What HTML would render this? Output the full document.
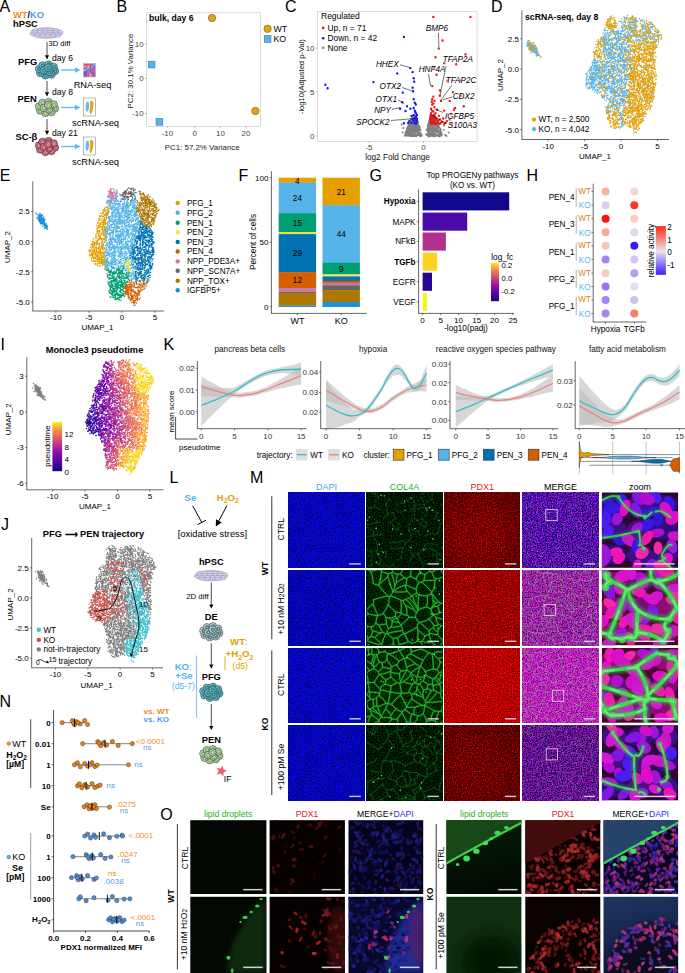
<!DOCTYPE html>
<html><head><meta charset="utf-8"><title>Figure</title>
<style>html,body{margin:0;padding:0;background:#fff}svg{display:block}text{font-family:"Liberation Sans", sans-serif}</style>
</head><body>
<svg width="685" height="973" viewBox="0 0 685 973" font-family='"Liberation Sans", sans-serif'>
<rect width="685" height="973" fill="#fff"/>
<defs>
<linearGradient id="plasmaV" x1="0" y1="0" x2="0" y2="1"><stop offset="0%" stop-color="#f0f921"/><stop offset="10%" stop-color="#fcb131"/><stop offset="20%" stop-color="#f2844b"/><stop offset="30%" stop-color="#e16462"/><stop offset="40%" stop-color="#cc4778"/><stop offset="50%" stop-color="#b12a90"/><stop offset="60%" stop-color="#9411a0"/><stop offset="70%" stop-color="#7805a6"/><stop offset="80%" stop-color="#5801a3"/><stop offset="90%" stop-color="#340497"/><stop offset="100%" stop-color="#0d0887"/></linearGradient>
<linearGradient id="rwb" x1="0" y1="0" x2="0" y2="1"><stop offset="0" stop-color="#ff2a14"/><stop offset="0.52" stop-color="#e8e4e8"/><stop offset="1" stop-color="#3c1cff"/></linearGradient>
<filter id="fd0" x="0" y="0" width="1" height="1" color-interpolation-filters="sRGB"><feTurbulence type="fractalNoise" baseFrequency="0.8" numOctaves="3" seed="3"/><feColorMatrix values="0 0 0 0 0.02  0 0 0 0 0.02  1.7 0 0 0 -0.13  0 0 0 0 1"/></filter><filter id="fd1" x="0" y="0" width="1" height="1" color-interpolation-filters="sRGB"><feTurbulence type="fractalNoise" baseFrequency="0.8" numOctaves="3" seed="4"/><feColorMatrix values="0 0 0 0 0.02  0 0 0 0 0.02  1.7 0 0 0 -0.15  0 0 0 0 1"/></filter><filter id="fd2" x="0" y="0" width="1" height="1" color-interpolation-filters="sRGB"><feTurbulence type="fractalNoise" baseFrequency="0.8" numOctaves="3" seed="5"/><feColorMatrix values="0 0 0 0 0.02  0 0 0 0 0.02  1.7 0 0 0 -0.12  0 0 0 0 1"/></filter><filter id="fd3" x="0" y="0" width="1" height="1" color-interpolation-filters="sRGB"><feTurbulence type="fractalNoise" baseFrequency="0.8" numOctaves="3" seed="6"/><feColorMatrix values="0 0 0 0 0.02  0 0 0 0 0.02  1.7 0 0 0 -0.14  0 0 0 0 1"/></filter><filter id="fp0" x="0" y="0" width="1" height="1" color-interpolation-filters="sRGB"><feTurbulence type="fractalNoise" baseFrequency="0.8" numOctaves="3" seed="13"/><feColorMatrix values="0 1.3 0 0 -0.16  0 0 0 0 0  0 0 0 0 0  0 0 0 0 1"/></filter><filter id="fp1" x="0" y="0" width="1" height="1" color-interpolation-filters="sRGB"><feTurbulence type="fractalNoise" baseFrequency="0.8" numOctaves="3" seed="14"/><feColorMatrix values="0 1.3 0 0 -0.04  0 0 0 0 0  0 0 0 0 0  0 0 0 0 1"/></filter><filter id="fp2" x="0" y="0" width="1" height="1" color-interpolation-filters="sRGB"><feTurbulence type="fractalNoise" baseFrequency="0.8" numOctaves="3" seed="15"/><feColorMatrix values="0 1.3 0 0 0.07  0 0 0 0 0  0 0 0 0 0  0 0 0 0 1"/></filter><filter id="fp3" x="0" y="0" width="1" height="1" color-interpolation-filters="sRGB"><feTurbulence type="fractalNoise" baseFrequency="0.8" numOctaves="3" seed="16"/><feColorMatrix values="0 1.3 0 0 -0.21  0 0 0 0 0  0 0 0 0 0  0 0 0 0 1"/></filter><filter id="fc0" x="0" y="0" width="1" height="1" color-interpolation-filters="sRGB"><feTurbulence type="fractalNoise" baseFrequency="0.8" numOctaves="3" seed="30"/><feColorMatrix values="0 0 0 0 0  0 0 0.6 0 -0.22  0 0 0 0 0.0  0 0 0 0 1"/></filter><filter id="fc1" x="0" y="0" width="1" height="1" color-interpolation-filters="sRGB"><feTurbulence type="fractalNoise" baseFrequency="0.8" numOctaves="3" seed="31"/><feColorMatrix values="0 0 0 0 0  0 0 0.6 0 -0.18  0 0 0 0 0.0  0 0 0 0 1"/></filter><filter id="fc2" x="0" y="0" width="1" height="1" color-interpolation-filters="sRGB"><feTurbulence type="fractalNoise" baseFrequency="0.8" numOctaves="3" seed="32"/><feColorMatrix values="0 0 0 0 0  0 0 0.6 0 -0.16  0 0 0 0 0.0  0 0 0 0 1"/></filter><filter id="fc3" x="0" y="0" width="1" height="1" color-interpolation-filters="sRGB"><feTurbulence type="fractalNoise" baseFrequency="0.8" numOctaves="3" seed="33"/><feColorMatrix values="0 0 0 0 0  0 0 0.6 0 -0.22  0 0 0 0 0.0  0 0 0 0 1"/></filter><filter id="fm0" x="0" y="0" width="1" height="1" color-interpolation-filters="sRGB"><feTurbulence type="fractalNoise" baseFrequency="0.8" numOctaves="3" seed="40"/><feColorMatrix values="1.3 0.7 0 0 -0.67  0.3 0 0 0 -0.09  1.3 0 0.7 0 -0.35  0 0 0 0 1"/></filter><filter id="fm1" x="0" y="0" width="1" height="1" color-interpolation-filters="sRGB"><feTurbulence type="fractalNoise" baseFrequency="0.8" numOctaves="3" seed="41"/><feColorMatrix values="1.3 0.7 0 0 -0.41  0.3 0 0 0 -0.02  1.3 0 0.7 0 -0.37  0 0 0 0 1"/></filter><filter id="fm2" x="0" y="0" width="1" height="1" color-interpolation-filters="sRGB"><feTurbulence type="fractalNoise" baseFrequency="0.8" numOctaves="3" seed="42"/><feColorMatrix values="1.3 0.7 0 0 -0.28  0.3 0 0 0 -0.04  1.3 0 0.7 0 -0.28  0 0 0 0 1"/></filter><filter id="fm3" x="0" y="0" width="1" height="1" color-interpolation-filters="sRGB"><feTurbulence type="fractalNoise" baseFrequency="0.8" numOctaves="3" seed="43"/><feColorMatrix values="1.3 0.7 0 0 -0.62  0.3 0 0 0 -0.09  1.3 0 0.7 0 -0.44  0 0 0 0 1"/></filter><filter id="bl1"><feGaussianBlur stdDeviation="0.7"/></filter><filter id="bl5" x="-0.2" y="-0.2" width="1.4" height="1.4"><feGaussianBlur stdDeviation="1.6"/></filter><filter id="bl2"><feGaussianBlur stdDeviation="0.7"/></filter><radialGradient id="vig" cx="0.45" cy="0.55" r="0.75"><stop offset="0.3" stop-color="#000" stop-opacity="0"/><stop offset="1" stop-color="#000" stop-opacity="0.9"/></radialGradient>
<filter id="bl0"><feGaussianBlur stdDeviation="0.5"/></filter><filter id="bl3" x="-0.3" y="-0.3" width="1.6" height="1.6"><feGaussianBlur stdDeviation="3"/></filter><filter id="bl4" x="-0.5" y="-0.5" width="2" height="2"><feGaussianBlur stdDeviation="8"/></filter><linearGradient id="gko1" x1="0" y1="0" x2="0.3" y2="1"><stop offset="0" stop-color="#08200a"/><stop offset="1" stop-color="#020b02"/></linearGradient><linearGradient id="gko2" x1="0" y1="0" x2="0.2" y2="1"><stop offset="0" stop-color="#1c3660"/><stop offset="0.6" stop-color="#16264e"/><stop offset="1" stop-color="#101838"/></linearGradient>
</defs>
<g><text x="-0.5" y="12" font-size="16">A</text><text x="13" y="18" font-size="9.3" font-weight="bold"><tspan fill="#f28c1a">WT</tspan><tspan fill="#000">/</tspan><tspan fill="#4f9df0">KO</tspan></text><text x="13" y="27.3" font-size="9.3" font-weight="bold">hPSC</text><ellipse cx="46.5" cy="33" rx="16.5" ry="5.4" fill="#cdc6e4" stroke="#8d86ab" stroke-width="0.4"/><ellipse cx="34.9" cy="29.8" rx="2.6" ry="1.1" fill="#dcd6ee" stroke="#7d76a0" stroke-width="0.35"/><ellipse cx="40.1" cy="29.8" rx="2.6" ry="1.1" fill="#dcd6ee" stroke="#7d76a0" stroke-width="0.35"/><ellipse cx="45.3" cy="29.8" rx="2.6" ry="1.1" fill="#dcd6ee" stroke="#7d76a0" stroke-width="0.35"/><ellipse cx="50.5" cy="29.8" rx="2.6" ry="1.1" fill="#dcd6ee" stroke="#7d76a0" stroke-width="0.35"/><ellipse cx="55.7" cy="29.8" rx="2.6" ry="1.1" fill="#dcd6ee" stroke="#7d76a0" stroke-width="0.35"/><ellipse cx="34.7" cy="31.9" rx="2.6" ry="1.1" fill="#dcd6ee" stroke="#7d76a0" stroke-width="0.35"/><ellipse cx="39.9" cy="31.9" rx="2.6" ry="1.1" fill="#dcd6ee" stroke="#7d76a0" stroke-width="0.35"/><ellipse cx="45.1" cy="31.9" rx="2.6" ry="1.1" fill="#dcd6ee" stroke="#7d76a0" stroke-width="0.35"/><ellipse cx="50.3" cy="31.9" rx="2.6" ry="1.1" fill="#dcd6ee" stroke="#7d76a0" stroke-width="0.35"/><ellipse cx="55.5" cy="31.9" rx="2.6" ry="1.1" fill="#dcd6ee" stroke="#7d76a0" stroke-width="0.35"/><ellipse cx="60.7" cy="31.9" rx="2.6" ry="1.1" fill="#dcd6ee" stroke="#7d76a0" stroke-width="0.35"/><ellipse cx="32.3" cy="34.1" rx="2.6" ry="1.1" fill="#dcd6ee" stroke="#7d76a0" stroke-width="0.35"/><ellipse cx="37.5" cy="34.1" rx="2.6" ry="1.1" fill="#dcd6ee" stroke="#7d76a0" stroke-width="0.35"/><ellipse cx="42.7" cy="34.1" rx="2.6" ry="1.1" fill="#dcd6ee" stroke="#7d76a0" stroke-width="0.35"/><ellipse cx="47.9" cy="34.1" rx="2.6" ry="1.1" fill="#dcd6ee" stroke="#7d76a0" stroke-width="0.35"/><ellipse cx="53.1" cy="34.1" rx="2.6" ry="1.1" fill="#dcd6ee" stroke="#7d76a0" stroke-width="0.35"/><ellipse cx="58.3" cy="34.1" rx="2.6" ry="1.1" fill="#dcd6ee" stroke="#7d76a0" stroke-width="0.35"/><ellipse cx="37.3" cy="36.2" rx="2.6" ry="1.1" fill="#dcd6ee" stroke="#7d76a0" stroke-width="0.35"/><ellipse cx="42.5" cy="36.2" rx="2.6" ry="1.1" fill="#dcd6ee" stroke="#7d76a0" stroke-width="0.35"/><ellipse cx="47.7" cy="36.2" rx="2.6" ry="1.1" fill="#dcd6ee" stroke="#7d76a0" stroke-width="0.35"/><ellipse cx="52.9" cy="36.2" rx="2.6" ry="1.1" fill="#dcd6ee" stroke="#7d76a0" stroke-width="0.35"/><ellipse cx="58.1" cy="36.2" rx="2.6" ry="1.1" fill="#dcd6ee" stroke="#7d76a0" stroke-width="0.35"/><line x1="47" y1="42" x2="47" y2="55.3" stroke="#000" stroke-width="0.7"/><path d="M47 59.5L44.9 55.3L49.1 55.3Z" fill="#000"/><text x="48.5" y="45.8" font-size="7.6">3D diff</text><text x="18" y="64.8" font-size="9.3" font-weight="bold">PFG</text><text x="52" y="60.8" font-size="8.6">day 6</text><circle cx="55" cy="71.1" r="3.7" fill="#62c0cd" stroke="#222" stroke-width="0.5"/><circle cx="55.3" cy="71.3" r="1.9" fill="#3a98a6" stroke="#222" stroke-width="0.3"/><circle cx="55.3" cy="71.3" r="0.7" fill="#62c0cd"/><circle cx="51.5" cy="74.6" r="3.7" fill="#62c0cd" stroke="#222" stroke-width="0.5"/><circle cx="51.8" cy="74.8" r="1.9" fill="#3a98a6" stroke="#222" stroke-width="0.3"/><circle cx="51.8" cy="74.8" r="0.7" fill="#62c0cd"/><circle cx="45.4" cy="75.5" r="3.7" fill="#62c0cd" stroke="#222" stroke-width="0.5"/><circle cx="45.7" cy="75.7" r="1.9" fill="#3a98a6" stroke="#222" stroke-width="0.3"/><circle cx="45.7" cy="75.7" r="0.7" fill="#62c0cd"/><circle cx="40.2" cy="73.1" r="3.7" fill="#62c0cd" stroke="#222" stroke-width="0.5"/><circle cx="40.5" cy="73.3" r="1.9" fill="#3a98a6" stroke="#222" stroke-width="0.3"/><circle cx="40.5" cy="73.3" r="0.7" fill="#62c0cd"/><circle cx="39" cy="68.9" r="3.7" fill="#62c0cd" stroke="#222" stroke-width="0.5"/><circle cx="39.3" cy="69.1" r="1.9" fill="#3a98a6" stroke="#222" stroke-width="0.3"/><circle cx="39.3" cy="69.1" r="0.7" fill="#62c0cd"/><circle cx="42.5" cy="65.4" r="3.7" fill="#62c0cd" stroke="#222" stroke-width="0.5"/><circle cx="42.8" cy="65.6" r="1.9" fill="#3a98a6" stroke="#222" stroke-width="0.3"/><circle cx="42.8" cy="65.6" r="0.7" fill="#62c0cd"/><circle cx="48.6" cy="64.5" r="3.7" fill="#62c0cd" stroke="#222" stroke-width="0.5"/><circle cx="48.9" cy="64.7" r="1.9" fill="#3a98a6" stroke="#222" stroke-width="0.3"/><circle cx="48.9" cy="64.7" r="0.7" fill="#62c0cd"/><circle cx="53.8" cy="66.9" r="3.7" fill="#62c0cd" stroke="#222" stroke-width="0.5"/><circle cx="54.1" cy="67.1" r="1.9" fill="#3a98a6" stroke="#222" stroke-width="0.3"/><circle cx="54.1" cy="67.1" r="0.7" fill="#62c0cd"/><circle cx="49" cy="71.9" r="3.7" fill="#62c0cd" stroke="#222" stroke-width="0.5"/><circle cx="49.3" cy="72.1" r="1.9" fill="#3a98a6" stroke="#222" stroke-width="0.3"/><circle cx="49.3" cy="72.1" r="0.7" fill="#62c0cd"/><circle cx="43.8" cy="70.4" r="3.7" fill="#62c0cd" stroke="#222" stroke-width="0.5"/><circle cx="44.1" cy="70.6" r="1.9" fill="#3a98a6" stroke="#222" stroke-width="0.3"/><circle cx="44.1" cy="70.6" r="0.7" fill="#62c0cd"/><circle cx="48.2" cy="67.7" r="3.7" fill="#62c0cd" stroke="#222" stroke-width="0.5"/><circle cx="48.5" cy="67.9" r="1.9" fill="#3a98a6" stroke="#222" stroke-width="0.3"/><circle cx="48.5" cy="67.9" r="0.7" fill="#62c0cd"/><line x1="61" y1="70" x2="75" y2="70" stroke="#5bbde8" stroke-width="1.3"/><path d="M80.5 70L75 72.8L75 67.2Z" fill="#5bbde8"/><rect x="83.5" y="63.5" width="12" height="13.5" fill="#f4a0a8" stroke="#888" stroke-width="0.4"/><rect x="84" y="64" width="1.9" height="1.8" fill="#e84a5a"/><rect x="84" y="65.8" width="1.9" height="1.8" fill="#f0b0c0"/><rect x="84" y="67.6" width="1.9" height="1.8" fill="#4a5ae0"/><rect x="84" y="69.4" width="1.9" height="1.8" fill="#f0b0c0"/><rect x="84" y="71.2" width="1.9" height="1.8" fill="#4a5ae0"/><rect x="84" y="73" width="1.9" height="1.8" fill="#4a5ae0"/><rect x="84" y="74.8" width="1.9" height="1.8" fill="#4a5ae0"/><rect x="85.8" y="64" width="1.9" height="1.8" fill="#e84a5a"/><rect x="85.8" y="65.8" width="1.9" height="1.8" fill="#e84a5a"/><rect x="85.8" y="67.6" width="1.9" height="1.8" fill="#8a9af0"/><rect x="85.8" y="69.4" width="1.9" height="1.8" fill="#5a6ae8"/><rect x="85.8" y="71.2" width="1.9" height="1.8" fill="#4a5ae0"/><rect x="85.8" y="73" width="1.9" height="1.8" fill="#e84a5a"/><rect x="85.8" y="74.8" width="1.9" height="1.8" fill="#5a6ae8"/><rect x="87.7" y="64" width="1.9" height="1.8" fill="#e84a5a"/><rect x="87.7" y="65.8" width="1.9" height="1.8" fill="#f0b0c0"/><rect x="87.7" y="67.6" width="1.9" height="1.8" fill="#8a9af0"/><rect x="87.7" y="69.4" width="1.9" height="1.8" fill="#5a6ae8"/><rect x="87.7" y="71.2" width="1.9" height="1.8" fill="#8a9af0"/><rect x="87.7" y="73" width="1.9" height="1.8" fill="#e84a5a"/><rect x="87.7" y="74.8" width="1.9" height="1.8" fill="#e84a5a"/><rect x="89.5" y="64" width="1.9" height="1.8" fill="#e84a5a"/><rect x="89.5" y="65.8" width="1.9" height="1.8" fill="#5a6ae8"/><rect x="89.5" y="67.6" width="1.9" height="1.8" fill="#e84a5a"/><rect x="89.5" y="69.4" width="1.9" height="1.8" fill="#4a5ae0"/><rect x="89.5" y="71.2" width="1.9" height="1.8" fill="#5a6ae8"/><rect x="89.5" y="73" width="1.9" height="1.8" fill="#8a9af0"/><rect x="89.5" y="74.8" width="1.9" height="1.8" fill="#f0b0c0"/><rect x="91.4" y="64" width="1.9" height="1.8" fill="#5a6ae8"/><rect x="91.4" y="65.8" width="1.9" height="1.8" fill="#8a9af0"/><rect x="91.4" y="67.6" width="1.9" height="1.8" fill="#5a6ae8"/><rect x="91.4" y="69.4" width="1.9" height="1.8" fill="#e84a5a"/><rect x="91.4" y="71.2" width="1.9" height="1.8" fill="#5a6ae8"/><rect x="91.4" y="73" width="1.9" height="1.8" fill="#e84a5a"/><rect x="91.4" y="74.8" width="1.9" height="1.8" fill="#e84a5a"/><rect x="93.2" y="64" width="1.9" height="1.8" fill="#8a9af0"/><rect x="93.2" y="65.8" width="1.9" height="1.8" fill="#5a6ae8"/><rect x="93.2" y="67.6" width="1.9" height="1.8" fill="#5a6ae8"/><rect x="93.2" y="69.4" width="1.9" height="1.8" fill="#e84a5a"/><rect x="93.2" y="71.2" width="1.9" height="1.8" fill="#e84a5a"/><rect x="93.2" y="73" width="1.9" height="1.8" fill="#5a6ae8"/><rect x="93.2" y="74.8" width="1.9" height="1.8" fill="#5a6ae8"/><text x="92.5" y="87.5" font-size="9.3" text-anchor="middle">RNA-seq</text><line x1="47" y1="81" x2="47" y2="92.3" stroke="#000" stroke-width="0.7"/><path d="M47 96.5L44.9 92.3L49.1 92.3Z" fill="#000"/><text x="52" y="94.6" font-size="8.6">day 8</text><text x="17.5" y="102" font-size="9.3" font-weight="bold">PEN</text><circle cx="55" cy="108.6" r="3.7" fill="#a6d9b2" stroke="#222" stroke-width="0.5"/><circle cx="55.3" cy="108.8" r="1.9" fill="#c9cf7a" stroke="#222" stroke-width="0.3"/><circle cx="55.3" cy="108.8" r="0.7" fill="#a6d9b2"/><circle cx="51.5" cy="112.1" r="3.7" fill="#a6d9b2" stroke="#222" stroke-width="0.5"/><circle cx="51.8" cy="112.3" r="1.9" fill="#c9cf7a" stroke="#222" stroke-width="0.3"/><circle cx="51.8" cy="112.3" r="0.7" fill="#a6d9b2"/><circle cx="45.4" cy="113" r="3.7" fill="#a6d9b2" stroke="#222" stroke-width="0.5"/><circle cx="45.7" cy="113.2" r="1.9" fill="#c9cf7a" stroke="#222" stroke-width="0.3"/><circle cx="45.7" cy="113.2" r="0.7" fill="#a6d9b2"/><circle cx="40.2" cy="110.6" r="3.7" fill="#a6d9b2" stroke="#222" stroke-width="0.5"/><circle cx="40.5" cy="110.8" r="1.9" fill="#c9cf7a" stroke="#222" stroke-width="0.3"/><circle cx="40.5" cy="110.8" r="0.7" fill="#a6d9b2"/><circle cx="39" cy="106.4" r="3.7" fill="#a6d9b2" stroke="#222" stroke-width="0.5"/><circle cx="39.3" cy="106.6" r="1.9" fill="#c9cf7a" stroke="#222" stroke-width="0.3"/><circle cx="39.3" cy="106.6" r="0.7" fill="#a6d9b2"/><circle cx="42.5" cy="102.9" r="3.7" fill="#a6d9b2" stroke="#222" stroke-width="0.5"/><circle cx="42.8" cy="103.1" r="1.9" fill="#c9cf7a" stroke="#222" stroke-width="0.3"/><circle cx="42.8" cy="103.1" r="0.7" fill="#a6d9b2"/><circle cx="48.6" cy="102" r="3.7" fill="#a6d9b2" stroke="#222" stroke-width="0.5"/><circle cx="48.9" cy="102.2" r="1.9" fill="#c9cf7a" stroke="#222" stroke-width="0.3"/><circle cx="48.9" cy="102.2" r="0.7" fill="#a6d9b2"/><circle cx="53.8" cy="104.4" r="3.7" fill="#a6d9b2" stroke="#222" stroke-width="0.5"/><circle cx="54.1" cy="104.6" r="1.9" fill="#c9cf7a" stroke="#222" stroke-width="0.3"/><circle cx="54.1" cy="104.6" r="0.7" fill="#a6d9b2"/><circle cx="49" cy="109.4" r="3.7" fill="#a6d9b2" stroke="#222" stroke-width="0.5"/><circle cx="49.3" cy="109.6" r="1.9" fill="#c9cf7a" stroke="#222" stroke-width="0.3"/><circle cx="49.3" cy="109.6" r="0.7" fill="#a6d9b2"/><circle cx="43.8" cy="107.9" r="3.7" fill="#a6d9b2" stroke="#222" stroke-width="0.5"/><circle cx="44.1" cy="108.1" r="1.9" fill="#c9cf7a" stroke="#222" stroke-width="0.3"/><circle cx="44.1" cy="108.1" r="0.7" fill="#a6d9b2"/><circle cx="48.2" cy="105.2" r="3.7" fill="#a6d9b2" stroke="#222" stroke-width="0.5"/><circle cx="48.5" cy="105.4" r="1.9" fill="#c9cf7a" stroke="#222" stroke-width="0.3"/><circle cx="48.5" cy="105.4" r="0.7" fill="#a6d9b2"/><line x1="61" y1="107.5" x2="75" y2="107.5" stroke="#5bbde8" stroke-width="1.3"/><path d="M80.5 107.5L75 110.2L75 104.8Z" fill="#5bbde8"/><rect x="83.5" y="98" width="12" height="18" fill="#fff" stroke="#777" stroke-width="0.5"/><path d="M86 103 q2 -3 3 0 q1 4 -1 8 q-2 2 -2.5 -2z" fill="#6bbce8"/><path d="M90 101.5 q3 -2 3.5 2 q0 6 -2 10 q-2 2 -2 -3 q1 -4 0.5 -9z" fill="#e3a62a"/><text x="95.5" y="125.6" font-size="9.3" text-anchor="middle">scRNA-seq</text><line x1="47" y1="119" x2="47" y2="130.8" stroke="#000" stroke-width="0.7"/><path d="M47 135L44.9 130.8L49.1 130.8Z" fill="#000"/><text x="52" y="135.6" font-size="8.6">day 21</text><text x="15.5" y="140" font-size="9.3" font-weight="bold">SC-β</text><circle cx="55" cy="147.6" r="3.7" fill="#d6677f" stroke="#222" stroke-width="0.5"/><circle cx="55.3" cy="147.8" r="1.9" fill="#e899a8" stroke="#222" stroke-width="0.3"/><circle cx="55.3" cy="147.8" r="0.7" fill="#d6677f"/><circle cx="51.5" cy="151.1" r="3.7" fill="#d6677f" stroke="#222" stroke-width="0.5"/><circle cx="51.8" cy="151.3" r="1.9" fill="#e899a8" stroke="#222" stroke-width="0.3"/><circle cx="51.8" cy="151.3" r="0.7" fill="#d6677f"/><circle cx="45.4" cy="152" r="3.7" fill="#d6677f" stroke="#222" stroke-width="0.5"/><circle cx="45.7" cy="152.2" r="1.9" fill="#e899a8" stroke="#222" stroke-width="0.3"/><circle cx="45.7" cy="152.2" r="0.7" fill="#d6677f"/><circle cx="40.2" cy="149.6" r="3.7" fill="#d6677f" stroke="#222" stroke-width="0.5"/><circle cx="40.5" cy="149.8" r="1.9" fill="#e899a8" stroke="#222" stroke-width="0.3"/><circle cx="40.5" cy="149.8" r="0.7" fill="#d6677f"/><circle cx="39" cy="145.4" r="3.7" fill="#d6677f" stroke="#222" stroke-width="0.5"/><circle cx="39.3" cy="145.6" r="1.9" fill="#e899a8" stroke="#222" stroke-width="0.3"/><circle cx="39.3" cy="145.6" r="0.7" fill="#d6677f"/><circle cx="42.5" cy="141.9" r="3.7" fill="#d6677f" stroke="#222" stroke-width="0.5"/><circle cx="42.8" cy="142.1" r="1.9" fill="#e899a8" stroke="#222" stroke-width="0.3"/><circle cx="42.8" cy="142.1" r="0.7" fill="#d6677f"/><circle cx="48.6" cy="141" r="3.7" fill="#d6677f" stroke="#222" stroke-width="0.5"/><circle cx="48.9" cy="141.2" r="1.9" fill="#e899a8" stroke="#222" stroke-width="0.3"/><circle cx="48.9" cy="141.2" r="0.7" fill="#d6677f"/><circle cx="53.8" cy="143.4" r="3.7" fill="#d6677f" stroke="#222" stroke-width="0.5"/><circle cx="54.1" cy="143.6" r="1.9" fill="#e899a8" stroke="#222" stroke-width="0.3"/><circle cx="54.1" cy="143.6" r="0.7" fill="#d6677f"/><circle cx="49" cy="148.4" r="3.7" fill="#d6677f" stroke="#222" stroke-width="0.5"/><circle cx="49.3" cy="148.6" r="1.9" fill="#e899a8" stroke="#222" stroke-width="0.3"/><circle cx="49.3" cy="148.6" r="0.7" fill="#d6677f"/><circle cx="43.8" cy="146.9" r="3.7" fill="#d6677f" stroke="#222" stroke-width="0.5"/><circle cx="44.1" cy="147.1" r="1.9" fill="#e899a8" stroke="#222" stroke-width="0.3"/><circle cx="44.1" cy="147.1" r="0.7" fill="#d6677f"/><circle cx="48.2" cy="144.2" r="3.7" fill="#d6677f" stroke="#222" stroke-width="0.5"/><circle cx="48.5" cy="144.4" r="1.9" fill="#e899a8" stroke="#222" stroke-width="0.3"/><circle cx="48.5" cy="144.4" r="0.7" fill="#d6677f"/><line x1="61" y1="146.5" x2="75" y2="146.5" stroke="#5bbde8" stroke-width="1.3"/><path d="M80.5 146.5L75 149.2L75 143.8Z" fill="#5bbde8"/><rect x="83.5" y="137" width="12" height="18" fill="#fff" stroke="#777" stroke-width="0.5"/><path d="M86 142 q2 -3 3 0 q1 4 -1 8 q-2 2 -2.5 -2z" fill="#6bbce8"/><path d="M90 140.5 q3 -2 3.5 2 q0 6 -2 10 q-2 2 -2 -3 q1 -4 0.5 -9z" fill="#e3a62a"/><text x="95.5" y="164.8" font-size="9.3" text-anchor="middle">scRNA-seq</text></g>
<g><text x="116.5" y="12" font-size="16">B</text><rect x="146.6" y="12.8" width="114" height="113.7" fill="#fff" stroke="#c4c4c4" stroke-width="0.6"/><text x="149" y="21.3" font-size="8.6" font-weight="bold">bulk, day 6</text><text x="143.6" y="46.6" font-size="7.9" text-anchor="end" fill="#444">10</text><line x1="145" y1="43.8" x2="146.6" y2="43.8" stroke="#555" stroke-width="0.4"/><text x="143.6" y="81.3" font-size="7.9" text-anchor="end" fill="#444">0</text><line x1="145" y1="78.5" x2="146.6" y2="78.5" stroke="#555" stroke-width="0.4"/><text x="143.6" y="116.3" font-size="7.9" text-anchor="end" fill="#444">-10</text><line x1="145" y1="113.5" x2="146.6" y2="113.5" stroke="#555" stroke-width="0.4"/><text x="167.4" y="135.6" font-size="7.9" text-anchor="middle" fill="#444">-10</text><line x1="167.4" y1="126.5" x2="167.4" y2="128" stroke="#555" stroke-width="0.4"/><text x="194.6" y="135.6" font-size="7.9" text-anchor="middle" fill="#444">0</text><line x1="194.6" y1="126.5" x2="194.6" y2="128" stroke="#555" stroke-width="0.4"/><text x="220.4" y="135.6" font-size="7.9" text-anchor="middle" fill="#444">10</text><line x1="220.4" y1="126.5" x2="220.4" y2="128" stroke="#555" stroke-width="0.4"/><text x="246" y="135.6" font-size="7.9" text-anchor="middle" fill="#444">20</text><line x1="246" y1="126.5" x2="246" y2="128" stroke="#555" stroke-width="0.4"/><text x="202.2" y="149.8" font-size="7.9" text-anchor="middle" fill="#222">PC1: 57.2% Variance</text><text x="132.8" y="71" font-size="7.9" text-anchor="middle" fill="#222" transform="rotate(-90 132.8 71)">PC2: 30.1% Variance</text><circle cx="212" cy="18" r="3.7" fill="#e3a21a" stroke="#6b4a08" stroke-width="0.5"/><circle cx="255.4" cy="111" r="3.7" fill="#e3a21a" stroke="#6b4a08" stroke-width="0.5"/><rect x="148.2" y="61.2" width="6.8" height="6.8" fill="#56b4e9" stroke="#2c6f99" stroke-width="0.5"/><rect x="156" y="118.4" width="6.8" height="6.8" fill="#56b4e9" stroke="#2c6f99" stroke-width="0.5"/><circle cx="267.6" cy="28.8" r="3.7" fill="#e3a21a" stroke="#6b4a08" stroke-width="0.5"/><text x="273.5" y="32" font-size="8.8">WT</text><rect x="264.2" y="35.6" width="6.8" height="6.8" fill="#56b4e9" stroke="#2c6f99" stroke-width="0.5"/><text x="273.5" y="42.2" font-size="8.8">KO</text></g>
<g><text x="285" y="12" font-size="16">C</text><rect x="317.4" y="11.6" width="159.7" height="130" fill="#fff" stroke="#c4c4c4" stroke-width="0.6"/><text x="314.5" y="51.2" font-size="7.9" text-anchor="end" fill="#444">10</text><line x1="316" y1="48.4" x2="317.4" y2="48.4" stroke="#555" stroke-width="0.4"/><text x="314.5" y="94.8" font-size="7.9" text-anchor="end" fill="#444">5</text><line x1="316" y1="92" x2="317.4" y2="92" stroke="#555" stroke-width="0.4"/><text x="314.5" y="138.8" font-size="7.9" text-anchor="end" fill="#444">0</text><line x1="316" y1="136" x2="317.4" y2="136" stroke="#555" stroke-width="0.4"/><text x="368.9" y="150.3" font-size="7.9" text-anchor="middle" fill="#444">-5</text><line x1="368.9" y1="141.6" x2="368.9" y2="143" stroke="#555" stroke-width="0.4"/><text x="423.5" y="150.3" font-size="7.9" text-anchor="middle" fill="#444">0</text><line x1="423.5" y1="141.6" x2="423.5" y2="143" stroke="#555" stroke-width="0.4"/><text x="397.5" y="160" font-size="8.2" text-anchor="middle" fill="#111">log2 Fold Change</text><text x="304.2" y="76.6" font-size="7.6" text-anchor="middle" fill="#111" transform="rotate(-90 304.2 76.6)">-log10(Adjusted p-Val)</text><path d="M411.1 124.1h0M407.6 129.1h0M410.1 136.1h0M411.3 130.6h0M416.3 130.9h0M415.2 134.7h0M407.3 128.4h0M408.5 130.5h0M407.8 135h0M411.4 118.8h0M408.5 126.3h0M412.2 129.9h0M412.1 126.9h0M412.2 130.2h0M415.5 134.7h0M413.4 122h0M418.5 125.5h0M411.1 132.7h0M413.7 131.9h0M420.4 133.9h0M413.2 119.5h0M414 116.6h0M410.8 119.1h0M406.6 130.9h0M421.4 135h0M410.8 127.6h0M409.4 135.6h0M413.9 136.2h0M415.7 120.1h0M411.8 132.4h0M416.7 120.4h0M411.7 126.1h0M409.2 124.5h0M414.7 132.4h0M412.3 126.5h0M406.8 135.7h0M416 117.4h0M421.7 135.8h0M409.4 135.3h0M414.6 128.1h0M409 125.5h0M409.4 132.9h0M412.6 123.8h0M415.3 118.9h0M416.1 127.3h0M412.1 115.9h0M414.4 125h0M408.9 126h0M411.4 121.6h0M411.5 131h0M417.8 121.5h0M408.7 124.1h0M413.7 131.7h0M418.6 126.5h0M411.9 121.2h0M413.3 118.9h0M414.1 134.1h0M411.3 134.7h0M408 135.5h0M411.1 131.5h0M416.7 125.2h0M411 125.5h0M411.5 132.5h0M417.3 125.1h0M414 126.8h0M405.9 131.7h0M418.6 134.1h0M410.2 125.1h0M410.5 124.5h0M418.2 129.6h0M415 119.2h0M415.5 136.1h0M413.5 135.4h0M411.9 135.2h0M418 129.9h0M405.4 135h0M414.5 126.2h0M418.5 124.9h0M412.1 128.2h0M406.8 133.6h0M420.5 130.2h0M416.6 123.2h0M407 134.4h0M412.2 120.5h0M407.1 129.1h0M415 133h0M418.3 133.6h0M416.3 126.8h0M413.6 127.7h0M418.2 127.7h0M419.4 127.1h0M411.5 122.9h0M407.2 134.5h0M412.5 118h0M419.4 128.3h0M420.4 132.9h0M418.6 132.4h0M411.9 126.2h0M405.3 133.8h0M411.1 131.2h0M413.1 119.2h0M411.1 129.7h0M416.1 123.2h0M410.1 132.7h0M416.5 130.2h0M414.3 123.6h0M407.1 129.9h0M416.1 129h0M406.9 129.1h0M408 126.9h0M415.6 128.3h0M413.9 131.6h0M409.4 134.2h0M410.9 126.7h0M407.4 131h0M410 133.4h0M419.8 134.7h0M419 128.5h0M420.1 136.1h0M417.3 120.8h0M408.1 127.3h0M417.7 124.4h0M407.1 130.5h0M418.1 125.3h0M413.3 122.6h0M411.7 125.2h0M409.5 127.1h0M416.5 135.1h0M408.8 125.7h0M415.9 126.9h0M413.1 134.8h0M412.6 118.5h0M413.5 129.2h0M416.6 134.9h0M419.5 127.8h0M416 124.4h0M411.8 121.2h0M405.8 133.9h0M421.3 134.5h0M412.6 129h0M411 130.8h0M412.9 129.2h0M414.7 121h0M413.7 117.1h0M407.3 129.6h0M414.8 123.2h0M413.1 124.7h0M412.6 122.5h0M410.9 132.8h0M414.2 117.2h0M409.6 128.9h0M414.3 122.3h0M410.6 130.3h0M418.2 131.2h0M419.3 129.3h0M420.5 134.6h0M412.9 130.3h0M418.2 128.3h0M412.3 128.1h0M411.1 123.2h0M410.3 131.5h0M412.3 125.2h0M416 125.7h0M418.9 134.7h0M414.7 136h0M411 130.1h0M418 132.7h0M416.5 127.2h0M419.3 130.7h0M416.1 126.2h0M409.7 131.5h0M414.9 119.3h0M419.8 127.1h0M415.3 128.1h0M412.3 135.5h0M412.4 119.8h0M416.8 124.5h0M414.9 132.6h0M410.4 120.4h0M413.3 134.2h0M417.3 126.3h0M409.8 122.4h0M419.2 127.7h0M416.7 130.3h0M414.2 120.3h0M411.2 125.1h0M418.1 122.6h0M414.7 116.5h0M409.2 124.2h0M416 127.8h0M411.4 130.9h0M419.3 130.7h0M416.2 119.2h0M410.1 121.5h0M418.4 129.6h0M413.2 130.4h0M416.6 132.2h0M406.4 134.8h0M408.3 125.6h0M413.8 124.2h0M408.8 127.4h0M411.1 136.1h0M408.5 135.4h0M415.1 118.8h0M416.8 135.8h0M418.5 129h0M415 127h0M410.8 133.9h0M416.6 136h0M412.8 124.8h0M418.2 130.2h0M405.9 134.9h0M407 132h0M408.5 134.6h0M416 124h0M419.1 127.5h0M417.8 129.7h0M407.6 128.4h0M408 133h0M417.6 126.1h0M419.7 128.7h0M416.5 118.3h0M412.5 126.6h0M414.6 120.1h0M411.1 127.8h0M419 130.9h0M413.7 117h0M414.9 120.9h0M413.4 117.2h0M418.2 134h0M408.5 132.1h0M412 121.3h0M411.6 120.3h0M420.8 136.1h0M417.2 128.8h0M411 133.4h0M408.9 133.6h0M417.9 131.7h0M416.1 126.6h0M413.1 122.5h0M415.1 115.9h0M421.5 134.9h0M420.3 129.7h0M415.4 119.7h0M420 133.3h0M407.3 127.7h0M412.1 127.5h0M409.5 126.9h0M410.4 120.8h0M413.8 116.9h0M408.6 125.1h0M415.7 124.2h0M409 134.3h0M420.1 135.1h0M412.4 125.6h0M420.1 136.2h0M410 123.6h0M407 130.2h0M416.8 124.7h0M419.4 129.2h0M418.3 126.1h0M412.6 134h0M418.5 128.9h0M418.4 129.2h0M416.2 124.5h0M406 134.2h0M413.8 129.9h0M415.1 120.1h0M408.5 128.7h0M408.3 133.6h0M412.2 126.4h0M410.4 122.3h0M411.8 128.1h0M410.3 128h0M414.1 118.8h0M415.9 116h0M416.9 132.8h0M411.7 123.6h0M413.7 135.9h0M415.4 130.3h0M409 124.8h0M414.6 129.6h0M414.8 124.2h0M413 125.5h0M409.2 129.2h0M417.1 119.5h0M404.8 135.7h0M417 128.1h0M414.2 122.3h0M410.8 132.8h0M413.8 124.9h0M413.2 120.7h0M414.1 123.8h0M411.1 130.8h0M415.7 128.5h0M413.5 131.2h0M418.4 127.9h0M419.1 133.2h0M418.8 129.5h0M418.8 134.9h0M418.5 133.5h0M406.7 132h0M417.5 135.3h0M415.9 132h0M412.6 134.6h0M416 118.1h0M410.2 128.5h0M405.9 132.5h0M412.2 136h0M412.5 117.2h0M416.3 127.8h0M415.2 132.3h0M417.5 123h0M414.4 122.6h0M421.3 134.4h0M415.3 116.2h0M411.6 131.3h0M411.2 119.7h0M419 127.9h0M416.3 129.9h0M411.2 120.8h0M417 129.7h0M411.7 122.4h0M413.3 128.5h0M406.6 135.2h0M417.8 123.7h0M413.1 125h0M409.8 123.2h0M414.6 119.1h0M420.9 133.9h0M438.7 135.1h0M431.1 125.9h0M430.6 121.6h0M431.7 125.6h0M428.4 126.5h0M438.4 125.5h0M433 129.3h0M429.6 120.3h0M434 130.2h0M428 131.1h0M431.8 118.1h0M433.2 122.5h0M434.5 128.6h0M431 119.8h0M436.4 127.3h0M435 118.6h0M431.2 135.8h0M431.3 128.3h0M438.3 131.2h0M431.6 131.2h0M430.1 119.7h0M437.1 125.1h0M431 124.4h0M434.8 114.9h0M435.1 121.5h0M430.7 119.8h0M433.1 125.5h0M437.7 124h0M429 133.8h0M429.6 131.3h0M428.9 130.1h0M435.8 119h0M433.6 135.1h0M436.4 132h0M440.6 135.4h0M436.2 130.4h0M431.9 132h0M428.5 127.2h0M432 124.6h0M433.7 119h0M438.3 127.3h0M437.1 121.9h0M439.8 135.5h0M428 131.8h0M440.8 133.3h0M439.5 135.5h0M433.3 117.5h0M432.9 115.6h0M434.5 134.9h0M428.6 129.7h0M431.1 131.9h0M437.2 131.7h0M428.9 134.9h0M432 130.8h0M433 125.3h0M430.8 132.8h0M432.6 122.7h0M436.2 120h0M429.1 135.8h0M430.2 118.9h0M428.7 125.2h0M430.5 132.8h0M438.6 124.8h0M427.6 135.2h0M429.5 125.1h0M433.1 118.1h0M431.2 118.9h0M436.3 124.5h0M429.2 127.7h0M434.1 121.8h0M430.4 116.1h0M440 129.1h0M438.9 134.4h0M432.5 135.7h0M435 121.9h0M427.4 128.7h0M437.9 122.6h0M433.6 120.9h0M430.1 132.6h0M430.9 122.7h0M434.8 116.6h0M434.4 128.4h0M434 122.2h0M430.1 126.5h0M430.4 133.9h0M436.7 127.3h0M433.5 116.7h0M440.7 131.4h0M432.1 117.7h0M431.8 128.6h0M436.8 127.2h0M434.9 134.4h0M434.1 118.7h0M435 130.1h0M440.7 132.3h0M435.5 133.5h0M436.8 120h0M437.8 124.2h0M436 134.7h0M430.3 128.4h0M438.4 127.8h0M434.7 123h0M433.4 124.3h0M435 116.3h0M430.3 125.3h0M437.6 135.2h0M433.4 121.6h0M432.7 115.3h0M434.4 129.8h0M432.6 135h0M427.7 128h0M436.9 135.4h0M434.7 114.8h0M432 125.1h0M433.2 118h0M426.1 134.6h0M432.6 116.3h0M436.8 135.4h0M430.4 120.4h0M431.1 127.6h0M429 134.8h0M435.4 125.3h0M430.6 123.2h0M428 127.9h0M429.9 135.1h0M430.1 121.8h0M437.7 121.7h0M436.5 121.4h0M439.1 126.9h0M431 134.1h0M435.9 117.9h0M431.4 122.1h0M433.2 116.2h0M441.1 133.4h0M432 123.7h0M436 124.5h0M431.3 135.5h0M430.5 133.6h0M432.2 119.5h0M427 134.9h0M438.2 135.2h0M431.4 130.8h0M430.8 116.4h0M432.4 130.5h0M429.7 134.1h0M435 136.4h0M431.1 131.1h0M440.8 131.4h0M435.3 116.5h0M430.6 117h0M435.5 131.2h0M433.9 125h0M436 118.6h0M437.4 125.4h0M434.8 122.7h0M436.3 121.7h0M437.9 123.1h0M436.8 122.3h0M429.2 121.2h0M440.4 131.5h0M438.1 132.7h0M426.7 130.2h0M429.3 129h0M427.8 130.6h0M432.1 131h0M430.5 123h0M429.1 122h0M428.4 124.9h0M427.9 129.3h0M434 129.5h0M432.7 119.1h0M432.1 121.6h0M434.6 125.9h0M433 121.9h0M428.8 123.2h0M430.1 122.9h0M431.5 126.1h0M438.7 132.2h0M431.8 132.3h0M428.9 125.4h0M435 122h0M427.4 129.9h0M427.5 129.9h0M428.2 125h0M435.1 117.1h0M436 129.8h0M437.4 122.2h0M435.5 129.9h0M426.9 134.2h0M434 125.7h0M431.5 116.2h0M434.7 130.5h0M434.5 133.9h0M434 124.6h0M430.9 128.8h0M432.6 130.3h0M430.7 126.2h0M434.6 123.2h0M432.9 132.7h0M428.6 133.6h0M429.9 135.3h0M434 134.8h0M434 130.8h0M428.8 122.9h0M429.2 126.5h0M436.9 123.6h0M431 123.1h0M429.8 130.5h0M427.7 126.1h0M431.2 115.1h0M434 116.9h0M429.4 128.9h0M436.4 126.4h0M441.2 133.1h0M434.9 129.7h0M432.2 122.7h0M438.2 132.1h0M430.5 135.3h0M430.7 132.1h0M432.6 132.7h0M427.1 134.8h0M428.3 136.3h0M433.5 134.6h0M436.9 121.2h0M440.8 134.5h0M430.3 134.2h0M433.6 132.6h0M434.7 124.2h0M434.5 123.9h0M438.3 123.3h0M430.6 133.9h0M432 132.4h0M433.5 135.8h0M437.7 124.2h0M431 134.5h0M428 124.6h0M435.1 124h0M436.5 120.8h0M429.2 120.4h0M432.9 129h0M433.2 122h0M432.6 133.8h0M437.3 121.3h0M431.4 131.5h0M433.3 136.2h0M441.4 135.6h0M433.8 130h0M426.1 134.4h0M432.9 120.8h0M438.3 128.1h0M433.7 132.4h0M430 125.9h0M433.5 116.3h0M434.7 134.9h0M432.8 117.2h0M428.5 133.3h0M429.4 127.1h0M434.3 125.5h0M441.9 134.5h0M434.4 124.2h0M434.6 121.2h0M441.3 135.3h0M433.7 133.6h0M431.2 127.5h0M428.2 131.7h0M431.5 135.2h0M436.9 125.6h0M428.5 134.1h0M439.7 131.1h0M427.6 130.7h0M437.4 131.3h0M441.5 132.9h0M434.4 128h0M432.9 128h0M435.6 122h0M431.1 118.6h0M428.8 136.4h0M430.1 117h0M440.1 134.2h0M430.8 116.8h0M434.3 118.7h0M440.8 135h0M441.3 132.8h0M434.8 122.9h0M429.8 135.2h0M432.3 134.2h0M438.7 133.4h0M432 133.6h0M428.2 133.3h0M440.3 128.4h0M432.8 127.6h0M432.3 134.4h0M436.6 119.9h0M438.7 133.2h0M432.8 127.9h0M428.8 131h0M427.9 135.5h0M435.1 118.6h0M429.9 135.9h0M440.6 129.3h0M434.2 123.4h0M434.9 119.1h0M431.6 131.2h0M434.5 119.3h0M435.8 134.2h0M432.2 119.4h0M432.8 134.2h0M428.8 126.1h0M430.9 121.7h0M435 128.8h0M431.9 128.2h0M432.5 127.9h0M428.3 134h0M427.9 125.3h0M437.8 129.9h0M437.2 130h0M428.6 128.2h0M429.6 121.3h0M439.6 136.4h0M435.2 129.4h0M432.5 122h0M429.6 135.7h0M431.2 124.8h0M428.3 127h0M434.5 120.3h0M433 131.5h0M438.4 136.1h0M437 128.8h0M433.8 117.5h0M431.4 126.3h0M445.3 135.1h0M448.6 132.5h0M444.2 125.5h0M402.8 132.5h0M446.4 136h0M445.3 122.9h0M443.7 129.9h0M403.3 128.1h0M401.7 124.6h0" stroke="#7f7f7f" stroke-width="2.0" stroke-linecap="round" fill="none"/><path d="M433.3 16.9h0M470.4 16.9h0M442.6 40.5h0M438.8 48.4h0M465.5 54.5h0M435.5 57.2h0M444.2 63.3h0M456.2 64.2h0M434.4 67.7h0M436.6 74.7h0M447.5 80.8h0M460.6 80.8h0M432.2 86.1h0M439.9 90.4h0M452.9 92.2h0M460.6 95.7h0M439.9 95.7h0M433.3 96.6h0M432.2 99.2h0M434.4 101h0M440.9 101h0M449.7 101h0M455.1 108h0M463.8 106.2h0M432.2 104.5h0M434.4 107.1h0M431.1 108.8h0M454 109.7h0M444.2 110.6h0M433.3 111.5h0M450.8 114.1h0M466 115.9h0M432.2 115.9h0M431.1 116.7h0M434.4 117.6h0M436.6 118.5h0M439.9 119.4h0M432.2 119.4h0M449.7 119.4h0M434.4 121.1h0M437.7 122h0M431.1 122h0M442 122h0M445.3 122.9h0M433.3 122.9h0M436.6 123.7h0M432.2 123.7h0M451.8 123.7h0M439.9 123.7h0M431.1 113.2h0M431.7 101.8h0M432.8 118.5h0M433.9 115h0M435.5 113.2h0M430.6 120.2h0M438.8 115.9h0M443.1 118.5h0M431.1 123.7h0M434.9 123.3h0M435.5 119.4h0M432 110.6h0M433.5 103.6h0M437.1 109.7h0M438.2 120.7h0M430 118.5h0M430.3 122.9h0M433.1 121.8h0M440.4 122.9h0M444.2 123.7h0M446.9 121.1h0M430.7 115h0" stroke="#f01414" stroke-width="2.4" stroke-linecap="round" fill="none"/><path d="M403.9 37h0M325.4 84.8h0M327.6 88.3h0M373.4 82.1h0M397.3 73.4h0M410.4 68.1h0M412.6 72.1h0M413.7 78.2h0M414.2 81.7h0M399.5 86.1h0M412.6 87.8h0M413.1 91.3h0M402.8 92.6h0M413.7 99.2h0M402.2 102.3h0M414.8 102.7h0M415.9 104.5h0M407.1 106.2h0M400.1 108.8h0M413.7 108h0M410.4 108.8h0M414.8 110.6h0M405.5 111h0M415.9 113.2h0M413.7 115h0M411.5 115.9h0M415.9 116.7h0M417 118.5h0M414.8 118.5h0M412.6 119.4h0M415.9 120.2h0M417 121.1h0M413.7 121.1h0M409.3 121.1h0M416.4 122.9h0M414.8 122.9h0M411.5 122.9h0M408.2 122.9h0M403.9 123.3h0M415.9 123.7h0M417 115h0M415.3 111.9h0" stroke="#1a1af0" stroke-width="2.4" stroke-linecap="round" fill="none"/><text x="321" y="19.3" font-size="8.5">Regulated</text><circle cx="323.2" cy="27.9" r="1.3" fill="#f01414"/><text x="327.5" y="30.6" font-size="8.4">Up, n = 71</text><circle cx="323.2" cy="38.3" r="1.3" fill="#1a1af0"/><text x="327.5" y="41" font-size="8.4">Down, n = 42</text><circle cx="323.2" cy="47.8" r="1.3" fill="#808080"/><text x="327.5" y="50.5" font-size="8.4">None</text><line x1="438.5" y1="33" x2="438.8" y2="47" stroke="#000" stroke-width="0.55"/><line x1="400" y1="64.8" x2="410" y2="67.5" stroke="#000" stroke-width="0.55"/><line x1="428.5" y1="74" x2="430.5" y2="86" stroke="#000" stroke-width="0.55"/><line x1="446" y1="66" x2="440" y2="95" stroke="#000" stroke-width="0.55"/><line x1="452" y1="85" x2="441" y2="100" stroke="#000" stroke-width="0.55"/><line x1="452.5" y1="97" x2="443" y2="99.5" stroke="#000" stroke-width="0.55"/><line x1="402" y1="87.5" x2="412.5" y2="91" stroke="#000" stroke-width="0.55"/><line x1="398" y1="100" x2="404" y2="103.5" stroke="#000" stroke-width="0.55"/><line x1="392" y1="109.3" x2="400.5" y2="107.5" stroke="#000" stroke-width="0.55"/><line x1="391" y1="120.5" x2="415" y2="118.5" stroke="#000" stroke-width="0.55"/><line x1="443" y1="112.5" x2="434" y2="108.5" stroke="#000" stroke-width="0.55"/><line x1="446.5" y1="123.5" x2="432" y2="115.5" stroke="#000" stroke-width="0.55"/><text x="448" y="31.4" font-size="8.2" text-anchor="end" font-style="italic" stroke="#fff" stroke-width="1.2" paint-order="stroke" stroke-opacity="0.7">BMP6</text><text x="398.7" y="67.2" font-size="8.2" text-anchor="end" font-style="italic" stroke="#fff" stroke-width="1.2" paint-order="stroke" stroke-opacity="0.7">HHEX</text><text x="445.5" y="72.1" font-size="8.2" text-anchor="end" font-style="italic" stroke="#fff" stroke-width="1.2" paint-order="stroke" stroke-opacity="0.7">HNF4A</text><text x="473" y="62.4" font-size="8.2" text-anchor="end" font-style="italic" stroke="#fff" stroke-width="1.2" paint-order="stroke" stroke-opacity="0.7">TFAP2A</text><text x="476.5" y="82.9" font-size="8.2" text-anchor="end" font-style="italic" stroke="#fff" stroke-width="1.2" paint-order="stroke" stroke-opacity="0.7">TFAP2C</text><text x="474.5" y="99.2" font-size="8.2" text-anchor="end" font-style="italic" stroke="#fff" stroke-width="1.2" paint-order="stroke" stroke-opacity="0.7">CDX2</text><text x="401" y="89.2" font-size="8.2" text-anchor="end" font-style="italic" stroke="#fff" stroke-width="1.2" paint-order="stroke" stroke-opacity="0.7">OTX2</text><text x="397" y="102.1" font-size="8.2" text-anchor="end" font-style="italic" stroke="#fff" stroke-width="1.2" paint-order="stroke" stroke-opacity="0.7">OTX1</text><text x="391" y="113.2" font-size="8.2" text-anchor="end" font-style="italic" stroke="#fff" stroke-width="1.2" paint-order="stroke" stroke-opacity="0.7">NPY</text><text x="389.5" y="124.6" font-size="8.2" text-anchor="end" font-style="italic" stroke="#fff" stroke-width="1.2" paint-order="stroke" stroke-opacity="0.7">SPOCK2</text><text x="474" y="118.5" font-size="8.2" text-anchor="end" font-style="italic" stroke="#fff" stroke-width="1.2" paint-order="stroke" stroke-opacity="0.7">IGFBP5</text><text x="477" y="128.2" font-size="8.2" text-anchor="end" font-style="italic" stroke="#fff" stroke-width="1.2" paint-order="stroke" stroke-opacity="0.7">S100A3</text></g>
<g><text x="491" y="12" font-size="16">D</text><line x1="521.9" y1="10.5" x2="521.9" y2="139.5" stroke="#000" stroke-width="0.6"/><line x1="521.6" y1="139.5" x2="669" y2="139.5" stroke="#000" stroke-width="0.6"/><line x1="548.2" y1="139.5" x2="548.2" y2="141.3" stroke="#000" stroke-width="0.5"/><text x="548.2" y="148.8" font-size="8.0" text-anchor="middle">-10</text><line x1="584.6" y1="139.5" x2="584.6" y2="141.3" stroke="#000" stroke-width="0.5"/><text x="584.6" y="148.8" font-size="8.0" text-anchor="middle">-5</text><line x1="621" y1="139.5" x2="621" y2="141.3" stroke="#000" stroke-width="0.5"/><text x="621" y="148.8" font-size="8.0" text-anchor="middle">0</text><line x1="657.4" y1="139.5" x2="657.4" y2="141.3" stroke="#000" stroke-width="0.5"/><text x="657.4" y="148.8" font-size="8.0" text-anchor="middle">5</text><line x1="520.1" y1="38.8" x2="521.9" y2="38.8" stroke="#000" stroke-width="0.5"/><text x="518.9" y="41.7" font-size="8.0" text-anchor="end">2.5</text><line x1="520.1" y1="69.1" x2="521.9" y2="69.1" stroke="#000" stroke-width="0.5"/><text x="518.9" y="72" font-size="8.0" text-anchor="end">0.0</text><line x1="520.1" y1="99.3" x2="521.9" y2="99.3" stroke="#000" stroke-width="0.5"/><text x="518.9" y="102.2" font-size="8.0" text-anchor="end">-2.5</text><line x1="520.1" y1="129.6" x2="521.9" y2="129.6" stroke="#000" stroke-width="0.5"/><text x="518.9" y="132.5" font-size="8.0" text-anchor="end">-5.0</text><text x="595" y="159.2" font-size="8.0" text-anchor="middle">UMAP_1</text><text x="502.9" y="75" font-size="8.0" text-anchor="middle" transform="rotate(-90 502.9 75)">UMAP_2</text><text x="525" y="20" font-size="8.7" font-weight="bold">scRNA-seq, day 8</text><g transform="scale(.5)" stroke-linecap="round" fill="none"><path d="M1242 108h0M1226 156h0M1236 198h0M1232 107h0M1286 51h0M1258 73h0M1210 109h0M1213 105h0M1222 182h0M1274 105h0M1187 138h0M1237 160h0M1233 161h0M1197 145h0M1309 85h0M1187 126h0M1252 96h0M1182 139h0M1290 46h0M1256 91h0M1189 134h0M1247 198h0M1218 81h0M1218 131h0M1184 165h0M1225 95h0M1245 236h0M1194 150h0M1218 169h0M1242 199h0M1260 53h0M1196 170h0M1212 132h0M1179 139h0M1213 129h0M1233 130h0M1211 66h0M1180 177h0M1306 83h0M1207 133h0M1283 123h0M1216 191h0M1263 75h0M1210 73h0M1237 123h0M1211 169h0M1277 79h0M1255 94h0M1247 212h0M1246 158h0M1211 130h0M1306 147h0M1244 38h0M1216 144h0M1208 61h0M1193 146h0M1244 193h0M1247 122h0M1215 65h0M1210 152h0M1226 75h0M1295 64h0M1223 184h0M1184 154h0M1286 81h0M1269 70h0M1229 186h0M1229 134h0M1205 195h0M1223 69h0M1186 176h0M1257 200h0M1180 141h0M1207 82h0M1251 57h0M1301 66h0M1242 233h0M1182 164h0M1247 79h0M1307 53h0M1179 166h0M1185 156h0M1269 123h0M1221 40h0M1245 105h0M1206 140h0M1224 172h0M1250 74h0M1243 186h0M1291 50h0M1227 157h0M1292 181h0M1255 115h0M1231 140h0M1213 149h0M1210 180h0M1205 80h0M1215 191h0M1230 87h0M1245 228h0M1240 192h0M1234 192h0M1295 198h0M1225 115h0M1225 205h0M1259 59h0M1203 128h0M1251 133h0M1182 168h0M1303 77h0M1201 157h0M1237 84h0M1190 121h0M1246 165h0M1246 204h0M1216 90h0M1188 145h0M1227 126h0M1232 108h0M1214 157h0M1252 215h0M1226 113h0M1226 153h0M1231 184h0M1244 95h0M1227 166h0M1228 185h0M1295 61h0M1255 183h0M1256 68h0M1221 96h0M1263 139h0M1202 183h0M1254 219h0M1298 178h0M1290 196h0M1287 78h0M1234 203h0M1260 81h0M1240 43h0M1314 65h0M1209 81h0M1203 165h0M1206 191h0M1278 174h0M1304 98h0M1258 159h0M1232 115h0M1238 144h0M1243 197h0M1237 126h0M1210 141h0M1269 170h0M1264 38h0M1304 98h0M1187 167h0M1247 203h0M1232 54h0M1203 93h0M1310 68h0M1232 209h0M1248 123h0M1228 180h0M1279 257h0M1255 75h0M1260 45h0M1247 201h0M1193 170h0M1286 40h0M1216 140h0M1204 192h0M1229 173h0M1223 78h0M1212 140h0M1210 92h0M1226 80h0M1316 70h0M1256 78h0M1240 67h0M1180 136h0M1253 197h0M1265 110h0M1208 120h0M1257 201h0M1272 35h0M1217 54h0M1246 193h0M1230 68h0M1215 84h0M1208 172h0M1285 54h0M1195 152h0M1208 106h0M1187 175h0M1205 79h0M1210 87h0M1248 216h0M1270 53h0M1186 175h0M1228 202h0M1194 185h0M1215 114h0M1218 107h0M1233 63h0M1192 182h0M1264 90h0M1249 136h0M1236 118h0M1252 140h0M1234 131h0M1191 121h0M1248 170h0M1296 67h0M1226 123h0M1254 84h0M1235 183h0M1236 62h0M1217 176h0M1241 104h0M1262 84h0M1250 86h0M1238 123h0M1213 79h0M1248 158h0M1213 83h0M1209 160h0M1180 174h0M1231 106h0M1241 207h0M1243 174h0M1242 227h0M1237 77h0M1186 162h0M1249 199h0M1220 121h0M1240 256h0M1208 87h0M1244 123h0M1250 154h0M1180 147h0M1269 99h0M1190 150h0M1231 99h0M1233 68h0M1299 93h0M1190 132h0M1221 88h0M1207 100h0M1211 95h0M1186 161h0M1203 78h0M1223 212h0M1269 68h0M1239 76h0M1195 132h0M1242 99h0M1228 183h0M1234 191h0M1237 65h0M1266 204h0M1191 147h0M1229 162h0M1239 93h0M1173 160h0M1245 224h0M1257 54h0M1246 75h0M1211 80h0M1211 178h0M1227 200h0M1260 59h0M1235 161h0M1172 172h0M1211 116h0M1228 114h0M1217 145h0M1209 75h0M1231 86h0M1264 36h0M1196 179h0M1255 72h0M1238 208h0M1210 183h0M1308 135h0M1317 70h0M1197 144h0M1250 175h0M1262 73h0M1243 250h0M1233 173h0M1246 190h0M1214 123h0M1284 231h0M1217 208h0M1259 147h0M1289 46h0M1189 131h0M1298 171h0M1248 188h0M1184 154h0M1194 133h0M1254 141h0M1260 189h0M1252 54h0M1248 220h0M1288 72h0M1246 60h0M1198 142h0M1229 91h0M1288 171h0M1185 128h0M1216 117h0M1174 148h0M1233 79h0M1213 179h0M1175 168h0M1235 166h0M1232 69h0M1301 61h0M1201 136h0M1206 83h0M1263 55h0M1204 177h0M1189 141h0M1277 219h0M1216 88h0M1305 104h0M1248 176h0M1178 176h0M1265 213h0M1285 57h0M1223 103h0M1249 61h0M1253 99h0M1239 227h0M1208 140h0M1300 197h0M1220 106h0M1224 117h0M1240 210h0M1240 172h0M1283 134h0M1248 100h0M1220 52h0M1230 63h0M1228 197h0M1266 43h0M1174 164h0M1257 41h0M1242 117h0M1209 97h0M1241 171h0M1230 257h0M1247 129h0M1178 166h0M1222 187h0M1250 81h0M1229 69h0M1292 191h0M1220 65h0M1222 63h0M1225 125h0M1226 209h0M1286 185h0M1216 73h0M1264 161h0M1236 74h0M1184 164h0M1259 211h0M1306 185h0M1247 211h0M1245 188h0M1216 61h0M1230 138h0M1280 62h0M1254 73h0M1272 48h0M1236 203h0M1209 76h0M1199 158h0M1219 173h0M1214 182h0M1243 109h0M1224 181h0M1292 175h0M1303 84h0M1180 153h0M1279 88h0M1249 122h0M1262 61h0M1260 150h0M1235 221h0M1172 148h0M1246 240h0M1239 206h0M1204 141h0M1210 191h0M1310 91h0M1212 154h0M1229 213h0M1236 134h0M1252 203h0M1246 251h0M1256 103h0M1255 154h0M1224 134h0M1213 103h0M1241 179h0M1218 77h0M1255 58h0M1252 134h0M1233 144h0M1274 195h0M1270 234h0M1270 45h0M1231 186h0M1240 191h0M1303 152h0M1238 150h0M1186 153h0M1185 158h0M1216 99h0M1274 66h0M1310 83h0M1272 73h0M1223 204h0M1270 40h0M1216 112h0M1244 68h0M1192 172h0M1258 155h0M1190 149h0M1240 132h0M1234 51h0M1304 46h0M1243 94h0M1278 74h0M1192 139h0M1248 182h0M1186 154h0M1206 82h0M1197 140h0M1249 151h0M1224 78h0M1228 160h0M1211 180h0M1258 224h0M1260 57h0M1209 137h0M1233 183h0M1299 58h0M1223 133h0M1302 112h0M1198 120h0M1194 179h0M1267 163h0M1266 50h0M1215 212h0M1212 89h0M1242 75h0M1225 88h0M1303 189h0M1253 150h0M1185 160h0M1279 152h0M1293 187h0M1265 55h0M1182 151h0M1224 52h0M1189 125h0M1244 85h0M1230 196h0M1188 148h0M1220 90h0M1263 57h0M1231 90h0M1269 54h0M1266 61h0M1195 135h0M1225 166h0M1211 166h0M1295 60h0M1246 50h0M1258 61h0M1237 76h0M1209 156h0M1206 134h0M1213 156h0M1290 51h0M1230 209h0M1211 178h0M1299 209h0M1213 225h0M1206 102h0M1232 209h0M1242 254h0M1227 231h0M1251 98h0M1294 83h0M1224 176h0M1256 85h0M1258 107h0M1213 157h0M1241 100h0M1234 80h0M1188 168h0M1195 141h0M1300 199h0M1245 223h0M1300 107h0M1239 89h0M1247 55h0M1253 89h0M1236 110h0M1202 146h0M1219 73h0M1255 149h0M1255 31h0M1275 153h0M1246 88h0M1267 44h0M1205 168h0M1226 149h0M1189 184h0M1222 99h0M1230 184h0M1192 148h0M1257 213h0M1305 104h0M1247 191h0M1206 194h0M1181 168h0M1299 61h0M1216 100h0M1256 181h0M1251 186h0M1311 80h0M1240 225h0M1226 142h0M1279 234h0M1263 61h0M1209 122h0M1222 193h0M1211 130h0M1211 88h0M1273 208h0M1196 147h0M1263 147h0M1238 57h0M1223 210h0M1197 164h0M1220 174h0M1220 97h0M1202 93h0M1266 56h0M1173 147h0M1273 63h0M1249 94h0M1265 46h0M1242 164h0M1267 65h0M1192 152h0M1245 96h0M1209 154h0M1314 58h0M1185 130h0M1204 161h0M1227 91h0M1269 66h0M1264 117h0M1269 65h0M1290 84h0M1261 114h0M1253 111h0M1192 133h0M1216 216h0M1248 199h0M1208 128h0M1242 116h0M1317 83h0M1241 80h0M1252 110h0M1229 110h0M1218 117h0M1244 180h0M1257 76h0M1227 165h0M1216 91h0M1256 80h0M1289 68h0M1185 167h0M1244 163h0M1234 184h0M1259 123h0M1301 73h0M1229 209h0M1203 148h0M1230 187h0M1264 179h0M1224 85h0M1189 127h0M1272 43h0M1227 109h0M1237 112h0M1258 68h0M1292 67h0M1213 125h0M1213 108h0M1300 65h0M1261 153h0M1234 205h0M1237 180h0M1245 135h0M1253 117h0M1198 142h0M1242 101h0M1264 64h0M1243 211h0M1210 103h0M1211 96h0M1234 138h0M1259 54h0M1206 168h0M1250 101h0M1284 196h0M1220 199h0M1219 84h0M1231 193h0M1240 185h0M1261 100h0M1218 111h0M1250 150h0M1291 56h0M1232 213h0M1237 113h0M1235 186h0M1253 180h0M1234 163h0M1213 151h0M1229 66h0M1209 83h0M1246 201h0M1229 96h0M1289 91h0M1245 161h0M1201 153h0M1262 101h0M1184 166h0M1187 139h0M1175 167h0M1303 53h0M1178 175h0M1204 171h0M1177 178h0M1260 58h0M1249 149h0M1306 106h0M1264 129h0M1263 44h0M1199 110h0M1231 168h0M1174 154h0M1205 74h0M1252 131h0M1208 79h0M1225 91h0M1296 61h0M1252 188h0M1290 50h0M1221 139h0M1183 167h0M1313 80h0M1179 154h0M1299 196h0M1265 56h0M1237 215h0M1233 84h0M1229 224h0M1280 93h0M1210 145h0M1190 132h0M1241 162h0M1233 193h0M1190 146h0M1219 216h0M1205 155h0M1238 165h0M1230 155h0M1247 45h0M1204 147h0M1190 173h0M1207 173h0M1254 159h0M1214 196h0M1216 219h0M1214 177h0M1213 69h0M1249 136h0M1184 168h0M1226 170h0M1193 155h0M1214 125h0M1226 117h0M1225 98h0M1283 50h0M1267 44h0M1268 163h0M1259 194h0M1195 107h0M1249 67h0M1225 139h0M1240 108h0M1281 41h0M1183 170h0M1200 135h0M1316 66h0M1224 95h0M1189 162h0M1265 80h0M1194 121h0M1311 63h0M1200 134h0M1220 147h0M1287 54h0M1256 194h0M1247 138h0M1284 156h0M1259 82h0M1291 64h0M1246 185h0M1249 144h0M1234 179h0M1181 166h0M1248 124h0M1258 55h0M1255 76h0M1174 158h0M1222 81h0M1240 206h0M1271 61h0M1213 70h0M1304 180h0M1230 115h0M1280 152h0M1320 70h0M1256 52h0M1211 152h0M1227 208h0M1262 137h0M1242 232h0M1217 147h0M1300 71h0M1293 76h0M1206 169h0M1229 135h0M1213 138h0M1218 98h0M1217 80h0M1183 140h0M1245 137h0M1180 142h0M1195 187h0M1208 132h0M1249 102h0M1264 157h0M1239 149h0M1202 169h0M1255 36h0M1183 133h0M1261 137h0M1238 140h0M1288 81h0M1235 146h0M1224 156h0M1276 97h0M1210 92h0M1248 115h0M1243 110h0M1239 207h0M1234 246h0M1222 135h0M1296 48h0M1231 107h0M1187 139h0M1265 34h0M1245 58h0M1219 123h0M1270 206h0M1305 77h0M1217 225h0M1251 98h0M1186 124h0M1258 137h0M1244 130h0M1295 92h0M1209 136h0M1251 74h0M1282 83h0M1291 80h0M1195 141h0M1280 80h0M1256 159h0M1192 171h0M1249 35h0M1270 130h0M1257 65h0M1285 64h0M1233 205h0M1282 67h0M1239 110h0M1212 148h0M1227 142h0M1231 71h0M1218 161h0M1297 55h0M1239 150h0M1240 156h0M1265 45h0M1251 187h0M1219 145h0M1265 192h0M1262 135h0M1234 205h0M1307 191h0M1221 179h0M1260 69h0M1280 96h0M1225 182h0M1218 90h0M1218 66h0M1268 68h0M1234 97h0M1252 101h0M1264 101h0M1299 165h0M1193 138h0M1243 43h0M1220 66h0M1226 168h0M1283 89h0M1199 133h0M1226 156h0M1272 62h0M1215 101h0M1295 78h0M1292 78h0M1229 166h0M1229 119h0M1252 157h0M1229 218h0M1251 100h0M1202 159h0M1201 134h0M1264 44h0M1191 143h0M1265 136h0M1186 178h0M1197 111h0M1246 198h0M1245 62h0M1205 170h0M1189 160h0M1244 247h0M1175 151h0M1240 115h0M1193 126h0M1303 157h0M1261 57h0M1259 122h0M1204 123h0M1300 59h0M1266 252h0M1302 48h0M1196 138h0M1246 202h0M1233 206h0M1207 149h0M1224 114h0M1290 233h0M1198 151h0M1220 110h0M1215 162h0M1201 154h0M1207 88h0M1277 80h0M1271 53h0M1211 135h0M1248 185h0M1243 154h0M1210 100h0M1217 138h0M1246 165h0M1268 148h0M1248 109h0M1192 147h0M1243 238h0M1267 142h0M1268 160h0M1236 104h0M1260 48h0M1247 177h0M1260 82h0M1263 138h0M1267 189h0M1256 129h0M1199 145h0M1307 72h0M1190 132h0M1223 135h0M1264 46h0M1258 169h0M1247 144h0M1271 215h0M1216 189h0M1190 141h0M1241 129h0M1268 50h0M1198 134h0M1214 180h0M1204 193h0M1267 39h0M1269 60h0M1205 135h0M1256 149h0M1196 166h0M1228 195h0M1204 140h0M1205 153h0M1294 157h0M1286 163h0M1228 198h0M1277 169h0M1226 114h0M1259 57h0M1292 70h0M1225 80h0M1219 106h0M1200 168h0M1265 128h0M1190 156h0M1221 92h0M1249 136h0M1235 170h0M1213 110h0M1214 68h0M1217 89h0M1191 137h0M1234 132h0M1261 90h0M1219 156h0M1214 174h0M1207 105h0M1294 73h0M1174 156h0M1206 143h0M1258 189h0M1289 172h0M1317 64h0M1241 114h0M1266 70h0M1220 144h0M1275 74h0M1219 104h0M1200 133h0M1245 122h0M1205 180h0M1190 163h0M1262 72h0M1187 158h0M1280 199h0M1255 45h0M1261 125h0M1191 141h0M1218 171h0M1263 146h0M1202 151h0M1224 101h0M1193 137h0M1250 94h0M1272 48h0M1244 110h0M1256 105h0M1226 157h0M1239 122h0M1244 88h0M1249 130h0M1322 76h0M1224 175h0M1237 188h0M1216 39h0M1210 160h0M1213 187h0M1304 176h0M1230 220h0M1204 137h0M1185 150h0M1289 77h0M1231 47h0M1246 107h0M1207 166h0M1260 53h0M1258 204h0M1281 60h0M1255 82h0M1247 212h0M1196 137h0M1259 58h0M1259 178h0M1304 87h0M1247 74h0M1213 220h0M1226 179h0M1231 159h0M1222 173h0M1251 78h0M1200 145h0M1251 159h0M1213 125h0M1189 175h0M1191 164h0M1266 34h0M1249 109h0M1184 137h0M1243 54h0M1233 77h0M1190 180h0M1238 94h0M1241 177h0M1262 137h0M1223 151h0M1240 239h0M1218 143h0M1243 104h0M1224 89h0M1216 123h0M1269 85h0M1198 141h0M1193 137h0M1229 196h0M1258 148h0M1215 127h0M1223 154h0M1300 66h0M1238 210h0M1245 243h0M1306 59h0M1247 50h0M1298 86h0M1192 155h0M1193 126h0M1212 99h0M1262 241h0M1221 216h0M1230 212h0M1183 173h0M1190 140h0M1183 136h0M1272 76h0M1245 182h0M1178 167h0M1247 185h0M1242 69h0M1202 158h0M1218 113h0M1308 151h0M1240 79h0M1224 80h0M1230 180h0M1236 61h0M1250 43h0M1260 98h0M1238 99h0M1227 154h0M1242 130h0M1200 140h0M1245 144h0M1292 187h0M1204 195h0M1203 143h0M1205 177h0M1249 37h0M1243 244h0M1306 187h0M1191 170h0M1290 166h0M1215 134h0M1202 83h0M1230 88h0M1286 237h0M1308 108h0M1265 60h0M1191 137h0M1207 98h0M1264 50h0M1243 247h0M1305 154h0M1208 104h0M1215 61h0M1245 99h0M1246 119h0M1216 48h0M1248 83h0M1212 86h0M1232 106h0M1174 165h0M1208 194h0M1274 173h0M1252 192h0M1242 177h0M1227 114h0M1262 141h0M1239 187h0M1227 77h0M1187 164h0M1201 125h0M1220 202h0M1265 32h0M1212 76h0M1208 75h0M1218 54h0M1249 50h0M1288 115h0M1232 74h0M1252 131h0M1273 265h0M1239 169h0M1225 125h0M1240 240h0M1223 128h0M1187 120h0M1187 161h0M1215 65h0M1218 146h0M1216 99h0M1243 180h0M1276 120h0M1246 208h0M1254 51h0M1213 78h0M1216 133h0M1252 102h0M1199 176h0M1193 139h0M1192 136h0M1261 78h0M1223 107h0M1218 172h0M1225 178h0M1198 156h0M1229 106h0M1212 96h0M1272 55h0M1245 240h0M1228 163h0M1288 58h0M1203 109h0M1258 187h0M1286 69h0M1245 245h0M1227 184h0M1224 114h0M1241 123h0M1271 71h0M1204 135h0M1243 63h0M1219 205h0M1302 109h0M1248 34h0M1254 137h0M1267 45h0M1241 87h0M1207 103h0M1211 154h0M1221 197h0M1221 183h0M1209 199h0M1209 78h0M1235 84h0M1236 100h0M1249 104h0M1253 166h0M1297 64h0M1179 172h0M1236 93h0M1199 178h0M1240 97h0M1195 175h0M1247 62h0M1238 96h0M1264 120h0M1261 134h0M1270 46h0M1262 65h0M1296 97h0M1181 159h0M1236 64h0M1271 37h0M1261 96h0M1244 249h0M1259 106h0M1231 201h0M1219 149h0M1220 157h0M1221 94h0M1225 149h0M1228 97h0M1226 96h0M1231 54h0M1173 156h0M1225 62h0M1209 84h0M1235 177h0M1207 168h0M1192 141h0M1216 73h0M1253 195h0M1270 207h0M1242 108h0M1196 147h0M1239 116h0M1225 98h0M1214 167h0M1225 98h0M1187 135h0M1242 61h0M1259 115h0M1245 99h0M1249 74h0M1264 62h0M1238 96h0M1314 64h0M1186 171h0M1251 131h0M1225 136h0M1213 177h0M1253 159h0M1208 133h0M1188 131h0M1180 174h0M1196 130h0M1292 76h0M1222 152h0M1246 198h0M1226 65h0M1250 124h0M1240 118h0M1223 50h0M1218 133h0M1253 164h0M1227 139h0M1197 125h0M1216 133h0M1233 224h0M1250 167h0M1225 89h0M1198 168h0M1250 40h0M1236 178h0M1235 83h0M1262 100h0M1191 108h0M1205 193h0M1229 76h0M1261 108h0M1246 120h0M1296 83h0M1252 187h0M1209 87h0M1235 182h0M1186 148h0M1239 153h0M1207 98h0M1265 64h0M1233 216h0M1241 229h0M1204 92h0M1181 167h0M1241 171h0M1206 146h0M1239 171h0M1267 221h0M1239 247h0M1303 137h0M1283 116h0M1213 133h0M1244 131h0M1207 174h0M1285 154h0M1233 130h0M1292 207h0M1236 129h0M1232 219h0M1218 125h0M1230 153h0M1238 206h0M1250 183h0M1252 87h0M1313 83h0M1208 97h0M1176 144h0M1222 115h0M1245 56h0M1256 154h0M1263 62h0M1217 113h0M1183 175h0M1214 195h0M1225 94h0M1249 191h0M1208 94h0M1309 76h0M1237 121h0M1279 37h0M1190 174h0M1308 68h0M1209 131h0M1185 159h0M1210 164h0M1272 122h0M1225 162h0M1228 146h0M1298 68h0M1188 140h0M1265 45h0M1212 125h0M1247 134h0M1268 133h0M1202 175h0M1221 109h0M1270 118h0M1217 70h0M1236 179h0M1278 85h0M1185 158h0M1223 63h0M1214 124h0M1254 153h0M1225 91h0M1220 34h0M1228 179h0M1238 221h0M1258 102h0M1237 193h0M1260 123h0M1266 71h0M1283 53h0M1219 80h0M1192 159h0M1251 70h0M1242 78h0M1254 51h0M1223 94h0M1227 146h0M1283 140h0M1234 149h0M1189 155h0M1225 90h0M1236 73h0M1245 242h0M1274 82h0M1222 86h0M1255 225h0M1261 174h0M1261 39h0M1191 129h0M1240 208h0M1211 61h0M1244 201h0M1254 63h0M1257 103h0M1244 89h0M1235 207h0M1240 87h0M1279 80h0M1237 139h0M1243 155h0M1209 182h0M1227 197h0M1241 121h0M1233 80h0M1255 159h0M1211 86h0M1251 169h0M1174 164h0M1195 181h0M1242 164h0M1238 81h0M1210 109h0M1219 183h0M1287 72h0M1300 196h0M1249 160h0M1229 218h0M1244 117h0M1234 192h0M1218 83h0M1267 82h0M1237 99h0M1223 131h0M1247 70h0M1251 70h0M1241 98h0M1244 92h0M1245 252h0M1226 103h0M1315 71h0M1275 113h0M1310 73h0M1242 43h0M1241 117h0M1305 68h0M1225 201h0M1252 138h0M1234 203h0M1249 72h0M1244 103h0M1197 155h0M1238 111h0M1233 217h0M1231 89h0M1191 172h0M1229 188h0M1200 137h0M1253 35h0M1201 165h0M1235 65h0M1236 221h0M1249 125h0M1243 159h0M1240 160h0M1229 187h0M1196 166h0M1215 215h0M1274 221h0M1219 177h0M1247 85h0M1240 112h0M1216 132h0M1242 104h0M1219 171h0M1236 84h0M1260 39h0M1225 186h0M1228 117h0M1248 139h0M1238 210h0M1233 92h0M1244 47h0M1249 120h0M1220 128h0M1255 128h0M1189 176h0M1184 157h0M1218 224h0M1212 128h0M1186 131h0M1217 95h0M1298 58h0M1252 98h0M1210 175h0M1268 49h0M1236 218h0M1233 108h0M1209 168h0M1305 199h0M1303 56h0M1259 48h0M1260 57h0M1247 111h0M1209 142h0M1172 168h0M1196 87h0M1219 153h0M1250 129h0M1227 177h0M1305 50h0M1229 174h0M1222 144h0M1284 178h0M1267 82h0M1266 42h0M1257 120h0M1192 137h0M1228 189h0M1235 81h0M1181 149h0M1234 47h0M1298 99h0M1255 114h0M1249 187h0M1202 153h0M1212 76h0M1184 144h0M1249 53h0M1220 89h0M1233 89h0M1291 53h0M1234 201h0M1177 161h0M1245 192h0M1213 144h0M1245 182h0M1188 174h0M1212 158h0M1183 155h0M1304 142h0M1209 193h0M1208 195h0M1196 168h0M1242 145h0M1242 204h0M1233 173h0M1221 201h0M1245 92h0M1209 109h0M1208 165h0M1264 93h0M1196 96h0M1251 122h0M1253 163h0M1196 180h0M1222 111h0M1172 160h0M1228 132h0M1304 73h0M1221 105h0M1240 96h0M1213 99h0M1209 188h0M1229 164h0M1200 141h0M1268 177h0M1197 153h0M1295 77h0M1243 235h0M1235 121h0M1308 84h0M1202 146h0M1287 66h0M1301 171h0M1225 137h0M1206 90h0M1251 172h0M1235 183h0M1237 151h0M1256 116h0M1178 141h0M1234 212h0M1260 106h0M1210 150h0M1245 206h0M1261 131h0M1209 60h0M1274 186h0M1189 162h0M1266 62h0M1213 119h0M1239 81h0M1249 143h0M1232 135h0M1217 96h0M1187 178h0M1241 129h0M1234 100h0M1262 102h0M1243 161h0M1239 175h0M1234 163h0M1212 161h0M1217 222h0M1217 104h0M1229 223h0M1225 206h0M1244 52h0M1238 208h0M1239 209h0M1237 63h0M1288 156h0M1232 183h0M1217 165h0M1231 75h0M1206 161h0M1268 69h0M1242 164h0M1206 85h0M1236 70h0M1210 91h0M1212 175h0M1247 85h0M1243 93h0M1246 132h0M1258 66h0M1241 133h0M1241 114h0M1261 101h0M1217 125h0M1237 66h0M1226 201h0M1245 114h0M1275 72h0M1213 222h0M1240 159h0M1249 78h0M1254 185h0M1241 200h0M1299 130h0M1242 72h0M1244 235h0M1245 178h0M1198 174h0M1221 51h0M1222 99h0M1250 133h0M1226 132h0M1235 62h0M1186 166h0M1217 99h0M1200 135h0M1265 142h0M1286 49h0M1250 182h0M1195 147h0M1272 40h0M1215 163h0M1254 75h0M1190 159h0M1241 88h0M1261 200h0M1232 183h0M1198 138h0M1225 213h0M1223 213h0M1257 199h0M1200 150h0M1238 191h0M1218 178h0M1244 147h0M1231 120h0M1237 68h0M1258 56h0M1234 93h0M1194 114h0M1200 163h0M1186 146h0M1225 157h0M1232 56h0M1251 46h0M1252 121h0M1249 132h0M1240 237h0M1258 119h0M1235 131h0M1245 84h0M1254 197h0M1286 102h0M1242 141h0M1228 186h0M1235 137h0M1217 81h0M1240 105h0M1248 108h0M1194 161h0M1177 159h0M1275 162h0M1304 189h0M1231 105h0M1198 146h0M1238 164h0M1258 48h0M1209 93h0M1219 235h0M1259 205h0M1281 42h0M1179 146h0M1271 209h0M1252 165h0M1250 71h0M1249 103h0M1188 156h0M1182 134h0M1225 104h0M1231 78h0M1184 153h0M1251 202h0M1230 134h0M1252 159h0M1225 115h0M1257 85h0M1219 139h0M1283 164h0M1262 72h0M1212 97h0M1243 182h0M1200 122h0M1230 203h0M1209 68h0M1220 164h0M1254 136h0M1252 182h0M1239 188h0M1269 84h0M1299 161h0M1245 116h0M1237 76h0M1189 161h0M1241 191h0M1218 211h0M1221 203h0M1230 122h0M1229 175h0M1249 44h0M1224 152h0M1280 148h0M1260 132h0M1252 115h0M1240 199h0M1270 62h0M1290 145h0M1209 92h0M1231 124h0M1219 72h0M1200 170h0M1244 118h0M1248 177h0M1244 119h0M1247 96h0M1316 74h0M1222 177h0M1293 44h0M1269 51h0M1244 120h0M1268 114h0M1241 236h0M1184 125h0M1289 131h0M1256 102h0M1243 90h0M1237 164h0M1220 152h0M1236 124h0M1231 184h0M1259 90h0M1300 77h0M1293 76h0M1243 237h0M1261 153h0M1184 173h0M1230 68h0M1280 64h0M1182 153h0M1225 192h0M1233 67h0M1224 88h0M1228 90h0M1245 197h0M1275 83h0M1225 206h0M1188 131h0M1220 196h0M1301 54h0M1293 73h0M1317 61h0M1217 141h0M1242 167h0M1215 89h0M1242 253h0M1230 140h0M1256 153h0M1224 182h0M1274 41h0M1215 215h0M1281 95h0M1256 126h0M1217 214h0M1302 204h0M1213 107h0M1268 211h0M1239 143h0M1195 157h0M1219 79h0M1196 91h0M1210 80h0M1260 70h0M1245 206h0M1235 158h0M1284 111h0M1258 212h0M1192 135h0M1222 117h0M1203 172h0M1254 36h0M1248 129h0M1218 109h0M1232 175h0M1231 183h0M1277 186h0M1233 96h0M1222 179h0M1254 196h0M1207 99h0M1272 58h0M1204 163h0M1211 91h0M1249 208h0M1308 70h0M1174 170h0M1270 241h0M1236 112h0M1247 138h0M1253 190h0M1229 77h0M1295 52h0M1208 103h0M1248 145h0M1194 150h0M1207 77h0M1232 165h0M1247 218h0M1281 196h0M1308 105h0M1229 133h0M1224 196h0M1252 133h0M1269 160h0M1250 157h0M1294 174h0M1276 79h0M1229 130h0M1272 81h0M1216 106h0M1206 194h0M1236 191h0M1243 99h0M1173 166h0M1254 185h0M1221 97h0M1219 224h0M1199 156h0M1307 128h0M1214 77h0M1176 152h0M1227 157h0M1223 111h0M1255 69h0M1207 157h0M1197 146h0M1269 68h0M1233 207h0M1229 87h0M1247 145h0M1264 230h0M1229 142h0M1221 184h0M1225 139h0M1289 70h0M1198 146h0M1306 49h0M1270 43h0M1229 91h0M1286 78h0M1216 86h0M1251 59h0M1239 191h0M1277 112h0M1224 132h0M1302 64h0M1256 114h0M1195 140h0M1216 159h0M1204 171h0M1260 71h0M1183 160h0M1253 150h0M1255 183h0M1196 124h0M1266 39h0M1220 224h0M1208 165h0M1227 180h0M1199 140h0M1213 86h0M1223 138h0M1256 74h0M1239 145h0M1317 73h0M1264 135h0M1306 84h0M1220 142h0M1264 128h0M1248 70h0M1213 201h0M1199 186h0M1273 52h0M1240 206h0M1260 54h0M1222 104h0M1248 119h0M1227 205h0M1216 176h0M1212 91h0M1224 114h0M1219 172h0M1224 168h0M1255 143h0M1258 137h0M1204 130h0M1197 183h0M1248 132h0M1251 155h0M1252 191h0M1216 224h0M1232 226h0M1257 67h0M1279 129h0M1269 38h0M1224 187h0M1213 159h0M1178 164h0M1225 118h0M1220 100h0M1216 197h0M1241 225h0M1264 63h0M1204 161h0M1225 203h0M1250 211h0M1253 65h0M1212 80h0M1256 78h0M1197 142h0M1292 70h0M1253 120h0M1272 50h0M1275 148h0M1237 142h0M1245 153h0M1287 184h0M1253 121h0M1315 73h0M1193 170h0M1219 151h0M1206 123h0M1277 79h0M1226 160h0M1251 121h0M1305 54h0M1211 214h0M1224 213h0M1229 154h0M1213 105h0M1243 199h0M1223 102h0M1220 115h0M1254 125h0M1234 185h0M1240 81h0M1235 125h0M1305 116h0M1262 215h0M1249 98h0M1268 55h0M1253 138h0M1268 56h0M1183 157h0M1243 182h0M1234 86h0M1208 158h0M1189 123h0M1232 128h0M1214 195h0M1250 130h0M1225 154h0M1194 145h0M1272 44h0M1216 80h0M1231 191h0M1184 148h0M1187 158h0M1212 97h0M1287 157h0M1211 117h0M1225 54h0M1265 85h0M1221 200h0M1197 137h0M1307 79h0M1297 137h0M1263 57h0M1222 167h0M1251 124h0M1245 173h0M1194 125h0M1250 195h0M1232 151h0M1261 45h0M1206 66h0M1249 136h0M1209 58h0M1310 62h0M1212 74h0M1230 147h0M1194 122h0M1218 199h0M1217 163h0M1280 72h0M1239 206h0M1244 63h0M1300 122h0M1282 74h0M1222 100h0M1297 136h0M1245 136h0M1210 71h0M1243 130h0M1243 140h0M1284 161h0M1279 69h0M1226 135h0M1183 146h0M1201 166h0M1255 190h0M1230 168h0M1206 130h0M1185 180h0M1236 140h0M1216 224h0M1235 88h0M1286 76h0M1285 81h0M1245 243h0M1256 45h0M1210 155h0M1238 162h0M1251 139h0M1242 98h0M1190 126h0M1181 156h0M1179 157h0M1224 63h0M1235 168h0M1242 66h0M1291 163h0M1302 85h0M1191 179h0M1227 210h0M1189 131h0M1253 75h0M1289 57h0M1276 229h0M1235 114h0M1215 99h0M1251 173h0M1206 153h0M1240 196h0M1189 121h0M1275 153h0M1208 75h0M1238 72h0M1297 72h0M1253 99h0M1225 164h0M1278 231h0M1246 122h0M1221 201h0M1228 108h0M1244 199h0M1262 55h0M1240 151h0M1236 77h0M1229 63h0M1240 128h0M1231 123h0M1193 131h0M1242 201h0M1257 90h0M1193 148h0M1233 150h0M1249 102h0M1294 55h0M1223 148h0M1285 60h0M1190 152h0M1198 154h0M1229 88h0M1238 67h0M1232 69h0M1301 79h0M1274 74h0M1293 107h0M1192 125h0M1219 176h0M1269 72h0M1220 70h0M1209 143h0M1210 99h0M1222 224h0M1193 148h0M1245 230h0M1249 177h0M1253 77h0M1221 114h0M1238 189h0M1228 147h0M1234 88h0M1221 133h0M1255 70h0M1228 106h0M1209 173h0M1223 167h0M1225 132h0M1175 176h0M1232 175h0M1199 165h0M1227 67h0M1236 123h0M1290 78h0M1201 174h0M1190 152h0M1217 174h0M1237 74h0M1253 39h0M1233 122h0M1284 204h0M1204 148h0M1221 61h0M1305 180h0M1217 162h0M1257 91h0M1223 183h0M1253 137h0M1266 155h0M1195 148h0M1206 104h0M1199 160h0M1226 113h0M1222 120h0M1223 204h0M1225 212h0M1212 139h0M1218 150h0M1229 247h0M1245 186h0M1286 44h0M1250 102h0M1189 133h0M1215 180h0M1227 63h0M1242 142h0M1265 64h0M1243 157h0M1237 175h0M1248 167h0M1239 231h0M1240 122h0M1209 112h0M1235 212h0M1195 186h0M1242 143h0M1257 50h0M1221 152h0M1189 134h0M1214 172h0M1317 87h0M1199 130h0M1253 101h0M1248 164h0M1251 205h0M1209 135h0M1203 123h0M1242 62h0M1250 130h0M1302 66h0M1209 192h0M1292 63h0M1231 73h0M1267 178h0M1232 240h0M1244 75h0M1205 81h0M1190 105h0M1273 62h0M1230 181h0M1230 133h0M1191 128h0M1258 64h0M1238 73h0M1213 216h0M1269 61h0M1267 62h0M1292 71h0M1209 72h0M1218 148h0M1062 93h0M1063 100h0M1079 111h0M1065 100h0M1074 97h0M1057 89h0M1062 90h0M1075 107h0M1059 95h0M1069 102h0M1061 92h0M1076 103h0M1073 105h0M1068 86h0M1073 104h0M1061 91h0M1070 99h0M1057 81h0M1065 88h0M1064 94h0M1055 89h0M1075 110h0M1061 95h0M1073 103h0M1062 90h0M1061 96h0M1063 100h0M1062 106h0M1068 98h0M1063 91h0M1071 103h0M1068 95h0M1061 88h0M1075 109h0M1068 98h0M1065 97h0M1064 102h0M1072 108h0M1066 94h0M1060 91h0M1071 105h0M1065 89h0M1072 105h0M1060 87h0M1073 99h0M1070 104h0M1069 97h0M1070 100h0M1067 95h0M1060 87h0M1073 112h0M1061 100h0M1065 95h0M1060 92h0M1068 92h0M1071 93h0M1067 105h0M1068 91h0M1078 108h0M1064 92h0M1072 105h0M1058 90h0M1061 89h0M1054 93h0M1063 93h0M1066 92h0M1067 103h0M1066 100h0M1065 99h0M1067 98h0M1061 97h0M1064 102h0M1065 94h0M1060 87h0M1055 92h0M1078 110h0M1073 104h0M1079 111h0M1059 95h0M1064 94h0M1074 101h0M1069 93h0M1076 111h0M1070 97h0M1062 99h0M1064 103h0M1064 93h0M1063 92h0M1073 96h0M1060 92h0M1065 95h0M1070 102h0M1059 86h0M1065 94h0M1057 81h0M1065 89h0M1068 95h0M1070 103h0M1061 95h0M1073 95h0M1054 90h0M1075 109h0M1065 97h0M1061 87h0M1065 98h0M1058 91h0M1061 99h0M1063 94h0M1064 93h0M1060 91h0M1063 92h0M1072 99h0M1063 95h0M1059 91h0M1056 84h0M1066 102h0M1067 95h0M1056 91h0M1058 99h0M1058 86h0M1068 104h0M1074 100h0M1062 91h0M1055 87h0M1069 100h0M1072 108h0M1068 90h0M1061 98h0M1077 111h0M1073 102h0M1055 85h0M1069 103h0M1073 110h0M1076 111h0M1069 95h0M1058 93h0M1060 97h0M1056 82h0M1081 115h0M1058 94h0M1064 92h0" stroke="#56b4e9" stroke-width="2.9"/><path d="M1278 221h0M1269 173h0M1299 104h0M1309 175h0M1241 140h0M1191 103h0M1272 155h0M1278 103h0M1280 81h0M1255 102h0M1269 60h0M1225 108h0M1276 91h0M1237 108h0M1266 238h0M1278 207h0M1295 189h0M1190 96h0M1260 154h0M1231 240h0M1214 215h0M1216 50h0M1197 80h0M1277 182h0M1226 61h0M1301 45h0M1295 93h0M1277 203h0M1289 145h0M1279 202h0M1267 240h0M1298 67h0M1208 95h0M1257 202h0M1192 168h0M1218 235h0M1223 53h0M1266 120h0M1269 215h0M1269 152h0M1250 203h0M1300 215h0M1202 99h0M1228 95h0M1255 81h0M1245 246h0M1251 203h0M1277 120h0M1299 121h0M1232 140h0M1274 61h0M1270 150h0M1282 119h0M1305 203h0M1271 246h0M1219 235h0M1218 237h0M1286 109h0M1293 228h0M1254 246h0M1204 172h0M1278 127h0M1296 211h0M1274 140h0M1257 54h0M1262 243h0M1305 137h0M1225 132h0M1218 147h0M1266 91h0M1261 53h0M1259 80h0M1302 154h0M1307 118h0M1265 245h0M1293 169h0M1240 182h0M1264 36h0M1265 189h0M1259 117h0M1295 49h0M1202 94h0M1212 186h0M1240 99h0M1265 248h0M1297 74h0M1280 244h0M1303 77h0M1267 103h0M1208 115h0M1268 87h0M1292 195h0M1261 186h0M1268 136h0M1278 158h0M1290 102h0M1295 190h0M1281 148h0M1249 244h0M1283 144h0M1224 207h0M1293 76h0M1295 130h0M1278 174h0M1305 100h0M1286 52h0M1263 93h0M1264 222h0M1256 234h0M1283 99h0M1209 90h0M1197 96h0M1296 94h0M1294 220h0M1304 161h0M1277 213h0M1267 92h0M1277 215h0M1248 89h0M1288 166h0M1227 230h0M1262 194h0M1278 212h0M1293 41h0M1268 236h0M1293 127h0M1288 166h0M1267 247h0M1232 256h0M1284 203h0M1224 151h0M1290 165h0M1306 76h0M1300 204h0M1288 106h0M1192 105h0M1283 40h0M1200 105h0M1257 236h0M1308 80h0M1285 174h0M1312 159h0M1299 103h0M1307 188h0M1271 151h0M1290 79h0M1227 47h0M1291 203h0M1260 244h0M1227 60h0M1223 254h0M1310 167h0M1287 241h0M1271 192h0M1262 50h0M1299 96h0M1212 222h0M1301 75h0M1217 76h0M1284 144h0M1255 194h0M1286 240h0M1265 98h0M1295 174h0M1310 122h0M1276 260h0M1277 217h0M1304 184h0M1303 166h0M1298 155h0M1305 161h0M1287 170h0M1301 46h0M1283 176h0M1269 116h0M1302 105h0M1237 79h0M1227 252h0M1264 199h0M1273 119h0M1278 230h0M1305 76h0M1260 231h0M1215 43h0M1261 117h0M1223 154h0M1287 52h0M1224 212h0M1277 110h0M1301 49h0M1229 248h0M1250 59h0M1234 151h0M1277 109h0M1298 44h0M1231 227h0M1261 203h0M1273 252h0M1220 47h0M1317 75h0M1209 172h0M1268 192h0M1223 57h0M1284 215h0M1292 108h0M1297 188h0M1282 131h0M1273 180h0M1265 249h0M1297 104h0M1208 111h0M1264 121h0M1260 151h0M1285 190h0M1306 198h0M1304 169h0M1275 211h0M1314 62h0M1286 189h0M1268 139h0M1277 96h0M1264 57h0M1264 178h0M1295 144h0M1261 123h0M1252 74h0M1228 67h0M1219 235h0M1232 154h0M1281 63h0M1228 46h0M1295 132h0M1284 111h0M1285 163h0M1276 239h0M1278 194h0M1294 181h0M1285 53h0M1287 233h0M1272 98h0M1275 171h0M1304 194h0M1291 214h0M1303 144h0M1252 146h0M1262 245h0M1289 209h0M1270 127h0M1302 183h0M1258 150h0M1285 226h0M1269 172h0M1283 175h0M1307 93h0M1298 164h0M1306 183h0M1301 104h0M1293 117h0M1283 185h0M1195 101h0M1273 248h0M1289 180h0M1276 198h0M1301 166h0M1294 169h0M1259 158h0M1283 229h0M1269 242h0M1275 168h0M1294 107h0M1229 187h0M1223 50h0M1260 178h0M1308 96h0M1302 194h0M1228 241h0M1280 178h0M1240 80h0M1280 240h0M1289 148h0M1271 221h0M1274 216h0M1279 157h0M1263 227h0M1272 97h0M1273 219h0M1229 159h0M1286 184h0M1288 92h0M1267 166h0M1216 41h0M1279 203h0M1237 255h0M1293 151h0M1253 238h0M1306 113h0M1279 82h0M1285 198h0M1223 131h0M1273 242h0M1289 183h0M1266 121h0M1266 102h0M1256 36h0M1275 170h0M1193 94h0M1262 234h0M1196 175h0M1278 90h0M1268 60h0M1295 202h0M1288 119h0M1237 241h0M1295 132h0M1291 114h0M1223 32h0M1282 101h0M1260 173h0M1261 129h0M1262 75h0M1310 62h0M1287 135h0M1218 57h0M1284 238h0M1277 149h0M1258 191h0M1230 187h0M1257 40h0M1283 202h0M1269 104h0M1294 114h0M1260 209h0M1279 201h0M1269 185h0M1204 173h0M1271 165h0M1308 193h0M1199 107h0M1257 252h0M1297 212h0M1296 147h0M1258 221h0M1306 154h0M1299 197h0M1202 86h0M1248 126h0M1294 170h0M1308 174h0M1220 205h0M1294 53h0M1275 53h0M1221 53h0M1281 171h0M1283 153h0M1302 94h0M1198 167h0M1259 246h0M1282 108h0M1281 134h0M1240 213h0M1259 163h0M1254 179h0M1263 185h0M1258 216h0M1287 133h0M1268 105h0M1258 235h0M1238 216h0M1268 246h0M1314 90h0M1269 257h0M1293 61h0M1272 125h0M1304 108h0M1282 164h0M1272 170h0M1291 137h0M1306 178h0M1220 45h0M1260 163h0M1294 172h0M1261 165h0M1222 35h0M1274 239h0M1288 121h0M1278 171h0M1224 131h0M1251 224h0M1260 215h0M1270 146h0M1293 130h0M1279 204h0M1215 236h0M1248 245h0M1287 191h0M1265 224h0M1281 239h0M1251 118h0M1242 158h0M1271 92h0M1212 192h0M1299 121h0M1302 116h0M1224 222h0M1277 228h0M1255 121h0M1264 151h0M1291 159h0M1296 188h0M1272 80h0M1303 197h0M1271 144h0M1281 177h0M1260 234h0M1289 114h0M1258 111h0M1232 101h0M1216 87h0M1189 108h0M1210 50h0M1308 185h0M1317 78h0M1305 166h0M1203 90h0M1268 237h0M1219 233h0M1222 49h0M1280 228h0M1266 130h0M1311 95h0M1265 155h0M1189 112h0M1292 89h0M1273 179h0M1267 133h0M1254 84h0M1245 236h0M1275 117h0M1268 247h0M1296 149h0M1259 253h0M1277 94h0M1271 39h0M1230 250h0M1307 166h0M1298 197h0M1274 198h0M1296 49h0M1271 129h0M1251 225h0M1237 230h0M1248 80h0M1294 189h0M1261 206h0M1309 53h0M1259 184h0M1268 153h0M1308 128h0M1282 133h0M1273 195h0M1283 217h0M1280 132h0M1296 156h0M1306 87h0M1261 159h0M1288 124h0M1223 103h0M1267 262h0M1279 114h0M1200 113h0M1266 92h0M1264 157h0M1301 217h0M1287 86h0M1227 123h0M1292 109h0M1268 40h0M1261 244h0M1309 100h0M1259 224h0M1278 194h0M1296 164h0M1254 222h0M1286 241h0M1293 110h0M1229 127h0M1279 212h0M1273 244h0M1308 94h0M1297 169h0M1256 221h0M1278 193h0M1249 81h0M1282 246h0M1288 218h0M1287 139h0M1270 204h0M1256 105h0M1215 151h0M1288 190h0M1290 64h0M1248 232h0M1190 155h0M1302 117h0M1295 204h0M1275 152h0M1229 218h0M1275 232h0M1258 147h0M1226 249h0M1264 176h0M1194 83h0M1264 192h0M1258 207h0M1266 241h0M1274 226h0M1266 73h0M1256 235h0M1201 79h0M1264 147h0M1253 213h0M1265 226h0M1292 133h0M1269 50h0M1289 42h0M1245 103h0M1262 219h0M1285 134h0M1299 204h0M1263 179h0M1277 233h0M1266 236h0M1307 147h0M1251 217h0M1298 142h0M1256 202h0M1285 227h0M1268 219h0M1278 63h0M1308 80h0M1201 168h0M1314 68h0M1266 249h0M1303 119h0M1254 179h0M1288 102h0M1235 86h0M1230 229h0M1272 90h0M1204 107h0M1298 50h0M1203 155h0M1296 95h0M1274 120h0M1202 90h0M1254 252h0M1228 191h0M1250 248h0M1307 89h0M1258 165h0M1299 45h0M1268 121h0M1286 95h0M1298 187h0M1271 258h0M1288 183h0M1267 177h0M1259 132h0M1180 140h0M1279 181h0M1298 180h0M1274 177h0M1271 209h0M1288 180h0M1293 199h0M1236 164h0M1266 127h0M1268 36h0M1198 84h0M1238 43h0M1275 252h0M1278 114h0M1275 222h0M1272 93h0M1255 219h0M1268 250h0M1256 220h0M1204 126h0M1271 160h0M1199 113h0M1283 231h0M1260 199h0M1265 242h0M1260 164h0M1277 213h0M1296 166h0M1304 133h0M1196 113h0M1203 160h0M1237 125h0M1269 143h0M1297 82h0M1271 70h0M1283 77h0M1197 146h0M1278 141h0M1276 88h0M1237 223h0M1262 152h0M1231 158h0M1314 91h0M1304 106h0M1229 76h0M1224 236h0M1190 117h0M1261 216h0M1279 188h0M1317 80h0M1226 237h0M1263 85h0M1303 212h0M1274 116h0M1219 56h0M1264 215h0M1265 220h0M1302 158h0M1226 244h0M1275 215h0M1216 159h0M1306 177h0M1286 114h0M1251 239h0M1226 216h0M1212 79h0M1227 95h0M1269 130h0M1276 116h0M1301 192h0M1267 195h0M1293 176h0M1289 96h0M1248 249h0M1286 87h0M1303 191h0M1275 146h0M1307 176h0M1229 55h0M1283 244h0M1296 143h0M1301 97h0M1294 47h0M1296 195h0M1275 98h0M1307 125h0M1190 119h0M1281 195h0M1193 110h0M1267 99h0M1218 43h0M1247 222h0M1271 124h0M1286 227h0M1275 173h0M1273 134h0M1298 132h0M1301 84h0M1312 158h0M1266 118h0M1261 252h0M1254 77h0M1220 47h0M1322 79h0M1249 231h0M1276 72h0M1298 162h0M1281 100h0M1296 85h0M1269 112h0M1192 109h0M1296 95h0M1289 98h0M1293 138h0M1274 160h0M1309 131h0M1294 149h0M1281 209h0M1256 228h0M1300 173h0M1237 241h0M1201 79h0M1288 163h0M1296 177h0M1286 134h0M1283 199h0M1202 134h0M1305 157h0M1257 193h0M1265 163h0M1252 230h0M1262 225h0M1280 118h0M1302 200h0M1299 92h0M1230 230h0M1301 185h0M1296 123h0M1310 119h0M1296 143h0M1293 210h0M1253 227h0M1265 123h0M1290 167h0M1279 72h0M1270 242h0M1296 109h0M1302 200h0M1275 180h0M1291 117h0M1257 41h0M1271 242h0M1294 184h0M1225 238h0M1296 174h0M1267 137h0M1280 198h0M1256 109h0M1287 168h0M1278 231h0M1289 119h0M1267 256h0M1203 136h0M1312 71h0M1280 219h0M1297 117h0M1250 50h0M1292 88h0M1293 188h0M1276 184h0M1248 42h0M1232 65h0M1199 145h0M1271 152h0M1264 145h0M1263 188h0M1293 204h0M1293 67h0M1277 150h0M1267 230h0M1288 165h0M1239 239h0M1264 34h0M1248 232h0M1220 200h0M1287 93h0M1301 116h0M1290 169h0M1308 119h0M1256 100h0M1276 224h0M1271 215h0M1270 236h0M1300 66h0M1301 115h0M1232 52h0M1247 204h0M1226 239h0M1262 39h0M1284 165h0M1263 234h0M1233 219h0M1287 225h0M1285 73h0M1213 49h0M1282 75h0M1287 150h0M1299 206h0M1216 52h0M1236 242h0M1277 228h0M1230 192h0M1236 253h0M1264 63h0M1243 183h0M1201 114h0M1300 105h0M1271 198h0M1278 186h0M1296 121h0M1291 161h0M1277 215h0M1302 168h0M1205 80h0M1323 72h0M1219 38h0M1302 178h0M1292 91h0M1189 118h0M1292 201h0M1272 247h0M1287 119h0M1254 204h0M1296 191h0M1222 68h0M1225 230h0M1227 199h0M1228 178h0M1297 54h0M1250 118h0M1265 45h0M1244 89h0M1222 213h0M1297 130h0M1282 206h0M1228 210h0M1286 110h0M1273 70h0M1225 86h0M1306 179h0M1291 121h0M1244 166h0M1220 242h0M1251 110h0M1309 84h0M1292 108h0M1204 128h0M1280 230h0M1255 119h0M1217 57h0M1290 228h0M1301 111h0M1301 176h0M1229 169h0M1301 174h0M1312 93h0M1269 129h0M1270 155h0M1199 98h0M1283 53h0M1273 116h0M1227 229h0M1256 205h0M1266 141h0M1293 96h0M1271 57h0M1302 212h0M1298 129h0M1272 218h0M1267 144h0M1231 114h0M1285 183h0M1298 65h0M1231 240h0M1235 232h0M1217 212h0M1274 113h0M1314 95h0M1265 114h0M1258 226h0M1219 234h0M1248 138h0M1270 47h0M1285 162h0M1239 107h0M1208 175h0M1278 209h0M1299 98h0M1273 178h0M1316 61h0M1303 112h0M1293 66h0M1307 170h0M1267 223h0M1300 192h0M1216 227h0M1239 137h0M1188 112h0M1296 157h0M1277 206h0M1243 184h0M1289 64h0M1250 103h0M1283 151h0M1209 122h0M1263 217h0M1262 208h0M1303 98h0M1260 224h0M1221 122h0M1247 221h0M1311 139h0M1258 78h0M1268 148h0M1259 92h0M1269 245h0M1261 187h0M1269 55h0M1290 226h0M1264 70h0M1309 52h0M1302 90h0M1232 230h0M1258 184h0M1306 105h0M1290 223h0M1240 177h0M1287 88h0M1295 159h0M1317 62h0M1266 173h0M1290 158h0M1289 227h0M1272 160h0M1257 81h0M1301 55h0M1241 73h0M1205 192h0M1270 200h0M1243 231h0M1288 54h0M1203 91h0M1263 146h0M1293 121h0M1266 145h0M1261 211h0M1268 216h0M1284 230h0M1270 45h0M1303 85h0M1254 57h0M1275 71h0M1262 157h0M1224 36h0M1220 153h0M1197 113h0M1282 231h0M1284 219h0M1300 134h0M1212 179h0M1230 48h0M1275 216h0M1260 120h0M1235 238h0M1220 39h0M1294 85h0M1294 203h0M1303 136h0M1296 54h0M1235 208h0M1275 138h0M1289 107h0M1269 171h0M1300 159h0M1266 127h0M1203 118h0M1251 222h0M1211 56h0M1288 148h0M1275 65h0M1268 115h0M1246 113h0M1259 198h0M1282 211h0M1302 213h0M1257 73h0M1262 143h0M1252 72h0M1307 193h0M1272 190h0M1300 183h0M1273 219h0M1271 98h0M1196 116h0M1275 199h0M1259 217h0M1273 222h0M1259 249h0M1305 54h0M1265 238h0M1293 167h0M1187 103h0M1301 119h0M1264 180h0M1319 71h0M1314 79h0M1220 230h0M1292 94h0M1281 169h0M1259 242h0M1201 118h0M1213 46h0M1268 122h0M1184 142h0M1255 235h0M1268 246h0M1206 92h0M1284 183h0M1227 53h0M1296 193h0M1262 82h0M1262 189h0M1275 149h0M1303 121h0M1279 223h0M1250 37h0M1258 214h0M1279 113h0M1272 233h0M1290 135h0M1253 217h0M1272 157h0M1270 192h0M1280 168h0M1292 135h0M1268 102h0M1276 104h0M1289 165h0M1283 184h0M1289 200h0M1299 157h0M1272 146h0M1220 46h0M1187 105h0M1286 160h0M1197 93h0M1269 88h0M1289 90h0M1288 228h0M1286 219h0M1255 151h0M1295 66h0M1284 118h0M1260 171h0M1279 151h0M1267 155h0M1274 135h0M1202 142h0M1253 54h0M1189 106h0M1266 208h0M1294 180h0M1302 141h0M1308 121h0M1269 176h0M1300 65h0M1285 157h0M1287 188h0M1304 87h0M1202 78h0M1289 177h0M1214 49h0M1220 247h0M1250 67h0M1282 243h0M1281 219h0M1234 172h0M1203 190h0M1231 247h0M1227 227h0M1269 128h0M1301 112h0M1270 211h0M1306 184h0M1236 136h0M1267 160h0M1297 149h0M1308 196h0M1219 57h0M1257 225h0M1232 235h0M1270 137h0M1231 41h0M1267 173h0M1290 182h0M1260 206h0M1256 232h0M1270 181h0M1204 76h0M1272 102h0M1283 181h0M1274 147h0M1242 121h0M1228 244h0M1281 162h0M1307 84h0M1272 217h0M1283 240h0M1265 43h0M1296 176h0M1291 219h0M1233 231h0M1262 255h0M1215 225h0M1208 72h0M1310 125h0M1228 111h0M1258 223h0M1270 152h0M1297 173h0M1317 76h0M1272 67h0M1222 107h0M1269 105h0M1288 212h0M1287 193h0M1251 174h0M1230 249h0M1250 218h0M1272 201h0M1273 86h0M1287 177h0M1284 115h0M1286 182h0M1305 93h0M1260 222h0M1323 74h0M1278 245h0M1275 116h0M1294 123h0M1264 145h0M1204 175h0M1279 148h0M1269 258h0M1280 64h0M1304 91h0M1293 84h0M1263 76h0M1221 245h0M1236 215h0M1280 116h0M1297 148h0M1200 88h0M1286 121h0M1283 98h0M1298 121h0M1284 72h0M1280 233h0M1305 115h0M1218 38h0M1254 216h0M1300 93h0M1301 203h0M1265 63h0M1218 229h0M1306 182h0M1273 214h0M1224 48h0M1301 106h0M1298 68h0M1297 179h0M1301 146h0M1223 48h0M1307 167h0M1298 201h0M1229 227h0M1243 169h0M1224 231h0M1266 142h0M1281 117h0M1257 140h0M1226 199h0M1288 159h0M1299 109h0M1292 98h0M1239 217h0M1313 152h0M1279 177h0M1274 240h0M1195 113h0M1199 114h0M1201 82h0M1288 88h0M1220 43h0M1251 106h0M1292 59h0M1276 92h0M1284 185h0M1261 186h0M1311 79h0M1306 121h0M1265 208h0M1306 74h0M1283 145h0M1232 199h0M1216 176h0M1229 42h0M1222 214h0M1290 105h0M1223 49h0M1293 196h0M1267 133h0M1300 153h0M1283 107h0M1231 232h0M1222 58h0M1230 52h0M1292 130h0M1266 187h0M1282 213h0M1250 215h0M1274 203h0M1309 137h0M1261 251h0M1222 244h0M1247 240h0M1271 100h0M1278 159h0M1276 130h0M1267 169h0M1295 164h0M1257 203h0M1266 185h0M1276 250h0M1249 200h0M1287 158h0M1302 94h0M1254 119h0M1261 102h0M1288 149h0M1207 174h0M1307 91h0M1210 176h0M1297 170h0M1286 99h0M1257 195h0M1262 217h0M1196 130h0M1311 91h0M1262 190h0M1309 168h0M1271 264h0M1273 92h0M1210 174h0M1284 142h0M1261 74h0M1266 144h0M1215 52h0M1273 64h0M1289 194h0M1276 166h0M1216 46h0M1265 202h0M1273 135h0M1279 227h0M1265 227h0M1284 201h0M1283 59h0M1280 143h0M1297 151h0M1258 214h0M1299 195h0M1254 105h0M1279 155h0M1293 194h0M1265 62h0M1311 105h0M1197 102h0M1241 81h0M1296 146h0M1265 212h0M1255 247h0M1292 188h0M1207 88h0M1298 184h0M1305 110h0M1194 101h0M1255 232h0M1186 153h0M1250 245h0M1254 103h0M1293 112h0M1219 234h0M1244 132h0M1307 144h0M1305 200h0M1276 130h0M1309 181h0M1268 147h0M1296 177h0M1279 204h0M1299 123h0M1239 238h0M1287 125h0M1303 148h0M1290 166h0M1277 106h0M1296 159h0M1259 248h0M1250 44h0M1266 98h0M1262 124h0M1228 195h0M1277 260h0M1294 163h0M1272 201h0M1300 219h0M1292 155h0M1285 220h0M1281 90h0M1283 223h0M1311 144h0M1291 151h0M1260 146h0M1292 127h0M1245 202h0M1296 189h0M1192 89h0M1264 205h0M1282 216h0M1256 80h0M1282 186h0M1275 218h0M1300 76h0M1257 171h0M1309 69h0M1311 97h0M1311 152h0M1288 139h0M1312 114h0M1295 62h0M1270 195h0M1285 214h0M1278 256h0M1221 241h0M1278 157h0M1258 79h0M1279 168h0M1269 107h0M1263 214h0M1273 181h0M1267 65h0M1232 253h0M1257 84h0M1199 99h0M1269 94h0M1200 84h0M1243 192h0M1228 245h0M1291 164h0M1263 129h0M1289 138h0M1281 246h0M1268 254h0M1250 150h0M1227 238h0M1272 185h0M1300 152h0M1306 119h0M1291 213h0M1233 245h0M1282 199h0M1290 188h0M1226 228h0M1235 208h0M1218 237h0M1252 52h0M1266 245h0M1203 160h0M1272 247h0M1274 151h0M1250 171h0M1259 182h0M1283 144h0M1245 236h0M1264 102h0M1290 193h0M1280 198h0M1307 85h0M1278 123h0M1266 35h0M1279 114h0M1275 97h0M1289 100h0M1283 232h0M1282 71h0M1281 88h0M1228 248h0M1200 83h0M1266 143h0M1286 158h0M1270 99h0M1261 148h0M1233 255h0M1244 54h0M1277 88h0M1273 181h0M1292 182h0M1259 136h0M1292 84h0M1287 152h0M1257 180h0M1206 129h0M1290 126h0M1294 149h0M1276 124h0M1280 120h0M1276 236h0M1304 97h0M1307 137h0M1305 194h0M1273 121h0M1250 231h0M1273 103h0M1198 115h0M1274 218h0M1259 193h0M1282 101h0M1195 102h0M1290 156h0M1215 238h0M1246 237h0M1298 119h0M1302 66h0M1297 216h0M1286 124h0M1286 68h0M1291 72h0M1296 91h0M1267 169h0M1297 190h0M1273 125h0M1296 206h0M1232 210h0M1294 200h0M1310 169h0M1259 82h0M1264 192h0M1289 98h0M1264 200h0M1270 134h0M1247 230h0M1238 238h0M1255 233h0M1286 180h0M1260 203h0M1278 215h0M1275 233h0M1272 235h0M1217 237h0M1259 224h0M1287 202h0M1225 132h0M1264 206h0M1298 104h0M1277 185h0M1279 247h0M1287 165h0M1263 61h0M1274 228h0M1269 132h0M1293 140h0M1300 161h0M1274 159h0M1254 194h0M1278 153h0M1273 222h0M1300 189h0M1232 249h0M1278 209h0M1249 125h0M1260 195h0M1268 266h0M1286 112h0M1288 160h0M1259 43h0M1261 251h0M1197 84h0M1279 97h0M1281 227h0M1272 255h0M1308 99h0M1257 252h0M1305 128h0M1261 211h0M1312 73h0M1218 232h0M1272 233h0M1288 71h0M1215 214h0M1224 143h0M1269 205h0M1275 212h0M1291 196h0M1235 216h0M1274 229h0M1278 202h0M1264 194h0M1247 113h0M1193 100h0M1269 85h0M1255 225h0M1262 118h0M1248 243h0M1301 175h0M1291 79h0M1189 114h0M1196 89h0M1268 166h0M1268 210h0M1262 36h0M1297 201h0M1273 192h0M1292 204h0M1274 181h0M1283 147h0M1266 60h0M1270 114h0M1278 99h0M1295 219h0M1250 243h0M1278 161h0M1295 100h0M1274 166h0M1301 87h0M1304 100h0M1249 203h0M1270 190h0M1295 120h0M1289 197h0M1276 170h0M1270 113h0M1281 47h0M1259 191h0M1306 158h0M1293 58h0M1293 184h0M1232 97h0M1280 107h0M1265 224h0M1275 227h0M1279 121h0M1304 180h0M1281 167h0M1285 210h0M1203 189h0M1300 181h0M1214 48h0M1273 227h0M1299 158h0M1256 246h0M1233 217h0M1291 107h0M1269 101h0M1271 195h0M1293 213h0M1301 196h0M1270 234h0M1270 180h0M1277 251h0M1305 176h0M1218 109h0M1283 90h0M1209 151h0M1261 54h0M1299 146h0M1245 79h0M1260 234h0M1263 120h0M1309 149h0M1291 101h0M1218 240h0M1299 122h0M1282 217h0M1282 156h0M1304 163h0M1288 157h0M1234 246h0M1266 249h0M1288 143h0M1259 52h0M1304 175h0M1233 244h0M1292 108h0M1230 191h0M1266 159h0M1229 35h0M1267 184h0M1277 204h0M1296 174h0M1309 133h0M1270 251h0M1293 80h0M1251 229h0M1250 232h0M1226 38h0M1296 207h0M1251 153h0M1278 234h0M1201 101h0M1249 225h0M1201 184h0M1243 181h0M1279 153h0M1267 152h0M1230 44h0M1183 172h0M1232 243h0M1290 176h0M1274 69h0M1278 90h0M1265 85h0M1291 227h0M1202 104h0M1289 64h0M1216 234h0M1298 49h0M1269 218h0M1202 146h0M1261 174h0M1272 201h0M1289 194h0M1270 54h0M1219 49h0M1249 231h0M1276 91h0M1295 131h0M1285 86h0M1295 183h0M1316 65h0M1181 152h0M1238 254h0M1283 229h0M1271 207h0M1294 104h0M1291 116h0M1266 191h0M1297 60h0M1215 225h0M1230 228h0M1210 113h0M1309 96h0M1216 88h0M1199 112h0M1293 126h0M1292 139h0M1271 153h0M1232 225h0M1262 84h0M1310 138h0M1291 99h0M1261 81h0M1294 173h0M1242 182h0M1303 107h0M1267 190h0M1232 227h0M1257 93h0M1303 150h0M1282 87h0M1285 238h0M1266 186h0M1228 256h0M1268 138h0M1292 136h0M1297 72h0M1260 78h0M1298 134h0M1279 210h0M1228 242h0M1303 131h0M1275 147h0M1281 230h0M1202 159h0M1255 58h0M1274 132h0M1259 119h0M1263 159h0M1302 112h0M1292 190h0M1252 206h0M1228 55h0M1266 150h0M1271 247h0M1294 152h0M1296 99h0M1199 88h0M1233 235h0M1276 252h0M1272 238h0M1255 124h0M1231 227h0M1212 125h0M1273 182h0M1260 254h0M1269 71h0M1266 93h0M1283 119h0M1287 215h0M1205 138h0M1265 245h0M1281 70h0M1312 148h0M1291 213h0M1300 100h0M1284 234h0M1283 210h0M1271 110h0M1285 180h0M1268 168h0M1307 145h0M1288 144h0M1287 143h0M1249 142h0M1215 110h0M1207 181h0M1278 220h0M1265 226h0M1261 222h0M1280 190h0M1301 155h0M1274 61h0M1297 188h0M1221 252h0M1269 222h0M1232 46h0M1230 50h0M1247 229h0M1254 168h0M1260 203h0M1296 160h0M1198 111h0M1298 153h0M1226 92h0M1305 136h0M1274 130h0M1273 255h0M1256 234h0M1311 84h0M1222 236h0M1272 97h0M1276 240h0M1279 99h0M1192 102h0M1283 108h0M1273 221h0M1215 221h0M1273 138h0M1249 244h0M1261 155h0M1293 182h0M1273 258h0M1217 53h0M1260 38h0M1290 225h0M1196 90h0M1181 153h0M1279 151h0M1311 171h0M1297 57h0M1273 218h0M1299 120h0M1221 40h0M1298 161h0M1276 163h0M1227 56h0M1248 221h0M1282 173h0M1263 240h0M1272 95h0M1225 59h0M1302 123h0M1282 76h0M1256 191h0M1217 51h0M1301 212h0M1275 143h0M1287 65h0M1270 186h0M1268 206h0M1269 239h0M1261 235h0M1295 175h0M1270 140h0M1278 167h0M1295 139h0M1281 193h0M1229 254h0M1305 147h0M1287 230h0M1207 152h0M1266 154h0M1271 209h0M1261 133h0M1300 150h0M1287 67h0M1302 203h0M1295 141h0M1300 176h0M1300 63h0M1261 109h0M1277 224h0M1285 221h0M1281 156h0M1220 52h0M1260 163h0M1221 221h0M1261 96h0M1284 225h0M1251 230h0M1299 124h0M1288 213h0M1263 173h0M1298 90h0M1266 201h0M1252 246h0M1304 161h0M1291 178h0M1279 189h0M1268 167h0M1275 163h0M1295 87h0M1290 131h0M1294 174h0M1285 159h0M1288 118h0M1297 189h0M1280 93h0M1296 96h0M1269 45h0M1258 209h0M1229 76h0M1283 208h0M1215 39h0M1286 85h0M1285 109h0M1277 122h0M1266 202h0M1218 222h0M1307 107h0M1224 37h0M1245 247h0M1277 210h0M1211 176h0M1275 177h0M1265 217h0M1221 146h0M1279 179h0M1196 102h0M1288 108h0M1221 55h0M1279 224h0M1285 181h0M1296 140h0M1277 249h0M1218 39h0M1272 243h0M1291 217h0M1293 87h0M1276 221h0M1267 153h0M1256 138h0M1278 176h0M1296 196h0M1291 115h0M1212 81h0M1243 149h0M1218 236h0M1276 131h0M1277 69h0M1259 163h0M1201 89h0M1272 70h0M1284 243h0M1308 112h0M1217 156h0M1237 225h0M1299 106h0M1261 217h0M1290 189h0M1263 168h0M1306 106h0M1277 131h0M1258 109h0M1283 176h0M1251 43h0M1287 167h0M1255 242h0M1305 69h0M1298 206h0M1275 202h0M1266 151h0M1266 66h0M1277 174h0M1298 61h0M1268 45h0M1235 246h0M1215 146h0M1307 99h0M1276 248h0M1276 235h0M1286 145h0M1255 131h0M1221 38h0M1212 192h0M1290 138h0M1267 171h0M1249 218h0M1276 112h0M1308 179h0M1306 102h0M1267 157h0M1260 36h0M1322 69h0M1282 71h0M1262 43h0M1287 67h0M1297 162h0M1306 129h0M1305 141h0M1301 131h0M1296 108h0M1317 77h0M1295 139h0M1306 123h0M1280 238h0M1262 72h0M1306 176h0M1228 137h0M1228 39h0M1290 84h0M1276 191h0M1264 114h0M1299 133h0M1206 133h0M1234 226h0M1223 163h0M1266 214h0M1303 132h0M1236 238h0M1278 118h0M1293 192h0M1210 185h0M1255 182h0M1222 125h0M1282 162h0M1309 53h0M1299 161h0M1213 52h0M1287 152h0M1200 177h0M1311 58h0M1290 101h0M1290 183h0M1283 182h0M1213 227h0M1234 68h0M1291 208h0M1270 158h0M1295 162h0M1305 107h0M1299 209h0M1306 173h0M1232 188h0M1269 102h0M1271 109h0M1270 164h0M1221 213h0M1222 139h0M1312 166h0M1292 169h0M1254 150h0M1311 90h0M1284 41h0M1207 133h0M1296 172h0M1266 180h0M1222 69h0M1278 165h0M1228 245h0M1287 163h0M1195 110h0M1301 158h0M1269 90h0M1299 105h0M1266 114h0M1259 129h0M1203 109h0M1272 125h0M1273 182h0M1267 115h0M1296 158h0M1197 86h0M1251 151h0M1278 243h0M1219 52h0M1293 100h0M1297 85h0M1278 116h0M1264 153h0M1311 56h0M1234 185h0M1268 201h0M1286 184h0M1279 110h0M1196 90h0M1257 150h0M1273 62h0M1297 201h0M1232 253h0M1222 66h0M1244 177h0M1307 94h0M1262 223h0M1280 174h0M1273 248h0M1216 40h0M1270 238h0M1213 103h0M1307 86h0M1232 54h0M1202 113h0M1264 222h0M1274 254h0M1257 95h0M1290 156h0M1227 52h0M1289 177h0M1220 79h0M1252 55h0M1265 224h0M1205 196h0M1202 75h0M1285 124h0M1203 152h0M1302 90h0M1251 246h0M1294 135h0M1259 172h0M1271 123h0M1274 144h0M1226 137h0M1265 244h0M1306 164h0M1290 201h0M1261 118h0M1274 96h0M1237 249h0M1223 59h0M1213 45h0M1306 95h0M1256 227h0M1275 145h0M1261 199h0M1196 80h0M1290 100h0M1236 248h0M1235 239h0M1280 100h0M1276 43h0M1318 64h0M1282 143h0M1209 171h0M1270 49h0M1268 198h0M1248 225h0M1304 155h0M1310 87h0M1256 192h0M1303 166h0M1285 170h0M1211 96h0M1262 138h0M1295 193h0M1303 187h0M1256 69h0M1264 165h0M1271 231h0M1313 94h0M1288 77h0M1248 224h0M1305 147h0M1278 62h0M1260 222h0M1262 151h0M1197 169h0M1236 68h0M1240 145h0M1262 166h0M1278 184h0M1292 141h0M1307 169h0M1288 186h0M1309 154h0M1284 85h0M1256 246h0M1286 240h0M1226 218h0M1295 217h0M1227 224h0M1274 221h0M1256 114h0M1272 151h0M1214 111h0M1269 133h0M1298 111h0M1302 135h0M1286 65h0M1297 103h0M1203 114h0M1249 220h0M1203 94h0M1307 174h0M1248 193h0M1289 104h0M1253 130h0M1228 52h0M1225 51h0M1216 55h0M1222 78h0M1065 95h0M1066 85h0M1073 107h0M1063 93h0M1063 97h0M1059 82h0M1062 89h0M1067 104h0M1065 91h0M1071 97h0M1061 87h0M1064 91h0M1063 97h0M1082 113h0M1066 98h0M1060 97h0M1058 97h0M1059 89h0M1058 90h0M1057 86h0M1069 95h0M1063 96h0M1065 98h0M1062 102h0M1059 99h0M1065 98h0M1062 85h0M1057 87h0M1071 91h0M1075 106h0M1070 97h0" stroke="#e69f00" stroke-width="2.9"/></g>
<circle cx="534" cy="119.6" r="2.1" fill="#e69f00"/><text x="538.6" y="122.3" font-size="8.2">WT, n = 2,500</text><circle cx="534" cy="129.2" r="2.1" fill="#56b4e9"/><text x="538.6" y="131.9" font-size="8.2">KO, n = 4,042</text></g>
<g><text x="-0.3" y="180.5" font-size="16">E</text><line x1="32.8" y1="181.4" x2="32.8" y2="311" stroke="#000" stroke-width="0.6"/><line x1="32.5" y1="311" x2="164.2" y2="311" stroke="#000" stroke-width="0.6"/><line x1="55.9" y1="311" x2="55.9" y2="312.8" stroke="#000" stroke-width="0.5"/><text x="55.9" y="320.3" font-size="8.0" text-anchor="middle">-10</text><line x1="88.9" y1="311" x2="88.9" y2="312.8" stroke="#000" stroke-width="0.5"/><text x="88.9" y="320.3" font-size="8.0" text-anchor="middle">-5</text><line x1="121.9" y1="311" x2="121.9" y2="312.8" stroke="#000" stroke-width="0.5"/><text x="121.9" y="320.3" font-size="8.0" text-anchor="middle">0</text><line x1="154.9" y1="311" x2="154.9" y2="312.8" stroke="#000" stroke-width="0.5"/><text x="154.9" y="320.3" font-size="8.0" text-anchor="middle">5</text><line x1="31" y1="211.4" x2="32.8" y2="211.4" stroke="#000" stroke-width="0.5"/><text x="29.8" y="214.3" font-size="8.0" text-anchor="end">2.5</text><line x1="31" y1="241.6" x2="32.8" y2="241.6" stroke="#000" stroke-width="0.5"/><text x="29.8" y="244.5" font-size="8.0" text-anchor="end">0.0</text><line x1="31" y1="271.8" x2="32.8" y2="271.8" stroke="#000" stroke-width="0.5"/><text x="29.8" y="274.6" font-size="8.0" text-anchor="end">-2.5</text><line x1="31" y1="301.9" x2="32.8" y2="301.9" stroke="#000" stroke-width="0.5"/><text x="29.8" y="304.8" font-size="8.0" text-anchor="end">-5.0</text><text x="97.4" y="330.3" font-size="8.0" text-anchor="middle">UMAP_1</text><text x="9.7" y="247" font-size="8.0" text-anchor="middle" transform="rotate(-90 9.7 247)">UMAP_2</text><g transform="scale(.5)" stroke-linecap="round" fill="none"><path d="M238 407h0M265 406h0M280 442h0M220 457h0M218 403h0M211 531h0M257 532h0M219 456h0M254 430h0M244 468h0M242 464h0M249 402h0M258 497h0M263 485h0M241 523h0M268 544h0M236 503h0M262 481h0M240 444h0M259 527h0M256 537h0M236 443h0M267 404h0M226 436h0M252 440h0M231 511h0M262 484h0M211 473h0M248 420h0M239 488h0M269 457h0M272 544h0M251 472h0M267 401h0M231 442h0M237 457h0M250 516h0M224 420h0M212 471h0M262 469h0M264 522h0M215 528h0M234 477h0M220 492h0M233 440h0M269 433h0M241 444h0M271 442h0M233 383h0M260 470h0M256 514h0M254 465h0M242 533h0M273 420h0M265 472h0M239 436h0M249 428h0M256 489h0M220 468h0M209 512h0M212 502h0M259 550h0M252 483h0M267 480h0M223 481h0M224 424h0M264 547h0M231 523h0M235 495h0M236 518h0M267 551h0M232 430h0M257 549h0M258 497h0M272 439h0M215 523h0M235 521h0M261 552h0M252 508h0M269 534h0M249 492h0M261 497h0M252 471h0M227 495h0M214 510h0M269 569h0M258 460h0M231 498h0M264 516h0M237 470h0M224 526h0M240 446h0M253 439h0M242 466h0M244 440h0M222 533h0M238 425h0M227 465h0M253 462h0M220 486h0M256 437h0M252 419h0M256 422h0M274 552h0M215 529h0M269 469h0M282 433h0M255 478h0M256 450h0M209 528h0M226 460h0M211 531h0M235 456h0M255 410h0M234 476h0M272 457h0M256 439h0M262 429h0M256 437h0M220 498h0M226 445h0M222 512h0M213 530h0M260 454h0M240 515h0M223 455h0M248 430h0M246 532h0M256 445h0M270 411h0M268 468h0M244 513h0M242 434h0M263 430h0M228 398h0M263 489h0M216 421h0M243 508h0M219 409h0M233 386h0M228 523h0M251 493h0M226 448h0M229 478h0M254 471h0M276 444h0M227 467h0M237 421h0M233 525h0M229 452h0M219 453h0M252 485h0M261 552h0M277 445h0M230 481h0M219 442h0M270 448h0M248 416h0M256 488h0M229 407h0M245 467h0M214 522h0M234 472h0M251 522h0M242 467h0M270 447h0M223 525h0M272 481h0M251 416h0M209 458h0M237 418h0M217 426h0M226 516h0M274 458h0M257 500h0M221 525h0M263 522h0M266 520h0M222 443h0M241 507h0M214 532h0M221 408h0M210 532h0M220 458h0M234 494h0M259 435h0M252 515h0M226 435h0M223 452h0M264 450h0M234 463h0M226 430h0M223 508h0M272 447h0M232 505h0M241 470h0M237 425h0M219 405h0M264 459h0M238 409h0M270 431h0M266 457h0M253 427h0M226 413h0M249 534h0M241 446h0M286 449h0M244 483h0M218 506h0M242 501h0M224 534h0M269 479h0M235 415h0M218 469h0M248 417h0M242 507h0M251 432h0M221 483h0M263 521h0M231 431h0M259 504h0M242 493h0M240 413h0M257 453h0M254 533h0M253 411h0M242 439h0M213 526h0M224 425h0M215 541h0M209 521h0M248 406h0M239 442h0M243 533h0M232 407h0M230 425h0M264 468h0M229 439h0M273 438h0M249 442h0M263 487h0M229 545h0M252 434h0M246 399h0M214 463h0M219 466h0M254 458h0M254 412h0M271 464h0M253 414h0M255 415h0M240 437h0M235 439h0M215 534h0M276 476h0M241 486h0M263 474h0M223 499h0M266 557h0M252 446h0M251 426h0M275 472h0M224 477h0M229 478h0M270 430h0M259 553h0M265 424h0M213 478h0M270 453h0M255 445h0M222 490h0M221 417h0M231 418h0M266 515h0M240 468h0M229 492h0M261 491h0M254 520h0M213 518h0M253 508h0M228 517h0M231 412h0M231 511h0M266 549h0M272 419h0M250 507h0M223 487h0M228 510h0M214 499h0M265 514h0M243 497h0M214 530h0M244 531h0M245 511h0M262 406h0M282 441h0M204 492h0M230 447h0M216 504h0M268 476h0M265 529h0M238 488h0M267 458h0M220 497h0M234 408h0M237 436h0M245 423h0M222 466h0M238 480h0M222 401h0M271 392h0M245 532h0M257 429h0M224 511h0M254 468h0M258 519h0M218 436h0M274 456h0M257 424h0M249 434h0M238 455h0M212 453h0M219 404h0M229 519h0M220 456h0M211 530h0M229 455h0M229 512h0M269 456h0M245 496h0M266 535h0M228 493h0M213 431h0M273 385h0M217 433h0M252 463h0M269 412h0M212 463h0M263 477h0M207 523h0M217 454h0M282 439h0M264 399h0M246 468h0M249 476h0M265 463h0M232 409h0M213 488h0M249 450h0M234 462h0M267 421h0M232 403h0M239 427h0M240 494h0M248 408h0M266 469h0M255 461h0M268 413h0M255 458h0M233 432h0M263 530h0M236 428h0M227 457h0M213 403h0M234 400h0M268 533h0M237 441h0M264 487h0M246 471h0M215 403h0M264 466h0M222 530h0M215 445h0M248 538h0M257 498h0M242 499h0M272 440h0M210 510h0M225 509h0M235 409h0M216 525h0M267 478h0M232 528h0M207 489h0M269 399h0M224 533h0M245 462h0M277 435h0M258 451h0M262 561h0M220 495h0M222 476h0M242 538h0M276 461h0M271 427h0M230 415h0M220 410h0M243 499h0M272 456h0M212 532h0M237 411h0M248 435h0M215 403h0M231 497h0M275 409h0M209 512h0M253 414h0M239 507h0M233 460h0M253 515h0M229 450h0M263 494h0M223 419h0M268 451h0M211 511h0M233 434h0M223 426h0M221 433h0M237 407h0M226 477h0M219 417h0M215 516h0M266 519h0M230 432h0M267 439h0M233 398h0M215 420h0M222 401h0M260 507h0M251 424h0M225 414h0M259 436h0M271 469h0M252 474h0M224 520h0M265 488h0M232 427h0M267 453h0M279 411h0M250 496h0M260 484h0M267 547h0M226 410h0M236 472h0M221 469h0M223 516h0M214 473h0M238 483h0M269 423h0M270 439h0M251 479h0M253 457h0M225 429h0M245 506h0M243 439h0M244 534h0M263 491h0M223 477h0M231 430h0M245 444h0M271 418h0M274 463h0M268 415h0M210 530h0M218 459h0M233 444h0M218 539h0M228 415h0M268 398h0M261 510h0M245 442h0M244 526h0M232 465h0M220 397h0M216 510h0M223 454h0M270 405h0M221 533h0M245 496h0M257 468h0M243 424h0M256 411h0M218 438h0M224 523h0M269 533h0M222 408h0M254 444h0M237 430h0M225 467h0M219 434h0M214 463h0M231 394h0M229 448h0M256 416h0M258 526h0M224 461h0M232 459h0M221 442h0M273 425h0M232 392h0M233 386h0M210 528h0M221 482h0M255 499h0M251 507h0M272 423h0M255 404h0M214 462h0M207 479h0M245 465h0M242 498h0M215 464h0M236 425h0M231 439h0M240 454h0M251 424h0M256 413h0M267 417h0M235 402h0M237 468h0M209 472h0M229 517h0M264 452h0M234 383h0M226 473h0M237 531h0M255 468h0M270 417h0M230 479h0M247 444h0M233 408h0M231 545h0M221 527h0M234 394h0M262 489h0M236 470h0M223 506h0M235 451h0M215 506h0M251 452h0M263 480h0M258 416h0M273 472h0M229 483h0M215 487h0M225 505h0M233 388h0M267 455h0M244 448h0M219 470h0M252 511h0M271 556h0M258 473h0M235 502h0M263 408h0M271 557h0M259 430h0M259 512h0M237 541h0M245 410h0M223 539h0M257 493h0M248 427h0M272 438h0M228 424h0M256 499h0M236 401h0M222 472h0M237 476h0M261 458h0M270 428h0M239 432h0M241 434h0M217 531h0M223 404h0M246 443h0M225 493h0M219 412h0M235 479h0M234 425h0M244 442h0M236 407h0M216 517h0M271 443h0M217 436h0M262 551h0M264 424h0M242 510h0M255 471h0M261 408h0M234 387h0M242 480h0M241 537h0M242 482h0M265 517h0M230 530h0M210 469h0M267 421h0M242 463h0M262 511h0M214 524h0M240 522h0M213 505h0M263 504h0M280 458h0M266 522h0M216 489h0M257 434h0M267 455h0M248 410h0M270 538h0M212 481h0M222 495h0M236 494h0M274 454h0M235 491h0M266 407h0M220 503h0M255 535h0M212 414h0M251 503h0M263 505h0M248 477h0M219 485h0M262 481h0M222 522h0M222 521h0M281 440h0M258 448h0M217 536h0M262 424h0M218 486h0M244 398h0M257 499h0M278 442h0M239 478h0M224 526h0M235 485h0M271 385h0M226 465h0M272 430h0M274 411h0M263 442h0M231 470h0M241 506h0M225 430h0M225 523h0M211 539h0M241 432h0M266 405h0M240 475h0M236 481h0M258 519h0M226 432h0M218 508h0M237 411h0M231 455h0M269 430h0M265 478h0M247 407h0M274 450h0M266 513h0M227 503h0M230 419h0M274 450h0M237 448h0M225 417h0M241 549h0M247 494h0M234 448h0M235 386h0M238 437h0M257 557h0M267 567h0M225 462h0M224 465h0M229 439h0M238 424h0M276 440h0M260 423h0M237 445h0M259 501h0M257 484h0M263 419h0M210 515h0M234 420h0M205 493h0M272 427h0M222 477h0M252 475h0M236 477h0M253 424h0M275 439h0M268 469h0M258 434h0M224 440h0M261 441h0M271 457h0M212 525h0M231 460h0M218 500h0M234 496h0M266 437h0M217 538h0M258 461h0M277 437h0M212 460h0M224 443h0M258 430h0M258 411h0M235 462h0M266 459h0M266 411h0M258 466h0M241 471h0M269 451h0M256 428h0M255 465h0M225 495h0M234 427h0M229 496h0M253 420h0M256 452h0M224 485h0M212 470h0M268 430h0M245 538h0M233 493h0M261 508h0M268 427h0M244 416h0M213 531h0M263 515h0M241 474h0M216 435h0M264 453h0M229 432h0M239 418h0M214 518h0M226 465h0M265 412h0M269 449h0M250 452h0M276 449h0M221 488h0M261 504h0M220 546h0M239 489h0M221 400h0M246 533h0M227 492h0M215 529h0M227 496h0M223 483h0M233 447h0M276 464h0M263 526h0M213 539h0M249 516h0M261 530h0M221 507h0M260 422h0M223 498h0M233 434h0M216 523h0M259 449h0M236 466h0M236 392h0M243 495h0M241 412h0M265 534h0M247 473h0M253 533h0M222 500h0M216 510h0M207 471h0M258 554h0M271 431h0M230 456h0M219 511h0M265 452h0M211 522h0M231 410h0M230 480h0M261 439h0M240 407h0M262 522h0M213 455h0M233 458h0M231 479h0M239 490h0M255 407h0M216 536h0M204 523h0M272 433h0M226 510h0M250 518h0M234 434h0M266 503h0M231 494h0M253 451h0M218 440h0M243 440h0M234 453h0M270 409h0M251 520h0M213 468h0M270 403h0M225 424h0M233 459h0M225 442h0M232 503h0M274 462h0M216 530h0M211 458h0M240 408h0M221 412h0M249 448h0M239 507h0M234 540h0M213 473h0M247 521h0M245 488h0M242 442h0M269 474h0M258 482h0M207 491h0M235 424h0M221 416h0M238 473h0M229 538h0M273 427h0M271 395h0M269 473h0M216 450h0M245 408h0M275 418h0M250 446h0M275 438h0M262 468h0M254 403h0M208 460h0M218 511h0M227 497h0M237 497h0M264 468h0M229 511h0M270 402h0M245 497h0M226 514h0M267 449h0M223 395h0M221 439h0M221 501h0M269 416h0M228 406h0M249 476h0M251 471h0M212 468h0M255 413h0M246 417h0M223 530h0M238 480h0M241 481h0M248 426h0M220 507h0M251 412h0M248 448h0M237 453h0M218 467h0M264 527h0M267 461h0M272 439h0M255 430h0M258 469h0M242 398h0M263 556h0M234 444h0M217 495h0M267 536h0M282 444h0M219 451h0M266 510h0M268 452h0M231 518h0M239 444h0M256 497h0M270 454h0M248 443h0M266 403h0M248 436h0M250 440h0M238 484h0M246 412h0M208 523h0M227 463h0M231 400h0M231 412h0M253 459h0M242 442h0M263 494h0M235 446h0M250 517h0M221 409h0M265 531h0M249 461h0M215 491h0M223 480h0M282 437h0M214 519h0M223 512h0M242 446h0M229 504h0M271 471h0M273 450h0M250 456h0M222 512h0M261 491h0M274 448h0M263 440h0M258 407h0M230 517h0M263 499h0M262 450h0M259 443h0M254 489h0M261 428h0M270 412h0M245 421h0M219 544h0M249 504h0M254 465h0M272 429h0M223 513h0M275 464h0M275 435h0M210 462h0M214 464h0M227 478h0M270 460h0M219 453h0M212 498h0M275 436h0M242 485h0M269 463h0M243 425h0M255 463h0M258 504h0M280 432h0M238 403h0M228 502h0M267 478h0M270 455h0M237 477h0M243 487h0M222 417h0M239 473h0M215 462h0M258 424h0M248 478h0M241 448h0M261 411h0M240 527h0M232 388h0M223 418h0M237 484h0M220 406h0M213 496h0M209 460h0M269 461h0M247 469h0M234 427h0M233 494h0M259 422h0M222 460h0M264 565h0M231 435h0M225 517h0M244 434h0M245 458h0M216 459h0M271 478h0M275 438h0M254 531h0M256 517h0M228 480h0M276 464h0M215 401h0M222 520h0M230 449h0M237 527h0M272 440h0M239 485h0M248 462h0M245 435h0M232 521h0M218 485h0M212 498h0M214 492h0M240 437h0M251 483h0M256 523h0M244 451h0M222 443h0M247 459h0M224 528h0M237 454h0M223 416h0M240 428h0M218 440h0M218 526h0M224 455h0M250 421h0M225 489h0M243 443h0M266 455h0M207 515h0M275 436h0M267 411h0M230 508h0M228 519h0M228 498h0M270 460h0M233 483h0M269 408h0M215 462h0M245 431h0M265 414h0M234 380h0M264 401h0M265 415h0M229 407h0M253 504h0M268 534h0M247 480h0M268 472h0M243 518h0M264 436h0M228 418h0M229 481h0M232 439h0M248 426h0M230 502h0M256 497h0M258 501h0M232 429h0M266 457h0M253 517h0M230 420h0M261 507h0M215 468h0M223 436h0M265 489h0M230 514h0M257 468h0M257 413h0M245 538h0M238 504h0M263 520h0M209 507h0M211 530h0M265 471h0M254 407h0M267 440h0M234 512h0M212 534h0M220 475h0M247 442h0M233 453h0M242 403h0M233 453h0M260 501h0M221 450h0M270 459h0M251 431h0M215 448h0M267 413h0M234 539h0M250 422h0M279 451h0M239 435h0M220 407h0M215 459h0M241 439h0M270 472h0M216 532h0M207 464h0M263 513h0M236 424h0M222 461h0M213 511h0M212 519h0M243 459h0M240 461h0M203 492h0M248 468h0M232 530h0M232 469h0M236 462h0M222 495h0M212 500h0M238 499h0M228 422h0M219 483h0M209 455h0M224 402h0M241 495h0M238 413h0M216 415h0M264 535h0M221 478h0M252 423h0M225 484h0M239 475h0M256 432h0M246 442h0M266 532h0M254 420h0M253 518h0M265 542h0M212 519h0M236 422h0M221 482h0M208 524h0M236 439h0M255 507h0M240 500h0M265 521h0M265 441h0M227 537h0M231 544h0M240 504h0M228 402h0M271 454h0M243 526h0M259 476h0M232 391h0M274 437h0M229 443h0M262 562h0M228 446h0M268 488h0M221 495h0M221 433h0M231 430h0M229 440h0M227 456h0M225 407h0M262 465h0M228 411h0M246 477h0M240 463h0M266 478h0M269 552h0M266 453h0M263 561h0M243 416h0M232 470h0M249 405h0M244 418h0M245 542h0M239 445h0M210 534h0M244 492h0M259 410h0M272 456h0M263 526h0M256 522h0M223 449h0M254 516h0M247 423h0M253 445h0M267 565h0M271 463h0M246 517h0M246 490h0M271 468h0M227 444h0M277 446h0M278 431h0M233 394h0M239 440h0M243 416h0M220 477h0M267 554h0M260 494h0M218 423h0M229 521h0M240 480h0M243 484h0M215 508h0M248 419h0M258 559h0M219 488h0M233 416h0M251 516h0M259 427h0M232 482h0M215 450h0M253 434h0M239 448h0M227 534h0M224 449h0M230 514h0M233 455h0M227 412h0M266 525h0M253 522h0M268 484h0M224 398h0M246 483h0M218 401h0M270 405h0M233 383h0M270 547h0M222 449h0M265 499h0M217 443h0M244 484h0M244 503h0M274 455h0M246 541h0M246 408h0M279 442h0M234 534h0M269 452h0M236 455h0M211 473h0M252 433h0M238 463h0M247 413h0M218 444h0M209 497h0M271 475h0M239 471h0M239 463h0M248 469h0M228 442h0M257 437h0M263 537h0M243 493h0M221 494h0M235 528h0M232 450h0M216 508h0M230 454h0M215 533h0M214 487h0M266 505h0M220 466h0M225 407h0M228 426h0M255 497h0M243 440h0M262 453h0M264 462h0M249 512h0M218 468h0M212 534h0M209 523h0M272 466h0M271 404h0M248 413h0M262 481h0M255 428h0M238 496h0M263 430h0M236 468h0M234 394h0M242 430h0M258 442h0M217 427h0M211 491h0M247 488h0M264 477h0M264 546h0M258 501h0M211 448h0M234 432h0M243 507h0M226 529h0M257 467h0M270 486h0M241 519h0M246 456h0M214 548h0M234 447h0M233 421h0M251 522h0M257 553h0M219 511h0M266 521h0M229 434h0M257 420h0M214 426h0M254 471h0M215 405h0M226 438h0M229 512h0M219 406h0M224 399h0M268 470h0M225 425h0M275 476h0M225 417h0M268 418h0M254 514h0M249 478h0M223 403h0M257 557h0M225 517h0M233 455h0M267 467h0M251 484h0M254 453h0M230 430h0M257 536h0M275 429h0M263 489h0M219 446h0M251 497h0M261 434h0M219 530h0M260 427h0M249 449h0M243 428h0M249 464h0M213 525h0M269 417h0M272 454h0M224 537h0M265 479h0M244 517h0M246 423h0M227 513h0M236 415h0M256 414h0M252 450h0M255 435h0M252 408h0M270 449h0M229 519h0M261 492h0M236 509h0M272 460h0M271 398h0M229 501h0M230 433h0M243 486h0M252 486h0M230 526h0M207 505h0M225 474h0M238 436h0M243 422h0M209 516h0M265 495h0M213 463h0M228 529h0M215 520h0M246 466h0M242 468h0M223 430h0M242 459h0M228 512h0M281 454h0M253 408h0M277 470h0M240 514h0M258 445h0M260 483h0M221 450h0M233 473h0M251 493h0M243 478h0M263 509h0M218 435h0M225 433h0M263 488h0M252 537h0M251 399h0M213 521h0M238 512h0M218 460h0M261 469h0M230 419h0M254 417h0M233 440h0M237 513h0M243 474h0M216 503h0M227 402h0M212 531h0M216 458h0M249 405h0M247 497h0M229 422h0M260 427h0M283 439h0M230 406h0M237 434h0M227 421h0M274 460h0M263 488h0M246 471h0M249 495h0M220 470h0M217 523h0M240 479h0M255 438h0M226 455h0M227 494h0M233 463h0M212 456h0M256 498h0M254 483h0M216 412h0M220 492h0M234 403h0M219 494h0M265 470h0M286 453h0M253 445h0M242 443h0M222 441h0M217 404h0M226 521h0M213 535h0M215 467h0M235 419h0M258 412h0M224 535h0M245 420h0M248 533h0M255 494h0M221 406h0M261 421h0M244 512h0M224 432h0M259 507h0M266 541h0M240 506h0M242 530h0M225 493h0M230 498h0M254 491h0M228 476h0M256 465h0M216 424h0M247 480h0M248 515h0M244 471h0M248 446h0M214 485h0M214 507h0M275 453h0M219 513h0M243 505h0M231 507h0M214 457h0M250 499h0M236 443h0M273 474h0M239 525h0M232 484h0M267 401h0M218 459h0M237 418h0M254 435h0M250 454h0M246 465h0M236 504h0M271 424h0M257 445h0M257 494h0M256 490h0M256 405h0M223 413h0M214 475h0M264 559h0M240 471h0M265 463h0M260 511h0M241 484h0M269 415h0M237 413h0M245 499h0M271 477h0M220 437h0M263 550h0M234 452h0M265 484h0M261 405h0M236 502h0M262 501h0M250 476h0M261 516h0M228 506h0M243 454h0M226 449h0M213 407h0M259 454h0M226 470h0M222 479h0M216 400h0M218 471h0M268 491h0M264 422h0M245 446h0M239 434h0M208 477h0M215 428h0M254 434h0M220 484h0M225 463h0M263 425h0M237 532h0M217 480h0M267 553h0M223 536h0M248 410h0M273 463h0M214 500h0M240 525h0M254 425h0M251 489h0M232 474h0M228 425h0M266 414h0M267 442h0M260 504h0M253 491h0M238 495h0M270 463h0M262 481h0M245 415h0M226 478h0M223 486h0M222 508h0M265 442h0M231 472h0M252 466h0M254 494h0M217 427h0M229 442h0M262 560h0M241 513h0M269 556h0M268 558h0M232 407h0M264 545h0M263 549h0M231 463h0M230 536h0M258 446h0M259 442h0M250 524h0M233 489h0M272 463h0M212 522h0M254 522h0M237 504h0M248 508h0M235 408h0M259 493h0M231 431h0M241 413h0M225 428h0M275 455h0M240 426h0M239 508h0M268 565h0M219 441h0M252 427h0M248 461h0M250 432h0M269 429h0M263 524h0M230 430h0M239 511h0M248 514h0M223 481h0M252 444h0M242 417h0M222 472h0M275 444h0M212 511h0M244 522h0M234 520h0M254 407h0M244 532h0M252 484h0M242 497h0M241 513h0M263 535h0M223 465h0M257 504h0M263 552h0M236 473h0M223 526h0M221 400h0M278 448h0M233 418h0M235 415h0M252 494h0M256 543h0M239 430h0M215 393h0M226 490h0M243 480h0M211 477h0M219 412h0M232 521h0M240 533h0M228 479h0M245 453h0M268 409h0M209 516h0M245 432h0M253 465h0M267 526h0M270 470h0M251 415h0M283 439h0M259 455h0M284 444h0M263 440h0M242 509h0M226 525h0M211 537h0M212 531h0M254 416h0M248 438h0M250 506h0M265 421h0M229 525h0M254 427h0M255 441h0M262 529h0M273 417h0M274 455h0M257 472h0M212 513h0M249 407h0M260 515h0M213 491h0M226 407h0M231 465h0M220 401h0M230 485h0M213 534h0M244 479h0M245 424h0M279 444h0M268 478h0M247 398h0M281 441h0M266 435h0M219 528h0M213 437h0M272 434h0M228 460h0M246 443h0M253 404h0M216 503h0M270 425h0M267 401h0M218 496h0M266 492h0M247 554h0M240 509h0M271 399h0M244 417h0M224 480h0M251 486h0M229 536h0M224 466h0M235 500h0M207 509h0M229 490h0M259 518h0M228 495h0M256 482h0M262 556h0M242 400h0M246 415h0M276 478h0M251 484h0M225 473h0M265 480h0M240 409h0M240 448h0M224 507h0M218 443h0M213 495h0M274 471h0M206 464h0M227 506h0M258 518h0M274 446h0M233 470h0M250 493h0M276 444h0M242 504h0M229 542h0M246 490h0M224 497h0M227 459h0M244 527h0M254 487h0M223 496h0M264 546h0M240 535h0M235 486h0M219 479h0M219 434h0M239 438h0M217 506h0M248 421h0M234 488h0M253 487h0M245 397h0M274 431h0M270 410h0M239 456h0M210 484h0M220 525h0M260 504h0M247 419h0M253 422h0M266 431h0M225 535h0M265 402h0M255 572h0M257 463h0M246 509h0M218 460h0M256 459h0M257 474h0M250 529h0M212 522h0M222 507h0M227 515h0M236 466h0M215 430h0M216 528h0M225 527h0M226 425h0M263 445h0M211 525h0M266 473h0M272 421h0M234 395h0M237 537h0M212 463h0M262 479h0M212 462h0M271 396h0M252 456h0M214 461h0M262 432h0M224 486h0M218 492h0M237 472h0M212 537h0M234 416h0M252 497h0" stroke="#56B4E9" stroke-width="2.9"/><path d="M204 523h0M213 432h0M200 507h0M187 514h0M209 438h0M198 437h0M193 474h0M202 440h0M207 433h0M198 496h0M205 453h0M203 491h0M205 443h0M209 448h0M195 463h0M194 496h0M205 443h0M205 521h0M213 436h0M211 504h0M208 463h0M195 505h0M209 436h0M209 456h0M213 435h0M206 497h0M191 515h0M201 500h0M207 505h0M208 440h0M201 447h0M203 453h0M208 423h0M208 519h0M206 453h0M211 441h0M211 423h0M186 490h0M197 468h0M211 428h0M204 460h0M205 433h0M209 418h0M197 519h0M201 455h0M196 487h0M193 488h0M195 508h0M206 445h0M199 531h0M187 499h0M197 494h0M204 455h0M206 506h0M199 478h0M183 515h0M206 514h0M212 439h0M200 532h0M179 503h0M206 530h0M214 415h0M201 499h0M205 506h0M198 461h0M218 433h0M178 501h0M188 483h0M196 496h0M201 434h0M201 503h0M199 527h0M203 431h0M206 524h0M210 416h0M208 448h0M188 499h0M196 477h0M197 454h0M186 522h0M195 527h0M197 454h0M190 503h0M194 510h0M204 516h0M183 488h0M202 515h0M210 445h0M188 514h0M208 442h0M210 448h0M202 448h0M189 500h0M209 526h0M181 501h0M209 431h0M206 445h0M186 507h0M199 487h0M201 496h0M189 485h0M199 432h0M190 528h0M214 447h0M204 484h0M201 447h0M198 455h0M194 482h0M191 517h0M200 463h0M187 486h0M203 440h0M210 480h0M193 494h0M184 496h0M194 456h0M202 432h0M211 420h0M192 490h0M204 483h0M210 449h0M216 419h0M208 432h0M200 432h0M198 506h0M210 484h0M208 504h0M194 503h0M210 465h0M184 509h0M208 419h0M203 527h0M212 428h0M188 489h0M217 421h0M202 476h0M179 509h0M188 487h0M192 497h0M193 519h0M206 422h0M207 419h0M210 517h0M207 469h0M196 445h0M193 510h0M216 427h0M199 523h0M201 505h0M202 527h0M216 406h0M218 454h0M207 428h0M198 506h0M197 471h0M206 458h0M205 449h0M196 480h0M213 475h0M206 448h0M183 510h0M181 511h0M200 474h0M204 525h0M193 464h0M210 459h0M195 505h0M216 526h0M203 445h0M204 513h0M199 489h0M210 473h0M200 471h0M196 507h0M193 498h0M199 439h0M183 521h0M195 517h0M199 519h0M206 457h0M204 506h0M201 507h0M183 518h0M210 504h0M206 462h0M192 529h0M188 504h0M205 443h0M199 466h0M194 523h0M191 495h0M193 519h0M195 503h0M186 503h0M210 435h0M214 499h0M207 467h0M203 520h0M185 487h0M206 449h0M211 466h0M193 487h0M192 485h0M187 509h0M206 468h0M205 454h0M214 427h0M193 502h0M202 470h0M199 524h0M206 425h0M209 467h0M208 441h0M185 489h0M200 520h0M191 475h0M207 450h0M205 488h0M191 527h0M181 494h0M203 459h0M206 477h0M204 495h0M197 463h0M201 454h0M189 507h0M203 494h0M185 501h0M200 475h0M180 499h0M206 442h0M218 410h0M217 417h0M215 420h0M186 492h0M199 446h0M194 489h0M203 510h0M211 538h0M208 500h0M184 490h0M210 441h0M191 511h0M203 522h0M208 484h0M192 514h0M187 478h0M184 506h0M210 476h0M200 434h0M181 494h0M187 503h0M204 510h0M184 498h0M197 451h0M214 430h0M189 503h0M200 517h0M198 489h0M205 499h0M204 487h0M211 443h0M181 495h0M193 487h0M185 487h0M215 421h0M198 473h0M195 526h0M197 521h0M202 478h0M205 491h0M198 527h0M209 420h0M208 438h0M199 487h0M199 532h0M205 481h0M192 480h0M200 504h0M207 523h0M204 518h0M186 514h0M198 512h0M202 525h0M203 522h0M206 510h0M208 443h0M207 448h0M199 438h0M206 519h0M186 493h0M200 496h0M209 453h0M209 478h0M208 519h0M203 519h0M203 477h0M199 492h0M207 513h0M198 499h0M211 474h0M197 455h0M192 508h0M201 517h0M203 479h0M184 491h0M209 495h0M185 511h0M199 507h0M184 498h0M192 494h0M198 518h0M201 449h0M186 490h0M198 516h0M208 485h0M195 446h0M194 459h0M189 488h0M198 503h0M185 493h0M195 467h0M200 524h0M195 514h0M205 515h0M208 452h0M201 505h0M195 461h0M205 437h0M206 448h0M189 492h0M198 523h0M212 447h0M200 448h0M207 523h0M191 522h0M200 478h0M197 455h0M187 516h0M193 501h0M187 499h0M183 507h0M190 508h0M179 504h0M207 470h0M208 529h0M199 461h0M203 445h0M200 478h0M207 526h0M180 512h0M189 490h0M190 502h0M217 424h0M209 430h0M185 483h0M187 499h0M205 505h0M210 477h0M192 469h0M215 454h0M195 456h0M188 487h0M202 514h0M190 523h0M182 503h0M204 459h0M213 427h0M205 528h0M196 512h0M203 487h0M209 505h0M203 522h0M207 446h0M198 506h0M199 440h0M186 495h0M198 511h0M194 484h0M191 486h0M202 505h0M193 484h0M201 508h0M197 442h0M195 520h0M201 447h0M208 443h0M195 505h0M195 520h0M206 522h0M195 457h0M195 507h0M200 525h0M212 424h0M195 519h0M189 516h0M187 495h0M182 508h0M204 498h0M189 498h0M198 450h0M191 506h0M192 471h0M202 467h0M204 514h0M187 523h0M201 471h0M198 437h0M201 505h0M185 492h0M193 451h0M204 504h0M206 477h0M205 531h0M210 441h0M202 427h0M196 514h0M200 523h0M207 495h0M199 515h0M198 453h0M204 427h0M189 485h0M209 440h0M209 444h0M191 527h0M213 481h0M192 505h0M207 464h0M198 437h0M196 446h0M198 454h0M212 430h0M212 464h0M201 510h0M205 433h0M209 455h0M190 528h0M192 508h0M197 498h0M199 502h0M208 478h0M185 505h0M188 485h0M196 506h0M202 447h0M198 478h0M193 513h0M195 485h0M196 464h0M195 482h0M199 452h0M212 504h0M192 475h0M212 431h0M204 466h0M197 511h0M204 459h0M201 502h0M185 512h0M187 518h0M195 455h0M205 486h0M187 516h0M209 538h0M213 415h0M189 522h0M195 531h0" stroke="#E69F00" stroke-width="2.9"/><path d="M302 537h0M270 503h0M290 560h0M283 474h0M294 547h0M287 518h0M285 527h0M277 524h0M298 482h0M301 531h0M285 458h0M279 476h0M302 487h0M300 491h0M304 536h0M299 524h0M288 558h0M280 543h0M279 545h0M292 512h0M272 553h0M291 528h0M302 478h0M271 516h0M292 521h0M290 459h0M285 484h0M295 553h0M276 528h0M308 485h0M287 473h0M273 485h0M281 529h0M296 508h0M279 539h0M279 547h0M297 553h0M277 508h0M300 551h0M277 520h0M281 447h0M280 481h0M275 498h0M296 468h0M272 552h0M296 519h0M289 472h0M272 483h0M275 528h0M294 462h0M283 557h0M298 475h0M299 456h0M283 537h0M272 538h0M295 490h0M301 536h0M274 517h0M273 527h0M276 501h0M272 554h0M287 558h0M305 496h0M286 511h0M286 550h0M277 546h0M272 535h0M295 565h0M295 517h0M269 500h0M294 547h0M291 525h0M276 515h0M273 554h0M275 528h0M275 538h0M305 483h0M292 556h0M297 496h0M287 455h0M292 529h0M282 519h0M296 480h0M283 500h0M293 548h0M272 549h0M300 555h0M299 469h0M284 466h0M289 554h0M282 544h0M287 563h0M297 540h0M302 460h0M275 496h0M281 453h0M283 543h0M270 519h0M298 502h0M292 492h0M272 516h0M281 473h0M295 538h0M304 467h0M291 552h0M301 504h0M301 534h0M285 485h0M268 506h0M278 521h0M295 465h0M279 570h0M290 471h0M299 513h0M299 536h0M287 465h0M284 556h0M281 525h0M290 467h0M290 551h0M298 524h0M271 506h0M265 498h0M293 489h0M293 542h0M275 482h0M298 475h0M280 517h0M291 532h0M284 552h0M278 524h0M290 517h0M268 537h0M285 467h0M284 526h0M285 527h0M288 522h0M298 516h0M292 495h0M270 482h0M288 549h0M276 506h0M276 493h0M291 480h0M277 534h0M295 547h0M300 457h0M289 475h0M296 539h0M288 538h0M273 493h0M277 550h0M290 472h0M277 519h0M279 539h0M295 544h0M307 483h0M292 549h0M284 539h0M282 531h0M279 547h0M273 554h0M276 527h0M282 499h0M295 514h0M272 490h0M294 465h0M290 519h0M279 505h0M303 471h0M290 474h0M274 509h0M298 523h0M290 463h0M290 462h0M284 508h0M267 501h0M280 504h0M270 550h0M282 548h0M294 501h0M304 481h0M283 513h0M270 525h0M278 525h0M307 499h0M287 555h0M282 510h0M283 522h0M283 448h0M266 504h0M305 497h0M281 489h0M264 496h0M277 525h0M275 507h0M286 518h0M269 490h0M296 464h0M304 502h0M290 531h0M296 563h0M287 459h0M294 482h0M300 483h0M308 486h0M292 504h0M270 494h0M298 453h0M291 524h0M297 520h0M289 536h0M284 537h0M282 502h0M265 514h0M287 486h0M277 462h0M303 473h0M297 454h0M303 494h0M288 474h0M298 505h0M281 547h0M281 536h0M276 497h0M297 469h0M300 470h0M285 524h0M275 476h0M280 486h0M288 451h0M300 518h0M288 478h0M285 514h0M265 515h0M286 459h0M298 493h0M289 511h0M279 477h0M272 516h0M296 553h0M286 453h0M298 532h0M290 506h0M297 454h0M275 546h0M272 495h0M298 532h0M272 521h0M303 466h0M286 465h0M291 465h0M300 492h0M280 471h0M280 531h0M301 545h0M284 469h0M293 522h0M305 473h0M274 485h0M302 476h0M275 483h0M278 469h0M271 543h0M293 454h0M291 529h0M300 508h0M297 499h0M292 465h0M282 506h0M286 443h0M274 517h0M276 555h0M292 486h0M297 482h0M291 457h0M269 523h0M295 560h0M280 481h0M293 449h0M291 473h0M291 466h0M304 481h0M295 471h0M306 485h0M281 532h0M282 528h0M303 462h0M293 459h0M291 507h0M297 552h0M279 569h0M290 551h0M276 477h0M269 500h0M289 520h0M292 500h0M281 544h0M273 543h0M304 512h0M295 521h0M305 469h0M275 486h0M280 463h0M277 502h0M289 504h0M298 481h0M281 532h0M268 498h0M285 476h0M288 535h0M301 465h0M285 449h0M304 505h0M272 490h0M307 496h0M303 494h0M277 547h0M266 500h0M302 510h0M267 513h0M285 456h0M281 539h0M302 509h0M280 503h0M305 489h0M294 472h0M294 454h0M284 448h0M300 514h0M279 490h0M283 467h0M286 518h0M289 546h0M289 476h0M299 523h0M301 461h0M289 535h0M280 554h0M292 499h0M291 544h0M278 562h0M289 550h0M299 481h0M294 460h0M282 472h0M282 554h0M280 474h0M306 505h0M276 557h0M273 487h0M272 512h0M281 486h0M286 495h0M289 502h0M265 494h0M293 507h0M271 533h0M298 531h0M303 470h0M306 502h0M268 515h0M299 475h0M279 466h0M285 465h0M287 510h0M303 533h0M291 506h0M302 515h0M277 473h0M298 487h0M298 486h0M290 476h0M299 464h0M290 457h0M296 515h0M300 529h0M286 471h0M276 511h0M282 499h0M293 457h0M283 516h0M270 514h0M270 514h0M283 464h0M305 464h0M260 511h0M282 496h0M304 518h0M275 476h0M298 503h0M302 516h0M275 520h0M288 549h0M301 540h0M290 526h0M274 496h0M304 465h0M281 511h0M276 524h0M266 503h0M299 470h0M267 509h0M287 522h0M302 513h0M293 540h0M291 480h0M282 459h0M300 505h0M299 550h0M295 529h0M283 537h0M300 494h0M307 506h0M270 502h0M291 519h0M281 529h0M276 473h0M298 487h0M267 491h0M286 452h0M305 529h0M298 481h0M307 509h0M308 505h0M296 557h0M279 507h0M264 505h0M273 529h0M277 476h0M296 526h0M296 506h0M292 480h0M291 527h0M279 536h0M279 458h0M281 480h0M281 502h0M279 472h0M270 524h0M288 531h0M288 549h0M286 476h0M282 551h0M275 534h0M277 551h0M278 498h0M273 494h0M297 544h0M292 497h0M274 473h0M282 470h0M267 511h0M299 532h0M278 519h0M295 528h0M278 516h0M284 533h0M299 514h0M279 549h0M281 473h0M287 470h0M283 462h0M297 545h0M277 532h0M285 522h0M289 541h0M293 452h0M290 510h0M276 495h0M291 486h0M282 445h0M302 514h0M303 477h0M270 496h0M289 569h0M291 461h0M272 520h0M285 532h0M299 461h0M279 537h0M299 463h0M301 526h0M282 554h0M278 458h0M296 490h0M288 555h0M269 516h0M278 540h0M293 508h0M269 519h0M297 520h0M290 514h0M278 518h0M284 520h0M283 538h0M288 462h0M284 524h0M286 511h0M270 494h0M306 518h0M288 473h0M276 546h0M271 524h0M305 505h0M265 499h0M297 542h0M285 536h0M297 462h0M289 495h0M289 509h0M300 473h0M285 529h0M289 453h0M273 511h0M288 554h0M304 522h0M303 491h0M272 518h0M293 529h0M296 458h0M281 494h0M306 498h0M300 490h0M287 501h0M281 494h0M305 494h0M300 483h0M280 561h0M294 467h0M281 490h0M288 549h0M290 509h0M286 478h0M284 553h0M299 475h0M285 533h0M277 538h0M306 475h0M266 518h0M280 538h0M306 465h0M297 482h0M287 550h0M285 515h0M275 500h0M283 539h0M305 531h0M285 459h0M288 510h0M266 507h0M299 491h0M285 525h0M279 507h0M272 559h0M271 554h0M268 507h0M281 564h0M305 479h0M276 540h0M287 473h0M300 538h0M271 480h0M294 456h0M288 482h0M278 497h0M295 484h0M304 488h0M306 466h0M283 456h0M272 525h0M282 478h0M292 567h0M278 477h0M294 466h0M295 464h0M301 505h0M281 482h0M261 516h0M288 557h0M305 501h0M270 507h0M274 501h0M305 494h0M283 512h0M276 475h0M293 547h0M278 503h0M280 497h0M272 532h0M290 553h0M275 493h0M307 503h0M296 507h0M292 495h0M274 557h0M290 535h0M291 454h0M305 511h0M283 547h0M279 466h0M269 516h0M292 475h0M278 517h0M285 454h0M299 528h0M287 529h0M285 480h0M274 538h0M279 496h0M281 515h0M272 517h0M285 551h0M305 509h0M305 499h0M285 483h0M279 456h0M292 505h0M284 464h0M290 546h0M281 474h0M281 526h0M303 501h0M296 540h0M274 560h0M273 477h0M298 543h0M298 513h0M295 471h0M282 528h0M300 478h0M292 489h0M274 528h0M298 560h0M287 483h0M308 504h0M303 489h0M276 516h0M301 460h0M302 483h0M288 466h0M280 450h0M298 461h0M263 508h0M280 454h0M294 502h0M295 466h0M291 545h0M290 487h0M292 456h0M283 519h0M279 536h0M279 546h0M296 491h0M287 500h0M273 564h0M285 488h0M297 485h0M304 480h0M285 482h0M297 484h0M267 513h0M283 515h0M295 564h0M285 498h0M278 527h0M295 468h0M305 466h0M300 465h0M268 496h0M280 443h0M306 486h0M305 510h0M301 525h0M288 468h0M287 555h0M271 545h0M292 481h0M303 534h0M302 471h0M289 513h0M285 447h0M267 529h0M303 532h0M303 514h0M300 520h0M287 471h0M308 501h0M290 485h0M286 509h0M275 535h0M274 501h0M294 475h0M279 479h0M286 487h0M273 489h0M288 478h0M285 453h0M268 504h0M300 490h0M305 527h0M293 492h0M280 464h0M281 507h0M303 468h0M284 472h0M291 490h0M293 482h0M277 496h0M288 524h0M289 526h0M289 531h0M296 522h0M298 463h0M308 485h0M278 524h0M295 506h0M288 560h0M297 472h0M291 465h0M280 529h0M277 525h0M279 502h0M292 541h0M289 493h0M276 531h0M286 557h0M303 480h0M278 568h0M278 480h0M291 552h0M278 527h0M290 499h0M286 489h0M272 548h0M282 455h0M294 481h0M289 557h0M285 539h0M290 515h0M288 465h0M268 503h0M293 463h0M298 546h0M277 466h0M305 467h0M295 503h0M286 522h0M284 490h0M282 518h0M300 478h0M268 518h0M279 475h0M283 526h0M280 460h0M297 542h0M286 492h0M281 477h0M286 505h0M297 496h0M297 508h0M280 525h0M299 492h0M281 448h0M296 502h0M282 446h0" stroke="#0072B2" stroke-width="2.9"/><path d="M252 568h0M250 525h0M224 569h0M237 567h0M245 541h0M248 528h0M244 551h0M223 574h0M223 589h0M243 563h0M227 594h0M229 554h0M243 558h0M244 549h0M242 554h0M218 555h0M236 551h0M221 577h0M225 552h0M244 553h0M240 584h0M246 572h0M230 557h0M245 570h0M233 583h0M222 594h0M230 588h0M247 534h0M241 547h0M222 546h0M247 548h0M242 601h0M219 550h0M236 539h0M240 582h0M231 573h0M243 542h0M245 570h0M235 564h0M227 578h0M220 558h0M242 542h0M228 580h0M238 561h0M223 542h0M221 544h0M232 570h0M217 544h0M226 572h0M241 589h0M226 583h0M237 599h0M242 569h0M245 570h0M234 560h0M226 569h0M251 550h0M227 549h0M218 550h0M238 561h0M222 575h0M231 582h0M248 567h0M219 543h0M244 573h0M239 550h0M251 550h0M249 592h0M255 565h0M232 598h0M230 584h0M223 564h0M216 563h0M248 561h0M245 591h0M220 594h0M231 559h0M226 595h0M218 541h0M232 572h0M223 589h0M239 552h0M226 581h0M233 543h0M251 541h0M234 569h0M238 548h0M246 568h0M237 538h0M235 548h0M222 573h0M237 541h0M231 568h0M227 595h0M226 578h0M220 571h0M229 579h0M244 590h0M226 592h0M254 548h0M243 568h0M247 588h0M233 580h0M221 546h0M233 586h0M232 559h0M237 599h0M230 584h0M239 576h0M251 571h0M231 592h0M230 561h0M227 555h0M248 577h0M250 556h0M237 534h0M240 591h0M260 546h0M227 544h0M217 550h0M220 544h0M243 561h0M225 576h0M231 567h0M236 576h0M252 578h0M222 573h0M235 574h0M242 594h0M239 538h0M224 571h0M241 569h0M248 583h0M244 572h0M232 559h0M243 572h0M225 545h0M223 557h0M259 545h0M231 546h0M256 546h0M220 557h0M238 564h0M227 545h0M220 585h0M241 572h0M232 599h0M239 557h0M236 597h0M245 546h0M251 565h0M223 588h0M224 585h0M226 569h0M255 554h0M244 544h0M239 555h0M249 593h0M225 570h0M252 573h0M246 557h0M239 553h0M236 572h0M233 558h0M229 544h0M221 574h0M218 558h0M221 581h0M244 581h0M247 558h0M216 540h0M224 561h0M241 554h0M233 571h0M243 579h0M248 583h0M247 552h0M251 566h0M221 577h0M231 570h0M248 554h0M248 574h0M243 573h0M221 571h0M233 576h0M226 582h0M242 595h0M243 546h0M236 565h0M234 565h0M229 577h0M250 565h0M248 568h0M257 536h0M215 550h0M251 585h0M255 563h0M241 584h0M229 578h0M221 550h0M246 581h0M238 595h0M244 563h0M234 564h0M239 545h0M243 591h0M220 564h0M251 555h0M228 547h0M227 578h0M224 561h0M237 589h0M218 583h0M258 546h0M240 545h0M238 575h0M244 543h0M247 591h0M235 550h0M237 544h0M250 565h0M233 541h0M232 561h0M221 546h0M252 587h0M234 589h0M254 570h0M227 564h0M234 597h0M229 548h0M221 578h0M219 572h0M221 575h0M227 561h0M238 570h0M221 580h0M233 585h0M241 574h0M243 565h0M249 547h0M249 557h0M237 546h0M225 590h0M244 541h0M253 575h0M216 539h0M225 562h0M232 561h0M238 565h0M246 574h0M251 570h0M230 582h0M219 556h0M254 557h0M235 539h0M238 523h0M228 582h0M222 543h0M245 580h0M236 597h0M247 588h0M254 550h0M246 588h0M230 599h0M227 544h0M216 555h0M219 586h0M224 556h0M231 576h0M236 587h0M229 561h0M223 581h0M236 595h0M235 579h0M239 562h0M232 587h0M223 552h0M254 552h0M239 571h0M247 572h0M234 537h0M225 556h0M226 586h0M233 569h0M252 556h0M226 555h0M245 565h0M240 557h0M225 587h0M235 578h0M244 567h0M227 579h0M247 582h0M239 591h0M237 538h0M242 554h0M236 569h0M255 555h0M220 576h0M257 552h0M213 540h0M221 542h0M228 560h0M223 543h0M224 572h0M246 578h0M223 569h0M253 540h0M243 554h0M222 566h0M233 554h0M254 564h0M228 590h0M228 554h0M246 537h0M225 582h0M230 578h0M223 573h0M232 561h0M235 591h0M241 563h0M231 594h0M242 570h0M220 579h0M240 590h0M252 550h0M249 562h0M241 580h0M244 555h0M234 567h0M237 556h0M248 532h0M246 567h0M242 585h0M230 563h0M242 545h0M233 544h0M229 595h0M233 562h0M240 570h0M232 547h0M241 542h0M227 553h0M233 588h0M233 569h0M245 547h0M241 577h0M227 535h0M244 574h0M221 586h0M253 554h0M242 562h0M241 594h0M231 572h0M246 569h0M217 568h0M245 590h0M240 563h0M230 572h0M239 563h0M239 589h0M228 577h0M243 593h0M245 570h0M222 542h0M260 538h0M244 562h0M219 566h0M248 567h0M233 544h0M257 558h0M235 598h0M249 563h0M233 566h0M232 588h0M239 599h0M229 562h0M241 582h0M253 545h0M215 553h0M258 540h0M240 564h0M239 584h0M251 549h0M229 567h0M254 563h0M240 581h0M230 544h0M240 543h0M242 563h0M232 569h0M253 569h0M224 566h0M245 565h0M241 564h0M234 574h0M227 585h0M216 563h0M215 550h0M233 583h0M235 576h0M230 589h0M228 563h0M234 554h0M236 591h0M240 595h0M226 574h0M215 550h0M225 547h0M224 588h0M225 549h0M247 590h0M217 566h0M232 573h0M239 592h0M247 587h0M239 546h0M231 589h0M229 573h0M250 561h0M231 596h0M239 540h0M229 591h0M220 565h0M221 556h0M246 546h0M222 562h0M230 584h0M219 544h0M250 583h0M250 564h0M251 573h0M236 553h0M227 558h0M229 558h0M232 598h0M236 565h0M228 547h0M247 553h0M238 554h0M235 586h0M249 576h0M251 565h0M245 566h0M248 566h0M218 570h0M226 577h0M232 557h0M234 539h0M253 555h0M220 548h0M246 579h0M226 548h0M218 582h0M237 575h0M257 543h0M244 586h0M242 559h0M229 567h0M224 583h0M248 537h0M237 538h0M243 544h0M254 556h0M234 582h0M242 591h0" stroke="#009E73" stroke-width="2.9"/><path d="M275 421h0M310 434h0M307 439h0M304 429h0M298 403h0M288 441h0M289 396h0M292 395h0M314 416h0M295 448h0M301 412h0M283 438h0M297 429h0M298 406h0M291 452h0M307 442h0M304 413h0M299 401h0M285 432h0M292 404h0M296 409h0M285 401h0M298 447h0M296 452h0M298 446h0M288 394h0M291 427h0M272 415h0M302 406h0M296 397h0M295 397h0M307 427h0M308 413h0M318 419h0M309 444h0M284 396h0M303 434h0M306 447h0M273 417h0M304 421h0M285 419h0M278 383h0M281 383h0M288 440h0M306 417h0M285 436h0M298 402h0M275 415h0M298 399h0M285 408h0M294 406h0M303 408h0M292 398h0M291 416h0M295 421h0M287 397h0M296 413h0M278 405h0M292 412h0M299 418h0M280 384h0M287 406h0M284 431h0M308 410h0M285 438h0M294 441h0M286 397h0M296 423h0M305 427h0M294 391h0M302 410h0M306 398h0M287 387h0M285 426h0M275 423h0M285 387h0M292 399h0M306 422h0M294 445h0M303 402h0M286 419h0M312 432h0M290 400h0M309 436h0M290 451h0M297 454h0M284 394h0M297 431h0M296 421h0M283 429h0M312 429h0M295 448h0M294 399h0M314 427h0M278 420h0M311 424h0M300 407h0M281 424h0M299 417h0M305 406h0M288 446h0M282 396h0M297 444h0M315 422h0M303 439h0M294 428h0M287 433h0M305 439h0M311 415h0M311 410h0M284 409h0M295 413h0M291 445h0M295 440h0M303 453h0M281 405h0M281 388h0M278 424h0M295 415h0M311 414h0M278 420h0M295 430h0M298 422h0M276 420h0M291 394h0M309 408h0M292 405h0M300 399h0M292 410h0M307 409h0M302 407h0M292 439h0M299 431h0M297 439h0M311 425h0M297 400h0M307 426h0M285 444h0M288 430h0M292 408h0M300 412h0M297 426h0M289 420h0M280 414h0M279 415h0M281 387h0M307 418h0M282 400h0M287 399h0M303 444h0M293 436h0M280 383h0M285 431h0M305 412h0M313 419h0M291 427h0M300 408h0M308 422h0M300 444h0M287 411h0M288 422h0M298 434h0M292 400h0M303 441h0M309 408h0M289 416h0M310 421h0M289 448h0M286 427h0M300 403h0M281 419h0M278 407h0M279 429h0M297 402h0M283 448h0M284 388h0M307 412h0M295 429h0M284 399h0M299 410h0M273 423h0M283 406h0M308 402h0M292 429h0M297 435h0M295 408h0M297 389h0M289 440h0M308 422h0M307 420h0M309 436h0M284 416h0M300 420h0M304 404h0M295 435h0M300 409h0M293 404h0M299 402h0M289 407h0M299 403h0M291 399h0M303 418h0M274 401h0M301 423h0M300 394h0M289 412h0M279 429h0M309 415h0M299 415h0M309 438h0M297 405h0M287 413h0M311 434h0M295 421h0M288 443h0M277 412h0M282 437h0M306 405h0M292 429h0M300 443h0M307 449h0M295 427h0M291 451h0M280 408h0M300 447h0M283 443h0M300 408h0M294 394h0M274 406h0M292 395h0M307 410h0M279 419h0M309 431h0M286 422h0M275 403h0M301 405h0M308 441h0M277 417h0M296 398h0M280 420h0M300 430h0M300 403h0M314 417h0M301 404h0M296 403h0M309 443h0M297 425h0M286 405h0M299 416h0M299 416h0M280 421h0M297 405h0M308 424h0M308 413h0M314 427h0M310 430h0M288 407h0M291 403h0M291 407h0M297 448h0M299 406h0M295 451h0M289 392h0M310 407h0M313 423h0M289 428h0M291 422h0M292 407h0M304 401h0M281 396h0M282 396h0M281 411h0M305 437h0M292 416h0M306 442h0M306 431h0M289 399h0M287 428h0M298 430h0M274 414h0M292 429h0M286 439h0M294 394h0M290 450h0M295 413h0M282 410h0M311 424h0M306 418h0M292 409h0M308 426h0M298 426h0M282 428h0M288 419h0M291 406h0M293 432h0M287 427h0M283 433h0M291 436h0M302 452h0M286 426h0M294 407h0M277 423h0M295 443h0M296 394h0M301 435h0M297 424h0M281 396h0M298 430h0M281 434h0M292 414h0M297 403h0M290 426h0M292 438h0M314 423h0M295 440h0M310 430h0M280 433h0M292 426h0M304 435h0M288 424h0M287 387h0M283 416h0M290 403h0M286 407h0M296 437h0M295 429h0M283 401h0M279 410h0M302 450h0M302 427h0M279 388h0M296 408h0M302 410h0M313 414h0M288 427h0M287 390h0M293 401h0M290 416h0M289 445h0M305 417h0M313 408h0M298 426h0M280 426h0M282 409h0M313 423h0M309 408h0M282 394h0M311 420h0M309 415h0M311 416h0M294 411h0M289 402h0M299 434h0M294 426h0M300 393h0M304 444h0M282 412h0M300 447h0M304 436h0M287 437h0M277 424h0M282 390h0M287 386h0M287 412h0M283 421h0M289 433h0M290 430h0M299 407h0M303 449h0M304 435h0M290 405h0M294 419h0M295 393h0M289 390h0M280 410h0M297 432h0M284 439h0M283 434h0M286 421h0M300 450h0M307 447h0M291 411h0M296 413h0M294 444h0M292 440h0M291 441h0M297 423h0M317 421h0M290 400h0M308 404h0M310 412h0M307 436h0M285 426h0M280 420h0M309 414h0M295 432h0M307 428h0M285 388h0" stroke="#AD7700" stroke-width="2.9"/><path d="M257 585h0M258 579h0M268 570h0M273 575h0M266 590h0M258 595h0M275 592h0M288 562h0M264 581h0M275 591h0M258 588h0M288 569h0M272 560h0M285 574h0M284 580h0M281 570h0M258 588h0M259 579h0M261 577h0M260 571h0M273 597h0M256 582h0M279 563h0M250 574h0M259 569h0M258 593h0M280 583h0M267 580h0M260 599h0M256 583h0M281 577h0M264 598h0M257 584h0M279 586h0M273 566h0M283 568h0M276 587h0M276 576h0M262 602h0M260 598h0M260 599h0M256 590h0M258 573h0M279 582h0M278 584h0M270 610h0M250 584h0M264 592h0M286 568h0M273 592h0M275 601h0M292 570h0M279 590h0M254 585h0M277 583h0M276 597h0M269 606h0M282 580h0M267 594h0M275 595h0M262 570h0M278 582h0M263 595h0M252 580h0M257 580h0M293 565h0M261 589h0M257 590h0M264 605h0M260 565h0M261 588h0M269 570h0M255 572h0M260 597h0M273 568h0M277 589h0M292 572h0M294 563h0M279 575h0M270 601h0M267 601h0M269 583h0M268 611h0M279 575h0M282 573h0M277 580h0M263 562h0M289 568h0M274 569h0M259 574h0M257 596h0M275 591h0M269 566h0M263 579h0M256 588h0M266 573h0M276 582h0M276 582h0M267 606h0M274 597h0M266 580h0M271 601h0M277 573h0M284 560h0M269 586h0M270 591h0M250 586h0M274 599h0M285 573h0M285 572h0M257 575h0M265 599h0M253 581h0M260 596h0M258 560h0M261 590h0M271 593h0M269 606h0M287 569h0M263 583h0M288 565h0M285 579h0M264 595h0M271 575h0M261 575h0M258 585h0M286 569h0M282 576h0M268 575h0M278 581h0M256 585h0M265 571h0M273 597h0M266 597h0M267 603h0M282 572h0M263 574h0M263 591h0M250 572h0M251 589h0M268 573h0M276 580h0M255 581h0M263 580h0M261 581h0M278 581h0M281 571h0M279 569h0M262 584h0M268 566h0M250 576h0M273 567h0M263 583h0M274 568h0M267 604h0M252 584h0M274 589h0M261 600h0M253 574h0M263 593h0M282 574h0M288 573h0M277 588h0M253 577h0M254 578h0M286 562h0M274 587h0M256 579h0M260 580h0M258 578h0M279 599h0M269 590h0M263 587h0M264 569h0M285 574h0M263 598h0M252 568h0M268 583h0M287 566h0M250 587h0M256 592h0M274 600h0M252 589h0M267 604h0M258 564h0M265 580h0M252 577h0M276 580h0M257 585h0M255 587h0M252 574h0M269 603h0M253 581h0M251 586h0M272 598h0M273 588h0M258 585h0M263 576h0M266 600h0M271 584h0M254 583h0M272 586h0M281 582h0M270 596h0M288 578h0M273 598h0M253 571h0M254 580h0M261 589h0M274 561h0M257 578h0M266 592h0M276 584h0M253 582h0M275 575h0M266 584h0M280 596h0M278 590h0M266 579h0M255 574h0M286 573h0M265 593h0M276 573h0M270 605h0M255 589h0M259 561h0M277 583h0M273 606h0M262 567h0M262 573h0M261 582h0M290 576h0M257 569h0M271 587h0M271 563h0M255 584h0M256 576h0M265 595h0M259 573h0" stroke="#D55E00" stroke-width="2.9"/><path d="M259 531h0M250 527h0M259 537h0M258 523h0M256 528h0M253 532h0M257 530h0M256 521h0M256 524h0M258 544h0M253 531h0M257 536h0M261 523h0M254 525h0M256 520h0M251 527h0M258 522h0M261 540h0M261 524h0M258 542h0M258 529h0M257 521h0M250 529h0M258 525h0M257 535h0M257 525h0M261 524h0M253 522h0M259 526h0M260 538h0M258 539h0M250 535h0M259 543h0M260 535h0M256 527h0M255 535h0M252 527h0" stroke="#F0E442" stroke-width="2.9"/><path d="M229 380h0M229 380h0M222 383h0M217 383h0M223 389h0M229 385h0M219 387h0M222 400h0M220 395h0M226 385h0M231 387h0M220 385h0M221 392h0M223 405h0M222 392h0M223 397h0M227 395h0M226 391h0M228 380h0M221 378h0M224 388h0M224 390h0M224 386h0M225 392h0M220 395h0M222 386h0M223 394h0M221 403h0M224 385h0M227 393h0M228 391h0M220 383h0M222 377h0M220 381h0M219 393h0M230 388h0M222 382h0M229 402h0M220 389h0M225 389h0M226 393h0M228 384h0M230 397h0M218 392h0M226 388h0M216 394h0M224 396h0M222 388h0M231 391h0M231 391h0M225 397h0M227 398h0M223 386h0M222 388h0M222 380h0M217 390h0M218 394h0M229 396h0M221 383h0M221 392h0M230 402h0M232 397h0M218 384h0M227 395h0M226 377h0" stroke="#CC79A7" stroke-width="2.9"/><path d="M257 384h0M262 383h0M260 377h0M246 397h0M257 376h0M263 385h0M267 381h0M255 396h0M245 389h0M246 399h0M270 380h0M247 389h0M257 395h0M267 378h0M266 389h0M268 388h0M253 395h0M250 387h0M248 386h0M249 395h0M260 386h0M250 399h0M246 390h0M260 388h0M260 384h0M256 387h0M265 396h0M253 410h0M242 392h0M268 389h0M246 389h0M264 400h0M251 385h0M263 377h0M241 403h0M258 387h0M269 392h0M263 388h0M247 388h0M250 384h0M250 391h0M246 385h0M263 390h0M252 388h0M256 389h0M252 389h0M262 379h0M266 376h0M255 393h0M256 393h0M255 379h0M251 385h0M262 402h0M252 394h0M267 380h0M252 383h0M251 388h0M262 392h0M270 385h0M270 397h0M265 389h0M263 385h0M253 385h0M262 388h0M253 394h0M264 393h0M261 387h0M250 382h0M245 391h0M265 394h0M256 395h0M246 392h0M249 383h0M250 398h0M270 379h0M253 381h0M255 400h0M260 393h0M261 402h0M250 393h0M240 389h0M263 379h0M263 377h0M250 383h0M262 385h0M244 389h0M269 392h0M248 393h0M266 386h0M257 399h0M246 393h0M257 385h0M262 401h0M267 382h0" stroke="#666666" stroke-width="2.9"/><path d="M89 447h0M83 445h0M86 437h0M88 448h0M74 436h0M82 429h0M81 434h0M82 434h0M84 436h0M87 438h0M85 446h0M72 426h0M78 433h0M82 431h0M78 433h0M77 441h0M92 449h0M80 436h0M81 443h0M87 437h0M94 453h0M80 431h0M88 444h0M84 443h0M87 442h0M80 441h0M81 434h0M79 436h0M80 445h0M81 433h0M83 442h0M84 434h0M95 453h0M80 445h0M84 444h0M83 440h0M85 448h0M82 442h0M89 440h0M80 432h0M90 449h0M89 443h0M85 440h0M86 452h0M85 430h0M84 438h0M82 440h0M85 439h0M93 450h0M91 452h0M94 451h0M85 441h0M91 455h0M94 455h0M91 452h0M89 444h0M84 431h0M83 441h0M86 447h0M85 439h0M79 437h0M84 438h0M80 439h0M81 444h0M88 443h0M80 435h0M81 438h0M80 444h0M88 441h0M83 443h0M92 453h0M80 436h0M88 434h0M89 451h0M79 435h0M90 450h0M83 436h0M87 446h0M80 439h0M79 430h0M86 453h0M89 457h0M90 450h0M83 440h0M84 439h0M77 440h0M92 454h0M79 439h0M94 456h0M78 438h0M87 446h0M81 441h0M88 448h0M84 436h0M83 440h0M85 440h0M87 442h0M78 439h0M82 444h0M81 443h0M86 453h0M94 453h0M87 442h0M88 439h0M80 439h0M77 430h0M88 443h0M84 447h0M89 448h0M83 436h0M93 454h0M81 443h0M89 447h0M87 440h0M78 441h0M87 446h0M80 427h0M74 429h0M94 451h0M86 438h0M77 437h0M82 448h0M82 438h0M84 435h0M83 442h0M89 450h0M94 458h0M76 434h0M85 440h0M92 447h0M81 442h0M78 442h0M82 441h0M86 440h0M85 447h0M80 442h0M78 432h0M83 441h0M87 440h0M88 449h0M88 439h0M80 440h0M89 449h0M86 444h0M81 447h0M86 452h0M79 434h0M90 439h0M88 447h0M79 436h0M84 440h0M78 439h0M88 449h0M83 438h0M76 436h0M91 456h0M83 435h0M86 442h0M84 437h0M87 436h0M91 453h0M87 440h0M84 442h0M83 433h0M90 454h0M83 438h0M76 437h0M80 440h0M87 441h0M95 458h0M87 447h0M83 444h0" stroke="#1C91D4" stroke-width="2.9"/></g>
<circle cx="177.7" cy="203" r="2.2" fill="#E69F00"/><text x="186.9" y="205.9" font-size="8.2">PFG_1</text><circle cx="177.7" cy="212.8" r="2.2" fill="#56B4E9"/><text x="186.9" y="215.7" font-size="8.2">PFG_2</text><circle cx="177.7" cy="222.7" r="2.2" fill="#009E73"/><text x="186.9" y="225.6" font-size="8.2">PEN_1</text><circle cx="177.7" cy="232.2" r="2.2" fill="#F0E442"/><text x="186.9" y="235.1" font-size="8.2">PEN_2</text><circle cx="177.7" cy="242" r="2.2" fill="#0072B2"/><text x="186.9" y="244.9" font-size="8.2">PEN_3</text><circle cx="177.7" cy="251.5" r="2.2" fill="#D55E00"/><text x="186.9" y="254.4" font-size="8.2">PEN_4</text><circle cx="177.7" cy="261.4" r="2.2" fill="#CC79A7"/><text x="186.9" y="264.3" font-size="8.2">NPP_PDE3A+</text><circle cx="177.7" cy="270.8" r="2.2" fill="#666666"/><text x="186.9" y="273.7" font-size="8.2">NPP_SCN7A+</text><circle cx="177.7" cy="280.7" r="2.2" fill="#AD7700"/><text x="186.9" y="283.6" font-size="8.2">NPP_TOX+</text><circle cx="177.7" cy="290.2" r="2.2" fill="#1C91D4"/><text x="186.9" y="293.1" font-size="8.2">IGFBP5+</text></g>
<g><text x="0.5" y="350" font-size="16">I</text><text x="94.5" y="352.6" font-size="9.3" text-anchor="middle" font-weight="bold">Monocle3 pseudotime</text><line x1="26.8" y1="357.5" x2="26.8" y2="489.8" stroke="#000" stroke-width="0.6"/><line x1="26.5" y1="489.8" x2="163.5" y2="489.8" stroke="#000" stroke-width="0.6"/><line x1="52.6" y1="489.8" x2="52.6" y2="491.6" stroke="#000" stroke-width="0.5"/><text x="52.6" y="499.1" font-size="8.0" text-anchor="middle">-10</text><line x1="85" y1="489.8" x2="85" y2="491.6" stroke="#000" stroke-width="0.5"/><text x="85" y="499.1" font-size="8.0" text-anchor="middle">-5</text><line x1="117.5" y1="489.8" x2="117.5" y2="491.6" stroke="#000" stroke-width="0.5"/><text x="117.5" y="499.1" font-size="8.0" text-anchor="middle">0</text><line x1="149.9" y1="489.8" x2="149.9" y2="491.6" stroke="#000" stroke-width="0.5"/><text x="149.9" y="499.1" font-size="8.0" text-anchor="middle">5</text><line x1="25" y1="376.2" x2="26.8" y2="376.2" stroke="#000" stroke-width="0.5"/><text x="23.8" y="379.1" font-size="8.0" text-anchor="end">3</text><line x1="25" y1="411.9" x2="26.8" y2="411.9" stroke="#000" stroke-width="0.5"/><text x="23.8" y="414.8" font-size="8.0" text-anchor="end">0</text><line x1="25" y1="447.6" x2="26.8" y2="447.6" stroke="#000" stroke-width="0.5"/><text x="23.8" y="450.4" font-size="8.0" text-anchor="end">-3</text><line x1="25" y1="483.2" x2="26.8" y2="483.2" stroke="#000" stroke-width="0.5"/><text x="23.8" y="486.1" font-size="8.0" text-anchor="end">-6</text><text x="95" y="508.6" font-size="8.0" text-anchor="middle">UMAP_1</text><text x="10.6" y="419.3" font-size="8.0" text-anchor="middle" transform="rotate(-90 10.6 419.3)">UMAP_2</text><g transform="scale(.5)" stroke-linecap="round" fill="none"><path d="M68 783h0M78 777h0M70 771h0M76 784h0M74 778h0M80 785h0M79 783h0M85 791h0M79 788h0M79 783h0M83 784h0M78 786h0M74 778h0M72 781h0M77 778h0M86 795h0M81 787h0M85 794h0M71 782h0M82 785h0M82 792h0M74 782h0M79 783h0M77 783h0M84 793h0M85 797h0M70 771h0M79 785h0M76 786h0M77 777h0M77 788h0M72 781h0M75 775h0M74 781h0M80 782h0M75 775h0M88 793h0M73 780h0M76 776h0M71 772h0M73 779h0M73 777h0M84 791h0M76 778h0M73 776h0M76 781h0M90 800h0M86 795h0M80 780h0M85 794h0M79 776h0M83 787h0M79 779h0M76 785h0M75 781h0M72 774h0M71 774h0M86 793h0M71 778h0M72 776h0M80 788h0M77 788h0M75 774h0M76 779h0M79 786h0M78 786h0M77 775h0M74 779h0M81 784h0M91 800h0M85 792h0M84 789h0M87 792h0M77 780h0M76 778h0M80 778h0M78 782h0M78 779h0M81 776h0M85 793h0M86 794h0M73 772h0M74 778h0M82 788h0M70 776h0M76 781h0M80 775h0M78 781h0M84 794h0M80 778h0M75 773h0M81 790h0M78 778h0M76 791h0M78 779h0M67 767h0M72 784h0M78 787h0M78 782h0M78 791h0M80 790h0M78 784h0M81 786h0M90 794h0M87 798h0M87 794h0M84 794h0M73 777h0M82 794h0M74 781h0M72 775h0M79 789h0M75 786h0M85 792h0M78 785h0M79 784h0M80 785h0M90 799h0M72 775h0M73 773h0M81 783h0M75 777h0M72 770h0M79 785h0M74 776h0M76 782h0M81 785h0M84 791h0M70 779h0M74 790h0M77 783h0M80 792h0M79 790h0M77 780h0M65 776h0M76 781h0M88 798h0M74 779h0M72 783h0M80 790h0M79 778h0M76 790h0M79 785h0M75 781h0M74 781h0M74 780h0M83 786h0M71 771h0M80 777h0M77 780h0M70 778h0M70 770h0M81 788h0M83 788h0M71 770h0M76 782h0M79 776h0M79 781h0M74 780h0M76 773h0M76 782h0M73 781h0M80 776h0M78 777h0M76 791h0M82 787h0M82 787h0M73 778h0M71 774h0M69 772h0M76 786h0M73 773h0" stroke="#808080" stroke-width="2.9"/><path d="M185 861h0M179 845h0M186 858h0M187 860h0M175 842h0M174 844h0M188 844h0M176 863h0M179 828h0M185 824h0M195 783h0M190 841h0M179 844h0M188 852h0M182 833h0M195 833h0M175 832h0M182 844h0M203 827h0M205 780h0M208 869h0M179 840h0M185 823h0M189 810h0M178 842h0M180 854h0M175 847h0M221 863h0M198 761h0M177 860h0M177 856h0M183 823h0M176 829h0M184 865h0M176 838h0M185 824h0M186 830h0M182 838h0M198 845h0M184 833h0M181 834h0M181 859h0M209 859h0M183 825h0M185 841h0M192 824h0M187 810h0M177 846h0M184 823h0M185 851h0M180 824h0M191 781h0M187 838h0M195 848h0M186 814h0M185 802h0M183 853h0M183 852h0M173 848h0M197 837h0M203 786h0M178 841h0M175 840h0M261 855h0M194 849h0M181 846h0M180 843h0M181 846h0M185 838h0M190 782h0M185 847h0M179 836h0M181 847h0M173 840h0M188 866h0M179 842h0M179 832h0M179 860h0M183 833h0M183 845h0M180 858h0M177 848h0M193 863h0M194 859h0M190 836h0M279 855h0M189 848h0M179 850h0M176 830h0M188 822h0M180 861h0M187 846h0M175 830h0M185 848h0M182 832h0M186 859h0M173 845h0M194 819h0M177 849h0M184 848h0M182 854h0M194 860h0M196 827h0M189 801h0M180 843h0M183 844h0M181 853h0M176 852h0M171 844h0M186 812h0M193 853h0M208 788h0M185 857h0M238 908h0M192 837h0M193 808h0M186 829h0M191 837h0M200 770h0M193 811h0M194 840h0M177 843h0M191 861h0M191 865h0M187 857h0M192 834h0M189 843h0M192 842h0M241 803h0M183 863h0M189 834h0M175 851h0M189 826h0M182 861h0M174 852h0M192 839h0M187 868h0M190 835h0M188 818h0M179 848h0" stroke="#1b068d" stroke-width="2.9"/><path d="M210 830h0M190 816h0M204 851h0M181 859h0M193 810h0M188 848h0M180 837h0M173 847h0M205 822h0M283 860h0M187 856h0M196 859h0M269 936h0M197 797h0M187 829h0M185 818h0M176 843h0M189 836h0M192 871h0M191 799h0M200 822h0M180 840h0M200 786h0M196 819h0M191 791h0M209 758h0M202 827h0M200 839h0M192 827h0M176 838h0M185 811h0M190 844h0M191 795h0M215 782h0M197 862h0M234 842h0M193 835h0M200 859h0M182 823h0M198 827h0M180 867h0M192 788h0M198 831h0M180 817h0M204 874h0M180 852h0M177 833h0M187 857h0M199 844h0M186 855h0M228 847h0M182 861h0M186 862h0M198 859h0M194 858h0M181 839h0M178 843h0M199 852h0M201 793h0M206 786h0M174 846h0M187 840h0M181 856h0M190 830h0M187 811h0M250 786h0M203 874h0M182 820h0M190 838h0M208 859h0M202 861h0M207 782h0M192 802h0M275 794h0M198 784h0M189 862h0M197 806h0M207 761h0M180 840h0M199 768h0M204 842h0M199 785h0M198 829h0M177 826h0M204 847h0M202 877h0M276 776h0M196 787h0M190 817h0M199 779h0M194 844h0M193 810h0M182 831h0M191 860h0M191 804h0M204 785h0M194 857h0M180 849h0M188 837h0M173 857h0M190 775h0M191 840h0M193 779h0M192 779h0M182 856h0M197 857h0M187 814h0M199 848h0M179 846h0M192 784h0M188 865h0M202 774h0M205 846h0M221 787h0M190 824h0M283 766h0M198 846h0M193 853h0M206 872h0M194 839h0M188 846h0M195 781h0M192 775h0M210 842h0M193 847h0M176 846h0M202 851h0M190 807h0M183 865h0M181 852h0" stroke="#370499" stroke-width="2.9"/><path d="M204 834h0M198 870h0M189 801h0M203 766h0M196 827h0M205 865h0M201 786h0M206 828h0M202 827h0M206 803h0M204 848h0M187 791h0M213 782h0M200 813h0M195 794h0M216 850h0M214 860h0M201 794h0M186 816h0M204 813h0M198 867h0M200 768h0M192 871h0M208 859h0M237 768h0M193 827h0M186 793h0M187 789h0M207 821h0M198 865h0M210 786h0M191 797h0M206 824h0M210 759h0M194 774h0M213 773h0M176 862h0M200 776h0M208 867h0M196 825h0M208 858h0M203 786h0M191 838h0M199 768h0M199 853h0M183 815h0M192 803h0M207 763h0M212 830h0M202 862h0M195 841h0M207 788h0M211 853h0M183 836h0M195 787h0M204 869h0M193 846h0M203 854h0M181 832h0M212 829h0M205 791h0M209 813h0M207 774h0M205 865h0M204 835h0M200 847h0M195 856h0M208 804h0M212 751h0M203 875h0M197 850h0M188 836h0M199 862h0M196 769h0M190 864h0M211 786h0M192 811h0M208 772h0M187 821h0M203 763h0M197 785h0M223 866h0M197 850h0M207 800h0M202 778h0M211 837h0M189 843h0M203 771h0M186 800h0M197 816h0M196 834h0M213 867h0M280 846h0M203 841h0M209 847h0M264 774h0M197 830h0M191 851h0M197 769h0M276 788h0M205 836h0M191 820h0M191 781h0M218 851h0M201 789h0M201 776h0M209 778h0M198 788h0M220 833h0M204 884h0M202 818h0M200 850h0M208 848h0M207 860h0M197 870h0M204 847h0M205 810h0M243 819h0M206 780h0M198 840h0M200 870h0M208 762h0M256 850h0M213 815h0M214 783h0M200 779h0M205 864h0M192 828h0M198 787h0M187 812h0M178 835h0M189 856h0M211 812h0M193 826h0M198 837h0M202 780h0M192 842h0M202 814h0M204 826h0M221 852h0M196 832h0M193 834h0M199 801h0M198 826h0M214 767h0M210 834h0M223 851h0M198 773h0M202 809h0M202 864h0M187 830h0M191 860h0M201 781h0M210 734h0M215 859h0M195 803h0M191 795h0M202 868h0M201 812h0M205 884h0M198 847h0M200 857h0M193 846h0M197 781h0M201 769h0M199 795h0M190 815h0M188 787h0M212 863h0M208 856h0M207 842h0M198 857h0M207 819h0M191 839h0M212 733h0M203 868h0M209 769h0M199 852h0M203 824h0M215 870h0M192 776h0M178 822h0M206 817h0M201 862h0M206 761h0M203 846h0M191 804h0M240 746h0M197 768h0M219 814h0M195 778h0M187 867h0M208 771h0M213 777h0M223 902h0M180 821h0M189 827h0M198 789h0M211 859h0M217 868h0M205 850h0M204 825h0M194 783h0M193 815h0M208 816h0M202 841h0M193 855h0M205 759h0M208 776h0" stroke="#5102a1" stroke-width="2.9"/><path d="M204 797h0M214 861h0M200 871h0M192 839h0M209 777h0M202 843h0M205 823h0M217 788h0M205 812h0M205 845h0M203 791h0M201 836h0M204 866h0M201 773h0M218 876h0M209 771h0M219 848h0M188 854h0M217 815h0M211 784h0M213 783h0M204 881h0M207 843h0M221 851h0M194 772h0M190 820h0M193 785h0M213 800h0M233 857h0M211 817h0M186 834h0M202 765h0M212 831h0M194 797h0M215 839h0M216 870h0M208 874h0M206 865h0M204 834h0M225 816h0M197 790h0M195 822h0M197 799h0M214 846h0M204 831h0M211 779h0M202 867h0M221 750h0M213 763h0M199 782h0M210 812h0M202 769h0M202 838h0M205 859h0M206 772h0M213 758h0M216 813h0M207 774h0M207 734h0M196 779h0M199 838h0M217 871h0M194 792h0M200 847h0M195 829h0M217 828h0M210 798h0M199 773h0M195 830h0M190 846h0M214 776h0M194 793h0M196 826h0M209 756h0M213 783h0M198 864h0M195 800h0M205 818h0M209 773h0M197 828h0M208 836h0M212 849h0M206 861h0M208 827h0M222 864h0M213 809h0M203 883h0M223 855h0M196 774h0M219 782h0M201 839h0M210 821h0M209 881h0M225 835h0M202 854h0M193 836h0M196 805h0M203 834h0M214 741h0M209 802h0M186 795h0M205 818h0M198 864h0M210 810h0M212 750h0M225 858h0M204 853h0M193 825h0M225 785h0M206 762h0M201 767h0M193 813h0M205 762h0M215 760h0M209 786h0M217 803h0M217 787h0M208 834h0M202 811h0M202 859h0M198 864h0M231 844h0M206 761h0M202 847h0M209 733h0M207 778h0M225 779h0M222 846h0M189 810h0M204 854h0M204 796h0M198 790h0M209 763h0M203 847h0M207 776h0M205 760h0M214 838h0M214 757h0M198 854h0M184 867h0M196 776h0M221 837h0M211 767h0M219 837h0M213 774h0M208 869h0M204 835h0M196 839h0M194 796h0M198 789h0M197 864h0M208 821h0M215 829h0M206 766h0M213 843h0M204 749h0M215 843h0M201 858h0M209 839h0M209 730h0M208 801h0M205 846h0M213 850h0M205 808h0M218 755h0M198 847h0M213 748h0M189 798h0M198 785h0M222 877h0M206 750h0M209 841h0M209 782h0M187 816h0M198 793h0M199 864h0M199 768h0M200 821h0M214 739h0M210 849h0M211 814h0M207 857h0M183 811h0M206 861h0M208 828h0M206 755h0M210 877h0M211 880h0M206 868h0M201 878h0M199 798h0M210 810h0M193 806h0M200 788h0M216 873h0M212 830h0M214 800h0M232 845h0M204 815h0M216 728h0M200 762h0M192 801h0M210 818h0M215 822h0M201 812h0M199 814h0M207 867h0M195 777h0M205 814h0M207 775h0M211 781h0M198 764h0M220 863h0M198 817h0M205 769h0M212 857h0M210 846h0M203 871h0M212 823h0M213 860h0M199 870h0M224 820h0M207 816h0M217 848h0M222 851h0M210 784h0M210 858h0M209 746h0M199 818h0M209 763h0M270 870h0M213 857h0M197 777h0M208 838h0M193 819h0M206 813h0M199 773h0M216 825h0M213 839h0M197 793h0M197 841h0M202 793h0M218 744h0M206 836h0M196 861h0M198 782h0M228 864h0M215 867h0M203 835h0M193 841h0" stroke="#6a00a8" stroke-width="2.9"/><path d="M194 815h0M218 854h0M223 844h0M223 819h0M218 873h0M210 732h0M208 838h0M216 786h0M200 824h0M211 901h0M231 844h0M202 873h0M221 815h0M212 748h0M207 731h0M215 787h0M229 858h0M208 802h0M222 753h0M215 852h0M213 845h0M220 870h0M212 748h0M211 807h0M220 775h0M222 774h0M220 872h0M212 726h0M202 872h0M216 807h0M209 899h0M216 764h0M225 817h0M225 874h0M202 809h0M209 892h0M217 872h0M219 730h0M206 801h0M212 789h0M228 803h0M221 872h0M213 842h0M206 790h0M212 816h0M212 902h0M224 806h0M209 861h0M217 801h0M226 833h0M227 820h0M208 876h0M225 818h0M212 846h0M235 860h0M205 869h0M207 744h0M221 828h0M207 766h0M231 886h0M221 773h0M220 798h0M197 869h0M221 836h0M271 856h0M227 829h0M219 804h0M214 754h0M238 868h0M212 741h0M214 880h0M213 806h0M209 836h0M212 748h0M201 796h0M218 749h0M209 744h0M222 852h0M215 882h0M212 837h0M211 879h0M207 814h0M214 726h0M224 877h0M212 852h0M218 724h0M218 752h0M225 829h0M212 842h0M217 781h0M214 762h0M219 867h0M218 818h0M201 789h0M219 768h0M203 819h0M216 823h0M210 867h0M230 828h0M216 811h0M218 836h0M192 793h0M218 855h0M210 804h0M244 864h0M228 855h0M205 772h0M207 813h0M214 812h0M208 756h0M232 873h0M212 886h0M239 857h0M233 857h0M203 872h0M216 746h0M206 865h0M210 784h0M216 839h0M218 798h0M218 820h0M213 817h0M217 815h0M217 877h0M215 834h0M211 788h0M218 822h0M230 874h0M212 817h0M223 842h0M218 861h0M212 787h0M224 793h0M218 854h0M204 823h0M203 845h0M230 840h0M230 815h0M202 866h0M196 848h0M215 737h0M212 818h0M220 849h0M222 834h0M225 795h0M217 833h0M219 809h0M219 738h0M215 859h0M217 850h0M199 809h0M215 783h0M219 839h0M220 770h0M208 817h0M222 864h0M214 813h0M227 837h0M202 823h0M211 778h0M216 769h0M211 769h0M217 787h0M208 802h0M210 886h0M227 791h0M214 876h0M214 761h0M203 824h0M232 844h0M208 744h0M206 794h0M221 792h0M203 789h0M222 849h0M214 746h0M198 836h0M215 728h0M213 816h0M210 817h0M215 880h0M206 876h0M212 800h0M218 884h0M211 843h0M215 757h0M218 747h0M219 770h0M214 798h0M241 782h0M216 864h0M219 816h0M206 782h0M210 873h0M216 777h0M219 902h0M221 834h0M221 867h0M230 816h0M208 859h0M228 767h0M206 741h0M228 878h0M215 867h0M200 854h0M227 852h0M212 866h0M220 915h0M227 851h0M219 806h0M211 750h0M212 874h0M221 854h0M231 824h0M213 764h0M225 793h0M220 799h0M195 823h0M213 750h0M208 838h0M220 740h0M226 842h0M217 762h0M207 870h0M213 861h0M230 815h0M224 824h0M206 751h0M209 818h0M214 861h0M220 866h0M217 810h0M208 791h0M224 852h0M211 784h0M207 742h0M195 863h0M220 825h0M212 806h0M219 795h0M244 864h0M211 830h0M219 857h0M190 802h0M220 827h0M206 754h0M201 847h0M204 773h0M237 821h0M263 836h0M208 858h0M227 847h0M218 821h0M211 752h0M200 842h0M214 804h0M225 806h0M219 866h0M209 747h0M220 789h0" stroke="#7e07a5" stroke-width="2.9"/><path d="M222 821h0M228 840h0M211 865h0M218 839h0M211 853h0M231 903h0M223 840h0M217 735h0M234 856h0M222 822h0M217 790h0M219 834h0M226 786h0M218 862h0M224 866h0M229 875h0M238 823h0M221 759h0M217 782h0M211 726h0M221 741h0M210 800h0M210 891h0M218 874h0M230 818h0M227 880h0M228 868h0M221 779h0M236 839h0M214 887h0M216 858h0M213 834h0M211 888h0M225 866h0M235 819h0M217 755h0M222 739h0M211 898h0M228 857h0M208 898h0M208 883h0M226 787h0M213 736h0M219 797h0M218 812h0M222 856h0M214 725h0M220 815h0M238 858h0M210 910h0M207 776h0M214 780h0M212 723h0M221 731h0M263 816h0M214 734h0M226 846h0M229 831h0M225 877h0M228 844h0M228 801h0M223 829h0M214 909h0M231 834h0M216 812h0M211 903h0M217 729h0M230 805h0M275 782h0M218 800h0M230 825h0M214 889h0M214 820h0M212 734h0M217 884h0M207 754h0M218 763h0M227 840h0M208 890h0M227 873h0M220 802h0M211 914h0M208 806h0M212 886h0M213 840h0M234 875h0M218 881h0M237 794h0M211 790h0M236 823h0M209 731h0M229 848h0M224 789h0M239 831h0M226 828h0M213 900h0M232 800h0M223 730h0M211 727h0M226 873h0M223 793h0M235 814h0M207 900h0M216 761h0M230 794h0M220 792h0M230 844h0M227 827h0M214 885h0M204 760h0M227 819h0M221 798h0M254 842h0M209 802h0M221 778h0M241 878h0M214 886h0M209 795h0M241 844h0M235 807h0M239 866h0M221 776h0M208 756h0M221 767h0M218 744h0M215 754h0M217 805h0M234 763h0M215 889h0M213 817h0M220 799h0M205 806h0M223 819h0M220 740h0M200 800h0M214 885h0M219 771h0M243 847h0M211 755h0M224 848h0M216 843h0M225 801h0M228 877h0M220 786h0M230 836h0M217 881h0M211 725h0M218 859h0M215 734h0M216 729h0M219 781h0M212 831h0M217 754h0M229 825h0M234 824h0M220 751h0M207 788h0M229 829h0M224 788h0M228 825h0M232 840h0M229 797h0M227 779h0M228 849h0M227 790h0M223 786h0M211 811h0M237 869h0M229 845h0M218 798h0M216 765h0M224 776h0M219 781h0M229 875h0M235 791h0M241 877h0M220 794h0M218 764h0M218 845h0M231 849h0M216 883h0M234 817h0M221 857h0M220 732h0M214 735h0M218 749h0M225 869h0M217 734h0M235 870h0M219 866h0M217 895h0M231 874h0M228 847h0M235 850h0M231 838h0M214 807h0M248 825h0M220 803h0M221 814h0M230 771h0M240 857h0M240 875h0M210 807h0M218 796h0M224 805h0M215 903h0M216 885h0M244 881h0M219 737h0M219 809h0M222 837h0M216 789h0M221 893h0M217 801h0M224 817h0M219 888h0M226 895h0M229 861h0M243 886h0M206 739h0M223 793h0M226 784h0M215 810h0M218 884h0M233 782h0M226 791h0M215 843h0M213 791h0M221 936h0M208 752h0M230 868h0M207 811h0M229 877h0M225 869h0M211 861h0M229 809h0M219 830h0M225 877h0M226 766h0M223 752h0M215 895h0M229 876h0M217 756h0M209 730h0M234 850h0" stroke="#9210a1" stroke-width="2.9"/><path d="M242 859h0M216 919h0M217 891h0M213 918h0M217 891h0M224 842h0M246 882h0M231 825h0M242 815h0M241 880h0M221 791h0M224 787h0M227 764h0M223 797h0M226 730h0M227 777h0M221 906h0M275 870h0M230 841h0M220 818h0M221 820h0M232 872h0M212 847h0M237 835h0M229 805h0M237 812h0M230 827h0M222 860h0M212 745h0M225 751h0M234 865h0M248 891h0M219 891h0M243 877h0M232 801h0M224 793h0M249 780h0M249 885h0M219 896h0M239 794h0M215 755h0M216 766h0M223 836h0M230 833h0M234 785h0M226 783h0M228 766h0M231 841h0M227 792h0M247 873h0M215 895h0M234 854h0M217 883h0M250 882h0M241 830h0M221 737h0M228 923h0M178 830h0M237 823h0M228 853h0M230 828h0M213 754h0M226 897h0M225 835h0M239 894h0M225 779h0M233 817h0M257 845h0M242 859h0M220 932h0M221 791h0M222 817h0M233 806h0M223 787h0M228 880h0M213 924h0M237 773h0M216 747h0M253 842h0M233 869h0M245 854h0M211 897h0M229 815h0M214 899h0M222 733h0M219 893h0M226 805h0M225 730h0M245 835h0M222 832h0M217 880h0M197 857h0M219 908h0M224 897h0M227 860h0M231 904h0M212 900h0M228 877h0M211 884h0M240 778h0M243 826h0M232 785h0M223 842h0M231 812h0M230 888h0M250 866h0M220 768h0M231 738h0M245 768h0M229 819h0M219 883h0M239 861h0M249 826h0M242 873h0M248 873h0M220 788h0M235 894h0M252 889h0M211 889h0M235 791h0M208 881h0M243 797h0M238 805h0M214 928h0M236 812h0M208 880h0M220 898h0M227 902h0M236 849h0M244 835h0M216 836h0M225 816h0M227 753h0M218 802h0M222 721h0M215 812h0M232 827h0M218 903h0M228 779h0M223 835h0M245 805h0M220 791h0M217 816h0M226 792h0M230 792h0M223 728h0M229 791h0M238 870h0M239 846h0M238 856h0M239 814h0M224 785h0M215 923h0M215 881h0M220 781h0M227 752h0M238 871h0M223 835h0M238 861h0M238 864h0M246 788h0M240 840h0M211 727h0M223 887h0M223 772h0M230 777h0M242 878h0M225 785h0M223 771h0M221 829h0M216 893h0M216 840h0M255 867h0M216 925h0M214 888h0M223 807h0M231 847h0M226 752h0M226 768h0M235 858h0M242 880h0M243 843h0M228 844h0M225 825h0M210 901h0M221 839h0M232 806h0M227 823h0M225 880h0M215 938h0M240 826h0M220 884h0M240 861h0M229 801h0M224 911h0M233 780h0M242 880h0M218 830h0M225 802h0M247 851h0M238 877h0M229 820h0M223 778h0M218 900h0M234 796h0M226 894h0M227 859h0M217 883h0M222 773h0M243 852h0M235 801h0M234 872h0M242 853h0M243 877h0M255 884h0M217 909h0M211 884h0M241 801h0M229 810h0M223 843h0M226 780h0M223 752h0M230 860h0M246 858h0M214 885h0M253 779h0M234 806h0M251 892h0M223 760h0M220 796h0M234 892h0M222 910h0M219 923h0M239 865h0M213 896h0M211 910h0M226 793h0M222 906h0M232 869h0M213 911h0M218 727h0M215 823h0M235 911h0M240 842h0M224 906h0M221 808h0M224 901h0M240 817h0M241 869h0M233 821h0M228 797h0M244 859h0M217 829h0M224 894h0M227 763h0M229 917h0M226 819h0M225 766h0M244 853h0M229 801h0M251 861h0M228 841h0M228 785h0M236 848h0M232 867h0M232 887h0M240 831h0M234 760h0M229 802h0M233 778h0M220 891h0M217 886h0M227 904h0M214 902h0M223 737h0M232 875h0M222 792h0M225 799h0M227 744h0M217 781h0M245 762h0M224 851h0M227 832h0M222 935h0M213 901h0M278 886h0M232 806h0M233 796h0M210 879h0M227 868h0M225 805h0M235 768h0M240 777h0M249 829h0M224 925h0M235 842h0M241 762h0M215 909h0M232 781h0M237 865h0M242 883h0M239 856h0M209 884h0M238 782h0M210 886h0M228 891h0M217 798h0M228 881h0M224 788h0M209 900h0M220 919h0M222 747h0M211 805h0M226 870h0M211 892h0M223 811h0" stroke="#a62195" stroke-width="2.9"/><path d="M244 884h0M248 838h0M232 756h0M249 854h0M258 837h0M249 787h0M266 891h0M226 817h0M230 841h0M234 847h0M216 921h0M242 830h0M240 882h0M242 795h0M243 845h0M234 831h0M232 831h0M239 729h0M247 786h0M236 772h0M221 814h0M241 854h0M231 882h0M227 831h0M249 796h0M232 932h0M235 842h0M228 869h0M243 886h0M255 852h0M236 832h0M244 803h0M237 865h0M244 884h0M246 894h0M242 772h0M217 922h0M245 859h0M244 763h0M246 885h0M229 885h0M248 769h0M230 758h0M232 755h0M224 778h0M245 785h0M238 793h0M223 748h0M224 900h0M229 885h0M225 915h0M237 828h0M249 856h0M250 766h0M226 775h0M233 850h0M221 744h0M231 817h0M215 891h0M248 876h0M225 776h0M214 888h0M237 741h0M239 785h0M241 760h0M212 931h0M256 854h0M228 855h0M226 726h0M236 876h0M231 822h0M221 914h0M246 875h0M226 765h0M238 840h0M248 851h0M234 779h0M235 812h0M222 843h0M256 865h0M259 866h0M238 751h0M242 872h0M224 792h0M233 903h0M231 905h0M247 874h0M225 900h0M225 879h0M233 741h0M218 866h0M260 870h0M258 841h0M235 819h0M232 805h0M234 828h0M251 853h0M228 749h0M233 842h0M268 867h0M242 830h0M229 780h0M238 807h0M222 797h0M238 757h0M231 753h0M215 903h0M243 769h0M248 865h0M235 866h0M247 777h0M243 861h0M233 830h0M240 870h0M221 887h0M224 769h0M231 748h0M250 853h0M237 783h0M240 813h0M224 735h0M239 795h0M235 834h0M237 825h0M245 818h0M247 792h0M234 863h0M217 892h0M230 830h0M224 749h0M212 914h0M246 804h0M232 791h0M227 893h0M271 811h0M228 886h0M212 890h0M232 900h0M223 737h0M217 900h0M226 899h0M240 817h0M229 761h0M225 835h0M247 874h0M232 804h0M220 918h0M228 746h0M244 887h0M246 843h0M219 914h0M225 778h0M223 764h0M251 837h0M239 810h0M208 885h0M217 937h0M233 907h0M210 892h0M238 888h0M235 751h0M223 754h0M247 893h0M246 841h0M236 759h0M230 810h0M227 843h0M236 828h0M229 893h0M240 795h0M242 771h0M217 898h0M255 857h0M235 902h0M227 910h0M251 807h0M249 778h0M239 817h0M233 869h0M231 922h0M254 807h0M249 828h0M250 822h0M238 870h0M235 797h0M227 782h0M234 828h0M240 806h0M280 771h0M251 877h0M241 883h0M234 792h0M242 881h0M249 866h0M238 849h0M243 822h0M231 817h0M242 817h0M289 870h0M249 809h0M224 888h0M248 811h0M232 830h0M236 863h0M235 785h0M257 838h0M246 820h0M265 837h0M252 793h0M234 793h0M246 869h0M249 875h0M231 800h0M230 762h0M244 857h0M234 877h0M219 896h0M240 825h0M230 788h0M224 774h0M238 727h0M223 891h0M240 807h0M239 804h0M246 805h0M231 909h0M250 856h0M234 783h0M238 833h0M233 808h0M224 740h0M240 798h0M220 739h0M249 868h0M241 831h0M255 753h0M239 823h0M232 888h0M243 762h0M250 870h0M243 867h0M237 798h0M235 762h0M221 918h0M247 786h0M246 859h0M217 825h0M246 856h0M223 829h0M243 765h0M234 910h0M228 885h0M222 889h0M233 903h0M226 903h0M253 786h0M243 878h0M236 740h0M227 750h0M227 916h0M237 852h0M233 771h0M227 915h0M249 809h0M238 788h0M242 836h0M228 899h0M225 752h0M239 724h0M254 852h0M212 733h0M229 932h0M233 815h0M245 846h0M233 782h0M212 916h0M231 785h0M235 790h0M224 922h0M232 890h0M228 895h0M226 743h0M221 913h0M251 885h0M223 894h0M272 797h0M229 735h0M237 775h0M226 814h0M239 853h0M233 822h0M218 900h0M256 788h0M239 791h0M242 879h0M222 930h0M215 746h0M252 846h0M244 830h0M226 772h0M245 867h0M262 811h0M241 820h0M259 894h0M246 853h0M212 910h0M230 852h0M221 740h0M232 815h0M246 798h0M237 848h0M243 797h0M233 923h0M223 724h0M230 858h0M261 870h0M231 871h0M264 875h0M236 836h0M238 848h0M222 742h0M231 804h0M240 809h0M238 767h0M225 832h0M223 769h0M226 802h0M249 777h0M223 778h0M245 859h0M236 928h0M236 830h0M257 860h0M252 847h0M244 838h0M230 781h0M260 856h0M227 935h0M220 802h0M215 898h0M237 793h0M234 886h0M213 894h0M241 860h0M215 888h0M232 776h0M242 829h0M224 824h0M238 807h0M225 919h0M226 745h0M227 937h0M236 829h0M243 853h0M229 844h0M229 901h0M254 834h0M240 825h0M232 754h0M215 931h0M227 769h0M253 803h0M223 723h0M248 808h0M258 827h0M238 759h0M235 759h0M243 867h0M231 754h0M223 793h0M221 774h0M233 893h0M257 787h0M220 890h0M211 907h0M224 771h0M245 853h0M227 854h0M237 850h0M229 837h0M246 894h0M251 827h0" stroke="#ba3487" stroke-width="2.9"/><path d="M227 905h0M237 796h0M234 760h0M225 926h0M241 789h0M234 890h0M250 826h0M248 802h0M254 838h0M252 826h0M239 806h0M248 855h0M254 833h0M236 906h0M226 745h0M248 730h0M273 859h0M236 880h0M269 805h0M244 827h0M217 928h0M231 898h0M223 765h0M230 912h0M239 798h0M222 922h0M254 790h0M244 832h0M274 870h0M261 840h0M231 919h0M266 801h0M255 853h0M223 908h0M249 786h0M223 767h0M221 880h0M260 847h0M249 784h0M236 821h0M262 865h0M244 725h0M236 725h0M249 828h0M235 891h0M228 914h0M233 927h0M225 729h0M246 807h0M243 753h0M244 778h0M238 773h0M235 915h0M225 747h0M241 772h0M252 870h0M213 930h0M243 784h0M236 790h0M263 883h0M234 898h0M235 768h0M236 914h0M214 915h0M239 878h0M245 821h0M254 753h0M246 808h0M258 859h0M225 755h0M238 733h0M233 937h0M235 751h0M231 887h0M256 741h0M243 883h0M256 813h0M227 763h0M252 889h0M268 855h0M222 889h0M233 931h0M252 822h0M252 861h0M224 896h0M240 724h0M230 768h0M258 855h0M251 864h0M223 916h0M263 810h0M251 873h0M236 756h0M242 768h0M232 761h0M217 790h0M235 905h0M246 854h0M213 928h0M250 847h0M239 872h0M269 883h0M271 867h0M300 766h0M252 828h0M247 795h0M237 750h0M294 865h0M252 855h0M243 755h0M235 911h0M235 751h0M257 878h0M256 764h0M255 888h0M232 744h0M255 884h0M250 877h0M242 845h0M232 751h0M241 866h0M227 924h0M253 859h0M243 739h0M220 915h0M256 838h0M222 756h0M248 849h0M223 756h0M231 897h0M238 868h0M236 930h0M250 732h0M265 837h0M234 907h0M260 810h0M237 749h0M246 895h0M225 743h0M253 827h0M253 731h0M248 843h0M251 889h0M282 797h0M230 885h0M251 879h0M248 753h0M224 736h0M245 811h0M256 887h0M255 885h0M240 757h0M255 866h0M254 738h0M273 811h0M214 914h0M234 756h0M254 823h0M251 850h0M244 842h0M229 884h0M231 877h0M220 923h0M237 765h0M225 937h0M245 823h0M228 785h0M241 777h0M257 854h0M244 794h0M235 812h0M260 890h0M263 757h0M250 854h0M263 817h0M251 852h0M255 828h0M274 853h0M258 879h0M257 780h0M262 895h0M228 747h0M264 860h0M250 789h0M231 921h0M225 897h0M223 932h0M244 728h0M249 874h0M251 760h0M221 914h0M223 738h0M263 850h0M237 925h0M238 733h0M238 749h0M231 928h0M237 756h0M244 775h0M252 885h0M240 729h0M228 724h0M242 767h0M256 824h0M268 844h0M228 903h0M238 882h0M258 843h0M241 765h0M253 826h0M265 842h0M223 920h0M262 821h0M233 763h0M262 881h0M240 758h0M235 783h0M257 880h0M233 749h0M232 901h0M226 901h0M220 934h0M228 910h0M246 822h0M270 858h0M220 921h0M239 775h0M265 845h0M237 891h0M257 848h0M240 756h0M246 766h0M255 780h0M249 895h0M228 929h0M252 886h0M241 802h0M215 935h0M224 728h0M216 915h0M244 785h0M233 760h0M231 776h0M264 870h0M243 825h0M217 934h0M213 928h0M246 819h0M223 730h0M251 841h0M252 779h0M236 746h0M241 811h0M251 822h0M230 743h0M255 749h0M242 789h0M235 790h0M244 894h0M225 904h0M257 854h0M230 779h0M222 925h0M264 871h0M247 865h0M255 854h0M224 930h0M248 805h0M235 751h0M241 765h0M226 759h0M229 767h0M231 781h0M246 822h0M244 820h0M273 847h0M256 870h0M254 797h0M241 791h0M228 755h0M226 742h0M237 883h0M224 891h0M228 938h0M239 793h0M252 841h0M214 925h0M268 875h0M235 881h0M254 767h0M232 788h0M251 800h0M248 846h0M240 766h0M248 797h0M241 893h0M214 928h0M237 799h0M237 921h0M220 915h0M242 822h0M238 799h0M253 847h0M247 775h0M261 869h0M248 892h0M233 900h0M237 900h0M232 839h0M248 753h0M253 801h0M248 795h0M258 832h0M249 780h0M227 910h0M273 809h0M249 828h0M223 920h0M227 908h0M254 786h0M228 825h0M244 893h0M237 757h0M250 820h0M228 925h0M241 763h0M212 934h0M231 929h0M224 916h0M220 923h0M247 779h0M244 756h0M247 890h0M251 856h0M267 794h0M241 764h0M236 895h0M226 753h0M243 753h0M239 878h0M288 829h0M264 882h0M246 851h0M254 835h0M243 809h0M252 775h0M224 728h0M241 833h0M271 831h0M254 747h0M223 738h0M264 864h0M232 766h0M254 838h0M228 897h0M264 863h0M233 880h0M238 798h0M262 863h0" stroke="#cd4976" stroke-width="2.9"/><path d="M246 789h0M269 797h0M230 931h0M252 821h0M264 853h0M234 906h0M255 733h0M262 867h0M218 875h0M242 761h0M273 831h0M249 808h0M270 873h0M261 809h0M266 866h0M260 833h0M268 730h0M264 874h0M243 721h0M251 762h0M264 857h0M275 846h0M261 854h0M228 879h0M242 775h0M249 793h0M237 741h0M227 930h0M266 844h0M242 893h0M246 750h0M248 845h0M247 735h0M250 744h0M265 854h0M272 850h0M225 929h0M254 847h0M266 864h0M247 854h0M241 806h0M246 809h0M276 848h0M268 801h0M257 730h0M243 790h0M244 746h0M287 823h0M247 724h0M262 843h0M281 864h0M267 835h0M258 804h0M266 741h0M272 845h0M237 887h0M249 840h0M246 821h0M254 840h0M255 739h0M262 802h0M280 878h0M266 847h0M281 828h0M239 759h0M233 939h0M231 914h0M268 849h0M236 883h0M257 818h0M242 753h0M244 890h0M248 741h0M253 836h0M225 933h0M270 891h0M243 762h0M272 805h0M271 892h0M251 815h0M233 904h0M265 860h0M260 754h0M252 732h0M249 766h0M235 900h0M271 843h0M264 853h0M266 875h0M259 783h0M219 911h0M254 814h0M251 889h0M252 734h0M258 782h0M264 820h0M247 872h0M277 893h0M254 829h0M250 784h0M258 848h0M248 771h0M251 790h0M253 801h0M264 765h0M261 850h0M216 926h0M254 752h0M246 755h0M246 750h0M207 865h0M248 787h0M258 881h0M247 733h0M257 785h0M260 786h0M232 917h0M260 798h0M273 797h0M240 885h0M263 838h0M251 767h0M276 815h0M243 749h0M269 820h0M268 840h0M273 859h0M270 838h0M241 768h0M270 828h0M277 815h0M234 749h0M251 794h0M248 919h0M278 877h0M256 766h0M269 775h0M255 857h0M257 842h0M232 930h0M245 893h0M261 841h0M245 855h0M257 777h0M240 759h0M272 856h0M253 831h0M245 816h0M256 726h0M237 928h0M256 877h0M251 890h0M256 767h0M251 824h0M265 848h0M228 909h0M262 811h0M237 886h0M258 857h0M258 739h0M268 786h0M246 759h0M252 813h0M274 727h0M246 792h0M272 801h0M276 889h0M251 759h0M254 765h0M261 880h0M228 937h0M254 870h0M247 731h0M231 909h0M243 752h0M231 904h0M251 745h0M259 781h0M258 730h0M244 903h0M260 882h0M261 788h0M268 880h0M272 873h0M240 799h0M214 909h0M257 774h0M251 812h0M221 919h0M237 876h0M237 932h0M266 874h0M226 756h0M244 776h0M245 749h0M273 853h0M262 791h0M266 864h0M255 829h0M237 732h0M258 786h0M246 748h0M255 862h0M269 836h0M266 756h0M252 784h0M262 887h0M243 902h0M238 743h0M219 879h0M266 814h0M250 812h0M253 784h0M275 874h0M268 753h0M232 915h0M272 842h0M254 855h0M256 799h0M267 872h0M266 866h0M239 890h0M268 817h0M262 845h0M255 788h0M259 878h0M269 843h0M265 849h0M273 861h0M243 761h0M246 751h0M240 805h0M234 913h0M255 842h0M260 854h0M254 771h0M288 884h0M236 764h0M263 813h0M264 885h0M245 742h0M270 774h0M246 801h0M248 842h0M257 771h0M233 884h0M254 802h0M258 841h0M237 771h0M270 779h0M239 890h0M234 922h0M245 761h0M255 726h0M265 879h0M232 903h0M239 747h0M256 882h0M267 885h0M270 758h0M255 837h0M246 724h0M261 843h0M251 785h0M265 841h0M269 794h0M284 858h0M264 801h0M248 774h0M256 824h0M260 832h0M253 844h0M256 782h0M238 736h0M240 907h0M259 834h0M258 755h0M262 888h0M236 745h0M275 848h0M249 751h0M247 764h0M268 856h0M247 721h0M258 880h0M257 802h0M264 817h0M258 894h0M264 888h0M270 857h0M258 819h0M274 830h0M259 850h0M259 833h0M255 885h0M261 881h0M247 822h0M262 845h0M237 724h0M231 905h0M262 794h0M265 894h0M256 795h0M261 834h0M273 825h0M255 826h0M255 775h0M236 894h0M254 733h0M260 865h0M268 848h0M245 720h0M250 745h0M272 847h0M254 814h0M273 872h0M258 832h0M264 850h0M288 837h0M234 757h0M238 730h0M257 883h0M255 793h0M269 827h0M264 786h0M258 867h0M255 791h0M241 739h0M263 813h0M271 807h0M238 790h0M235 919h0M248 847h0M233 767h0M269 762h0M250 778h0M250 756h0M255 872h0M251 835h0M266 818h0M259 822h0M256 851h0M281 818h0M254 771h0M261 836h0M248 785h0M275 789h0M224 888h0M240 763h0M260 825h0M224 911h0M255 767h0M235 912h0M233 931h0M258 873h0M255 820h0M251 884h0M264 788h0M255 745h0M270 854h0M290 848h0M228 941h0M267 849h0M257 769h0M248 744h0M236 762h0M267 897h0M221 937h0M235 910h0M255 805h0M236 894h0M256 820h0M231 889h0M270 812h0M236 805h0M256 781h0M232 922h0M257 851h0M249 773h0" stroke="#dc5d66" stroke-width="2.9"/><path d="M297 836h0M264 832h0M253 758h0M267 798h0M272 822h0M272 789h0M272 855h0M259 746h0M243 760h0M292 856h0M268 780h0M238 734h0M245 750h0M259 728h0M241 902h0M272 817h0M248 749h0M242 926h0M263 844h0M274 824h0M298 827h0M277 889h0M257 762h0M272 803h0M257 893h0M291 802h0M254 860h0M269 874h0M263 848h0M264 792h0M268 766h0M271 747h0M269 841h0M269 895h0M259 807h0M261 822h0M249 781h0M272 845h0M256 835h0M270 773h0M244 760h0M297 792h0M275 795h0M260 875h0M280 800h0M277 796h0M274 846h0M272 817h0M260 780h0M240 730h0M274 865h0M287 877h0M258 785h0M254 772h0M286 870h0M268 835h0M241 725h0M243 744h0M265 751h0M262 772h0M244 753h0M244 753h0M260 746h0M274 846h0M279 789h0M265 758h0M259 776h0M252 764h0M240 914h0M266 819h0M255 726h0M268 814h0M250 763h0M260 816h0M258 744h0M269 781h0M264 787h0M237 757h0M268 857h0M272 829h0M265 813h0M277 845h0M262 838h0M240 727h0M260 742h0M267 787h0M254 829h0M275 893h0M272 822h0M269 856h0M265 887h0M258 720h0M263 827h0M266 801h0M235 826h0M279 849h0M258 899h0M279 878h0M280 820h0M270 829h0M266 786h0M268 891h0M253 781h0M245 733h0M282 893h0M242 747h0M263 888h0M255 818h0M259 770h0M249 904h0M260 878h0M285 858h0M260 894h0M265 758h0M233 929h0M279 810h0M259 807h0M264 806h0M271 785h0M257 735h0M259 756h0M241 734h0M245 726h0M252 750h0M258 737h0M258 736h0M258 744h0M271 866h0M225 904h0M236 921h0M266 739h0M272 804h0M268 777h0M248 769h0M271 889h0M278 825h0M272 898h0M259 729h0M256 859h0M281 847h0M243 824h0M281 869h0M248 792h0M259 840h0M274 790h0M271 859h0M233 930h0M251 752h0M255 770h0M252 733h0M264 805h0M246 906h0M257 767h0M265 886h0M280 813h0M280 808h0M289 881h0M291 879h0M233 925h0M294 765h0M243 903h0M270 881h0M273 805h0M268 763h0M253 773h0M258 757h0M279 849h0M274 829h0M282 836h0M265 856h0M245 757h0M270 765h0M263 848h0M276 844h0M290 807h0M289 797h0M279 877h0M264 793h0M283 866h0M260 809h0M241 925h0M231 914h0M264 852h0M272 813h0M257 827h0M256 819h0M237 914h0M282 857h0M266 771h0M259 827h0M268 868h0M239 760h0M269 806h0M288 880h0M275 824h0M265 780h0M271 854h0M284 831h0M253 730h0M253 733h0M241 753h0M261 789h0M275 805h0M251 749h0M258 729h0M245 807h0M269 791h0M283 850h0M254 753h0M279 856h0M244 739h0M273 814h0M264 745h0M276 880h0M264 878h0M274 819h0M243 728h0M265 810h0M255 842h0M278 859h0M264 805h0M254 776h0M260 816h0M250 822h0M275 869h0M265 772h0M258 743h0M271 859h0M257 774h0M255 744h0M251 794h0M270 883h0M267 896h0M212 808h0M248 906h0M270 802h0M265 869h0M246 756h0M253 761h0M257 807h0M296 842h0M259 919h0M256 904h0M276 878h0M241 737h0M288 815h0M269 869h0M263 758h0M243 730h0M247 760h0M291 859h0M268 891h0M264 848h0M289 826h0M278 797h0M259 937h0M260 840h0M279 871h0M239 749h0M285 865h0M259 754h0M270 812h0M260 843h0M266 817h0M292 841h0M251 726h0M247 746h0M266 839h0M271 793h0M294 848h0M276 851h0M266 788h0M247 768h0M241 898h0M279 851h0M259 898h0M255 754h0M256 925h0M271 853h0M269 778h0M253 778h0M259 848h0M265 859h0M240 750h0M252 751h0M278 849h0M295 821h0M248 736h0M271 809h0M266 827h0M247 752h0M263 758h0M253 720h0M268 859h0M247 772h0M258 845h0M250 723h0M268 843h0M265 807h0M259 848h0M266 875h0M272 848h0M252 783h0M274 808h0M267 850h0M274 855h0M261 751h0M277 877h0M241 895h0M290 864h0M269 866h0M278 824h0M280 813h0M254 874h0M245 754h0M260 770h0M243 918h0M248 747h0M255 751h0M263 845h0M269 789h0M273 822h0M253 789h0M271 818h0M288 807h0M265 865h0M263 800h0M261 777h0M269 809h0M275 894h0M241 740h0M261 816h0M271 784h0M248 756h0M295 812h0M271 785h0M247 908h0M285 882h0M256 844h0M232 937h0M254 900h0M253 786h0M266 771h0M244 749h0M244 932h0M266 759h0M241 748h0M273 890h0M268 887h0M251 754h0M266 785h0M241 930h0M275 837h0M268 749h0M247 740h0M270 788h0M267 861h0M282 827h0M252 726h0M260 890h0M250 765h0M271 849h0M272 817h0M273 811h0M262 804h0M270 865h0M284 893h0M282 845h0M251 723h0M280 870h0M291 794h0M259 752h0M272 885h0M277 834h0M270 805h0M267 888h0M244 918h0M255 732h0M271 784h0M264 776h0M261 758h0M257 733h0M262 870h0M260 739h0M236 891h0M277 824h0M274 801h0M264 781h0M262 828h0M272 878h0M266 830h0M274 894h0M273 870h0M255 817h0M259 900h0M218 937h0M286 848h0M275 868h0M271 864h0M294 797h0M276 893h0M279 823h0M242 735h0M264 852h0M264 868h0M276 855h0M253 789h0M243 759h0M278 880h0M254 779h0M269 823h0M259 855h0M261 741h0M255 775h0M243 735h0M268 847h0M249 742h0M260 819h0M254 913h0M263 893h0M269 786h0M248 760h0M265 821h0M281 814h0M246 784h0M291 823h0M258 768h0M270 843h0M272 843h0M271 814h0M252 832h0M258 774h0M289 799h0" stroke="#e97456" stroke-width="2.9"/><path d="M284 788h0M282 839h0M269 853h0M292 807h0M244 896h0M282 853h0M284 838h0M249 913h0M271 865h0M284 891h0M262 812h0M265 900h0M286 795h0M261 836h0M246 918h0M282 865h0M275 886h0M183 831h0M285 819h0M239 927h0M282 786h0M276 838h0M262 738h0M285 873h0M265 766h0M275 805h0M290 878h0M276 811h0M278 862h0M255 899h0M261 830h0M269 750h0M281 862h0M247 931h0M275 816h0M212 868h0M279 879h0M269 861h0M271 876h0M280 838h0M255 905h0M278 869h0M290 827h0M267 849h0M274 823h0M293 834h0M263 809h0M286 886h0M293 791h0M259 913h0M287 893h0M270 809h0M280 894h0M238 727h0M251 900h0M273 865h0M270 775h0M251 805h0M280 799h0M254 940h0M262 899h0M274 798h0M252 745h0M252 902h0M278 828h0M267 751h0M255 765h0M282 817h0M291 873h0M293 796h0M289 878h0M258 755h0M239 907h0M273 897h0M283 806h0M242 929h0M274 791h0M275 866h0M282 861h0M282 799h0M278 789h0M262 844h0M279 786h0M289 865h0M269 868h0M276 844h0M275 881h0M267 857h0M245 924h0M271 771h0M272 915h0M290 806h0M295 820h0M277 819h0M244 932h0M271 746h0M282 808h0M260 720h0M279 894h0M252 897h0M263 763h0M282 794h0M272 842h0M249 902h0M294 834h0M289 829h0M287 879h0M275 898h0M272 826h0M277 794h0M287 824h0M284 885h0M245 925h0M287 871h0M245 927h0M292 827h0M257 724h0M288 833h0M260 743h0M273 843h0M283 837h0M273 795h0M266 857h0M280 816h0M288 878h0M276 864h0M269 798h0M281 827h0M246 896h0M260 795h0M279 811h0M269 873h0M279 810h0M280 834h0M268 824h0M278 893h0M283 840h0M276 864h0M275 855h0M278 868h0M281 798h0M287 801h0M282 840h0M240 928h0M266 765h0M278 831h0M261 794h0M245 749h0M258 738h0M260 736h0M257 740h0M287 861h0M271 845h0M294 793h0M260 755h0M260 933h0M250 921h0M283 855h0M276 801h0M286 812h0M258 766h0M267 749h0M285 791h0M255 896h0M281 867h0M285 897h0M282 804h0M289 866h0M284 823h0M288 824h0M282 828h0M255 728h0M280 894h0M271 744h0M253 922h0M280 798h0M263 749h0M288 876h0M267 843h0M286 804h0M277 798h0M272 868h0M283 862h0M268 875h0M284 789h0M296 820h0M291 893h0M247 897h0M270 732h0M247 933h0M294 842h0M273 899h0M271 928h0M264 860h0M287 805h0M285 898h0M267 824h0M290 861h0M293 871h0M275 858h0M253 763h0M288 872h0M274 839h0M217 896h0M245 901h0M285 872h0M272 820h0M277 885h0M273 890h0M265 790h0M265 866h0M282 831h0M284 880h0M241 761h0M247 898h0M277 897h0M247 732h0M268 874h0M262 770h0M285 899h0M293 827h0M247 926h0M271 831h0M280 884h0M263 764h0M268 862h0M281 828h0M297 827h0M297 814h0M242 926h0M289 889h0M271 742h0M295 854h0M291 831h0M282 848h0M278 878h0M295 856h0M245 931h0M276 816h0M266 755h0M266 784h0M293 844h0M246 921h0M259 767h0M272 803h0M278 809h0M272 874h0M262 746h0M251 914h0M288 840h0M245 725h0M283 790h0M274 847h0M272 787h0M276 792h0M269 816h0M277 858h0M283 796h0M274 882h0M281 898h0M296 832h0M270 729h0M261 748h0M287 790h0M280 873h0M245 914h0M266 769h0M265 750h0M254 901h0M288 832h0M273 803h0M277 881h0M254 814h0M270 797h0M271 826h0M286 839h0M264 826h0M290 844h0M286 789h0M250 903h0M287 854h0M276 876h0M252 914h0M288 806h0M238 913h0M260 785h0M241 932h0M255 727h0M277 812h0M263 778h0M236 885h0M297 819h0M246 910h0M246 901h0M274 848h0M293 838h0M268 795h0M242 855h0M270 847h0M295 832h0M263 808h0M261 737h0M287 810h0M255 809h0M274 818h0M246 897h0M275 844h0M264 883h0M287 797h0M267 888h0M282 852h0M254 752h0M258 821h0M287 807h0M286 792h0M284 850h0M241 734h0M289 839h0M267 867h0M285 857h0M289 875h0M283 831h0M259 897h0M249 761h0M267 894h0M268 754h0M286 844h0M242 924h0M250 911h0M266 768h0M280 818h0M265 774h0M278 791h0M243 913h0M261 732h0M289 852h0M263 843h0M253 744h0M269 879h0M247 764h0M282 865h0M241 928h0M297 823h0M277 831h0M273 895h0M266 775h0M251 908h0M262 740h0M250 752h0M277 858h0M288 789h0M278 792h0M281 885h0M258 908h0M267 872h0M281 856h0M278 867h0M280 890h0M255 789h0M249 904h0M273 842h0M295 857h0M264 792h0M254 920h0M280 792h0M263 865h0M267 776h0M287 849h0" stroke="#f48d45" stroke-width="2.9"/><path d="M288 871h0M260 899h0M290 803h0M285 894h0M264 896h0M285 877h0M259 923h0M256 911h0M284 820h0M276 896h0M262 915h0M290 853h0M274 880h0M288 795h0M291 841h0M286 860h0M287 841h0M275 798h0M275 842h0M287 830h0M286 885h0M286 890h0M292 818h0M272 798h0M250 932h0M279 799h0M288 864h0M271 823h0M258 918h0M277 784h0M281 853h0M277 785h0M242 916h0M295 821h0M266 934h0M295 850h0M242 931h0M273 874h0M294 835h0M274 787h0M296 842h0M284 842h0M263 902h0M287 850h0M216 857h0M271 781h0M290 859h0M287 790h0M262 738h0M287 887h0M293 858h0M274 757h0M284 790h0M281 884h0M244 915h0M255 922h0M264 758h0M288 883h0M291 878h0M272 907h0M289 812h0M277 781h0M249 901h0M282 873h0M258 905h0M254 742h0M279 873h0M290 816h0M276 824h0M267 915h0M239 897h0M286 825h0M261 889h0M288 831h0M282 870h0M279 782h0M286 893h0M272 778h0M282 791h0M269 918h0M288 787h0M292 803h0M247 896h0M251 924h0M288 820h0M288 847h0M256 906h0M260 727h0M285 867h0M250 914h0M271 762h0M274 779h0M251 931h0M297 791h0M292 809h0M296 843h0M289 790h0M261 921h0M290 851h0M289 831h0M292 843h0M279 817h0M281 808h0M254 917h0M282 856h0M279 792h0M254 770h0M275 884h0M256 913h0M258 907h0M286 826h0M293 827h0M252 910h0M290 884h0M240 908h0M289 841h0M238 896h0M248 926h0M269 878h0M245 927h0M281 815h0M288 831h0M273 870h0M291 881h0M283 820h0M295 799h0M250 749h0M289 799h0M260 743h0M283 842h0M270 730h0M291 787h0M254 902h0M247 915h0M293 804h0M246 934h0M279 893h0M251 901h0M245 738h0M255 911h0M295 830h0M287 784h0M250 922h0M267 762h0M244 930h0M281 812h0M243 756h0M270 880h0M265 914h0M267 815h0M285 891h0M275 900h0M283 884h0M240 916h0M283 815h0M294 800h0M279 847h0M276 822h0M292 881h0M277 786h0M248 936h0M296 796h0M291 856h0M268 726h0M252 940h0M285 790h0M283 867h0M262 922h0M296 839h0M259 902h0M259 738h0M290 862h0M288 890h0M283 868h0M291 882h0M269 850h0M255 934h0M290 796h0M248 907h0M248 729h0M256 909h0M266 921h0M288 810h0M252 904h0M288 897h0M289 830h0M282 805h0M261 900h0M285 851h0M251 901h0M264 904h0M273 842h0M289 792h0M258 914h0M288 829h0M266 903h0M289 898h0M250 899h0M292 857h0M266 905h0M283 816h0M262 737h0M294 821h0M291 826h0M279 897h0M276 789h0M291 786h0M287 838h0M290 852h0M266 935h0M220 787h0M293 872h0M246 925h0M272 760h0M284 825h0M292 877h0M270 913h0M292 872h0M243 932h0M263 820h0M272 862h0M288 891h0M286 837h0M290 835h0M279 902h0M265 913h0M274 826h0M264 826h0M269 766h0M277 798h0M288 838h0M252 919h0M294 855h0M270 744h0M294 829h0M269 930h0M289 868h0M290 830h0M265 726h0M276 819h0M261 921h0M291 859h0M289 834h0M285 853h0M272 774h0M278 796h0M292 841h0M277 856h0M284 842h0M281 853h0M293 879h0M248 913h0M291 874h0M295 797h0M289 864h0M294 813h0M279 797h0M200 829h0M281 891h0M251 925h0M288 790h0M246 920h0M293 833h0M285 787h0M287 795h0M281 867h0M288 837h0M271 769h0M237 905h0M257 919h0M297 797h0" stroke="#fcad32" stroke-width="2.9"/><path d="M281 754h0M301 756h0M282 785h0M298 760h0M260 937h0M272 782h0M291 822h0M276 843h0M290 851h0M262 934h0M265 918h0M278 756h0M276 766h0M269 911h0M271 904h0M279 819h0M288 876h0M285 751h0M283 742h0M301 756h0M286 902h0M289 781h0M278 736h0M294 744h0M300 758h0M289 774h0M267 919h0M283 777h0M244 928h0M294 797h0M298 770h0M290 770h0M258 926h0M261 905h0M272 774h0M286 890h0M253 924h0M301 757h0M274 778h0M283 770h0M274 756h0M279 804h0M285 758h0M273 749h0M294 746h0M282 852h0M272 771h0M254 935h0M273 926h0M272 902h0M253 908h0M280 729h0M290 764h0M291 768h0M273 753h0M298 755h0M291 736h0M259 936h0M268 928h0M283 752h0M279 734h0M289 769h0M278 759h0M255 922h0M266 937h0M282 736h0M257 868h0M250 899h0M279 751h0M279 894h0M307 757h0M286 770h0M289 777h0M272 751h0M264 944h0M255 914h0M280 750h0M293 747h0M303 751h0M287 773h0M239 910h0M238 923h0M264 924h0M268 928h0M291 763h0M296 774h0M295 740h0M251 905h0M264 937h0M279 785h0M263 904h0M290 743h0M286 779h0M285 817h0M286 772h0M274 752h0M287 845h0M306 761h0M277 781h0M277 890h0M250 905h0M275 775h0M263 933h0M294 761h0M291 773h0M288 900h0M301 758h0M260 923h0M286 785h0M248 901h0M278 905h0M261 941h0M290 767h0M270 922h0M276 771h0M292 753h0M297 767h0M262 942h0M284 758h0M281 763h0M266 921h0M268 919h0M303 758h0M275 909h0M294 766h0M271 927h0M304 763h0M292 875h0M284 907h0M292 852h0M303 769h0M287 784h0M268 938h0M281 737h0M280 872h0M302 764h0M276 911h0M255 916h0M296 758h0M285 740h0M270 934h0M293 740h0M264 939h0M294 781h0M296 849h0M280 768h0M281 753h0M285 771h0M280 901h0M290 745h0M282 730h0M291 748h0M303 763h0M288 737h0M295 775h0M247 931h0M261 939h0M300 777h0M282 785h0M269 910h0M287 843h0M281 742h0M303 763h0M265 908h0M289 772h0M274 900h0M290 785h0M286 891h0M277 910h0M278 782h0M279 906h0M284 884h0M286 785h0M291 759h0M273 773h0M252 911h0M284 779h0M302 751h0M285 760h0M266 922h0M273 912h0M283 767h0M258 939h0M287 737h0M277 913h0M261 931h0M281 757h0M262 923h0M289 832h0M280 904h0M272 774h0M304 765h0M285 790h0M240 892h0M286 777h0M260 920h0M282 733h0M258 937h0M262 926h0M284 761h0M294 754h0M272 927h0M267 752h0M289 837h0M288 881h0M269 926h0M273 758h0M285 756h0M266 903h0M258 930h0M278 903h0M273 736h0M297 759h0M263 939h0M240 937h0M293 781h0M275 780h0M264 938h0M302 765h0M301 774h0M275 771h0M280 775h0M269 922h0M296 789h0M276 768h0M257 913h0M284 737h0M261 927h0M279 738h0M288 741h0M239 918h0M304 755h0M273 774h0M278 862h0M261 932h0M260 942h0M299 768h0M290 756h0M296 776h0M286 870h0M305 761h0M274 913h0M276 901h0M295 761h0M239 932h0M277 785h0M272 761h0M260 915h0M303 767h0M304 767h0M282 822h0M285 780h0M262 914h0M267 915h0M271 932h0M258 900h0M303 755h0M307 765h0M294 793h0M263 943h0M272 754h0M287 764h0M282 763h0M285 775h0M279 751h0M272 921h0M286 767h0M273 754h0M273 777h0M287 752h0M297 754h0M272 920h0M278 803h0M281 754h0M267 921h0M297 748h0M277 736h0M302 753h0M267 940h0M273 911h0M286 878h0M283 771h0M284 881h0M251 927h0M277 908h0M248 928h0M301 759h0M284 778h0M263 929h0M285 814h0M256 918h0M282 735h0M254 927h0M285 753h0M263 945h0M276 776h0M273 904h0M271 911h0M276 912h0M250 746h0M277 761h0M292 745h0M278 776h0M285 903h0M278 770h0M255 909h0M252 918h0M272 732h0M295 772h0M279 907h0M258 919h0M275 779h0M277 756h0M288 800h0M286 751h0M280 730h0M288 817h0M283 739h0M285 766h0M293 752h0M274 922h0M287 900h0M263 932h0M279 776h0M274 925h0M295 834h0M267 934h0M291 821h0M298 747h0M282 762h0M287 751h0M275 777h0M277 741h0M296 756h0M263 911h0M297 745h0M263 929h0M279 757h0M275 905h0M271 911h0M279 735h0M282 753h0M259 916h0M281 742h0M289 777h0M282 902h0M262 921h0M257 935h0M277 871h0M289 826h0M305 760h0M276 738h0M268 908h0M287 739h0M258 926h0M293 770h0M299 772h0M277 761h0M260 914h0M286 765h0M283 762h0M284 738h0M270 778h0M286 785h0M300 760h0M265 943h0M279 914h0M285 759h0M274 928h0M239 913h0M292 776h0M284 901h0M306 761h0M292 752h0M270 927h0M276 748h0M271 910h0M287 776h0M279 759h0M282 784h0M285 873h0M282 773h0M289 776h0M275 785h0M280 767h0M286 783h0M263 923h0M295 778h0M284 905h0M291 782h0M289 761h0M277 777h0M269 928h0M263 913h0M284 901h0M270 928h0M302 763h0M295 769h0M300 747h0M270 927h0M291 866h0M278 735h0M272 730h0M260 913h0M285 833h0M279 916h0M274 760h0M289 763h0M289 767h0M282 740h0M286 756h0M301 757h0M275 778h0M277 770h0M281 779h0M275 730h0M286 738h0M270 912h0M282 824h0M238 904h0M248 934h0M291 827h0M268 937h0M257 938h0M282 785h0M271 924h0M284 729h0M247 927h0M261 932h0M277 780h0M255 923h0M291 870h0M250 916h0M239 912h0M265 905h0M253 934h0M282 753h0M272 881h0M268 912h0M275 918h0M274 778h0M285 817h0M286 901h0M283 767h0M257 907h0M283 734h0M293 834h0M276 732h0M262 946h0M252 908h0M273 742h0M270 819h0M278 917h0M273 769h0M239 919h0M279 916h0M268 910h0M277 902h0M291 747h0M274 906h0M289 762h0M286 782h0M265 939h0M290 737h0M264 939h0M300 754h0M290 819h0M292 773h0M261 935h0M287 895h0M259 915h0M286 769h0M269 928h0M271 927h0M277 779h0M264 919h0M265 909h0M259 950h0M286 764h0M272 912h0M282 906h0M290 745h0M283 744h0M294 770h0M269 927h0M278 778h0M265 921h0M279 908h0M275 915h0M300 764h0M251 931h0M277 765h0M272 922h0M293 747h0M297 767h0M301 756h0M288 865h0M283 909h0M277 785h0M291 735h0M266 921h0M257 910h0M284 773h0M275 763h0M304 753h0M275 910h0M278 914h0M238 932h0M274 762h0M297 782h0M291 771h0M288 762h0M268 928h0M273 774h0M263 921h0M275 869h0M279 746h0M239 902h0M292 781h0M272 782h0M294 808h0M274 911h0M284 826h0M292 775h0M256 902h0M298 765h0M255 733h0M288 809h0M268 912h0M285 778h0M287 755h0M276 762h0M275 748h0M293 753h0M288 746h0M288 772h0M296 747h0M267 910h0M306 758h0M293 776h0M275 907h0M295 827h0M297 746h0M276 754h0M272 771h0M290 771h0M294 784h0M297 779h0M254 942h0M290 860h0M283 752h0M241 918h0M259 935h0M276 734h0M264 941h0M277 904h0M290 815h0M275 921h0" stroke="#f8da23" stroke-width="2.9"/></g>
<circle cx="38.6" cy="389.9" r="0.7" fill="#b12a90"/><rect x="52.4" y="421.9" width="9.7" height="49.3" fill="url(#plasmaV)"/><text x="64.6" y="437" font-size="8.0">12</text><text x="64.6" y="449.8" font-size="8.0">8</text><text x="64.6" y="462.3" font-size="8.0">4</text><text x="64.6" y="474.6" font-size="8.0">0</text><text x="50.2" y="446" font-size="8.0" text-anchor="middle" transform="rotate(-90 50.2 446)">pseudotime</text></g>
<g><text x="1" y="530" font-size="16">J</text><text x="93.5" y="536.8" font-size="9.3" font-weight="bold" text-anchor="middle">PFG ⟶ PEN trajectory</text><line x1="31.7" y1="538" x2="31.7" y2="667.8" stroke="#000" stroke-width="0.6"/><line x1="31.4" y1="667.8" x2="163" y2="667.8" stroke="#000" stroke-width="0.6"/><line x1="55.5" y1="667.8" x2="55.5" y2="669.6" stroke="#000" stroke-width="0.5"/><text x="55.5" y="677.1" font-size="8.0" text-anchor="middle">-10</text><line x1="87.8" y1="667.8" x2="87.8" y2="669.6" stroke="#000" stroke-width="0.5"/><text x="87.8" y="677.1" font-size="8.0" text-anchor="middle">-5</text><line x1="120.1" y1="667.8" x2="120.1" y2="669.6" stroke="#000" stroke-width="0.5"/><text x="120.1" y="677.1" font-size="8.0" text-anchor="middle">0</text><line x1="152.4" y1="667.8" x2="152.4" y2="669.6" stroke="#000" stroke-width="0.5"/><text x="152.4" y="677.1" font-size="8.0" text-anchor="middle">5</text><line x1="29.9" y1="567.9" x2="31.7" y2="567.9" stroke="#000" stroke-width="0.5"/><text x="28.7" y="570.7" font-size="8.0" text-anchor="end">2.5</text><line x1="29.9" y1="598" x2="31.7" y2="598" stroke="#000" stroke-width="0.5"/><text x="28.7" y="600.9" font-size="8.0" text-anchor="end">0.0</text><line x1="29.9" y1="628.1" x2="31.7" y2="628.1" stroke="#000" stroke-width="0.5"/><text x="28.7" y="631" font-size="8.0" text-anchor="end">-2.5</text><line x1="29.9" y1="658.2" x2="31.7" y2="658.2" stroke="#000" stroke-width="0.5"/><text x="28.7" y="661.1" font-size="8.0" text-anchor="end">-5.0</text><text x="96.6" y="688" font-size="8.0" text-anchor="middle">UMAP_1</text><text x="12.6" y="604.4" font-size="8.0" text-anchor="middle" transform="rotate(-90 12.6 604.4)">UMAP_2</text><g transform="scale(.5)" stroke-linecap="round" fill="none"><path d="M259 1248h0M269 1212h0M246 1298h0M222 1128h0M285 1125h0M246 1282h0M287 1110h0M270 1194h0M240 1154h0M235 1268h0M232 1159h0M241 1279h0M248 1104h0M237 1240h0M234 1184h0M217 1155h0M209 1175h0M208 1134h0M289 1233h0M211 1162h0M256 1244h0M281 1131h0M257 1262h0M258 1276h0M250 1154h0M253 1126h0M256 1115h0M252 1254h0M241 1300h0M266 1127h0M277 1152h0M204 1171h0M292 1172h0M286 1167h0M267 1252h0M243 1142h0M295 1180h0M241 1182h0M244 1191h0M244 1282h0M236 1248h0M238 1247h0M263 1193h0M276 1106h0M217 1174h0M251 1200h0M224 1109h0M228 1112h0M247 1289h0M268 1273h0M228 1233h0M232 1097h0M245 1164h0M250 1094h0M214 1192h0M220 1106h0M295 1153h0M296 1107h0M243 1126h0M232 1266h0M235 1288h0M255 1150h0M275 1105h0M298 1125h0M271 1133h0M273 1127h0M246 1107h0M295 1150h0M252 1150h0M263 1120h0M300 1146h0M224 1238h0M236 1295h0M214 1123h0M221 1153h0M261 1106h0M247 1137h0M257 1244h0M206 1134h0M250 1287h0M258 1268h0M245 1157h0M267 1206h0M238 1250h0M202 1160h0M226 1305h0M258 1117h0M294 1190h0M205 1220h0M243 1159h0M223 1247h0M243 1272h0M300 1130h0M194 1173h0M265 1215h0M304 1138h0M267 1277h0M298 1144h0M195 1176h0M226 1302h0M241 1248h0M235 1258h0M252 1230h0M246 1293h0M271 1110h0M258 1135h0M271 1130h0M256 1104h0M285 1137h0M215 1169h0M286 1121h0M236 1221h0M224 1305h0M263 1274h0M284 1170h0M254 1159h0M238 1201h0M267 1268h0M301 1147h0M262 1205h0M212 1181h0M228 1176h0M276 1136h0M243 1233h0M230 1289h0M224 1119h0M300 1218h0M290 1172h0M222 1112h0M306 1129h0M267 1140h0M238 1278h0M265 1098h0M214 1256h0M220 1304h0M282 1147h0M238 1248h0M238 1204h0M262 1108h0M256 1253h0M248 1202h0M270 1267h0M282 1154h0M238 1199h0M281 1114h0M256 1252h0M249 1256h0M229 1225h0M303 1125h0M266 1204h0M222 1102h0M214 1163h0M270 1245h0M241 1273h0M245 1253h0M230 1116h0M231 1309h0M268 1251h0M214 1176h0M197 1158h0M214 1185h0M246 1214h0M232 1268h0M241 1126h0M253 1200h0M225 1107h0M227 1274h0M271 1304h0M282 1137h0M236 1216h0M302 1142h0M257 1101h0M260 1107h0M197 1177h0M247 1148h0M216 1141h0M263 1133h0M274 1299h0M245 1252h0M222 1163h0M303 1219h0M220 1209h0M246 1285h0M290 1191h0M277 1130h0M299 1157h0M245 1196h0M294 1106h0M283 1157h0M217 1134h0M220 1208h0M233 1254h0M230 1302h0M259 1250h0M222 1173h0M265 1234h0M214 1138h0M255 1100h0M295 1190h0M240 1177h0M215 1115h0M241 1246h0M260 1289h0M287 1110h0M239 1291h0M295 1152h0M272 1246h0M240 1248h0M292 1114h0M220 1293h0M246 1278h0M263 1110h0M243 1288h0M205 1169h0M219 1242h0M239 1303h0M242 1257h0M228 1299h0M248 1216h0M259 1210h0M288 1170h0M266 1134h0M247 1139h0M253 1129h0M266 1091h0M233 1211h0M199 1162h0M230 1241h0M285 1116h0M289 1145h0M251 1247h0M219 1205h0M216 1271h0M260 1230h0M299 1150h0M246 1200h0M232 1181h0M223 1250h0M228 1142h0M262 1261h0M211 1159h0M226 1194h0M248 1251h0M207 1147h0M260 1129h0M285 1178h0M242 1185h0M265 1274h0M245 1177h0M235 1287h0M201 1163h0M229 1261h0M299 1124h0M214 1282h0M295 1176h0M246 1277h0M245 1143h0M211 1173h0M241 1235h0M269 1224h0M278 1193h0M241 1220h0M235 1210h0M198 1187h0M258 1126h0M218 1169h0M212 1236h0M248 1186h0M291 1116h0M240 1201h0M266 1140h0M300 1134h0M267 1259h0M246 1113h0M237 1211h0M241 1257h0M264 1270h0M244 1208h0M260 1253h0M216 1296h0M293 1119h0M221 1301h0M276 1296h0M233 1112h0M236 1277h0M235 1219h0M193 1166h0M267 1241h0M216 1127h0M204 1179h0M243 1271h0M204 1170h0M268 1242h0M203 1173h0M196 1163h0M231 1182h0M251 1185h0M255 1219h0M208 1174h0M263 1166h0M310 1136h0M210 1166h0M225 1277h0M193 1168h0M233 1267h0M213 1142h0M243 1107h0M265 1274h0M241 1247h0M241 1307h0M213 1173h0M220 1183h0M254 1218h0M267 1277h0M223 1245h0M277 1247h0M226 1165h0M246 1283h0M237 1273h0M253 1237h0M301 1151h0M267 1114h0M252 1174h0M230 1223h0M227 1173h0M251 1186h0M228 1215h0M276 1105h0M259 1252h0M299 1114h0M231 1258h0M238 1305h0M267 1250h0M248 1266h0M291 1198h0M221 1265h0M289 1163h0M287 1170h0M210 1210h0M217 1288h0M227 1294h0M289 1182h0M212 1197h0M240 1209h0M257 1248h0M227 1138h0M300 1177h0M247 1266h0M250 1250h0M276 1130h0M204 1143h0M242 1130h0M217 1202h0M220 1121h0M238 1285h0M295 1129h0M251 1188h0M275 1122h0M287 1184h0M241 1259h0M221 1231h0M250 1195h0M237 1196h0M298 1152h0M277 1142h0M228 1295h0M256 1305h0M245 1141h0M253 1261h0M283 1243h0M295 1207h0M235 1266h0M293 1195h0M226 1224h0M278 1134h0M251 1239h0M230 1109h0M236 1278h0M253 1225h0M248 1111h0M247 1133h0M251 1276h0M249 1278h0M250 1276h0M262 1263h0M285 1107h0M262 1135h0M228 1154h0M214 1285h0M296 1141h0M265 1273h0M287 1176h0M242 1241h0M214 1270h0M294 1263h0M211 1132h0M228 1192h0M219 1097h0M238 1130h0M231 1103h0M261 1136h0M227 1102h0M289 1157h0M214 1171h0M276 1131h0M289 1152h0M277 1110h0M219 1118h0M284 1164h0M272 1142h0M253 1251h0M233 1297h0M208 1250h0M257 1271h0M283 1130h0M282 1140h0M276 1117h0M229 1232h0M244 1269h0M283 1149h0M227 1314h0M298 1230h0M198 1138h0M249 1114h0M224 1097h0M237 1243h0M258 1190h0M284 1151h0M274 1137h0M189 1192h0M219 1099h0M287 1238h0M252 1165h0M279 1135h0M232 1156h0M247 1257h0M262 1107h0M263 1107h0M228 1103h0M224 1165h0M294 1126h0M232 1190h0M213 1279h0M218 1195h0M232 1184h0M263 1134h0M223 1242h0M242 1295h0M241 1272h0M279 1106h0M217 1175h0M249 1189h0M227 1148h0M257 1269h0M270 1220h0M248 1291h0M243 1233h0M237 1266h0M285 1135h0M217 1117h0M251 1191h0M215 1108h0M269 1096h0M285 1167h0M247 1265h0M255 1227h0M251 1272h0M240 1298h0M248 1281h0M221 1191h0M300 1244h0M218 1168h0M298 1240h0M241 1310h0M213 1247h0M216 1148h0M236 1273h0M220 1100h0M219 1270h0M231 1113h0M215 1251h0M193 1170h0M259 1218h0M295 1135h0M236 1125h0M190 1195h0M210 1140h0M251 1257h0M248 1296h0M230 1102h0M250 1199h0M239 1266h0M263 1165h0M211 1148h0M211 1158h0M216 1205h0M242 1169h0M238 1120h0M224 1305h0M247 1247h0M213 1185h0M218 1295h0M222 1207h0M233 1310h0M291 1129h0M280 1130h0M217 1253h0M206 1227h0M257 1252h0M283 1162h0M232 1248h0M205 1162h0M297 1156h0M205 1161h0M221 1293h0M290 1180h0M273 1276h0M189 1193h0M249 1211h0M214 1178h0M261 1227h0M242 1292h0M208 1137h0M291 1199h0M278 1142h0M270 1275h0M223 1304h0M272 1103h0M194 1175h0M219 1286h0M232 1229h0M256 1230h0M220 1281h0M222 1155h0M217 1269h0M295 1167h0M226 1113h0M236 1283h0M286 1198h0M244 1216h0M255 1305h0M230 1204h0M254 1118h0M250 1265h0M255 1094h0M228 1223h0M222 1275h0M229 1160h0M229 1301h0M249 1258h0M234 1218h0M234 1234h0M231 1241h0M242 1282h0M242 1221h0M268 1263h0M222 1282h0M273 1251h0M244 1100h0M296 1157h0M215 1212h0M245 1226h0M234 1212h0M209 1140h0M219 1275h0M294 1146h0M251 1241h0M205 1174h0M301 1225h0M228 1171h0M228 1165h0M220 1102h0M299 1191h0M299 1195h0M259 1118h0M301 1218h0M256 1235h0M246 1130h0M260 1227h0M260 1102h0M261 1202h0M293 1205h0M222 1181h0M290 1133h0M217 1236h0M238 1181h0M296 1120h0M249 1104h0M242 1237h0M213 1269h0M265 1131h0M214 1157h0M263 1264h0M271 1113h0M301 1156h0M254 1260h0M231 1247h0M226 1155h0M245 1284h0M250 1215h0M278 1143h0M306 1132h0M295 1146h0M242 1095h0M215 1105h0M236 1229h0M227 1275h0M250 1196h0M285 1172h0M286 1176h0M221 1165h0M242 1250h0M256 1273h0M220 1112h0M221 1103h0M193 1156h0M263 1197h0M236 1210h0M216 1267h0M228 1254h0M287 1179h0M269 1102h0M239 1295h0M232 1108h0M248 1225h0M257 1241h0M229 1258h0M206 1167h0M237 1213h0M297 1180h0M232 1300h0M241 1232h0M218 1169h0M278 1139h0M264 1209h0M293 1170h0M249 1183h0M256 1179h0M287 1156h0M230 1285h0M213 1117h0M272 1265h0M222 1249h0M255 1109h0M226 1191h0M212 1155h0M303 1202h0M276 1160h0M237 1154h0M237 1242h0M211 1171h0M299 1177h0M235 1227h0M271 1261h0M254 1242h0M259 1134h0M234 1282h0M227 1257h0M211 1132h0M244 1246h0M245 1163h0M245 1228h0M266 1211h0M237 1174h0M240 1289h0M215 1253h0M259 1103h0M184 1222h0M271 1222h0M300 1176h0M298 1175h0M245 1191h0M243 1302h0M187 1193h0M278 1124h0M251 1194h0M225 1288h0M296 1131h0M254 1252h0M282 1142h0M215 1132h0M220 1165h0M213 1261h0M264 1105h0M231 1103h0M302 1154h0M230 1198h0M220 1106h0M252 1213h0M260 1188h0M265 1115h0M223 1126h0M242 1138h0M247 1245h0M253 1189h0M285 1122h0M278 1134h0M265 1138h0M261 1262h0M245 1125h0M258 1111h0M219 1101h0M188 1209h0M254 1294h0M278 1143h0M227 1288h0M231 1147h0M236 1177h0M262 1250h0M287 1119h0M295 1186h0M222 1206h0M226 1181h0M220 1293h0M302 1152h0M242 1119h0M254 1221h0M211 1136h0M245 1232h0M255 1195h0M219 1099h0M247 1253h0M263 1127h0M197 1184h0M257 1116h0M301 1185h0M249 1239h0M257 1124h0M221 1284h0M265 1108h0M255 1108h0M236 1231h0M228 1242h0M298 1222h0M263 1104h0M235 1312h0M212 1122h0M250 1210h0M214 1129h0M236 1234h0M300 1213h0M296 1138h0M305 1120h0M269 1268h0M214 1151h0M291 1173h0M219 1273h0M226 1175h0M216 1250h0M243 1253h0M276 1108h0M225 1137h0M308 1136h0M220 1299h0M227 1112h0M282 1097h0M267 1140h0M287 1172h0M228 1276h0M254 1095h0M213 1192h0M220 1191h0M279 1121h0M258 1226h0M276 1158h0M241 1194h0M279 1123h0M215 1244h0M218 1093h0M250 1274h0M228 1093h0M254 1213h0M224 1176h0M287 1158h0M264 1259h0M252 1272h0M285 1172h0M249 1131h0M281 1142h0M244 1261h0M301 1204h0M260 1105h0M220 1235h0M227 1275h0M214 1197h0M295 1206h0M237 1268h0M302 1121h0M207 1165h0M259 1151h0M228 1259h0M263 1185h0M247 1163h0M215 1240h0M226 1204h0M293 1178h0M232 1179h0M242 1291h0M262 1273h0M219 1187h0M239 1166h0M201 1153h0M214 1172h0M273 1246h0M259 1272h0M277 1135h0M285 1124h0M232 1265h0M240 1262h0M259 1102h0M243 1210h0M250 1110h0M208 1144h0M242 1249h0M224 1224h0M193 1164h0M291 1126h0M193 1204h0M227 1222h0M236 1258h0M241 1216h0M256 1218h0M218 1136h0M219 1263h0M256 1140h0M297 1148h0M272 1301h0M271 1124h0M230 1125h0M234 1191h0M293 1202h0M219 1218h0M252 1191h0M255 1210h0M221 1282h0M260 1113h0M216 1108h0M282 1122h0M232 1249h0M248 1279h0M195 1166h0M286 1108h0M257 1123h0M261 1104h0M261 1097h0M201 1158h0M269 1269h0M214 1196h0M223 1268h0M227 1277h0M225 1300h0M276 1124h0M212 1223h0M224 1280h0M232 1140h0M215 1134h0M248 1210h0M258 1265h0M237 1273h0M277 1096h0M292 1123h0M220 1288h0M245 1148h0M225 1241h0M242 1278h0M297 1211h0M235 1230h0M238 1249h0M288 1117h0M264 1163h0M299 1124h0M242 1288h0M249 1304h0M226 1129h0M233 1266h0M289 1174h0M198 1153h0M296 1135h0M236 1182h0M308 1128h0M201 1139h0M257 1155h0M235 1129h0M294 1181h0M262 1126h0M237 1124h0M287 1171h0M267 1092h0M289 1165h0M199 1169h0M234 1135h0M223 1253h0M217 1195h0M230 1243h0M212 1225h0M250 1260h0M219 1114h0M262 1124h0M241 1099h0M238 1295h0M248 1267h0M263 1195h0M258 1273h0M196 1159h0M228 1246h0M297 1152h0M260 1231h0M222 1285h0M228 1232h0M222 1103h0M246 1307h0M212 1244h0M255 1112h0M268 1122h0M228 1235h0M224 1253h0M266 1217h0M282 1135h0M193 1210h0M209 1179h0M284 1151h0M254 1211h0M257 1191h0M274 1126h0M227 1181h0M237 1314h0M289 1144h0M271 1099h0M211 1148h0M250 1105h0M224 1104h0M263 1140h0M257 1234h0M246 1270h0M296 1168h0M284 1118h0M232 1227h0M253 1109h0M255 1176h0M220 1138h0M281 1230h0M276 1308h0M223 1194h0M257 1176h0M290 1149h0M273 1150h0M219 1265h0M220 1271h0M224 1148h0M281 1134h0M215 1181h0M269 1137h0M298 1216h0M267 1246h0M219 1188h0M294 1196h0M255 1185h0M205 1172h0M219 1252h0M228 1281h0M259 1168h0M243 1174h0M240 1141h0M259 1236h0M296 1177h0M229 1111h0M259 1170h0M231 1307h0M247 1172h0M220 1266h0M298 1223h0M247 1117h0M308 1135h0M267 1226h0M229 1097h0M249 1164h0M287 1189h0M231 1268h0M235 1300h0M276 1303h0M261 1260h0M221 1149h0M258 1272h0M252 1261h0M296 1118h0M213 1208h0M286 1148h0M243 1101h0M294 1150h0M266 1277h0M292 1167h0M193 1154h0M202 1139h0M279 1133h0M231 1229h0M205 1166h0M242 1256h0M218 1268h0M256 1097h0M256 1268h0M289 1180h0M220 1286h0M298 1203h0M253 1180h0M229 1283h0M256 1132h0M231 1303h0M255 1100h0M257 1116h0M252 1236h0M263 1205h0M214 1143h0M225 1142h0M228 1129h0M236 1258h0M231 1242h0M236 1143h0M263 1124h0M262 1117h0M247 1264h0M209 1256h0M236 1182h0M291 1158h0M256 1214h0M226 1127h0M267 1128h0M265 1267h0M208 1160h0M247 1262h0M229 1269h0M216 1176h0M236 1168h0M218 1274h0M252 1124h0M220 1208h0M301 1151h0M227 1276h0M225 1235h0M256 1132h0M285 1227h0M286 1129h0M245 1252h0M247 1126h0M262 1156h0M285 1169h0M222 1099h0M277 1111h0M253 1231h0M240 1259h0M213 1235h0M227 1128h0M261 1212h0M241 1269h0M269 1264h0M228 1144h0M302 1165h0M266 1221h0M235 1290h0M213 1137h0M264 1145h0M224 1106h0M256 1123h0M280 1244h0M243 1180h0M252 1116h0M236 1199h0M191 1166h0M236 1268h0M250 1093h0M235 1206h0M301 1216h0M227 1131h0M237 1196h0M291 1170h0M253 1265h0M212 1129h0M245 1274h0M250 1209h0M254 1194h0M284 1127h0M243 1248h0M211 1176h0M252 1277h0M306 1138h0M237 1154h0M236 1236h0M256 1248h0M246 1142h0M238 1142h0M267 1257h0M226 1228h0M256 1217h0M213 1146h0M236 1245h0M247 1162h0M259 1213h0M243 1144h0M247 1105h0M214 1176h0M214 1208h0M285 1127h0M250 1297h0M250 1100h0M235 1140h0M272 1249h0M270 1128h0M245 1182h0M256 1100h0M281 1157h0M265 1137h0M211 1263h0M253 1189h0M237 1219h0M287 1135h0M235 1306h0M225 1206h0M240 1241h0M232 1288h0M287 1181h0M295 1163h0M232 1281h0M252 1103h0M227 1290h0M246 1206h0M242 1253h0M284 1131h0M291 1186h0M254 1290h0M231 1293h0M286 1120h0M199 1173h0M222 1245h0M304 1122h0M259 1099h0M223 1304h0M257 1174h0M286 1113h0M298 1180h0M219 1116h0M214 1185h0M230 1294h0M213 1220h0M261 1113h0M300 1156h0M249 1115h0M286 1177h0M288 1122h0M219 1114h0M206 1130h0M263 1132h0M233 1111h0M266 1214h0M202 1173h0M238 1260h0M230 1295h0M238 1280h0M298 1230h0M220 1242h0M276 1107h0M266 1230h0M301 1146h0M247 1299h0M244 1215h0M223 1246h0M244 1163h0M237 1130h0M203 1227h0M208 1145h0M300 1248h0M263 1251h0M294 1177h0M224 1165h0M224 1189h0M286 1164h0M249 1251h0M226 1153h0M252 1098h0M256 1222h0M249 1198h0M250 1115h0M276 1128h0M230 1189h0M231 1305h0M303 1139h0M226 1104h0M260 1231h0M241 1114h0M198 1171h0M220 1304h0M235 1303h0M227 1269h0M266 1158h0M185 1208h0M250 1213h0M274 1120h0M229 1200h0M249 1235h0M225 1188h0M294 1122h0M227 1212h0M284 1130h0M220 1233h0M298 1195h0M256 1252h0M192 1160h0M231 1103h0M220 1242h0M269 1244h0M297 1154h0M222 1226h0M272 1195h0M294 1164h0M220 1107h0M194 1179h0M290 1129h0M255 1203h0M269 1222h0M244 1295h0M236 1197h0M219 1110h0M282 1131h0M279 1108h0M244 1282h0M248 1143h0M246 1159h0M238 1112h0M262 1168h0M229 1181h0M287 1125h0M245 1296h0M266 1206h0M214 1108h0M261 1249h0M252 1274h0M214 1270h0M223 1176h0M234 1123h0M260 1257h0M285 1147h0M303 1155h0M240 1305h0M246 1168h0M274 1275h0M263 1251h0M239 1282h0M282 1117h0M227 1292h0M242 1278h0M264 1120h0M263 1191h0M254 1117h0M255 1122h0M221 1247h0M268 1242h0M247 1200h0M236 1278h0M228 1102h0M254 1265h0M231 1101h0M298 1146h0M251 1211h0M255 1257h0M214 1244h0M214 1285h0M250 1222h0M264 1108h0M266 1103h0M260 1224h0M278 1119h0M211 1174h0M239 1222h0M223 1296h0M260 1204h0M245 1279h0M261 1292h0M207 1150h0M241 1260h0M262 1176h0M301 1152h0M249 1198h0M230 1202h0M230 1106h0M234 1176h0M239 1284h0M241 1224h0M251 1161h0M215 1229h0M268 1220h0M259 1247h0M241 1245h0M263 1129h0M286 1181h0M227 1225h0M227 1249h0M228 1156h0M216 1096h0M298 1202h0M288 1159h0M249 1260h0M226 1097h0M224 1201h0M255 1253h0M212 1136h0M248 1248h0M241 1106h0M251 1271h0M287 1104h0M232 1296h0M283 1122h0M207 1147h0M259 1261h0M234 1273h0M244 1268h0M238 1281h0M274 1152h0M289 1151h0M271 1261h0M243 1283h0M231 1138h0M258 1182h0M221 1293h0M227 1103h0M285 1138h0M245 1127h0M253 1209h0M233 1260h0M213 1136h0M221 1247h0M292 1180h0M242 1235h0M245 1141h0M238 1142h0M239 1162h0M215 1235h0M233 1222h0M210 1251h0M196 1179h0M234 1259h0M223 1242h0M272 1231h0M216 1145h0M266 1217h0M237 1154h0M233 1232h0M207 1163h0M243 1260h0M231 1248h0M255 1165h0M268 1116h0M257 1232h0M219 1229h0M300 1144h0M247 1271h0M269 1131h0M223 1249h0M193 1160h0M228 1286h0M257 1212h0M287 1172h0M289 1192h0M299 1215h0M220 1207h0M305 1130h0M248 1224h0M271 1144h0M214 1146h0M284 1160h0M226 1101h0M249 1166h0M216 1213h0M295 1135h0M203 1147h0M302 1145h0M190 1177h0M257 1265h0M221 1306h0M255 1205h0M183 1206h0M202 1152h0M242 1196h0M280 1099h0M285 1162h0M223 1220h0M228 1250h0M217 1279h0M294 1127h0M254 1127h0M221 1155h0M233 1194h0M271 1130h0M261 1267h0M300 1159h0M245 1223h0M263 1100h0M296 1159h0M247 1251h0M242 1143h0M244 1224h0M276 1100h0M269 1253h0M211 1148h0M226 1286h0M218 1253h0M230 1107h0M249 1301h0M248 1185h0M273 1184h0M205 1222h0M226 1274h0M214 1179h0M299 1128h0M288 1150h0M303 1132h0M304 1157h0M250 1224h0M217 1262h0M220 1165h0M219 1264h0M244 1224h0M268 1175h0M201 1144h0M225 1217h0M286 1152h0M245 1104h0M201 1164h0M227 1183h0M197 1163h0M259 1126h0M216 1246h0M194 1163h0M246 1126h0M247 1286h0M223 1285h0M219 1113h0M269 1236h0M286 1236h0M240 1240h0M270 1225h0M256 1165h0M253 1258h0M230 1179h0M197 1176h0M229 1181h0M232 1243h0M263 1131h0M292 1132h0M304 1145h0M205 1160h0M230 1234h0M297 1186h0M213 1141h0M189 1215h0M291 1136h0M217 1263h0M244 1276h0M254 1192h0M259 1244h0M304 1117h0M263 1257h0M271 1133h0M287 1165h0M288 1181h0M232 1280h0M230 1223h0M239 1144h0M227 1296h0M273 1122h0M247 1109h0M300 1152h0M299 1237h0M256 1180h0M293 1149h0M248 1262h0M203 1167h0M212 1171h0M232 1248h0M278 1115h0M231 1297h0M266 1253h0M300 1131h0M215 1168h0M233 1253h0M269 1122h0M231 1235h0M230 1249h0M232 1218h0M277 1133h0M220 1225h0M237 1223h0M241 1261h0M205 1237h0M263 1126h0M237 1264h0M217 1253h0M238 1304h0M258 1238h0M208 1148h0M281 1113h0M207 1150h0M223 1113h0M251 1169h0M301 1138h0M241 1266h0M253 1257h0M253 1133h0M286 1270h0M286 1101h0M226 1264h0M255 1224h0M285 1121h0M238 1266h0M252 1180h0M261 1102h0M253 1093h0M233 1242h0M240 1252h0M232 1301h0M219 1196h0M262 1255h0M225 1276h0M234 1278h0M270 1267h0M217 1160h0M227 1251h0M250 1240h0M263 1140h0M267 1139h0M233 1311h0M229 1132h0M249 1310h0M217 1196h0M207 1178h0M214 1186h0M240 1194h0M280 1126h0M309 1135h0M240 1119h0M224 1091h0M296 1196h0M292 1159h0M214 1109h0M267 1234h0M243 1263h0M207 1174h0M216 1302h0M286 1145h0M213 1212h0M280 1150h0M211 1179h0M301 1163h0M245 1254h0M230 1225h0M242 1114h0M277 1097h0M295 1163h0M249 1199h0M214 1200h0M282 1155h0M239 1202h0M214 1179h0M253 1180h0M267 1126h0M264 1201h0M230 1234h0M270 1263h0M250 1293h0M252 1260h0M223 1267h0M239 1267h0M240 1146h0M222 1101h0M249 1225h0M233 1305h0M219 1303h0M265 1111h0M239 1251h0M255 1227h0M201 1156h0M274 1123h0M243 1299h0M224 1262h0M207 1150h0M237 1185h0M207 1159h0M295 1148h0M256 1195h0M296 1213h0M215 1253h0M228 1178h0M250 1237h0M295 1131h0M243 1133h0M246 1157h0M225 1258h0M248 1268h0M220 1303h0M223 1119h0M254 1250h0M222 1227h0M235 1276h0M249 1196h0M216 1261h0M237 1105h0M252 1246h0M239 1303h0M259 1209h0M297 1203h0M257 1131h0M247 1248h0M218 1272h0M220 1282h0M265 1128h0M234 1190h0M293 1123h0M287 1177h0M298 1183h0M242 1218h0M250 1149h0M290 1114h0M197 1183h0M227 1296h0M287 1247h0M301 1181h0M267 1138h0M263 1203h0M236 1173h0M217 1168h0M210 1132h0M249 1147h0M275 1120h0M224 1225h0M226 1109h0M243 1141h0M219 1256h0M229 1203h0M233 1180h0M261 1263h0M295 1136h0M226 1225h0M245 1101h0M236 1105h0M260 1112h0M216 1281h0M243 1117h0M258 1099h0M290 1206h0M208 1157h0M217 1278h0M219 1143h0M204 1174h0M203 1156h0M215 1188h0M296 1169h0M267 1130h0M233 1249h0M307 1124h0M267 1224h0M234 1207h0M209 1157h0M272 1210h0M251 1262h0M240 1143h0M244 1238h0M263 1277h0M235 1155h0M194 1167h0M301 1125h0M252 1219h0M300 1235h0M255 1272h0M247 1220h0M252 1217h0M240 1148h0M298 1218h0M233 1284h0M253 1273h0M236 1173h0M270 1139h0M299 1145h0M290 1166h0M262 1246h0M209 1151h0M266 1255h0M211 1259h0M251 1119h0M231 1162h0M236 1240h0M241 1298h0M229 1162h0M286 1111h0M272 1239h0M217 1241h0M265 1116h0M232 1314h0M299 1123h0M260 1212h0M265 1210h0M214 1113h0M294 1139h0M275 1142h0M216 1120h0M193 1200h0M300 1185h0M282 1154h0M279 1128h0M221 1262h0M271 1248h0M246 1228h0M254 1117h0M267 1150h0M236 1171h0M221 1215h0M295 1197h0M216 1188h0M290 1126h0M227 1238h0M242 1258h0M249 1211h0M200 1156h0M271 1235h0M218 1178h0M239 1099h0M304 1132h0M279 1188h0M264 1236h0M281 1177h0M245 1156h0M262 1245h0M243 1296h0M275 1107h0M231 1297h0M226 1117h0M264 1215h0M272 1161h0M230 1203h0M258 1139h0M246 1203h0M225 1100h0M221 1255h0M242 1280h0M228 1101h0M235 1259h0M244 1221h0M213 1116h0M307 1135h0M220 1180h0M284 1217h0M284 1165h0M293 1265h0M208 1238h0M302 1154h0M288 1103h0M304 1130h0M292 1111h0M257 1229h0M217 1109h0M276 1117h0M244 1246h0M291 1120h0M296 1107h0M289 1156h0M238 1255h0M247 1266h0M243 1271h0M210 1161h0M242 1193h0M215 1249h0M271 1130h0M210 1142h0M259 1206h0M232 1131h0M238 1291h0M265 1120h0M248 1098h0M241 1244h0M259 1103h0M191 1175h0M230 1264h0M241 1262h0M270 1173h0M221 1110h0M288 1181h0M247 1232h0M250 1278h0M221 1274h0M288 1161h0M298 1154h0M200 1230h0M264 1138h0M210 1132h0M229 1132h0M225 1207h0M244 1256h0M243 1193h0M234 1220h0M216 1238h0M217 1158h0M232 1268h0M301 1116h0M266 1235h0M251 1129h0M287 1106h0M212 1143h0M297 1215h0M289 1124h0M193 1156h0M269 1265h0M289 1158h0M296 1225h0M241 1291h0M223 1162h0M236 1152h0M246 1284h0M261 1245h0M282 1158h0M251 1103h0M217 1119h0M230 1133h0M271 1188h0M238 1127h0M216 1150h0M218 1267h0M232 1312h0M229 1206h0M270 1225h0M237 1292h0M246 1238h0M279 1256h0M288 1176h0M225 1119h0M218 1114h0M214 1250h0M236 1197h0M245 1257h0M229 1146h0M236 1103h0M195 1204h0M182 1235h0M215 1242h0M260 1097h0M244 1260h0M231 1180h0M262 1250h0M263 1229h0M244 1306h0M215 1195h0M225 1264h0M253 1232h0M277 1139h0M222 1248h0M227 1238h0M294 1134h0M257 1155h0M236 1221h0M229 1245h0M238 1118h0M297 1201h0M235 1297h0M234 1303h0M219 1249h0M237 1244h0M279 1145h0M264 1097h0M250 1236h0M247 1251h0M308 1139h0M251 1120h0M276 1095h0M300 1212h0M256 1260h0M256 1209h0M271 1276h0M297 1208h0M266 1107h0M267 1100h0M200 1149h0M248 1300h0M286 1135h0M199 1137h0M264 1213h0M301 1229h0M230 1122h0M251 1203h0M226 1093h0M261 1104h0M269 1260h0M265 1135h0M262 1191h0M231 1280h0M222 1190h0M202 1159h0M239 1125h0M215 1160h0M214 1161h0M301 1205h0M241 1104h0M233 1308h0M243 1247h0M252 1192h0M284 1111h0M203 1151h0M297 1151h0M246 1142h0M236 1253h0M242 1164h0M262 1144h0M269 1260h0M232 1310h0M253 1215h0M247 1301h0M265 1242h0M257 1187h0M264 1291h0M247 1162h0M257 1175h0M251 1102h0M298 1201h0M296 1115h0M226 1233h0M266 1122h0M227 1284h0M217 1123h0M293 1181h0M299 1125h0M214 1188h0M294 1215h0M235 1274h0M225 1266h0M293 1198h0M228 1198h0M205 1178h0M285 1157h0M260 1092h0M294 1199h0M213 1214h0M283 1129h0M246 1145h0M210 1171h0M238 1226h0M214 1220h0M231 1296h0M242 1252h0M242 1305h0M289 1158h0M299 1125h0M247 1265h0M220 1140h0M259 1214h0M250 1219h0M272 1267h0M227 1111h0M256 1260h0M216 1269h0M266 1216h0M261 1130h0M221 1286h0M244 1127h0M281 1112h0M256 1175h0M300 1128h0M262 1139h0M293 1159h0M224 1245h0M237 1227h0M215 1151h0M233 1233h0M262 1217h0M214 1193h0M235 1207h0M307 1127h0M259 1130h0M183 1230h0M300 1193h0M261 1255h0M218 1223h0M212 1165h0M209 1158h0M244 1308h0M237 1311h0M209 1220h0M213 1264h0M269 1275h0M261 1219h0M216 1241h0M286 1103h0M257 1193h0M295 1206h0M221 1103h0M241 1295h0M258 1256h0M268 1137h0M243 1154h0M216 1129h0M242 1160h0M201 1221h0M242 1209h0M279 1149h0M238 1246h0M309 1132h0M215 1264h0M229 1184h0M296 1190h0M212 1146h0M215 1177h0M245 1181h0M215 1134h0M241 1151h0M225 1258h0M298 1133h0M248 1227h0M296 1179h0M223 1158h0M228 1146h0M285 1109h0M270 1159h0M239 1180h0M257 1186h0M285 1174h0M228 1102h0M257 1189h0M240 1133h0M301 1205h0M235 1264h0M247 1289h0M294 1175h0M302 1209h0M295 1181h0M239 1247h0M193 1166h0M254 1093h0M235 1171h0M295 1167h0M256 1266h0M217 1245h0M275 1136h0M207 1136h0M250 1193h0M216 1286h0M215 1205h0M226 1153h0M219 1110h0M290 1136h0M264 1134h0M266 1248h0M229 1279h0M214 1127h0M226 1196h0M232 1253h0M265 1125h0M223 1190h0M252 1110h0M263 1095h0M218 1292h0M222 1272h0M265 1112h0M287 1154h0M254 1183h0M248 1302h0M263 1201h0M225 1274h0M290 1125h0M260 1107h0M227 1272h0M297 1183h0M229 1290h0M270 1109h0M291 1156h0M256 1246h0M233 1311h0M271 1226h0M200 1179h0M277 1122h0M225 1109h0M217 1113h0M249 1245h0M255 1098h0M210 1152h0M259 1248h0M276 1164h0M215 1143h0M192 1173h0M298 1119h0M240 1206h0M284 1105h0M290 1141h0M234 1302h0M258 1241h0M204 1175h0M292 1152h0M287 1176h0M256 1277h0M221 1184h0M288 1120h0M230 1163h0M231 1268h0M256 1109h0M241 1254h0M243 1122h0M232 1237h0M245 1257h0M262 1254h0M265 1199h0M247 1249h0M238 1248h0M261 1244h0M247 1215h0M282 1191h0M263 1133h0M216 1139h0M230 1107h0M192 1179h0M247 1257h0M207 1180h0M248 1289h0M247 1276h0M226 1256h0M206 1152h0M237 1273h0M259 1098h0M228 1139h0M237 1286h0M220 1264h0M233 1172h0M251 1262h0M247 1267h0M251 1131h0M233 1270h0M217 1288h0M237 1292h0M221 1256h0M231 1209h0M272 1114h0M258 1110h0M234 1212h0M263 1129h0M236 1296h0M273 1215h0M227 1196h0M219 1282h0M283 1149h0M230 1096h0M233 1235h0M296 1162h0M229 1149h0M228 1114h0M243 1267h0M232 1271h0M227 1118h0M254 1228h0M255 1239h0M217 1097h0M213 1099h0M245 1251h0M277 1248h0M199 1173h0M273 1252h0M299 1219h0M216 1145h0M224 1269h0M242 1217h0M263 1108h0M230 1220h0M297 1135h0M267 1130h0M226 1222h0M270 1131h0M271 1131h0M230 1137h0M229 1237h0M197 1197h0M286 1171h0M301 1208h0M292 1186h0M295 1168h0M229 1161h0M254 1264h0M308 1126h0M227 1175h0M280 1104h0M220 1299h0M206 1192h0M217 1242h0M215 1151h0M255 1270h0M229 1130h0M226 1287h0M266 1228h0M250 1166h0M201 1158h0M213 1213h0M301 1191h0M214 1186h0M236 1167h0M238 1176h0M288 1163h0M254 1274h0M245 1280h0M246 1169h0M254 1277h0M290 1180h0M247 1099h0M289 1155h0M238 1270h0M253 1189h0M248 1118h0M261 1117h0M254 1225h0M198 1176h0M220 1097h0M234 1148h0M280 1186h0M258 1231h0M222 1115h0M224 1113h0M274 1134h0M290 1135h0M229 1314h0M261 1098h0M226 1154h0M213 1157h0M254 1261h0M236 1145h0M236 1289h0M237 1202h0M224 1246h0M253 1270h0M233 1178h0M262 1219h0M214 1181h0M291 1129h0M259 1175h0M213 1223h0M269 1122h0M298 1244h0M239 1117h0M289 1125h0M300 1203h0M273 1139h0M236 1246h0M246 1287h0M251 1196h0M279 1122h0M221 1305h0M204 1168h0M238 1274h0M245 1207h0M255 1223h0M226 1303h0M297 1132h0M283 1117h0M239 1260h0M204 1164h0M272 1128h0M261 1237h0M266 1133h0M246 1277h0M223 1209h0M267 1132h0M307 1132h0M271 1237h0M302 1125h0M269 1268h0M265 1217h0M221 1276h0M216 1214h0M229 1221h0M226 1203h0M244 1296h0M250 1268h0M247 1104h0M213 1143h0M221 1141h0M265 1195h0M281 1122h0M238 1163h0M258 1255h0M198 1191h0M251 1123h0M234 1253h0M214 1171h0M287 1129h0M298 1123h0M272 1229h0M222 1208h0M220 1300h0M234 1233h0M270 1134h0M251 1131h0M251 1274h0M246 1275h0M199 1176h0M253 1158h0M245 1292h0M260 1111h0M280 1145h0M200 1135h0M243 1113h0M262 1122h0M276 1238h0M237 1227h0M295 1140h0M238 1212h0M261 1209h0M230 1228h0M233 1301h0M299 1194h0M249 1189h0M252 1218h0M201 1158h0M224 1246h0M243 1266h0M273 1271h0M247 1188h0M286 1123h0M219 1258h0M301 1199h0M270 1270h0M223 1311h0M280 1154h0M227 1296h0M250 1301h0M296 1180h0M220 1105h0M225 1239h0M249 1104h0M230 1288h0M245 1197h0M245 1295h0M257 1119h0M229 1217h0M266 1250h0M235 1210h0M293 1185h0M212 1252h0M230 1241h0M248 1176h0M267 1254h0M226 1239h0M198 1150h0M206 1171h0M290 1127h0M253 1134h0M236 1140h0M227 1257h0M288 1121h0M217 1131h0M214 1259h0M248 1177h0M242 1244h0M283 1109h0M246 1309h0M197 1176h0M302 1134h0M266 1238h0M266 1243h0M281 1154h0M222 1102h0M252 1242h0M266 1124h0M213 1124h0M293 1189h0M227 1257h0M212 1241h0M240 1198h0M214 1124h0M266 1263h0M281 1117h0M193 1173h0M244 1106h0M254 1098h0M243 1289h0M284 1139h0M271 1122h0M191 1199h0M285 1109h0M226 1113h0M232 1114h0M279 1254h0M276 1138h0M302 1151h0M255 1105h0M218 1165h0M295 1193h0M221 1265h0M277 1120h0M225 1313h0M215 1136h0M302 1129h0M254 1216h0M247 1119h0M232 1223h0M224 1165h0M206 1143h0M261 1109h0M214 1125h0M290 1156h0M262 1262h0M300 1171h0M213 1257h0M226 1308h0M219 1287h0M245 1197h0M247 1284h0M241 1126h0M265 1259h0M231 1305h0M249 1268h0M225 1262h0M238 1164h0M272 1176h0M224 1135h0M296 1141h0M234 1126h0M214 1146h0M220 1237h0M223 1300h0M288 1157h0M295 1146h0M249 1236h0M268 1167h0M265 1147h0M246 1108h0M219 1202h0M296 1199h0M237 1131h0M231 1110h0M257 1096h0M249 1208h0M195 1209h0M227 1208h0M281 1132h0M262 1093h0M219 1266h0M226 1101h0M191 1177h0M234 1160h0M279 1138h0M285 1140h0M241 1271h0M247 1112h0M245 1161h0M223 1252h0M220 1114h0M241 1256h0M210 1151h0M226 1140h0M248 1165h0M257 1144h0M225 1220h0M249 1200h0M251 1096h0M246 1308h0M299 1147h0M227 1191h0M200 1154h0M254 1278h0M259 1263h0M212 1157h0M268 1169h0M223 1282h0M292 1272h0M230 1101h0M227 1252h0M193 1182h0M259 1147h0M282 1153h0M258 1098h0M263 1224h0M246 1144h0M288 1112h0M261 1260h0M255 1176h0M248 1149h0M263 1274h0M267 1223h0M222 1116h0M263 1125h0M232 1109h0M237 1167h0M298 1151h0M277 1289h0M260 1124h0M252 1109h0M228 1245h0M231 1253h0M205 1164h0M273 1282h0M271 1118h0M249 1205h0M280 1273h0M232 1098h0M253 1203h0M246 1295h0M227 1179h0M237 1269h0M206 1170h0M238 1260h0M280 1241h0M221 1107h0M202 1192h0M297 1218h0M282 1101h0M266 1229h0M301 1175h0M245 1272h0M188 1201h0M299 1211h0M230 1310h0M280 1112h0M270 1101h0M215 1234h0M252 1217h0M242 1233h0M225 1198h0M298 1182h0M265 1272h0M247 1125h0M249 1295h0M203 1163h0M280 1133h0M256 1233h0M273 1123h0M259 1252h0M250 1279h0M229 1256h0M232 1112h0M232 1292h0M233 1278h0M223 1199h0M269 1140h0M237 1236h0M294 1143h0M266 1114h0M224 1117h0M203 1134h0M257 1117h0M243 1248h0M213 1149h0M261 1119h0M256 1182h0M261 1100h0M283 1162h0M222 1251h0M283 1165h0M246 1293h0M293 1203h0M253 1203h0M255 1098h0M255 1189h0M250 1157h0M288 1184h0M257 1109h0M222 1148h0M217 1172h0M242 1111h0M256 1166h0M287 1106h0M234 1308h0M215 1183h0M231 1115h0M228 1204h0M254 1135h0M190 1186h0M293 1157h0M297 1190h0M246 1142h0M211 1146h0M232 1129h0M243 1265h0M272 1135h0M235 1239h0M242 1191h0M244 1291h0M290 1105h0M203 1178h0M221 1103h0M255 1257h0M312 1134h0M204 1149h0M283 1231h0M259 1185h0M244 1196h0M209 1143h0M89 1163h0M87 1154h0M85 1159h0M81 1156h0M80 1150h0M81 1153h0M80 1154h0M78 1156h0M80 1144h0M82 1152h0M81 1157h0M93 1161h0M98 1173h0M83 1150h0M87 1162h0M81 1150h0M80 1151h0M87 1162h0M81 1159h0M85 1143h0M84 1151h0M78 1146h0M94 1171h0M83 1156h0M86 1163h0M83 1157h0M84 1155h0M88 1164h0M88 1155h0M89 1153h0M92 1167h0M79 1145h0M78 1148h0M89 1154h0M87 1160h0M83 1157h0M75 1145h0M86 1145h0M78 1146h0M77 1154h0M85 1153h0M90 1158h0M83 1154h0M82 1151h0M80 1157h0M84 1153h0M79 1155h0M80 1145h0M89 1159h0M82 1155h0M83 1153h0M85 1155h0M88 1163h0M73 1157h0M77 1153h0M84 1156h0M93 1167h0M89 1159h0M78 1151h0M82 1154h0M85 1150h0M91 1166h0M85 1156h0M82 1144h0M83 1153h0M85 1154h0M87 1157h0M82 1153h0M83 1162h0M96 1173h0M79 1147h0M88 1166h0M81 1141h0M86 1159h0M83 1160h0M83 1146h0M94 1165h0M79 1146h0M81 1153h0M87 1152h0M76 1146h0M83 1147h0M80 1156h0M87 1154h0M79 1149h0M90 1162h0M76 1141h0M81 1149h0M81 1155h0M88 1163h0M83 1152h0M82 1156h0M86 1159h0M86 1169h0M84 1155h0M82 1153h0M87 1160h0M77 1144h0M86 1159h0M85 1152h0M88 1149h0M88 1163h0M83 1156h0M85 1156h0M85 1153h0M82 1157h0M95 1170h0M88 1152h0M87 1162h0M82 1152h0M90 1157h0M79 1149h0M88 1160h0M79 1161h0M87 1163h0M87 1159h0M76 1143h0M80 1162h0M95 1171h0M79 1150h0M88 1159h0M78 1145h0M83 1154h0M85 1150h0M84 1162h0M83 1144h0M94 1170h0M83 1158h0M82 1149h0M89 1160h0M85 1159h0M88 1149h0M95 1167h0M77 1149h0M84 1157h0M84 1150h0M87 1159h0M80 1148h0M87 1152h0M78 1148h0M78 1147h0M84 1166h0M89 1153h0M86 1149h0M82 1151h0M87 1157h0M76 1147h0M77 1151h0M91 1166h0M93 1159h0M80 1148h0M79 1146h0M71 1143h0M87 1163h0M83 1146h0M86 1158h0M80 1143h0M89 1158h0M87 1159h0M76 1142h0M87 1160h0M83 1153h0M86 1153h0M88 1149h0M79 1151h0M96 1172h0M81 1155h0M83 1153h0M75 1144h0M96 1173h0M82 1157h0M82 1150h0" stroke="#808080" stroke-width="2.8"/><path d="M199 1186h0M224 1217h0M189 1203h0M240 1162h0M191 1209h0M246 1230h0M237 1163h0M208 1210h0M228 1175h0M218 1129h0M237 1143h0M219 1137h0M233 1217h0M206 1212h0M289 1153h0M243 1196h0M203 1210h0M207 1211h0M234 1129h0M245 1151h0M191 1227h0M234 1148h0M240 1168h0M264 1172h0M251 1126h0M233 1232h0M189 1218h0M213 1199h0M200 1206h0M192 1190h0M234 1175h0M281 1155h0M235 1171h0M199 1194h0M178 1216h0M223 1166h0M202 1182h0M248 1178h0M215 1195h0M269 1151h0M183 1215h0M226 1196h0M225 1237h0M225 1211h0M291 1271h0M187 1221h0M263 1207h0M226 1144h0M217 1146h0M251 1124h0M193 1224h0M289 1149h0M180 1228h0M190 1201h0M231 1140h0M230 1207h0M198 1186h0M249 1120h0M245 1134h0M241 1219h0M233 1126h0M193 1182h0M205 1189h0M245 1214h0M298 1170h0M197 1227h0M275 1146h0M230 1226h0M191 1218h0M194 1205h0M203 1209h0M208 1227h0M221 1153h0M229 1142h0M229 1170h0M235 1161h0M215 1200h0M221 1168h0M235 1122h0M207 1239h0M201 1212h0M232 1171h0M269 1171h0M238 1159h0M181 1222h0M286 1189h0M208 1223h0M234 1199h0M228 1219h0M198 1224h0M207 1196h0M190 1196h0M196 1210h0M196 1228h0M230 1181h0M233 1158h0M189 1221h0M236 1224h0M203 1236h0M227 1169h0M233 1138h0M185 1205h0M222 1157h0M239 1124h0M203 1194h0M217 1204h0M220 1128h0M223 1137h0M192 1187h0M200 1231h0M188 1235h0M180 1215h0M182 1200h0M208 1201h0M188 1199h0M248 1147h0M231 1153h0M204 1214h0M245 1222h0M249 1120h0M225 1165h0M210 1219h0M284 1200h0M189 1222h0M282 1209h0M192 1185h0M209 1189h0M240 1168h0M229 1156h0M209 1218h0M199 1221h0M186 1190h0M193 1200h0M266 1153h0M194 1210h0M269 1164h0M291 1143h0M209 1216h0M227 1212h0M198 1190h0M186 1195h0M193 1195h0M198 1202h0M209 1196h0M231 1229h0M197 1227h0M221 1134h0M288 1162h0M285 1165h0M246 1138h0M209 1182h0M205 1223h0M209 1206h0M244 1198h0M231 1182h0M236 1143h0M201 1197h0M271 1151h0M232 1142h0M198 1192h0M191 1214h0M210 1239h0M215 1194h0M188 1201h0M269 1153h0M202 1239h0M235 1189h0M248 1163h0M193 1188h0M240 1184h0M235 1225h0M233 1150h0M233 1125h0M199 1223h0M200 1231h0M195 1187h0M230 1192h0M191 1201h0M236 1128h0M204 1202h0M225 1217h0M222 1204h0M235 1125h0M266 1144h0M211 1206h0M296 1248h0M244 1150h0M214 1202h0M200 1212h0M244 1133h0M192 1196h0M268 1215h0M239 1142h0M208 1215h0M199 1203h0M230 1162h0M179 1222h0M187 1189h0M179 1223h0M208 1198h0M245 1166h0M212 1202h0M183 1231h0M244 1224h0M185 1219h0M202 1217h0M244 1190h0M235 1120h0M207 1183h0M291 1248h0M244 1162h0M247 1129h0M208 1211h0M207 1184h0M266 1160h0M239 1149h0M234 1134h0M213 1215h0M246 1165h0M229 1190h0M222 1221h0M207 1229h0M198 1231h0M208 1225h0M225 1126h0M196 1216h0M194 1242h0M242 1146h0M210 1236h0M208 1206h0M231 1190h0M195 1195h0M197 1187h0M219 1193h0M213 1211h0M223 1210h0M247 1127h0M217 1170h0M204 1195h0M231 1143h0M280 1160h0M287 1218h0M186 1228h0M230 1132h0M219 1129h0M241 1209h0M283 1159h0M234 1202h0M201 1237h0M221 1236h0M206 1231h0M248 1143h0M203 1237h0M223 1177h0M210 1202h0M214 1205h0M211 1231h0M241 1182h0M184 1210h0M190 1209h0M225 1189h0M191 1217h0M235 1173h0M206 1236h0M259 1142h0M214 1225h0M211 1183h0M228 1145h0M259 1163h0M205 1212h0M223 1181h0M226 1204h0M201 1206h0M245 1213h0M282 1216h0M289 1223h0M218 1230h0M241 1175h0M220 1236h0M195 1227h0M194 1183h0M243 1176h0M207 1188h0M257 1200h0M222 1125h0M205 1241h0M228 1142h0M188 1230h0M289 1152h0M254 1169h0M199 1203h0M241 1137h0M198 1195h0M226 1194h0M215 1211h0M215 1206h0M220 1238h0M208 1238h0M293 1162h0M213 1191h0M205 1211h0M221 1164h0M251 1146h0M231 1196h0M275 1147h0M214 1218h0M213 1215h0M207 1188h0M189 1227h0M242 1161h0M234 1135h0M256 1161h0M193 1240h0M200 1235h0M196 1219h0M208 1191h0M243 1192h0M199 1197h0M276 1193h0M208 1240h0M222 1128h0M207 1200h0M190 1239h0M290 1160h0M196 1211h0M198 1195h0M202 1195h0M201 1242h0M185 1194h0M210 1205h0M191 1187h0M239 1229h0M216 1207h0M263 1144h0M182 1227h0M202 1240h0M184 1217h0M226 1127h0M232 1137h0M284 1141h0M202 1195h0M230 1189h0M210 1248h0M219 1209h0M194 1238h0M187 1210h0M185 1226h0M200 1195h0M286 1149h0M222 1120h0M193 1217h0M197 1197h0M209 1183h0M204 1226h0M223 1224h0M293 1145h0M220 1143h0M185 1210h0M188 1233h0M227 1152h0M204 1217h0M256 1176h0M208 1220h0M277 1194h0M191 1232h0M204 1237h0M223 1180h0M199 1231h0M209 1208h0M230 1175h0M237 1149h0M223 1168h0M247 1123h0M180 1220h0M253 1129h0M201 1186h0M232 1218h0M255 1142h0M219 1146h0M189 1197h0M267 1168h0M181 1231h0M250 1126h0M282 1142h0M207 1211h0M229 1120h0M217 1125h0M241 1137h0M198 1213h0M244 1206h0M231 1211h0M201 1198h0M217 1228h0M232 1175h0M188 1193h0M295 1166h0M199 1186h0M209 1210h0M238 1217h0M195 1196h0M275 1191h0M264 1274h0M188 1223h0M186 1212h0M242 1170h0M214 1233h0M245 1195h0M258 1157h0M200 1207h0M200 1206h0M196 1192h0M192 1184h0M181 1224h0M284 1188h0M220 1153h0M209 1198h0M203 1241h0M202 1220h0M242 1180h0M236 1196h0M209 1214h0M198 1223h0M216 1203h0M191 1207h0M223 1182h0M258 1153h0M191 1207h0M238 1226h0M242 1219h0M184 1219h0M221 1169h0M229 1122h0M186 1218h0M191 1204h0M226 1168h0M300 1170h0M191 1215h0M291 1262h0M257 1190h0M219 1204h0M208 1211h0M255 1194h0M203 1211h0M217 1212h0M196 1188h0M207 1211h0M208 1183h0M202 1241h0M191 1193h0M223 1146h0M213 1209h0M232 1218h0M210 1200h0M182 1231h0M281 1165h0M234 1164h0M235 1128h0M190 1190h0M202 1211h0M239 1178h0M232 1142h0M215 1211h0M230 1135h0M230 1128h0M224 1125h0M202 1187h0M236 1153h0M191 1215h0M192 1187h0M211 1210h0M258 1145h0M286 1188h0M211 1236h0M185 1218h0M243 1186h0M204 1228h0M193 1221h0M195 1232h0M221 1239h0M232 1152h0M181 1213h0M220 1144h0M221 1135h0M265 1144h0M260 1169h0M209 1187h0M234 1232h0M200 1185h0M230 1180h0M188 1205h0M207 1216h0M291 1152h0M229 1130h0M190 1220h0M283 1147h0M285 1216h0M212 1217h0M208 1212h0M238 1126h0M267 1195h0M191 1219h0M209 1249h0M203 1233h0M234 1211h0M187 1202h0M184 1216h0M239 1147h0M194 1217h0M207 1184h0M193 1233h0M191 1242h0M220 1225h0M183 1212h0M251 1127h0M221 1217h0M193 1230h0M236 1136h0M287 1144h0M243 1127h0M225 1166h0M194 1183h0M208 1220h0M278 1269h0M186 1217h0M193 1182h0M234 1177h0M215 1234h0M199 1208h0M191 1230h0M203 1232h0M225 1153h0M212 1191h0M234 1126h0M186 1238h0M217 1204h0M204 1211h0M274 1159h0M205 1228h0M286 1241h0M201 1209h0M268 1141h0M227 1182h0M195 1190h0M201 1210h0M223 1123h0M185 1215h0M291 1155h0M257 1189h0M227 1119h0M208 1195h0M224 1129h0M187 1192h0M229 1193h0M219 1218h0M244 1131h0M180 1226h0M229 1198h0M204 1245h0M204 1220h0M193 1211h0M217 1160h0M235 1213h0M290 1169h0M194 1229h0M208 1229h0M240 1153h0M278 1227h0M279 1197h0M202 1210h0M236 1171h0M197 1237h0M220 1140h0M243 1187h0M178 1225h0M176 1224h0M207 1208h0M202 1216h0M200 1219h0M191 1221h0M237 1202h0M205 1211h0M181 1227h0M263 1142h0M245 1194h0M200 1188h0M289 1248h0M204 1241h0M205 1231h0M217 1234h0M236 1171h0M209 1212h0M252 1121h0M249 1193h0M190 1225h0M251 1131h0M184 1200h0M234 1149h0M196 1184h0M201 1202h0M220 1161h0M226 1141h0M238 1226h0M223 1216h0M225 1143h0M206 1219h0M223 1198h0M242 1130h0M183 1205h0M208 1202h0M197 1234h0M203 1227h0M260 1273h0M243 1143h0M235 1199h0M183 1220h0M207 1193h0M196 1210h0M222 1229h0M225 1124h0M206 1222h0M228 1160h0M252 1169h0M191 1189h0M186 1227h0M237 1193h0M191 1226h0M222 1140h0M285 1167h0M240 1192h0M198 1229h0M237 1188h0M234 1158h0M234 1230h0M228 1155h0M230 1203h0M226 1227h0M257 1154h0M250 1133h0M276 1152h0M243 1200h0M217 1207h0M244 1125h0M202 1222h0M205 1198h0M245 1186h0M212 1247h0M207 1182h0M263 1150h0M224 1198h0M237 1228h0M198 1236h0M201 1233h0M198 1184h0M199 1212h0M195 1199h0M202 1238h0M209 1245h0M192 1219h0M188 1202h0M228 1136h0M233 1157h0M229 1191h0M229 1164h0M208 1231h0M199 1238h0M182 1205h0M223 1132h0M259 1187h0M234 1193h0M239 1123h0M305 1148h0M241 1182h0M212 1183h0M241 1167h0M195 1219h0M199 1207h0M197 1227h0M196 1223h0M275 1170h0M237 1181h0M208 1197h0M197 1236h0M219 1130h0M226 1141h0M224 1202h0M254 1160h0M220 1204h0M214 1216h0M226 1149h0M194 1217h0M210 1190h0M215 1211h0M210 1186h0M205 1197h0M221 1208h0M227 1125h0M225 1226h0M246 1206h0M225 1198h0M209 1249h0M197 1236h0M231 1229h0M224 1156h0M183 1204h0M224 1207h0M236 1155h0M183 1205h0M242 1231h0M208 1247h0M200 1225h0M192 1189h0M225 1192h0M297 1151h0M206 1221h0M246 1132h0M238 1211h0M204 1203h0M230 1172h0M207 1198h0M205 1207h0M206 1197h0M250 1164h0M210 1227h0M228 1210h0M240 1211h0M198 1189h0M219 1129h0M244 1184h0M243 1150h0M207 1223h0M195 1232h0M262 1270h0M275 1151h0M225 1153h0M224 1219h0M215 1228h0M225 1157h0M277 1247h0M295 1163h0M207 1250h0M205 1183h0M217 1223h0M255 1189h0M197 1191h0M233 1141h0M189 1203h0M211 1203h0M235 1167h0M271 1153h0M249 1133h0M200 1186h0M217 1135h0M228 1225h0M224 1223h0M209 1242h0M200 1221h0M222 1180h0M189 1192h0M212 1199h0M178 1208h0M282 1145h0M201 1233h0M201 1212h0M242 1155h0M197 1211h0M239 1148h0M190 1190h0M196 1200h0M251 1168h0M201 1210h0M213 1228h0M246 1132h0M244 1216h0M209 1231h0M222 1159h0M238 1213h0M232 1121h0M198 1233h0M209 1247h0M239 1231h0M238 1212h0M195 1210h0M245 1141h0M269 1193h0M223 1236h0M227 1149h0M205 1190h0M195 1189h0M268 1259h0M230 1199h0M185 1235h0M291 1158h0M253 1157h0M198 1206h0M245 1222h0M257 1214h0M183 1226h0M197 1186h0M256 1142h0M186 1226h0M229 1162h0M227 1218h0" stroke="#c9524a" stroke-width="2.8"/><path d="M282 1181h0M278 1251h0M281 1184h0M260 1293h0M253 1288h0M273 1253h0M262 1141h0M279 1266h0M295 1246h0M293 1230h0M253 1178h0M275 1151h0M275 1300h0M271 1264h0M262 1296h0M284 1276h0M271 1237h0M264 1189h0M277 1185h0M283 1221h0M253 1191h0M279 1215h0M283 1246h0M285 1263h0M263 1282h0M273 1219h0M266 1276h0M270 1148h0M271 1257h0M280 1278h0M275 1234h0M290 1243h0M272 1306h0M284 1264h0M275 1264h0M278 1218h0M252 1278h0M249 1120h0M272 1210h0M287 1227h0M261 1281h0M285 1222h0M280 1209h0M280 1179h0M255 1299h0M276 1202h0M220 1167h0M284 1229h0M272 1193h0M277 1245h0M278 1289h0M279 1210h0M293 1270h0M259 1312h0M256 1159h0M266 1142h0M262 1295h0M281 1242h0M285 1214h0M280 1172h0M273 1228h0M262 1300h0M286 1238h0M276 1200h0M273 1222h0M264 1186h0M285 1283h0M272 1176h0M270 1181h0M270 1299h0M257 1289h0M279 1239h0M279 1177h0M287 1248h0M273 1158h0M257 1290h0M283 1188h0M255 1305h0M280 1184h0M268 1280h0M292 1254h0M284 1209h0M287 1217h0M272 1175h0M296 1246h0M260 1187h0M288 1213h0M273 1283h0M269 1291h0M279 1277h0M277 1206h0M253 1303h0M263 1309h0M258 1206h0M277 1295h0M266 1175h0M256 1149h0M295 1258h0M250 1164h0M272 1286h0M276 1267h0M268 1187h0M277 1267h0M241 1175h0M292 1212h0M279 1279h0M278 1186h0M281 1237h0M291 1237h0M291 1219h0M282 1246h0M282 1229h0M271 1217h0M270 1208h0M256 1305h0M280 1203h0M290 1274h0M262 1152h0M238 1120h0M276 1211h0M267 1199h0M265 1289h0M280 1228h0M289 1215h0M268 1287h0M264 1208h0M257 1156h0M257 1196h0M280 1249h0M279 1208h0M266 1223h0M262 1303h0M264 1142h0M263 1314h0M255 1284h0M264 1289h0M273 1261h0M260 1285h0M285 1218h0M262 1165h0M274 1276h0M272 1191h0M252 1296h0M264 1207h0M261 1234h0M267 1324h0M282 1175h0M274 1193h0M256 1284h0M276 1183h0M287 1257h0M275 1293h0M271 1190h0M277 1300h0M272 1294h0M294 1234h0M280 1294h0M246 1176h0M279 1267h0M277 1286h0M285 1258h0M274 1299h0M260 1276h0M276 1246h0M251 1294h0M219 1150h0M279 1215h0M277 1268h0M268 1271h0M266 1291h0M267 1183h0M262 1295h0M289 1226h0M261 1223h0M271 1192h0M259 1163h0M261 1309h0M284 1288h0M268 1288h0M253 1299h0M280 1266h0M263 1321h0M281 1261h0M276 1281h0M275 1144h0M286 1219h0M273 1199h0M272 1168h0M281 1288h0M260 1194h0M253 1160h0M270 1187h0M275 1188h0M295 1248h0M287 1236h0M278 1197h0M236 1120h0M253 1285h0M256 1148h0M281 1223h0M283 1190h0M293 1264h0M280 1209h0M285 1213h0M286 1260h0M253 1303h0M279 1233h0M275 1218h0M254 1297h0M274 1286h0M293 1266h0M280 1253h0M273 1305h0M277 1275h0M278 1195h0M280 1207h0M290 1268h0M292 1243h0M275 1143h0M292 1270h0M269 1311h0M281 1255h0M268 1292h0M294 1234h0M269 1163h0M296 1229h0M270 1146h0M280 1257h0M270 1171h0M286 1259h0M277 1277h0M268 1188h0M264 1293h0M254 1301h0M283 1177h0M225 1177h0M288 1241h0M264 1290h0M269 1149h0M253 1143h0M276 1202h0M278 1182h0M284 1282h0M281 1267h0M278 1243h0M226 1171h0M257 1189h0M267 1195h0M281 1180h0M263 1217h0M265 1195h0M268 1308h0M279 1227h0M280 1244h0M276 1301h0M264 1310h0M276 1247h0M277 1266h0M270 1287h0M272 1203h0M274 1223h0M278 1216h0M276 1276h0M280 1255h0M280 1161h0M273 1294h0M274 1216h0M293 1242h0M281 1276h0M255 1285h0M288 1245h0M266 1212h0M227 1123h0M275 1208h0M274 1154h0M274 1282h0M284 1228h0M291 1233h0M287 1208h0M288 1264h0M293 1235h0M274 1274h0M264 1299h0M267 1304h0M261 1196h0M239 1165h0M246 1196h0M258 1219h0M280 1277h0M280 1184h0M276 1270h0M285 1184h0M226 1145h0M269 1194h0M273 1308h0M268 1142h0M270 1310h0M272 1291h0M259 1282h0M272 1182h0M261 1292h0M254 1197h0M262 1296h0M266 1280h0M262 1250h0M291 1235h0M259 1177h0M279 1206h0M260 1284h0M278 1151h0M263 1161h0M272 1216h0M265 1306h0M254 1304h0M256 1195h0M294 1265h0M287 1225h0M276 1250h0M259 1142h0M281 1194h0M266 1313h0M277 1258h0M265 1177h0M281 1285h0M277 1292h0M273 1183h0M280 1190h0M267 1196h0M253 1282h0M276 1248h0M271 1284h0M271 1176h0M255 1304h0M273 1222h0M273 1306h0M254 1304h0M279 1204h0M261 1294h0M281 1227h0M264 1291h0M294 1216h0M282 1191h0M295 1250h0M269 1189h0M298 1256h0M253 1302h0M269 1207h0M276 1191h0M290 1253h0M286 1265h0M273 1178h0M259 1282h0M291 1215h0M288 1271h0M280 1215h0M262 1172h0M269 1307h0M287 1256h0M255 1310h0M297 1244h0M275 1162h0M255 1287h0M270 1208h0M278 1214h0M283 1226h0M288 1199h0M279 1235h0M277 1285h0M295 1245h0M244 1147h0M256 1291h0M279 1287h0M245 1130h0M262 1161h0M265 1196h0M287 1255h0M273 1295h0M273 1215h0M274 1272h0M283 1245h0M280 1290h0M271 1214h0M270 1290h0M268 1286h0M261 1311h0M289 1277h0M296 1233h0M266 1181h0M291 1261h0M283 1185h0M280 1223h0M273 1221h0M270 1234h0M273 1218h0M279 1215h0M277 1273h0M254 1189h0M260 1248h0M283 1210h0M259 1164h0M249 1135h0M265 1291h0M264 1246h0M273 1199h0M290 1265h0M279 1209h0M293 1258h0M265 1201h0M280 1217h0M271 1310h0M262 1284h0M268 1303h0M274 1159h0M279 1170h0M274 1156h0M263 1280h0M285 1228h0M279 1222h0M281 1225h0M269 1279h0M289 1276h0M281 1172h0M272 1196h0M258 1297h0M288 1259h0M240 1143h0M282 1277h0M230 1157h0M291 1209h0M277 1219h0M278 1235h0M273 1191h0M288 1205h0M262 1308h0M275 1249h0M270 1157h0M298 1243h0M272 1218h0M279 1287h0M291 1216h0M259 1220h0M278 1300h0M265 1193h0M262 1201h0M266 1171h0M252 1291h0M286 1188h0M281 1248h0M251 1124h0M269 1304h0M285 1261h0M261 1189h0M280 1229h0M289 1250h0M233 1134h0M271 1248h0M291 1219h0M244 1153h0M288 1205h0M263 1180h0M270 1213h0M274 1155h0M264 1163h0M276 1296h0M261 1300h0M265 1311h0M296 1241h0M279 1201h0M253 1194h0M253 1307h0M261 1166h0M259 1156h0M282 1208h0M291 1215h0M292 1275h0M267 1233h0M264 1292h0M261 1215h0M259 1288h0M272 1201h0M273 1210h0M281 1225h0M279 1239h0M279 1266h0M267 1315h0M278 1288h0M264 1301h0M265 1313h0M285 1200h0M291 1216h0M265 1185h0M271 1174h0M285 1240h0M275 1201h0M275 1238h0M295 1232h0M268 1163h0M272 1226h0M294 1215h0M293 1249h0M282 1261h0M275 1191h0M270 1215h0M263 1276h0M219 1187h0M295 1243h0M219 1130h0M282 1252h0M291 1249h0M276 1263h0M256 1158h0M275 1262h0M275 1145h0M267 1180h0M292 1253h0M251 1288h0M294 1261h0M274 1237h0M281 1294h0M264 1234h0M281 1283h0M267 1169h0M259 1213h0M267 1150h0M280 1210h0M274 1147h0M279 1246h0M285 1241h0M255 1281h0M296 1244h0M298 1242h0M291 1263h0M284 1266h0M277 1237h0M281 1206h0M272 1151h0M264 1144h0M270 1215h0M281 1271h0M279 1245h0M268 1241h0M271 1296h0M278 1216h0M273 1184h0M278 1252h0M291 1249h0M282 1273h0M295 1265h0M250 1167h0M264 1177h0M261 1219h0M243 1186h0M268 1157h0M262 1312h0M262 1176h0M262 1215h0M278 1187h0M273 1292h0M281 1211h0M234 1154h0M278 1264h0M275 1275h0M265 1160h0M277 1253h0M271 1192h0M259 1280h0M282 1185h0M261 1310h0M278 1285h0M266 1293h0M276 1214h0M260 1311h0M295 1252h0M274 1219h0M278 1220h0M266 1314h0M294 1238h0M280 1258h0M271 1225h0M272 1291h0M275 1247h0M279 1200h0M273 1157h0M268 1285h0M278 1256h0M257 1300h0M276 1153h0M277 1282h0M269 1199h0M295 1229h0M255 1300h0M285 1285h0M270 1281h0M281 1225h0M277 1190h0M262 1251h0M255 1310h0M267 1305h0M279 1260h0M282 1211h0M260 1278h0M271 1277h0M272 1309h0M265 1212h0M263 1253h0M268 1281h0M290 1239h0M268 1308h0M252 1294h0M285 1245h0M261 1297h0M267 1286h0M296 1255h0M277 1166h0M266 1296h0M283 1177h0M275 1196h0M258 1224h0M279 1224h0M286 1225h0M286 1218h0M293 1230h0M270 1200h0M276 1260h0M287 1244h0M245 1176h0M272 1210h0M280 1231h0M293 1268h0M296 1254h0M284 1251h0M279 1244h0M274 1232h0M260 1287h0M256 1173h0M272 1203h0M266 1175h0M254 1151h0M276 1198h0M268 1192h0M243 1144h0M287 1210h0M265 1180h0M268 1196h0M281 1291h0M269 1287h0M280 1164h0M272 1235h0M244 1144h0M263 1304h0M282 1187h0M258 1300h0M291 1248h0M270 1165h0M295 1242h0M279 1287h0M252 1303h0M288 1203h0M273 1186h0M292 1248h0M269 1193h0M280 1193h0M268 1181h0M248 1177h0M269 1273h0M274 1291h0M282 1214h0M282 1167h0M294 1219h0M274 1199h0M259 1200h0M276 1253h0M224 1147h0M276 1237h0M279 1206h0M278 1254h0M273 1204h0M277 1157h0M284 1224h0M291 1259h0M247 1182h0M292 1243h0M260 1298h0M223 1143h0M284 1217h0M272 1224h0M258 1302h0M272 1223h0M265 1179h0M266 1282h0M253 1123h0M269 1293h0M293 1222h0M282 1171h0M286 1277h0M292 1232h0M253 1304h0M255 1304h0M274 1282h0M277 1293h0M260 1157h0M279 1259h0M252 1128h0M253 1198h0M265 1142h0M282 1285h0M286 1188h0M277 1230h0M286 1237h0M276 1277h0M277 1224h0M270 1278h0M290 1250h0M279 1246h0M263 1300h0M279 1270h0M289 1221h0M282 1221h0M264 1193h0M253 1195h0M266 1295h0M275 1240h0M280 1256h0M270 1299h0M266 1180h0M284 1222h0M270 1200h0M267 1311h0M257 1312h0M280 1279h0M260 1150h0M286 1214h0M275 1285h0M285 1189h0M274 1287h0M289 1245h0M270 1198h0M263 1305h0M284 1222h0M261 1301h0M284 1228h0M277 1279h0M272 1204h0M278 1212h0M280 1245h0M288 1228h0M265 1305h0M273 1180h0M273 1286h0M278 1155h0M269 1197h0M291 1232h0M278 1208h0M295 1223h0M289 1240h0M283 1239h0M262 1265h0M279 1250h0M290 1239h0M268 1282h0M223 1128h0M280 1268h0M251 1190h0M294 1254h0M282 1197h0M278 1270h0M263 1282h0M281 1188h0M266 1292h0M259 1157h0M275 1289h0M261 1277h0M268 1314h0M270 1292h0M266 1323h0M287 1243h0M264 1176h0M220 1144h0M288 1197h0M276 1259h0M295 1229h0M272 1196h0M277 1277h0M278 1187h0M286 1228h0M270 1315h0M266 1290h0M276 1218h0M251 1288h0M264 1266h0M270 1298h0M289 1211h0M281 1172h0M259 1161h0M287 1205h0M289 1263h0M275 1196h0M255 1297h0M235 1121h0M262 1204h0M256 1295h0M267 1255h0M283 1224h0M257 1296h0M277 1296h0M260 1306h0M283 1253h0M286 1211h0M240 1119h0M273 1257h0M281 1244h0M298 1247h0M281 1287h0M276 1190h0M275 1276h0M277 1287h0M267 1160h0M277 1202h0M280 1162h0M287 1215h0M271 1284h0M273 1284h0M287 1237h0M293 1263h0M280 1183h0M268 1198h0M263 1206h0M265 1241h0M263 1287h0M291 1264h0M278 1190h0M295 1248h0M278 1259h0M273 1213h0M270 1296h0M225 1146h0M268 1290h0M261 1304h0M265 1305h0M285 1252h0M274 1309h0M269 1278h0M256 1307h0M280 1232h0M266 1280h0M261 1230h0M268 1198h0M280 1278h0M268 1228h0M289 1206h0M283 1189h0M275 1245h0M296 1227h0M276 1197h0M259 1306h0M278 1253h0M269 1287h0M275 1176h0M282 1249h0M278 1234h0M295 1259h0M289 1278h0M257 1150h0M282 1183h0M269 1219h0M258 1224h0M266 1299h0M275 1142h0M273 1200h0M232 1154h0M278 1269h0M277 1184h0M250 1144h0M264 1201h0M279 1170h0M262 1165h0M265 1301h0M260 1267h0M288 1216h0M290 1214h0M255 1175h0M277 1241h0M278 1160h0M235 1155h0M279 1290h0M285 1253h0M289 1221h0M282 1169h0M289 1206h0M280 1210h0M271 1202h0M273 1256h0M292 1211h0M259 1161h0M250 1168h0M285 1277h0M288 1231h0M272 1186h0M291 1258h0M279 1213h0M259 1232h0M290 1220h0M276 1294h0M262 1153h0M251 1289h0M269 1304h0M295 1244h0M261 1285h0M269 1207h0M259 1278h0M285 1257h0M280 1235h0M297 1260h0M272 1247h0M286 1269h0" stroke="#35c4d4" stroke-width="2.8"/></g>
<path d="M94.3 611.3C95.8 611.1 100.6 610.7 103.3 610C106 609.4 108.3 609.4 110.4 607.6C112.6 605.8 114.7 602.4 116.2 599.2C117.7 596 118.6 591.4 119.5 588.4C120.3 585.3 120.4 583 121.4 581.1C122.4 579.2 123.9 577 125.3 576.9C126.7 576.8 128.5 578 129.8 580.5C131.1 583 132.1 588.1 133 592C134 595.9 134.7 600 135.6 604C136.5 608 137.6 612.1 138.2 616.1C138.7 620.1 139.2 624.5 138.8 628.1C138.5 631.7 137.1 634.8 136.2 637.8C135.4 640.8 134.5 643.2 133.7 646.2C132.9 649.2 131.8 654.2 131.4 655.8" fill="none" stroke="#000" stroke-width="0.9"/><path d="M131.2 657l-1.6 -3.4l3.4 0.6z" fill="#000"/><text x="98.8" y="621.3" font-size="8.0" text-anchor="middle">0</text><text x="114.9" y="591.2" font-size="8.0" text-anchor="middle">5</text><text x="143.4" y="606.9" font-size="8.0" text-anchor="middle">10</text><text x="143.4" y="651.5" font-size="8.0" text-anchor="middle">15</text><circle cx="38.8" cy="629.7" r="2.2" fill="#35c4d4"/><text x="43.4" y="632.6" font-size="8.2">WT</text><circle cx="38.8" cy="639.9" r="2.2" fill="#c9524a"/><text x="43.4" y="642.8" font-size="8.2">KO</text><circle cx="38.8" cy="649.4" r="2.2" fill="#808080"/><text x="43.4" y="652.3" font-size="8.2">not-in-trajectory</text><text x="36" y="665.3" font-size="6.5">0</text><path d="M38 660.5q2.5 -2 4.5 0t4.5 1.5" fill="none" stroke="#000" stroke-width="0.8"/><path d="M49 663.2l-3 -0.2l1.6 -2.6z" fill="#000"/><text x="48.5" y="662.1" font-size="7.2">15</text><text x="58.5" y="664.2" font-size="8.2">trajectory</text></g>
<g><text x="238.5" y="180.5" font-size="16">F</text><rect x="278.7" y="177.7" width="37.4" height="5.1" fill="#E69F00"/><rect x="278.7" y="182.6" width="37.4" height="30.8" fill="#56B4E9"/><rect x="278.7" y="213.2" width="37.4" height="19" fill="#009E73"/><rect x="278.7" y="232" width="37.4" height="2.2" fill="#F0E442"/><rect x="278.7" y="234.1" width="37.4" height="38.2" fill="#0072B2"/><rect x="278.7" y="272.1" width="37.4" height="16.1" fill="#D55E00"/><rect x="278.7" y="288" width="37.4" height="3.8" fill="#CC79A7"/><rect x="278.7" y="291.7" width="37.4" height="1.4" fill="#666666"/><rect x="278.7" y="292.9" width="37.4" height="12.8" fill="#AD7700"/><rect x="278.7" y="305.6" width="37.4" height="1.4" fill="#1C91D4"/><rect x="322.5" y="177.7" width="37.4" height="27.5" fill="#E69F00"/><rect x="322.5" y="205.1" width="37.4" height="57.8" fill="#56B4E9"/><rect x="322.5" y="262.7" width="37.4" height="11.8" fill="#009E73"/><rect x="322.5" y="274.3" width="37.4" height="2.2" fill="#F0E442"/><rect x="322.5" y="276.4" width="37.4" height="4.6" fill="#0072B2"/><rect x="322.5" y="280.9" width="37.4" height="2.2" fill="#D55E00"/><rect x="322.5" y="282.9" width="37.4" height="2.4" fill="#CC79A7"/><rect x="322.5" y="285.2" width="37.4" height="5.1" fill="#666666"/><rect x="322.5" y="290.1" width="37.4" height="12" fill="#AD7700"/><rect x="322.5" y="301.9" width="37.4" height="5.1" fill="#1C91D4"/><text x="297.4" y="183.5" font-size="8.2" text-anchor="middle">4</text><text x="297.4" y="201" font-size="8.2" text-anchor="middle">24</text><text x="297.4" y="226" font-size="8.2" text-anchor="middle">15</text><text x="297.4" y="256.2" font-size="8.2" text-anchor="middle">29</text><text x="297.4" y="283.4" font-size="8.2" text-anchor="middle">12</text><text x="341.2" y="194.5" font-size="8.2" text-anchor="middle">21</text><text x="341.2" y="237.4" font-size="8.2" text-anchor="middle">44</text><text x="341.2" y="271.8" font-size="8.2" text-anchor="middle">9</text><line x1="271.4" y1="171.1" x2="271.4" y2="313.4" stroke="#000" stroke-width="0.6"/><line x1="271.1" y1="313.4" x2="366.8" y2="313.4" stroke="#000" stroke-width="0.6"/><line x1="269.6" y1="177.7" x2="271.4" y2="177.7" stroke="#000" stroke-width="0.5"/><text x="268.4" y="180.6" font-size="8.0" text-anchor="end">100</text><line x1="269.6" y1="242.3" x2="271.4" y2="242.3" stroke="#000" stroke-width="0.5"/><text x="268.4" y="245.2" font-size="8.0" text-anchor="end">50</text><line x1="269.6" y1="306.8" x2="271.4" y2="306.8" stroke="#000" stroke-width="0.5"/><text x="268.4" y="309.7" font-size="8.0" text-anchor="end">0</text><line x1="297.4" y1="313.4" x2="297.4" y2="315.2" stroke="#000" stroke-width="0.5"/><text x="297.4" y="323.7" font-size="9" text-anchor="middle">WT</text><line x1="341.2" y1="313.4" x2="341.2" y2="315.2" stroke="#000" stroke-width="0.5"/><text x="341.2" y="323.7" font-size="9" text-anchor="middle">KO</text><text x="255.9" y="242" font-size="8.2" text-anchor="middle" transform="rotate(-90 255.9 242)">Percent of cells</text></g>
<g><text x="369.5" y="180.5" font-size="16">G</text><text x="472.4" y="177.9" font-size="8.2" text-anchor="middle">Top PROGENy pathways</text><text x="472.4" y="187.8" font-size="8.2" text-anchor="middle">(KO vs. WT)</text><rect x="422.6" y="192.3" width="86.6" height="18.1" fill="#10078a"/><line x1="416.8" y1="201.3" x2="418.6" y2="201.3" stroke="#000" stroke-width="0.5"/><text x="415.6" y="204.2" font-size="8.2" text-anchor="end" font-weight="bold">Hypoxia</text><rect x="422.6" y="212.6" width="44.6" height="18.1" fill="#4a0aa8"/><line x1="416.8" y1="221.6" x2="418.6" y2="221.6" stroke="#000" stroke-width="0.5"/><text x="415.6" y="224.5" font-size="8.2" text-anchor="end">MAPK</text><rect x="422.6" y="232.5" width="23.3" height="18.1" fill="#b52f8c"/><line x1="416.8" y1="241.5" x2="418.6" y2="241.5" stroke="#000" stroke-width="0.5"/><text x="415.6" y="244.4" font-size="8.2" text-anchor="end">NFkB</text><rect x="422.6" y="252.6" width="14.6" height="18.1" fill="#fcd225"/><line x1="416.8" y1="261.6" x2="418.6" y2="261.6" stroke="#000" stroke-width="0.5"/><text x="415.6" y="264.5" font-size="8.2" text-anchor="end" font-weight="bold">TGFb</text><rect x="422.6" y="272.7" width="9.4" height="18.1" fill="#2a0593"/><line x1="416.8" y1="281.7" x2="418.6" y2="281.7" stroke="#000" stroke-width="0.5"/><text x="415.6" y="284.6" font-size="8.2" text-anchor="end">EGFR</text><rect x="422.6" y="292.8" width="4.4" height="18.1" fill="#f0f524"/><line x1="416.8" y1="301.8" x2="418.6" y2="301.8" stroke="#000" stroke-width="0.5"/><text x="415.6" y="304.7" font-size="8.2" text-anchor="end">VEGF</text><line x1="418.6" y1="189.3" x2="418.6" y2="313.4" stroke="#000" stroke-width="0.6"/><line x1="418.3" y1="313.4" x2="513.9" y2="313.4" stroke="#000" stroke-width="0.6"/><line x1="422.6" y1="313.4" x2="422.6" y2="315.2" stroke="#000" stroke-width="0.5"/><text x="422.6" y="323.1" font-size="8.0" text-anchor="middle">0</text><line x1="440.7" y1="313.4" x2="440.7" y2="315.2" stroke="#000" stroke-width="0.5"/><text x="440.7" y="323.1" font-size="8.0" text-anchor="middle">5</text><line x1="458.5" y1="313.4" x2="458.5" y2="315.2" stroke="#000" stroke-width="0.5"/><text x="458.5" y="323.1" font-size="8.0" text-anchor="middle">10</text><line x1="476.7" y1="313.4" x2="476.7" y2="315.2" stroke="#000" stroke-width="0.5"/><text x="476.7" y="323.1" font-size="8.0" text-anchor="middle">15</text><line x1="494.5" y1="313.4" x2="494.5" y2="315.2" stroke="#000" stroke-width="0.5"/><text x="494.5" y="323.1" font-size="8.0" text-anchor="middle">20</text><line x1="512.9" y1="313.4" x2="512.9" y2="315.2" stroke="#000" stroke-width="0.5"/><text x="512.9" y="323.1" font-size="8.0" text-anchor="middle">25</text><text x="466" y="331.2" font-size="8.2" text-anchor="middle">-log10(padj)</text><text x="491.3" y="259.7" font-size="8.2">log_fc</text><rect x="491" y="262.8" width="8" height="38.4" fill="url(#plasmaV)"/><text x="501.6" y="268.2" font-size="7.6">0.2</text><text x="501.6" y="281.1" font-size="7.6">0.0</text><text x="501.6" y="294" font-size="7.6">-0.2</text></g>
<g><text x="526.5" y="180.5" font-size="16">H</text><line x1="593.2" y1="183.7" x2="593.2" y2="322" stroke="#000" stroke-width="0.6"/><line x1="592.9" y1="322" x2="646.5" y2="322" stroke="#000" stroke-width="0.6"/><circle cx="605.6" cy="191.4" r="4" fill="#fbb09c"/><circle cx="634.3" cy="191.4" r="4" fill="#f1d7d1"/><line x1="591.4" y1="191.4" x2="593.2" y2="191.4" stroke="#000" stroke-width="0.5"/><text x="578.2" y="193.7" font-size="8.2" fill="#e07b20">WT</text><circle cx="605.6" cy="205.2" r="4" fill="#d9d0ee"/><circle cx="634.3" cy="205.2" r="4" fill="#ff3a22"/><line x1="591.4" y1="205.2" x2="593.2" y2="205.2" stroke="#000" stroke-width="0.5"/><text x="578.8" y="208.4" font-size="8.2" fill="#56b4e9">KO</text><circle cx="605.6" cy="218.7" r="4" fill="#ff0f0f"/><circle cx="634.3" cy="218.7" r="4" fill="#f5cec4"/><line x1="591.4" y1="218.7" x2="593.2" y2="218.7" stroke="#000" stroke-width="0.5"/><text x="578.2" y="221" font-size="8.2" fill="#e07b20">WT</text><circle cx="605.6" cy="232.3" r="4" fill="#fba996"/><circle cx="634.3" cy="232.3" r="4" fill="#dcd9e8"/><line x1="591.4" y1="232.3" x2="593.2" y2="232.3" stroke="#000" stroke-width="0.5"/><text x="578.8" y="235.5" font-size="8.2" fill="#56b4e9">KO</text><circle cx="605.6" cy="245.8" r="4" fill="#f7c5b8"/><circle cx="634.3" cy="245.8" r="4" fill="#381aff"/><line x1="591.4" y1="245.8" x2="593.2" y2="245.8" stroke="#000" stroke-width="0.5"/><text x="578.2" y="248.1" font-size="8.2" fill="#e07b20">WT</text><circle cx="605.6" cy="259.4" r="4" fill="#a685f2"/><circle cx="634.3" cy="259.4" r="4" fill="#d3c5ee"/><line x1="591.4" y1="259.4" x2="593.2" y2="259.4" stroke="#000" stroke-width="0.5"/><text x="578.8" y="262.6" font-size="8.2" fill="#56b4e9">KO</text><circle cx="605.6" cy="273.2" r="4" fill="#f3cdc3"/><circle cx="634.3" cy="273.2" r="4" fill="#b89cf2"/><line x1="591.4" y1="273.2" x2="593.2" y2="273.2" stroke="#000" stroke-width="0.5"/><text x="578.2" y="275.5" font-size="8.2" fill="#e07b20">WT</text><circle cx="605.6" cy="286.5" r="4" fill="#9a72f2"/><circle cx="634.3" cy="286.5" r="4" fill="#e1dee6"/><line x1="591.4" y1="286.5" x2="593.2" y2="286.5" stroke="#000" stroke-width="0.5"/><text x="578.8" y="289.7" font-size="8.2" fill="#56b4e9">KO</text><circle cx="605.6" cy="300" r="4" fill="#a685f2"/><circle cx="634.3" cy="300" r="4" fill="#cfc1ee"/><line x1="591.4" y1="300" x2="593.2" y2="300" stroke="#000" stroke-width="0.5"/><text x="578.2" y="302.3" font-size="8.2" fill="#e07b20">WT</text><circle cx="605.6" cy="313.6" r="4" fill="#a685f2"/><circle cx="634.3" cy="313.6" r="4" fill="#fa7a62"/><line x1="591.4" y1="313.6" x2="593.2" y2="313.6" stroke="#000" stroke-width="0.5"/><text x="578.8" y="316.8" font-size="8.2" fill="#56b4e9">KO</text><text x="574.6" y="200.2" font-size="8.2" text-anchor="end">PEN_4</text><line x1="576.2" y1="188.2" x2="576.2" y2="206.8" stroke="#777" stroke-width="0.6"/><text x="574.6" y="227.4" font-size="8.2" text-anchor="end">PEN_3</text><line x1="576.2" y1="215.5" x2="576.2" y2="233.9" stroke="#777" stroke-width="0.6"/><text x="574.6" y="254.5" font-size="8.2" text-anchor="end">PEN_1</text><line x1="576.2" y1="242.6" x2="576.2" y2="261" stroke="#777" stroke-width="0.6"/><text x="574.6" y="281.8" font-size="8.2" text-anchor="end">PFG_2</text><line x1="576.2" y1="270" x2="576.2" y2="288.1" stroke="#777" stroke-width="0.6"/><text x="574.6" y="308.7" font-size="8.2" text-anchor="end">PFG_1</text><line x1="576.2" y1="296.8" x2="576.2" y2="315.2" stroke="#777" stroke-width="0.6"/><line x1="605.6" y1="322" x2="605.6" y2="323.8" stroke="#000" stroke-width="0.5"/><text x="605.6" y="331.6" font-size="8.2" text-anchor="middle">Hypoxia</text><line x1="634.3" y1="322" x2="634.3" y2="323.8" stroke="#000" stroke-width="0.5"/><text x="634.3" y="331.6" font-size="8.2" text-anchor="middle">TGFb</text><rect x="655.8" y="226.2" width="10.1" height="48.6" fill="url(#rwb)"/><text x="667.3" y="230.3" font-size="8.2">2</text><text x="667.3" y="242.6" font-size="8.2">1</text><text x="667.3" y="254.9" font-size="8.2">0</text><text x="667.3" y="267.6" font-size="8.2">-1</text><text x="654.1" y="250.7" font-size="8.2" text-anchor="middle" transform="rotate(-90 654.1 250.7)">relative activity</text></g>
<g><text x="163.5" y="350" font-size="16">K</text><text x="249.8" y="352.1" font-size="8.2" text-anchor="middle" fill="#111">pancreas beta cells</text><clipPath id="ck1"><rect x="197.4" y="359" width="110" height="69.7"/></clipPath><g clip-path="url(#ck1)"><path d="M201.2 384.2C202.3 384.5 205.6 385.4 207.9 385.9C210.1 386.4 212.3 386.9 214.5 387.2C216.7 387.6 219 387.8 221.2 388C223.4 388.1 225.6 388.1 227.8 388.1C230.1 388 232.3 388.2 234.5 387.5C236.7 386.9 238.9 385.4 241.2 384.1C243.4 382.8 245.6 381.2 247.8 379.9C250 378.5 252.3 377.1 254.5 375.9C256.7 374.7 258.9 373.6 261.1 372.7C263.4 371.7 265.6 370.7 267.8 370C270 369.4 272.2 369.2 274.5 368.7C276.7 368.3 278.9 367.6 281.1 367.2C283.3 366.7 285.6 366.5 287.8 366C290 365.6 292.2 365 294.4 364.4C296.7 363.8 300 362.6 301.1 362.2L301.1 376.1C300 375.9 296.7 375 294.4 374.5C292.2 374.1 290 373.7 287.8 373.5C285.6 373.2 283.3 372.8 281.1 372.9C278.9 373 276.7 373.6 274.5 374C272.2 374.4 270 374.6 267.8 375.3C265.6 375.9 263.4 376.9 261.1 377.9C258.9 378.9 256.7 380 254.5 381.2C252.3 382.4 250 383.7 247.8 385.1C245.6 386.4 243.4 387.8 241.2 389.3C238.9 390.9 236.7 392.6 234.5 394.4C232.3 396.2 230.1 398.1 227.8 400.1C225.6 402.2 223.4 404.4 221.2 406.5C219 408.7 216.7 410.9 214.5 413C212.3 415.2 210.1 417.4 207.9 419.6C205.6 421.9 202.3 425.4 201.2 426.5Z" fill="#bdbdbd" opacity="0.6"/><path d="M201.2 376.6C202.3 377.2 205.6 379.1 207.9 380.4C210.1 381.6 212.3 382.9 214.5 384.1C216.7 385.3 219 386.5 221.2 387.6C223.4 388.6 225.6 389.4 227.8 390.2C230.1 391.1 232.3 392.1 234.5 392.5C236.7 392.9 238.9 392.8 241.2 392.7C243.4 392.6 245.6 392.1 247.8 391.8C250 391.6 252.3 391.5 254.5 391C256.7 390.5 258.9 389.6 261.1 388.8C263.4 388 265.6 387.2 267.8 386.2C270 385.1 272.2 383.8 274.5 382.6C276.7 381.4 278.9 380.1 281.1 378.8C283.3 377.6 285.6 376.3 287.8 375C290 373.7 292.2 372.3 294.4 371C296.7 369.6 300 367.5 301.1 366.8L301.1 384.6C300 384.8 296.7 385.3 294.4 385.7C292.2 386.1 290 386.5 287.8 386.9C285.6 387.3 283.3 387.8 281.1 388.3C278.9 388.8 276.7 389.3 274.5 389.9C272.2 390.5 270 391.2 267.8 391.9C265.6 392.5 263.4 392.9 261.1 393.6C258.9 394.2 256.7 395.3 254.5 395.8C252.3 396.3 250 396.3 247.8 396.6C245.6 396.9 243.4 397.4 241.2 397.5C238.9 397.6 236.7 397.4 234.5 397.3C232.3 397.2 230.1 397 227.8 396.9C225.6 396.9 223.4 397 221.2 397C219 397 216.7 396.8 214.5 396.7C212.3 396.7 210.1 396.6 207.9 396.6C205.6 396.6 202.3 396.6 201.2 396.6Z" fill="#bdbdbd" opacity="0.6"/><path d="M201.2 386.6C204.5 387.6 215.1 390.8 221.2 392.3C227.3 393.8 232.3 395.4 237.8 395.5C243.4 395.7 249.5 394.5 254.5 393.4C259.5 392.3 263.4 390.6 267.8 389C272.2 387.4 275.6 385.8 281.1 383.6C286.7 381.3 297.8 377 301.1 375.7" fill="none" stroke="#f08077" stroke-width="1.2"/><path d="M201.2 405.4C204 404.3 212.3 401.2 217.8 398.8C223.4 396.4 229.5 393.7 234.5 391C239.5 388.2 243.9 384.9 247.8 382.5C251.7 380.1 254.5 378.2 257.8 376.6C261.1 374.9 263.9 373.8 267.8 372.7C271.7 371.6 275.6 370.6 281.1 370C286.7 369.5 297.8 369.3 301.1 369.2" fill="none" stroke="#32bfc9" stroke-width="1.3"/></g><line x1="197.4" y1="361" x2="197.4" y2="428.7" stroke="#000" stroke-width="0.6"/><line x1="197.1" y1="428.7" x2="306.4" y2="428.7" stroke="#000" stroke-width="0.6"/><line x1="201.2" y1="428.7" x2="201.2" y2="430.5" stroke="#000" stroke-width="0.5"/><text x="201.2" y="438.8" font-size="8.0" text-anchor="middle" fill="#333">0</text><line x1="234.5" y1="428.7" x2="234.5" y2="430.5" stroke="#000" stroke-width="0.5"/><text x="234.5" y="438.8" font-size="8.0" text-anchor="middle" fill="#333">5</text><line x1="267.8" y1="428.7" x2="267.8" y2="430.5" stroke="#000" stroke-width="0.5"/><text x="267.8" y="438.8" font-size="8.0" text-anchor="middle" fill="#333">10</text><line x1="301.1" y1="428.7" x2="301.1" y2="430.5" stroke="#000" stroke-width="0.5"/><text x="301.1" y="438.8" font-size="8.0" text-anchor="middle" fill="#333">15</text><line x1="195.6" y1="368.3" x2="197.4" y2="368.3" stroke="#000" stroke-width="0.5"/><text x="194.8" y="371.2" font-size="8.0" text-anchor="end" fill="#333">0.02</text><line x1="195.6" y1="390.1" x2="197.4" y2="390.1" stroke="#000" stroke-width="0.5"/><text x="194.8" y="393" font-size="8.0" text-anchor="end" fill="#333">0.01</text><line x1="195.6" y1="411.9" x2="197.4" y2="411.9" stroke="#000" stroke-width="0.5"/><text x="194.8" y="414.8" font-size="8.0" text-anchor="end" fill="#333">0.00</text><text x="373.1" y="352.1" font-size="8.2" text-anchor="middle" fill="#111">hypoxia</text><clipPath id="ck2"><rect x="320.7" y="359" width="111.9" height="69.7"/></clipPath><g clip-path="url(#ck2)"><path d="M326.1 380.5C327.2 382 330.6 386.6 332.8 389.5C335 392.4 337.3 395.5 339.5 397.9C341.7 400.4 344 402.2 346.2 404.2C348.4 406.1 350.7 408.8 352.9 409.7C355.1 410.6 357.4 410.1 359.6 409.7C361.8 409.4 364.1 409.5 366.3 407.7C368.5 405.8 370.8 401.6 373 398.6C375.2 395.6 377.5 393.2 379.7 389.6C381.9 385.9 384.2 380.6 386.4 376.8C388.6 372.9 390.9 368.3 393.1 366.4C395.3 364.5 397.6 364 399.8 365.4C402 366.8 404.3 371.5 406.5 374.8C408.7 378 411 383.7 413.2 384.7C415.4 385.7 417.7 383.9 419.9 380.5C422.1 377.2 425.5 367.1 426.6 364.5L426.6 381.7C425.5 383.1 422.1 388.4 419.9 389.8C417.7 391.2 415.4 391.3 413.2 389.9C411 388.5 408.7 384 406.5 381.5C404.3 379 402 376.1 399.8 375.2C397.6 374.3 395.3 374.8 393.1 376.2C390.9 377.6 388.6 380.4 386.4 383.5C384.2 386.6 381.9 391.4 379.7 394.8C377.5 398.2 375.2 400.8 373 403.9C370.8 406.9 368.5 410.8 366.3 412.9C364.1 415 361.8 415 359.6 416.5C357.4 418 355.1 420.9 352.9 422.1C350.7 423.4 348.4 423.3 346.2 424.1C344 424.8 341.7 426 339.5 426.7C337.3 427.3 335 427.5 332.8 428.1C330.6 428.6 327.2 429.7 326.1 430Z" fill="#bdbdbd" opacity="0.6"/><path d="M326.1 379.7C327.2 380.7 330.6 383.8 332.8 385.8C335 387.8 337.3 389.7 339.5 391.7C341.7 393.6 344 395.6 346.2 397.4C348.4 399.2 350.7 400.7 352.9 402.2C355.1 403.8 357.4 405.6 359.6 406.6C361.8 407.6 364.1 408 366.3 408.3C368.5 408.6 370.8 408.8 373 408.3C375.2 407.8 377.5 406.5 379.7 405.3C381.9 404.1 384.2 402.8 386.4 401.2C388.6 399.6 390.9 397.4 393.1 395.8C395.3 394.3 397.6 393.2 399.8 391.8C402 390.4 404.3 388.5 406.5 387.3C408.7 386 411 385.4 413.2 384.3C415.4 383.3 417.7 382.1 419.9 381.1C422.1 380.2 425.5 379.1 426.6 378.7L426.6 391.6C425.5 391.5 422.1 391.1 419.9 391.2C417.7 391.3 415.4 391.7 413.2 392C411 392.3 408.7 392.3 406.5 393.1C404.3 393.9 402 395.4 399.8 396.6C397.6 397.9 395.3 399.1 393.1 400.6C390.9 402.2 388.6 404.4 386.4 406C384.2 407.6 381.9 409 379.7 410.2C377.5 411.3 375.2 412.6 373 413.1C370.8 413.6 368.5 413.4 366.3 413.1C364.1 412.8 361.8 412.1 359.6 411.4C357.4 410.7 355.1 409.7 352.9 409C350.7 408.3 348.4 407.8 346.2 407.1C344 406.4 341.7 405.5 339.5 404.8C337.3 404 335 403.3 332.8 402.6C330.6 401.9 327.2 401 326.1 400.6Z" fill="#bdbdbd" opacity="0.6"/><path d="M326.1 390.2C329.5 392.2 340.1 398.8 346.2 402.2C352.3 405.7 358.5 409.3 363 410.7C367.4 412.1 369.6 411.4 373 410.7C376.4 410 379.7 408.3 383.1 406.3C386.4 404.2 389.2 400.9 393.1 398.2C397 395.6 402 392.2 406.5 390.2C411 388.2 416.6 387 419.9 386.2C423.3 385.3 425.5 385.3 426.6 385.2" fill="none" stroke="#f08077" stroke-width="1.2"/><path d="M326.1 405.3C328.3 406.4 335 410.5 339.5 412.3C344 414.1 348.4 416.3 352.9 415.9C357.4 415.6 361.8 414.2 366.3 410.3C370.8 406.3 375.8 398.2 379.7 392.2C383.6 386.2 387 378.1 389.8 374.1C392.5 370.2 394.2 368.8 396.5 368.5C398.7 368.1 400.9 369.5 403.2 372.1C405.4 374.7 408 381.4 409.9 384.2C411.7 386.9 412.9 388.4 414.5 388.6C416.2 388.7 417.9 387.7 419.9 385.2C421.9 382.6 425.5 375.1 426.6 373.1" fill="none" stroke="#32bfc9" stroke-width="1.3"/></g><line x1="320.7" y1="361" x2="320.7" y2="428.7" stroke="#000" stroke-width="0.6"/><line x1="320.4" y1="428.7" x2="431.6" y2="428.7" stroke="#000" stroke-width="0.6"/><line x1="326.1" y1="428.7" x2="326.1" y2="430.5" stroke="#000" stroke-width="0.5"/><text x="326.1" y="438.8" font-size="8.0" text-anchor="middle" fill="#333">0</text><line x1="359.6" y1="428.7" x2="359.6" y2="430.5" stroke="#000" stroke-width="0.5"/><text x="359.6" y="438.8" font-size="8.0" text-anchor="middle" fill="#333">5</text><line x1="393.1" y1="428.7" x2="393.1" y2="430.5" stroke="#000" stroke-width="0.5"/><text x="393.1" y="438.8" font-size="8.0" text-anchor="middle" fill="#333">10</text><line x1="426.6" y1="428.7" x2="426.6" y2="430.5" stroke="#000" stroke-width="0.5"/><text x="426.6" y="438.8" font-size="8.0" text-anchor="middle" fill="#333">15</text><line x1="318.9" y1="372.1" x2="320.7" y2="372.1" stroke="#000" stroke-width="0.5"/><text x="318.1" y="375" font-size="8.0" text-anchor="end" fill="#333">0.04</text><line x1="318.9" y1="392.4" x2="320.7" y2="392.4" stroke="#000" stroke-width="0.5"/><text x="318.1" y="395.3" font-size="8.0" text-anchor="end" fill="#333">0.03</text><line x1="318.9" y1="412.3" x2="320.7" y2="412.3" stroke="#000" stroke-width="0.5"/><text x="318.1" y="415.2" font-size="8.0" text-anchor="end" fill="#333">0.02</text><text x="495.9" y="352.1" font-size="8.2" text-anchor="middle" fill="#111">reactive oxygen species pathway</text><clipPath id="ck3"><rect x="450" y="359" width="109.6" height="69.7"/></clipPath><g clip-path="url(#ck3)"><path d="M455.7 396C456.8 396.1 460 396.4 462.2 396.5C464.3 396.7 466.5 396.8 468.7 396.9C470.8 396.9 473 397 475.1 396.9C477.3 396.9 479.5 396.7 481.6 396.5C483.8 396.2 485.9 396 488.1 395.5C490.3 394.9 492.4 394.1 494.6 393.2C496.7 392.3 498.9 391.2 501.1 390.3C503.2 389.3 505.4 388.3 507.5 387.3C509.7 386.3 511.9 385.4 514 384.4C516.2 383.4 518.3 382.4 520.5 381.4C522.7 380.3 524.8 379.2 527 378.1C529.1 377 531.3 375.8 533.5 374.7C535.6 373.6 537.8 372.5 539.9 371.3C542.1 370.2 544.3 369 546.4 367.8C548.6 366.6 551.8 364.8 552.9 364.2L552.9 376.2C551.8 376.4 548.6 377.2 546.4 377.8C544.3 378.4 542.1 378.9 539.9 379.5C537.8 380.1 535.6 380.7 533.5 381.4C531.3 382 529.1 382.7 527 383.4C524.8 384.2 522.7 384.9 520.5 385.7C518.3 386.5 516.2 387.2 514 388.1C511.9 389 509.7 390.1 507.5 391.1C505.4 392 503.2 393 501.1 394C498.9 395 496.7 395.8 494.6 396.9C492.4 398 490.3 399.1 488.1 400.5C485.9 401.9 483.8 403.7 481.6 405.4C479.5 407.1 477.3 408.9 475.1 410.7C473 412.5 470.8 414.3 468.7 416.2C466.5 418 464.3 419.9 462.2 421.9C460 423.8 456.8 426.8 455.7 427.8Z" fill="#bdbdbd" opacity="0.6"/><path d="M455.7 385.1C456.8 385.6 460 387.1 462.2 388C464.3 388.9 466.5 389.8 468.7 390.7C470.8 391.6 473 392.6 475.1 393.4C477.3 394.1 479.5 394.8 481.6 395.4C483.8 396.1 485.9 396.7 488.1 397.2C490.3 397.6 492.4 398.1 494.6 398.2C496.7 398.4 498.9 398.1 501.1 398C503.2 398 505.4 398.1 507.5 397.9C509.7 397.6 511.9 397 514 396.5C516.2 395.9 518.3 395.4 520.5 394.6C522.7 393.8 524.8 392.5 527 391.5C529.1 390.4 531.3 389.3 533.5 388.1C535.6 386.8 537.8 385.3 539.9 383.8C542.1 382.4 544.3 380.9 546.4 379.4C548.6 377.9 551.8 375.6 552.9 374.9L552.9 391.7C551.8 391.9 548.6 392.6 546.4 393.1C544.3 393.6 542.1 394.1 539.9 394.7C537.8 395.2 535.6 395.9 533.5 396.4C531.3 396.9 529.1 397.2 527 397.7C524.8 398.2 522.7 398.8 520.5 399.2C518.3 399.7 516.2 399.8 514 400.2C511.9 400.6 509.7 401.3 507.5 401.6C505.4 401.9 503.2 401.7 501.1 401.8C498.9 401.8 496.7 402.1 494.6 402C492.4 401.8 490.3 401.2 488.1 400.9C485.9 400.7 483.8 400.6 481.6 400.5C479.5 400.5 477.3 400.5 475.1 400.5C473 400.5 470.8 400.3 468.7 400.2C466.5 400.2 464.3 400.1 462.2 400.1C460 400.1 456.8 400.1 455.7 400.1Z" fill="#bdbdbd" opacity="0.6"/><path d="M455.7 392.6C458.9 393.3 468.7 395.7 475.1 396.9C481.6 398.2 489.2 399.6 494.6 400.1C500 400.6 503.2 400.3 507.5 399.7C511.9 399.2 516.2 398.2 520.5 396.9C524.8 395.7 528.1 394.5 533.5 392.2C538.9 390 549.7 384.8 552.9 383.3" fill="none" stroke="#f08077" stroke-width="1.2"/><path d="M455.7 411.9C458.9 410.5 468.7 406.6 475.1 403.8C481.6 401 488.1 398 494.6 395.1C501.1 392.1 507.5 389.1 514 386.3C520.5 383.4 527 380.7 533.5 378C539.9 375.4 549.7 371.5 552.9 370.2" fill="none" stroke="#32bfc9" stroke-width="1.3"/></g><line x1="450" y1="361" x2="450" y2="428.7" stroke="#000" stroke-width="0.6"/><line x1="449.7" y1="428.7" x2="558.6" y2="428.7" stroke="#000" stroke-width="0.6"/><line x1="455.7" y1="428.7" x2="455.7" y2="430.5" stroke="#000" stroke-width="0.5"/><text x="455.7" y="438.8" font-size="8.0" text-anchor="middle" fill="#333">0</text><line x1="488.1" y1="428.7" x2="488.1" y2="430.5" stroke="#000" stroke-width="0.5"/><text x="488.1" y="438.8" font-size="8.0" text-anchor="middle" fill="#333">5</text><line x1="520.5" y1="428.7" x2="520.5" y2="430.5" stroke="#000" stroke-width="0.5"/><text x="520.5" y="438.8" font-size="8.0" text-anchor="middle" fill="#333">10</text><line x1="552.9" y1="428.7" x2="552.9" y2="430.5" stroke="#000" stroke-width="0.5"/><text x="552.9" y="438.8" font-size="8.0" text-anchor="middle" fill="#333">15</text><line x1="448.2" y1="364.1" x2="450" y2="364.1" stroke="#000" stroke-width="0.5"/><text x="447.4" y="367" font-size="8.0" text-anchor="end" fill="#333">0.03</text><line x1="448.2" y1="382.8" x2="450" y2="382.8" stroke="#000" stroke-width="0.5"/><text x="447.4" y="385.7" font-size="8.0" text-anchor="end" fill="#333">0.02</text><line x1="448.2" y1="401.6" x2="450" y2="401.6" stroke="#000" stroke-width="0.5"/><text x="447.4" y="404.5" font-size="8.0" text-anchor="end" fill="#333">0.01</text><line x1="448.2" y1="420.3" x2="450" y2="420.3" stroke="#000" stroke-width="0.5"/><text x="447.4" y="423.2" font-size="8.0" text-anchor="end" fill="#333">0.00</text><text x="627.4" y="352.1" font-size="8.2" text-anchor="middle" fill="#111">fatty acid metabolism</text><clipPath id="ck4"><rect x="575.2" y="359.2" width="110.8" height="69.4"/></clipPath><g clip-path="url(#ck4)"><path d="M579.3 375.5C580.4 376.8 583.8 380.8 586 383.5C588.2 386.1 590.4 388.8 592.7 391.2C594.9 393.7 597.1 395.9 599.3 398.2C601.6 400.4 603.8 402.9 606 404.7C608.2 406.6 610.5 408.6 612.7 409.3C614.9 410 617.2 410.1 619.4 409C621.6 407.9 623.8 405.5 626.1 402.7C628.3 399.8 630.5 395.4 632.7 392C635 388.6 637.2 385 639.4 382.3C641.6 379.5 643.9 376.8 646.1 375.5C648.3 374.1 650.6 373.9 652.8 374.2C655 374.6 657.2 376.9 659.5 377.4C661.7 377.9 663.9 378 666.1 377.1C668.4 376.2 670.6 374.3 672.8 372.1C675 370 678.4 365.6 679.5 364.3L679.5 375.9C678.4 377 675 380.6 672.8 382.2C670.6 383.8 668.4 385.2 666.1 385.5C663.9 385.8 661.7 384.9 659.5 384.2C657.2 383.5 655 381.4 652.8 381C650.6 380.7 648.3 380.9 646.1 382.3C643.9 383.6 641.6 386.3 639.4 389.1C637.2 391.8 635 395.4 632.7 398.8C630.5 402.2 628.3 406.6 626.1 409.5C623.8 412.3 621.6 414 619.4 415.8C617.2 417.6 614.9 419.3 612.7 420.4C610.5 421.4 608.2 421.6 606 422C603.8 422.4 601.6 422.4 599.3 422.7C597.1 423 594.9 423.5 592.7 423.8C590.4 424.2 588.2 424.4 586 424.8C583.8 425.1 580.4 425.8 579.3 426Z" fill="#bdbdbd" opacity="0.6"/><path d="M579.3 387.8C580.4 389 583.8 392.6 586 394.9C588.2 397.3 590.4 399.6 592.7 401.9C594.9 404.1 597.1 406.3 599.3 408.4C601.6 410.5 603.8 413 606 414.7C608.2 416.3 610.5 417.4 612.7 418.2C614.9 419 617.2 419.6 619.4 419.5C621.6 419.4 623.8 418.6 626.1 417.7C628.3 416.9 630.5 415.5 632.7 414.5C635 413.4 637.2 412.2 639.4 411.2C641.6 410.1 643.9 409.2 646.1 408.1C648.3 407.1 650.6 405.9 652.8 404.7C655 403.4 657.2 401.9 659.5 400.5C661.7 399 663.9 397.7 666.1 396C668.4 394.4 670.6 392.4 672.8 390.6C675 388.7 678.4 385.9 679.5 384.9L679.5 399.5C678.4 400 675 401.4 672.8 402.4C670.6 403.4 668.4 404.5 666.1 405.4C663.9 406.3 661.7 407 659.5 407.8C657.2 408.6 655 409.5 652.8 410.4C650.6 411.3 648.3 412.1 646.1 413C643.9 413.9 641.6 415 639.4 416C637.2 417.1 635 418.2 632.7 419.3C630.5 420.4 628.3 421.8 626.1 422.6C623.8 423.4 621.6 423.8 619.4 424.4C617.2 425 614.9 425.7 612.7 426.2C610.5 426.6 608.2 427.1 606 427.1C603.8 427.1 601.6 426.4 599.3 426.1C597.1 425.8 594.9 425.6 592.7 425.4C590.4 425.1 588.2 424.9 586 424.7C583.8 424.6 580.4 424.4 579.3 424.3Z" fill="#bdbdbd" opacity="0.6"/><path d="M579.3 406.1C581.5 407.3 588.2 411.1 592.7 413.6C597.1 416.1 602.1 419.4 606 420.9C609.9 422.4 612.7 423 616 422.8C619.4 422.7 622.2 421.7 626.1 420.2C630 418.6 635 415.7 639.4 413.6C643.9 411.5 648.3 409.7 652.8 407.5C657.2 405.4 661.7 403.3 666.1 400.7C670.6 398.2 677.3 393.6 679.5 392.2" fill="none" stroke="#f08077" stroke-width="1.2"/><path d="M579.3 400.7C581.5 401.9 588.2 405.4 592.7 407.5C597.1 409.6 602.7 412.1 606 413.4C609.4 414.6 610.5 415 612.7 414.8C614.9 414.7 617.2 413.8 619.4 412.4C621.6 410.9 623.8 408.9 626.1 406.1C628.3 403.2 630.5 398.8 632.7 395.4C635 392 637.2 388.4 639.4 385.7C641.6 382.9 643.9 380.2 646.1 378.9C648.3 377.5 650.6 377.3 652.8 377.6C655 378 657.2 380.2 659.5 380.8C661.7 381.4 663.9 381.9 666.1 381.3C668.4 380.7 670.6 379 672.8 377.2C675 375.3 678.4 371.3 679.5 370.1" fill="none" stroke="#32bfc9" stroke-width="1.3"/></g><line x1="575.2" y1="361.2" x2="575.2" y2="428.6" stroke="#000" stroke-width="0.6"/><line x1="574.9" y1="428.6" x2="685" y2="428.6" stroke="#000" stroke-width="0.6"/><line x1="579.3" y1="428.6" x2="579.3" y2="430.4" stroke="#000" stroke-width="0.5"/><text x="579.3" y="438.7" font-size="8.0" text-anchor="middle" fill="#333">0</text><line x1="612.7" y1="428.6" x2="612.7" y2="430.4" stroke="#000" stroke-width="0.5"/><text x="612.7" y="438.7" font-size="8.0" text-anchor="middle" fill="#333">5</text><line x1="646.1" y1="428.6" x2="646.1" y2="430.4" stroke="#000" stroke-width="0.5"/><text x="646.1" y="438.7" font-size="8.0" text-anchor="middle" fill="#333">10</text><line x1="679.5" y1="428.6" x2="679.5" y2="430.4" stroke="#000" stroke-width="0.5"/><text x="679.5" y="438.7" font-size="8.0" text-anchor="middle" fill="#333">15</text><line x1="573.4" y1="380.8" x2="575.2" y2="380.8" stroke="#000" stroke-width="0.5"/><text x="572.6" y="383.7" font-size="8.0" text-anchor="end" fill="#333">0.03</text><line x1="573.4" y1="405.1" x2="575.2" y2="405.1" stroke="#000" stroke-width="0.5"/><text x="572.6" y="408" font-size="8.0" text-anchor="end" fill="#333">0.02</text><text x="173.7" y="411.5" font-size="8.0" text-anchor="middle" transform="rotate(-90 173.7 411.5)">mean score</text><path d="M175.6 417V439H197.4" fill="none" stroke="#000" stroke-width="0.7"/><text x="179" y="449.5" font-size="8.0">pseudotime</text><text x="256.7" y="457.6" font-size="8.2">trajectory:</text><rect x="296" y="449" width="11.6" height="11.5" fill="#dedede"/><line x1="297" y1="454.7" x2="306.6" y2="454.7" stroke="#32bfc9" stroke-width="1.3"/><text x="310.3" y="457.6" font-size="8.2">WT</text><rect x="328.2" y="449" width="11.6" height="11.5" fill="#dedede"/><line x1="329.2" y1="454.7" x2="338.8" y2="454.7" stroke="#f08077" stroke-width="1.3"/><text x="342" y="457.6" font-size="8.2">KO</text><text x="363.4" y="457.6" font-size="8.2">cluster:</text><rect x="393.2" y="449.2" width="10.8" height="11" fill="#E69F00" stroke="#333" stroke-width="0.6"/><text x="406.6" y="457.6" font-size="8.2">PFG_1</text><rect x="438.4" y="449.2" width="10.8" height="11" fill="#56B4E9" stroke="#333" stroke-width="0.6"/><text x="451.8" y="457.6" font-size="8.2">PFG_2</text><rect x="483.3" y="449.2" width="10.8" height="11" fill="#0072B2" stroke="#333" stroke-width="0.6"/><text x="496.7" y="457.6" font-size="8.2">PEN_3</text><rect x="528.2" y="449.2" width="10.8" height="11" fill="#D55E00" stroke="#333" stroke-width="0.6"/><text x="541.6" y="457.6" font-size="8.2">PEN_4</text><line x1="579.3" y1="441.5" x2="579.3" y2="474" stroke="#888" stroke-width="0.5"/><line x1="612.7" y1="441.5" x2="612.7" y2="474" stroke="#888" stroke-width="0.5"/><line x1="646.1" y1="441.5" x2="646.1" y2="474" stroke="#888" stroke-width="0.5"/><line x1="679.5" y1="441.5" x2="679.5" y2="474" stroke="#888" stroke-width="0.5"/><line x1="579.3" y1="454.6" x2="679.5" y2="454.6" stroke="#222" stroke-width="0.5"/><path d="M579.3 441.5C580.3 450 580.8 452.5 584.3 453C586.3 452 589.3 452.5 591.8 453.6L609.3 454.6L591.8 455.6C589.3 456.6 586.3 457 584.3 456.2C580.8 457 580.3 459 579.3 467.5Z" fill="#E69F00" stroke="#222" stroke-width="0.4"/><line x1="579.3" y1="457.6" x2="672.8" y2="457.6" stroke="#222" stroke-width="0.5"/><path d="M592.7 457.6C608.7 457.6 608.7 456.1 624.7 456.1C640.4 456.1 640.4 457.6 656.1 457.6C640.4 457.6 640.4 459.1 624.7 459.1C608.7 459.1 608.7 457.6 592.7 457.6Z" fill="#56B4E9" stroke="#222" stroke-width="0.4"/><line x1="580.6" y1="461.3" x2="676.8" y2="461.3" stroke="#222" stroke-width="0.5"/><path d="M631.4 461.3C644.8 461.3 644.8 459.3 658.1 459.3C666.1 459.3 666.1 461.3 674.2 461.3C666.1 461.3 666.1 463.3 658.1 463.3C644.8 463.3 644.8 461.3 631.4 461.3Z" fill="#0072B2" stroke="#222" stroke-width="0.4"/><line x1="589.3" y1="465.2" x2="679.5" y2="465.2" stroke="#222" stroke-width="0.5"/><circle cx="661.5" cy="465.2" r="0.9" fill="#D55E00" stroke="#222" stroke-width="0.3"/><path d="M669.5 465.2C672.2 462 672.2 458 674.8 458.5C676.8 459 678.2 457.5 679.5 457.6L679.5 472.3C678.2 472 676.8 471 674.8 471.5C672.2 472 672.2 468 669.5 465.2Z" fill="#D55E00" stroke="#222" stroke-width="0.4"/></g>
<g><text x="169.5" y="483" font-size="16">L</text><text x="250" y="483" font-size="16">M</text><text x="184.5" y="500.6" font-size="9.6" font-weight="bold" fill="#56b4e9">Se</text><text x="216.8" y="500.7" font-size="9.6" font-weight="bold" fill="#e69f00">H<tspan font-size="6.9" dy="2.1">2</tspan><tspan dy="-2.1">O</tspan><tspan font-size="6.9" dy="2.1">2</tspan></text><line x1="192.7" y1="505.8" x2="201.6" y2="522.2" stroke="#000" stroke-width="1.0"/><line x1="197.6" y1="524.6" x2="206" y2="520.2" stroke="#000" stroke-width="1.0"/><line x1="226.8" y1="505.8" x2="218.8" y2="520.9" stroke="#000" stroke-width="1.0"/><path d="M215.8 526.6L216 519.3L221.7 522.4Z" fill="#000"/><text x="212.4" y="536.7" font-size="9.3" text-anchor="middle">[oxidative stress]</text><text x="211.3" y="564.9" font-size="9.3" text-anchor="middle" font-weight="bold">hPSC</text><ellipse cx="211.3" cy="575.7" rx="16.5" ry="5.4" fill="#cdc6e4" stroke="#8d86ab" stroke-width="0.4"/><ellipse cx="199.7" cy="572.5" rx="2.6" ry="1.1" fill="#dcd6ee" stroke="#7d76a0" stroke-width="0.35"/><ellipse cx="204.9" cy="572.5" rx="2.6" ry="1.1" fill="#dcd6ee" stroke="#7d76a0" stroke-width="0.35"/><ellipse cx="210.1" cy="572.5" rx="2.6" ry="1.1" fill="#dcd6ee" stroke="#7d76a0" stroke-width="0.35"/><ellipse cx="215.3" cy="572.5" rx="2.6" ry="1.1" fill="#dcd6ee" stroke="#7d76a0" stroke-width="0.35"/><ellipse cx="220.5" cy="572.5" rx="2.6" ry="1.1" fill="#dcd6ee" stroke="#7d76a0" stroke-width="0.35"/><ellipse cx="199.5" cy="574.6" rx="2.6" ry="1.1" fill="#dcd6ee" stroke="#7d76a0" stroke-width="0.35"/><ellipse cx="204.7" cy="574.6" rx="2.6" ry="1.1" fill="#dcd6ee" stroke="#7d76a0" stroke-width="0.35"/><ellipse cx="209.9" cy="574.6" rx="2.6" ry="1.1" fill="#dcd6ee" stroke="#7d76a0" stroke-width="0.35"/><ellipse cx="215.1" cy="574.6" rx="2.6" ry="1.1" fill="#dcd6ee" stroke="#7d76a0" stroke-width="0.35"/><ellipse cx="220.3" cy="574.6" rx="2.6" ry="1.1" fill="#dcd6ee" stroke="#7d76a0" stroke-width="0.35"/><ellipse cx="225.5" cy="574.6" rx="2.6" ry="1.1" fill="#dcd6ee" stroke="#7d76a0" stroke-width="0.35"/><ellipse cx="197.1" cy="576.8" rx="2.6" ry="1.1" fill="#dcd6ee" stroke="#7d76a0" stroke-width="0.35"/><ellipse cx="202.3" cy="576.8" rx="2.6" ry="1.1" fill="#dcd6ee" stroke="#7d76a0" stroke-width="0.35"/><ellipse cx="207.5" cy="576.8" rx="2.6" ry="1.1" fill="#dcd6ee" stroke="#7d76a0" stroke-width="0.35"/><ellipse cx="212.7" cy="576.8" rx="2.6" ry="1.1" fill="#dcd6ee" stroke="#7d76a0" stroke-width="0.35"/><ellipse cx="217.9" cy="576.8" rx="2.6" ry="1.1" fill="#dcd6ee" stroke="#7d76a0" stroke-width="0.35"/><ellipse cx="223.1" cy="576.8" rx="2.6" ry="1.1" fill="#dcd6ee" stroke="#7d76a0" stroke-width="0.35"/><ellipse cx="202.1" cy="578.9" rx="2.6" ry="1.1" fill="#dcd6ee" stroke="#7d76a0" stroke-width="0.35"/><ellipse cx="207.3" cy="578.9" rx="2.6" ry="1.1" fill="#dcd6ee" stroke="#7d76a0" stroke-width="0.35"/><ellipse cx="212.5" cy="578.9" rx="2.6" ry="1.1" fill="#dcd6ee" stroke="#7d76a0" stroke-width="0.35"/><ellipse cx="217.7" cy="578.9" rx="2.6" ry="1.1" fill="#dcd6ee" stroke="#7d76a0" stroke-width="0.35"/><ellipse cx="222.9" cy="578.9" rx="2.6" ry="1.1" fill="#dcd6ee" stroke="#7d76a0" stroke-width="0.35"/><line x1="211.3" y1="582.6" x2="211.3" y2="604.4" stroke="#000" stroke-width="0.7"/><path d="M211.3 608.6L209.2 604.4L213.4 604.4Z" fill="#000"/><text x="208.6" y="599.1" font-size="7.8" text-anchor="end">2D diff</text><text x="211.3" y="620" font-size="9.3" text-anchor="middle" font-weight="bold">DE</text><circle cx="219.3" cy="632.9" r="3.7" fill="#b8d0da" stroke="#222" stroke-width="0.5"/><circle cx="219.6" cy="633.1" r="1.9" fill="#4a8a92" stroke="#222" stroke-width="0.3"/><circle cx="219.6" cy="633.1" r="0.7" fill="#b8d0da"/><circle cx="215.8" cy="636.4" r="3.7" fill="#b8d0da" stroke="#222" stroke-width="0.5"/><circle cx="216.1" cy="636.6" r="1.9" fill="#4a8a92" stroke="#222" stroke-width="0.3"/><circle cx="216.1" cy="636.6" r="0.7" fill="#b8d0da"/><circle cx="209.7" cy="637.3" r="3.7" fill="#b8d0da" stroke="#222" stroke-width="0.5"/><circle cx="210" cy="637.5" r="1.9" fill="#4a8a92" stroke="#222" stroke-width="0.3"/><circle cx="210" cy="637.5" r="0.7" fill="#b8d0da"/><circle cx="204.5" cy="634.9" r="3.7" fill="#b8d0da" stroke="#222" stroke-width="0.5"/><circle cx="204.8" cy="635.1" r="1.9" fill="#4a8a92" stroke="#222" stroke-width="0.3"/><circle cx="204.8" cy="635.1" r="0.7" fill="#b8d0da"/><circle cx="203.3" cy="630.7" r="3.7" fill="#b8d0da" stroke="#222" stroke-width="0.5"/><circle cx="203.6" cy="630.9" r="1.9" fill="#4a8a92" stroke="#222" stroke-width="0.3"/><circle cx="203.6" cy="630.9" r="0.7" fill="#b8d0da"/><circle cx="206.8" cy="627.2" r="3.7" fill="#b8d0da" stroke="#222" stroke-width="0.5"/><circle cx="207.1" cy="627.4" r="1.9" fill="#4a8a92" stroke="#222" stroke-width="0.3"/><circle cx="207.1" cy="627.4" r="0.7" fill="#b8d0da"/><circle cx="212.9" cy="626.3" r="3.7" fill="#b8d0da" stroke="#222" stroke-width="0.5"/><circle cx="213.2" cy="626.5" r="1.9" fill="#4a8a92" stroke="#222" stroke-width="0.3"/><circle cx="213.2" cy="626.5" r="0.7" fill="#b8d0da"/><circle cx="218.1" cy="628.7" r="3.7" fill="#b8d0da" stroke="#222" stroke-width="0.5"/><circle cx="218.4" cy="628.9" r="1.9" fill="#4a8a92" stroke="#222" stroke-width="0.3"/><circle cx="218.4" cy="628.9" r="0.7" fill="#b8d0da"/><circle cx="213.3" cy="633.7" r="3.7" fill="#b8d0da" stroke="#222" stroke-width="0.5"/><circle cx="213.6" cy="633.9" r="1.9" fill="#4a8a92" stroke="#222" stroke-width="0.3"/><circle cx="213.6" cy="633.9" r="0.7" fill="#b8d0da"/><circle cx="208.1" cy="632.2" r="3.7" fill="#b8d0da" stroke="#222" stroke-width="0.5"/><circle cx="208.4" cy="632.4" r="1.9" fill="#4a8a92" stroke="#222" stroke-width="0.3"/><circle cx="208.4" cy="632.4" r="0.7" fill="#b8d0da"/><circle cx="212.5" cy="629.5" r="3.7" fill="#b8d0da" stroke="#222" stroke-width="0.5"/><circle cx="212.8" cy="629.7" r="1.9" fill="#4a8a92" stroke="#222" stroke-width="0.3"/><circle cx="212.8" cy="629.7" r="0.7" fill="#b8d0da"/><line x1="211.3" y1="643.3" x2="211.3" y2="664.6" stroke="#000" stroke-width="0.7"/><path d="M211.3 668.8L209.2 664.6L213.4 664.6Z" fill="#000"/><text x="230.1" y="645.2" font-size="9.6" fill="#e69f00"><tspan font-weight="bold">WT</tspan>:</text><text x="225.6" y="657.4" font-size="9.6" font-weight="bold" fill="#e69f00">+H<tspan font-size="6.9" dy="2.1">2</tspan><tspan dy="-2.1">O</tspan><tspan font-size="6.9" dy="2.1">2</tspan></text><text x="240.2" y="668.9" font-size="8.6" text-anchor="middle" fill="#e69f00">(d5)</text><line x1="225" y1="656.2" x2="225" y2="669.9" stroke="#e69f00" stroke-width="0.9"/><text x="174.7" y="670.2" font-size="9.6" fill="#56b4e9"><tspan font-weight="bold">KO</tspan>:</text><text x="175.3" y="679.4" font-size="9.6" font-weight="bold" fill="#56b4e9">+Se</text><text x="183.3" y="688.7" font-size="8.6" text-anchor="middle" fill="#56b4e9">(d5-7)</text><line x1="196.6" y1="655.5" x2="196.6" y2="717.9" stroke="#6e9cf0" stroke-width="0.8"/><text x="211.3" y="679.9" font-size="9.3" text-anchor="middle" font-weight="bold">PFG</text><circle cx="219.3" cy="693.4" r="3.7" fill="#62c0cd" stroke="#222" stroke-width="0.5"/><circle cx="219.6" cy="693.6" r="1.9" fill="#3a98a6" stroke="#222" stroke-width="0.3"/><circle cx="219.6" cy="693.6" r="0.7" fill="#62c0cd"/><circle cx="215.8" cy="696.9" r="3.7" fill="#62c0cd" stroke="#222" stroke-width="0.5"/><circle cx="216.1" cy="697.1" r="1.9" fill="#3a98a6" stroke="#222" stroke-width="0.3"/><circle cx="216.1" cy="697.1" r="0.7" fill="#62c0cd"/><circle cx="209.7" cy="697.8" r="3.7" fill="#62c0cd" stroke="#222" stroke-width="0.5"/><circle cx="210" cy="698" r="1.9" fill="#3a98a6" stroke="#222" stroke-width="0.3"/><circle cx="210" cy="698" r="0.7" fill="#62c0cd"/><circle cx="204.5" cy="695.4" r="3.7" fill="#62c0cd" stroke="#222" stroke-width="0.5"/><circle cx="204.8" cy="695.6" r="1.9" fill="#3a98a6" stroke="#222" stroke-width="0.3"/><circle cx="204.8" cy="695.6" r="0.7" fill="#62c0cd"/><circle cx="203.3" cy="691.2" r="3.7" fill="#62c0cd" stroke="#222" stroke-width="0.5"/><circle cx="203.6" cy="691.4" r="1.9" fill="#3a98a6" stroke="#222" stroke-width="0.3"/><circle cx="203.6" cy="691.4" r="0.7" fill="#62c0cd"/><circle cx="206.8" cy="687.7" r="3.7" fill="#62c0cd" stroke="#222" stroke-width="0.5"/><circle cx="207.1" cy="687.9" r="1.9" fill="#3a98a6" stroke="#222" stroke-width="0.3"/><circle cx="207.1" cy="687.9" r="0.7" fill="#62c0cd"/><circle cx="212.9" cy="686.8" r="3.7" fill="#62c0cd" stroke="#222" stroke-width="0.5"/><circle cx="213.2" cy="687" r="1.9" fill="#3a98a6" stroke="#222" stroke-width="0.3"/><circle cx="213.2" cy="687" r="0.7" fill="#62c0cd"/><circle cx="218.1" cy="689.2" r="3.7" fill="#62c0cd" stroke="#222" stroke-width="0.5"/><circle cx="218.4" cy="689.4" r="1.9" fill="#3a98a6" stroke="#222" stroke-width="0.3"/><circle cx="218.4" cy="689.4" r="0.7" fill="#62c0cd"/><circle cx="213.3" cy="694.2" r="3.7" fill="#62c0cd" stroke="#222" stroke-width="0.5"/><circle cx="213.6" cy="694.4" r="1.9" fill="#3a98a6" stroke="#222" stroke-width="0.3"/><circle cx="213.6" cy="694.4" r="0.7" fill="#62c0cd"/><circle cx="208.1" cy="692.7" r="3.7" fill="#62c0cd" stroke="#222" stroke-width="0.5"/><circle cx="208.4" cy="692.9" r="1.9" fill="#3a98a6" stroke="#222" stroke-width="0.3"/><circle cx="208.4" cy="692.9" r="0.7" fill="#62c0cd"/><circle cx="212.5" cy="690" r="3.7" fill="#62c0cd" stroke="#222" stroke-width="0.5"/><circle cx="212.8" cy="690.2" r="1.9" fill="#3a98a6" stroke="#222" stroke-width="0.3"/><circle cx="212.8" cy="690.2" r="0.7" fill="#62c0cd"/><line x1="211.3" y1="704" x2="211.3" y2="725.9" stroke="#000" stroke-width="0.7"/><path d="M211.3 730.1L209.2 725.9L213.4 725.9Z" fill="#000"/><text x="211.3" y="742.6" font-size="9.3" text-anchor="middle" font-weight="bold">PEN</text><circle cx="219.3" cy="755.8" r="3.7" fill="#a6d9b2" stroke="#222" stroke-width="0.5"/><circle cx="219.6" cy="756" r="1.9" fill="#c9cf7a" stroke="#222" stroke-width="0.3"/><circle cx="219.6" cy="756" r="0.7" fill="#a6d9b2"/><circle cx="215.8" cy="759.3" r="3.7" fill="#a6d9b2" stroke="#222" stroke-width="0.5"/><circle cx="216.1" cy="759.5" r="1.9" fill="#c9cf7a" stroke="#222" stroke-width="0.3"/><circle cx="216.1" cy="759.5" r="0.7" fill="#a6d9b2"/><circle cx="209.7" cy="760.2" r="3.7" fill="#a6d9b2" stroke="#222" stroke-width="0.5"/><circle cx="210" cy="760.4" r="1.9" fill="#c9cf7a" stroke="#222" stroke-width="0.3"/><circle cx="210" cy="760.4" r="0.7" fill="#a6d9b2"/><circle cx="204.5" cy="757.8" r="3.7" fill="#a6d9b2" stroke="#222" stroke-width="0.5"/><circle cx="204.8" cy="758" r="1.9" fill="#c9cf7a" stroke="#222" stroke-width="0.3"/><circle cx="204.8" cy="758" r="0.7" fill="#a6d9b2"/><circle cx="203.3" cy="753.6" r="3.7" fill="#a6d9b2" stroke="#222" stroke-width="0.5"/><circle cx="203.6" cy="753.8" r="1.9" fill="#c9cf7a" stroke="#222" stroke-width="0.3"/><circle cx="203.6" cy="753.8" r="0.7" fill="#a6d9b2"/><circle cx="206.8" cy="750.1" r="3.7" fill="#a6d9b2" stroke="#222" stroke-width="0.5"/><circle cx="207.1" cy="750.3" r="1.9" fill="#c9cf7a" stroke="#222" stroke-width="0.3"/><circle cx="207.1" cy="750.3" r="0.7" fill="#a6d9b2"/><circle cx="212.9" cy="749.2" r="3.7" fill="#a6d9b2" stroke="#222" stroke-width="0.5"/><circle cx="213.2" cy="749.4" r="1.9" fill="#c9cf7a" stroke="#222" stroke-width="0.3"/><circle cx="213.2" cy="749.4" r="0.7" fill="#a6d9b2"/><circle cx="218.1" cy="751.6" r="3.7" fill="#a6d9b2" stroke="#222" stroke-width="0.5"/><circle cx="218.4" cy="751.8" r="1.9" fill="#c9cf7a" stroke="#222" stroke-width="0.3"/><circle cx="218.4" cy="751.8" r="0.7" fill="#a6d9b2"/><circle cx="213.3" cy="756.6" r="3.7" fill="#a6d9b2" stroke="#222" stroke-width="0.5"/><circle cx="213.6" cy="756.8" r="1.9" fill="#c9cf7a" stroke="#222" stroke-width="0.3"/><circle cx="213.6" cy="756.8" r="0.7" fill="#a6d9b2"/><circle cx="208.1" cy="755.1" r="3.7" fill="#a6d9b2" stroke="#222" stroke-width="0.5"/><circle cx="208.4" cy="755.3" r="1.9" fill="#c9cf7a" stroke="#222" stroke-width="0.3"/><circle cx="208.4" cy="755.3" r="0.7" fill="#a6d9b2"/><circle cx="212.5" cy="752.4" r="3.7" fill="#a6d9b2" stroke="#222" stroke-width="0.5"/><circle cx="212.8" cy="752.6" r="1.9" fill="#c9cf7a" stroke="#222" stroke-width="0.3"/><circle cx="212.8" cy="752.6" r="0.7" fill="#a6d9b2"/><path d="M222.6 766L223.1 769.5L226.5 770.7L223.2 772.2L223.2 775.8L220.7 773.2L217.3 774.3L219 771.1L216.9 768.2L220.5 768.9Z" fill="#f0606a" stroke="#e04050" stroke-width="0.4"/><text x="223.8" y="781.7" font-size="8.6">IF</text></g>
<g><text x="326.4" y="489.8" font-size="9.0" text-anchor="middle" fill="#3fa9e0">DAPI</text><text x="404.4" y="489.8" font-size="9.0" text-anchor="middle" fill="#22b422">COL4A</text><text x="482.3" y="489.8" font-size="9.0" text-anchor="middle" fill="#e8202a">PDX1</text><text x="560.4" y="489.8" font-size="9.0" text-anchor="middle">MERGE</text><text x="640" y="489.8" font-size="9.0" text-anchor="middle">zoom</text><line x1="271.8" y1="496.2" x2="271.8" y2="639.2" stroke="#000" stroke-width="0.8"/><line x1="271.8" y1="650.4" x2="271.8" y2="795.1" stroke="#000" stroke-width="0.8"/><text x="267.9" y="568.5" font-size="8.6" text-anchor="middle" font-weight="bold" transform="rotate(-90 267.9 568.5)">WT</text><text x="267.9" y="724" font-size="8.6" text-anchor="middle" font-weight="bold" transform="rotate(-90 267.9 724)">KO</text><text x="283.7" y="529.3" font-size="8.6" text-anchor="middle" transform="rotate(-90 283.7 529.3)">CTRL</text><text x="283.7" y="684.8" font-size="8.6" text-anchor="middle" transform="rotate(-90 283.7 684.8)">CTRL</text><text x="283.7" y="609" font-size="8.6" text-anchor="middle" transform="rotate(-90 283.7 609)">+10 nM H<tspan font-size="6.4">2</tspan>O<tspan font-size="6.4">2</tspan></text><text x="283.7" y="766.9" font-size="8.6" text-anchor="middle" transform="rotate(-90 283.7 766.9)">+100 pM Se</text><clipPath id="m00"><rect x="288.6" y="492.5" width="75.8" height="75.3"/></clipPath><clipPath id="m01"><rect x="366.8" y="492.5" width="75.7" height="75.3"/></clipPath><clipPath id="m02"><rect x="444.8" y="492.5" width="75.1" height="75.3"/></clipPath><clipPath id="m03"><rect x="522.3" y="492.5" width="76.4" height="75.3"/></clipPath><clipPath id="m04"><rect x="601.9" y="492.5" width="76.2" height="75.3"/></clipPath><clipPath id="m10"><rect x="288.6" y="570.1" width="75.8" height="75.1"/></clipPath><clipPath id="m11"><rect x="366.8" y="570.1" width="75.7" height="75.1"/></clipPath><clipPath id="m12"><rect x="444.8" y="570.1" width="75.1" height="75.1"/></clipPath><clipPath id="m13"><rect x="522.3" y="570.1" width="76.4" height="75.1"/></clipPath><clipPath id="m14"><rect x="601.9" y="570.1" width="76.2" height="75.1"/></clipPath><clipPath id="m20"><rect x="288.6" y="648" width="75.8" height="74.7"/></clipPath><clipPath id="m21"><rect x="366.8" y="648" width="75.7" height="74.7"/></clipPath><clipPath id="m22"><rect x="444.8" y="648" width="75.1" height="74.7"/></clipPath><clipPath id="m23"><rect x="522.3" y="648" width="76.4" height="74.7"/></clipPath><clipPath id="m24"><rect x="601.9" y="648" width="76.2" height="74.7"/></clipPath><clipPath id="m30"><rect x="288.6" y="725.2" width="75.8" height="75.1"/></clipPath><clipPath id="m31"><rect x="366.8" y="725.2" width="75.7" height="75.1"/></clipPath><clipPath id="m32"><rect x="444.8" y="725.2" width="75.1" height="75.1"/></clipPath><clipPath id="m33"><rect x="522.3" y="725.2" width="76.4" height="75.1"/></clipPath><clipPath id="m34"><rect x="601.9" y="725.2" width="76.2" height="75.1"/></clipPath><rect x="288.6" y="492.5" width="75.8" height="75.3" fill="#0a0aa0" filter="url(#fd0)"/><rect x="288.6" y="570.1" width="75.8" height="75.1" fill="#0a0aa0" filter="url(#fd1)"/><rect x="288.6" y="648" width="75.8" height="74.7" fill="#0a0aa0" filter="url(#fd2)"/><rect x="288.6" y="725.2" width="75.8" height="75.1" fill="#0a0aa0" filter="url(#fd3)"/><rect x="444.8" y="492.5" width="75.1" height="75.3" fill="#900" filter="url(#fp0)"/><rect x="444.8" y="570.1" width="75.1" height="75.1" fill="#900" filter="url(#fp1)"/><rect x="444.8" y="648" width="75.1" height="74.7" fill="#900" filter="url(#fp2)"/><rect x="444.8" y="725.2" width="75.1" height="75.1" fill="#900" filter="url(#fp3)"/><rect x="444.8" y="492.5" width="75.1" height="75.3" fill="url(#vig)" opacity="0.3"/><rect x="444.8" y="725.2" width="75.1" height="75.1" fill="url(#vig)" opacity="0.25"/><rect x="366.8" y="492.5" width="75.7" height="75.3" fill="#021202" filter="url(#fc0)"/><g clip-path="url(#m01)"><path id="net0" d="M364 488Q367.1 487.8 371.1 489.9M365.8 548.2Q368.8 551.2 371 551M369.2 507.6Q370.9 507.2 371 506.9M371.1 489.9Q371.7 490.7 372 492.7M372 492.7Q374.7 493.7 371.4 493.2M405.5 542.5Q408 541.5 411.4 538.6M409 530.2Q411 534.2 411.4 538.6M409 530.2Q409.2 529.2 409 529M420 535.9Q418.3 533.3 418.2 531.3M418.2 531.3Q413.7 530.4 409 529M397.2 530.3Q397.9 529 398.3 528.9M372.4 515.4Q371.4 517.4 373.8 518.8M369.2 507.6Q370.5 508.2 368.4 510.6M377.5 522.4Q370.1 524.4 363.9 524.9M377.5 522.4Q376.6 520.6 373.8 518.8M369.5 565.7Q371.9 566.3 371.9 565.3M372 551.2Q370.8 558.3 371.9 565.3M378.6 522.7Q378.6 521.8 380.3 522.4M373.3 531.5Q373.7 533.9 373.4 534.9M382.3 534.8Q377.3 534.5 373.6 535M373.4 534.9Q375 535.6 373.6 535M363.9 524.9Q368 527 373.3 531.5M396.2 530.3Q395.1 526 389.4 522.1M362.1 538.7Q367.3 537.3 373.4 534.9M442.4 504.8Q443.1 505.5 440.9 504.8M437.5 491.4Q440.4 492.9 443.1 494.9M432.5 494.3Q432 497.7 432 499.2M433.8 503.3Q433.6 501.6 432 499.2M437.7 512.2Q434.7 512.8 431.8 508.9M444.8 544.5Q443.7 544.9 441.8 542M395.8 519Q393.3 514.9 393.9 512.5M401.9 513.2Q398.4 511.2 396.3 509.5M398.3 528.9Q398.1 523.9 399.7 523M412.3 520.2Q409.2 523.1 408.2 527.4M389.4 522.1Q390.7 521.8 395.8 519M414.6 519.3Q414.2 514.7 413.2 509.7M410.4 509.2Q411.3 509.6 413.2 509.7M409 546.5Q410.4 550.9 413.3 555.6M405.5 543.6Q404.5 545.9 403.3 547.2M403.3 547.2Q401.1 553.1 400.9 557.1M410.2 560.5Q411.3 556.3 413.3 555.6M425.5 544.2Q424.8 545.9 424.7 547.5M422.5 548.8Q423.4 547.5 424.7 547.5M418.4 554Q421.3 551.6 422.5 548.8M418.4 554Q416.5 554.4 413.3 555.6M428.4 492.8Q424 492.6 421.4 493.7M385.8 504.6Q386.7 508.6 388.3 514.8M383.8 518.2Q387 514.2 388.3 514.8M371 506.9Q371.6 509.2 374.6 506.4M374.6 506.4Q377.3 507.9 379.3 509.2M389.4 499.7Q387.4 502 385.8 504.6M393.9 512.5Q390.2 513.5 388.3 514.8M383.7 518.7Q383.8 518.7 383.8 518.2M375.2 493.6Q376.9 497.2 378.5 498M372 492.7Q373.7 494 375.2 493.6M374.6 506.4Q375 500.5 378.5 498M389.4 499.7Q388.2 499.3 389 498.7M373.6 535Q376.2 540.7 377.3 547.2M403.8 540.9Q396.8 542.5 390.4 542.8M391.1 548.1Q391.6 547.8 390.6 545.6M391.1 548.1Q396.5 549.7 403.3 547.2M400.9 557.1Q400.3 560 396.2 559.9M376.3 549.7Q380.6 551.8 386.3 551.7M443.9 559.9Q444.5 561.7 443.5 564M444.5 564.5Q444.3 563.8 443.5 564M444.8 544.5Q444.2 544.9 444.8 546M439.5 554.2Q441 553.3 440.7 553.2M439.5 554.2Q441.2 556.6 443.9 559.9M418.4 554Q420.5 560.3 423.5 565.6M422.3 568Q423.1 566.7 423.5 565.6M437.8 512.9Q436.9 514.2 436.5 515.6M440.4 523.3Q440 528.5 437.5 533.6M440.4 523.3Q442 523.4 444.3 521.8M434 519.2Q436.3 518.6 436.5 515.6M414.4 505.4Q414.5 503.9 413.8 500.8M423.1 501.3Q422.4 497.6 420.6 497.2M414.4 505.9Q418.8 504.9 423.9 504.4M432 499.2Q429.5 501.2 423.9 502M403.4 503.2Q407.5 500.2 411.2 498.8M403.4 503.2Q401.9 503.6 401.3 502.8M396.3 505.4Q399.8 504.6 401.3 502.8M411.7 498.8Q411.4 499.1 411.2 498.8M375.7 550.2Q377.1 554.9 381.2 559.6M381.2 559.6Q381.4 563.3 378.3 564.4M425.4 548.6Q430.5 548.6 436.7 551.3M432.4 555.2Q434.9 554.5 436.7 554.9M436.7 551.3Q436.5 553.6 437.8 554.1M424.7 547.5Q424.8 547 425.4 548.6M425.6 563.7Q425.6 563.3 423.5 565.6M436.8 544.6Q431.5 542.5 425.5 544.2M439.5 554.2Q440.6 553.4 437.8 554.1M442.4 564.3Q438.6 563.6 436.3 560.9M436.7 554.9Q437.5 557.4 436.3 560.9M426.2 522.2Q426.9 525 425.3 527.9M425.7 535.7Q429.1 534.9 430.8 533.1M422.5 518.9Q422.7 520.1 426.2 522.2M422.5 518.9Q419.7 519.8 416.6 520.3M416.6 520.6Q420.8 524.1 425.3 527.9M437.5 533.6Q435.8 534.6 430.8 533.1M413.7 508.9Q419.1 508.9 424.4 507M414.4 505.9Q413.3 507.8 413.7 508.9M422.5 518.9Q424.8 516.8 427.4 512.5M423.9 504.4Q425.8 506 424.4 507M393.9 564.5Q391.8 565.9 389.8 567.3M386.3 551.7Q386.1 556.4 385.4 558.2M378.3 564.4Q384.1 565.6 388.2 566.3" fill="none" stroke-linecap="round"/><use href="#net0" stroke="#1fb82a" stroke-width="2" opacity="0.1" filter="url(#bl1)"/><use href="#net0" stroke="#2fd03a" stroke-width="0.9" opacity="0.3" filter="url(#bl0)" stroke-dasharray="1.6 2.6"/><path d="M379.3 544.4h0M414.9 528.6h0M383.2 552.2h0M428 531.1h0M405 510.3h0M367 520.4h0M411.1 497.7h0M426.9 510h0M384.4 495.7h0M442.3 548.1h0M433 538.9h0M369.4 517.3h0M404.5 501.2h0M438.9 520.2h0M378.5 554.1h0M376.3 562.4h0M401.1 534.1h0M392.8 529h0M380.9 495.3h0M432.3 510.2h0M425.9 508.2h0M440.1 559.8h0M423.9 549.9h0M410.8 547.5h0M376.1 528.4h0M429.4 507.6h0" stroke="#4ce84c" stroke-width="1.6" stroke-linecap="round" fill="none" filter="url(#bl0)"/></g><rect x="366.8" y="570.1" width="75.7" height="75.1" fill="#021202" filter="url(#fc1)"/><g clip-path="url(#m11)"><path id="net1" d="M365.2 633.8Q366.4 630.2 367.5 626.2M367.5 626.2Q367.3 626.5 366.9 625.9M368.3 649.3Q366.6 649.2 367 646M367 646Q367 644 365.6 642.3M442.2 643.7Q442 644.1 439.4 645.6M366.6 568.9Q364.9 571.9 363.3 575.5M370.9 571.5Q368.1 569.8 366.6 568.9M370.9 571.5Q372.8 576.6 373.2 583.6M406.3 565.3Q407.1 564 407.3 567.3M407.3 567.3Q404.1 568.2 401.8 571.4M366.9 625.9Q366 622.6 363.7 619.8M365.2 633.8Q367.8 635.8 368 638.6M365.6 642.3Q366.9 640.3 367.1 640.6M368 638.6Q368.6 640 367.1 640.6M381.8 646.1Q383.7 646.2 383.8 647.3M367.1 640.6Q373.2 643.6 381.6 645.2M381.6 645.2Q381.4 646.5 381.8 646.1M439.4 645.6Q436.5 646.2 434.4 644.5M434.4 644.5Q428.3 647.9 424.8 650.1M378.7 585.1Q378.6 585.9 373.2 583.6M378.7 585.1Q382.4 590.8 387.6 595.8M387.6 595.8Q381.6 597.3 373.6 599.5M426.4 606.9Q428.2 602.5 427 595.9M426.4 606.9Q421.6 608.1 418.5 609.8M427 595.9Q422.7 595.8 419.2 594.8M419.2 594.8Q417.3 601.4 418.5 608.8M418.5 609.8Q418.9 610.6 418.5 608.8M419.2 594.8Q416.5 594.8 416.6 593.1M416.6 593.1Q412.7 594.9 412.3 595.7M418.5 608.8Q414.2 602.1 412.3 595.7M418.8 582.9Q417.3 579.9 415.9 579M418.8 582.9Q416.9 585.4 416.2 589.2M406.4 578.7Q409.1 576.5 410.8 576.4M406.4 578.7Q407.1 581.9 405.7 584.8M405.7 584.8Q410.6 587.5 416.2 589.2M415.9 579Q412.7 578 410.8 576.4M407.3 567.3Q410 568.3 411 569.6M413 568.4Q412.1 569.7 411 569.6M404.3 577.7Q402.7 576.6 400.5 574.1M404.3 577.7Q399.7 580.3 396.3 582.7M396.3 582.7Q396.7 576.4 397.5 574.2M400.5 574.1Q399.9 574.4 397.5 574.2M406.4 578.7Q405.9 578.4 404.3 577.7M401.8 571.4Q400 573.8 400.5 574.1M410.8 576.4Q410.2 573.2 411 569.6M400.7 612.6Q398.1 612.7 395.6 612.1M400.7 612.6Q401.9 608.1 401 600.3M395.6 612.1Q392.8 608.9 387.9 605M389.2 596.4Q389.6 601 387.9 605M389.2 596.4Q389.8 596.1 390.5 595.9M390.5 595.9Q397.5 598 401 600.3M414.1 610Q409.3 607.5 405.4 605.3M414.1 610Q411.3 603.6 406.3 599.7M405.4 605.3Q403.4 603.9 403.3 600.7M403.3 600.7Q405.4 598.4 406.3 599.7M416.9 612.2Q414.4 612.4 414.1 610M416.9 612.2Q417.8 611.9 418.1 610.2M418.1 610.2Q414.3 603.3 409.3 598.2M406.3 599.7Q408.8 596.7 409.3 598.2M418.5 609.8Q416.8 611 418.1 610.2M412.3 595.7Q410.8 596.9 411.3 596.3M409.3 598.2Q410.5 597.5 411.3 596.3M446.4 565.7Q443.2 567 439.8 566.1M434.1 606.6Q433.6 608.1 431.8 607.8M434.1 606.6Q434 604.2 435.6 603.1M431.8 607.8Q434.6 604.4 433 600.5M435.6 603.1Q434.9 600.2 433 600.5M426.4 606.9Q429 608.1 430.6 608.9M427 595.9Q430.9 594 431.3 593.7M431.3 593.7Q430.2 592.7 431.3 593.7M430.6 608.9Q433.3 608 431.8 607.8M431.3 593.7Q433.5 596.2 433 600.5M432.8 594.6Q435.5 599 438.9 602.1M432.8 594.6Q434 594.9 431.3 593.7M438.9 602.1Q438 602.7 435.6 603.1M442.8 612.3Q440.5 612.7 439.7 612.6M442.8 612.3Q443.5 607.8 446.1 603M439.7 612.6Q438.9 608.8 437.5 606.4M437.5 606.4Q441.1 603.2 441.3 603.2M446.1 603Q445.9 603.6 441.3 603.2M430.6 608.9Q431.9 612.4 433.1 614.8M433.1 614.8Q433.2 615.3 433.7 614.9M433.7 614.9Q438.4 613.7 439.7 612.6M434.1 606.6Q434.2 606.7 437.5 606.4M438.9 602.1Q440.8 603 441.3 603.2M383.8 647.3Q388.1 646.1 390.4 646.2M433.7 614.9Q434.7 616.2 436.1 617.8M446.8 621.2Q441.9 618.2 436.1 617.8M378.5 625Q382.5 624.7 386.5 624M378.5 625Q381.3 629.7 382.9 632.7M386.5 624Q387.7 627.4 388.5 628.8M385.8 633.9Q384.2 633.1 382.9 632.7M385.8 633.9Q385.7 633.2 386.9 633.4M388.5 628.8Q386.9 629.1 386.9 633.4M431.8 642.2Q429.6 638.8 429.3 634M431.8 642.2Q425.4 642.8 422.3 641.2M422.3 641.2Q424 638 425.2 636.1M429.3 634Q427.4 634.4 425.2 636.1M434.4 644.5Q432.6 642.3 431.8 642.2M424.8 650.1Q422.9 647.2 420.9 642M420.9 642Q421.9 640.8 422.3 641.2M395.2 616.3Q395.3 616.9 396.5 618.1M395.2 616.3Q393.3 618.2 389.3 618M396.5 618.1Q393.7 618.8 392.1 620.5M389.3 618Q391.6 620.2 392.1 620.5M395.6 612.1Q395.5 614.7 395.2 616.3M385.8 616.9Q384.1 614.6 383.1 613.4M385.8 616.9Q386 618.1 389.3 618M387.9 605Q386.5 608.8 383.1 613.4M377.2 615.6Q378.2 615.8 377.8 615.1M377.2 615.6Q372.9 615.1 368.3 614M377.8 615.1Q375.4 610.6 373.1 604.1M373.1 604.1Q369.3 606.2 366.3 610.6M368.3 614Q368 613.9 366.3 610.6M385.8 616.9Q386.4 620.7 386.5 624M375.9 622.6Q375.2 623.3 378.5 625M375.9 622.6Q376.1 619.9 377.2 615.6M383.1 613.4Q380.7 615.9 377.8 615.1M367.5 626.2Q370.2 626.7 371.3 626.8M371.3 626.8Q374.8 626.3 375.9 622.6M363.7 619.8Q364 616.7 368.3 614M389.2 596.4Q387.9 596 387.6 595.8M373.6 599.5Q374.2 601.3 373.1 604.1M365.9 610.3Q367.2 611 366.3 610.6M421.9 582.2Q422.3 581.9 423.8 580.6M421.9 582.2Q427 586.5 431.8 592M423.8 580.6Q429.2 580.4 434.9 580.5M434.9 580.5Q434.2 585.7 434.9 587.8M431.8 592Q433.5 590.1 434.9 587.8M431.3 593.7Q431.4 594.3 431.8 592M418.8 582.9Q419.8 582 421.9 582.2M416.2 589.2Q416.3 590.3 416.6 593.1M445 576.5Q439.6 578 435.5 579.3M445 576.5Q441.8 572 439.1 567.1M435.5 579.3Q433.3 577.6 431.9 572.1M431.9 572.1Q436.7 569.9 437.7 567.3M437.7 567.3Q436.6 566.9 439.1 567.1M434.9 580.5Q435.7 580 435.5 579.3M439.8 566.1Q440.5 565.3 439.1 567.1M420.2 571.9Q419.5 570.2 419.2 567.9M420.2 571.9Q422 574 425 574.6M425 574.6Q427.2 572.4 430.1 571.3M419.9 567.1Q422.8 567 427.7 566.6M419.9 567.1Q419.1 568.1 419.2 567.9M427.7 566.6Q428.7 569.6 430.1 571.3M415.9 579Q417.2 576.5 420.2 571.9M413 568.4Q416.8 568.5 419.2 567.9M423.8 580.6Q424.9 577.3 425 574.6M431.9 572.1Q431.4 572.3 430.1 571.3M388.6 573.9Q390.6 573.1 391.5 572.8M388.6 573.9Q383.9 572.6 381.6 571.1M381.6 571.1Q379.4 570.9 380 569.2M393.2 565.4Q386.6 564.9 380.6 567M393.2 565.4Q391.8 568.8 392.5 572M380 569.2Q381 568.9 380.6 567M392.5 572Q391.9 572.7 391.5 572.8M393.1 591.5Q395 588.8 394.8 585.3M393.1 591.5Q389.5 583.6 387.9 576.4M394.8 585.3Q394 579.9 391.5 572.8M387.9 576.4Q387.8 574.2 388.6 573.9M378.9 584.7Q381 578 381.6 571.1M378.9 584.7Q383.1 580.9 387.9 576.4M370.9 571.5Q375.6 570 380 569.2M378.9 584.7Q377 584.9 378.7 585.1M380.6 566.5Q380.7 568.3 380.6 567M397.5 574.2Q394.7 574.3 392.5 572M394.8 585.3Q396 583.4 396.3 582.7M405.2 585.3Q405.9 588.8 407.3 591.6M405.2 585.3Q399.4 586 393.1 591.6M407.3 591.6Q401.5 592.4 393 591.8M393.1 591.6Q393.3 590.8 393 591.8M405.7 584.8Q405.5 583.6 405.2 585.3M411.3 596.3Q410.9 593.9 407.3 591.6M393.1 591.5Q392.7 591.8 393.1 591.6M390.5 595.9Q392.2 592.9 393 591.8M401 600.3Q402.2 600.1 403.3 600.7M372.5 630.7Q375.6 631.9 380.8 632.9M372.5 630.7Q373.1 633 370.8 636.6M380.8 632.9Q377.3 634.2 374.7 637.5M370.8 636.6Q371.7 636.3 374.7 637.5M371.3 626.8Q370.6 629.5 372.5 630.7M382.9 632.7Q383 631.9 380.8 632.9M368 638.6Q369.1 636.5 370.8 636.6M381.6 645Q379.4 641.4 374.7 637.5M381.6 645Q383.4 637.9 385.8 633.9M381.6 645.2Q381.3 644.4 381.6 645M446.8 621.2Q446.2 622.5 444.3 625.2M444.3 625.2Q446 628.9 446.6 632.2M442.2 643.7Q442.4 642.8 442.2 639.7M446.6 632.2Q444.7 636.1 442.2 639.7M420.9 642Q420.5 641.3 417.1 641.2M425.2 636.1Q422.6 634.2 417.8 629.9M417.8 629.9Q418.4 636.1 417.1 641.2M405.5 642.9Q406.1 643.7 407.9 641.2M407.9 641.2Q411.4 642 411.9 643.5M411.9 643.5Q416.1 642.2 417.1 641.2M416.9 612.2Q415.1 614.7 415.5 617.4M433.1 614.8Q431.2 618.2 429 619.1M429 619.1Q424.6 621.7 419.5 622.4M419.5 622.4Q418.5 622.1 419.2 622.4M415.5 617.4Q416.8 620.6 419.2 622.4M417.8 629.9Q417.3 629.2 417.2 627.2M407.9 641.2Q405.8 636.5 404.8 634M404.8 634Q412.2 630 417.2 627.2M399.3 644.6Q397.4 646.2 397.2 646.4M399.3 644.6Q398 641.1 397.4 637.7M397.2 646.4Q394.3 644.2 393.2 644.7M393.2 644.7Q393.3 641.8 393.3 638.4M393.3 638.4Q395.4 637.6 397.4 637.7M397.7 648.4Q396.5 646.7 397.2 646.4M405.5 642.9Q402.6 643.8 399.3 644.6M404.2 633.7Q405.2 633.2 404.8 634M404.2 633.7Q401.4 634.6 397.4 637.7M390.4 646.2Q390.2 644.7 393.2 644.7M387.3 633.6Q388.2 635.1 386.9 633.4M387.3 633.6Q389.7 636.6 393.3 638.4M387.3 633.6Q393.4 631.5 402.4 630.6M402.4 630.6Q402.8 630.7 404.2 633.7M436.1 617.8Q435.6 619.4 438.2 624.7M444.3 625.2Q443.2 626.6 441 625.6M438.2 624.7Q439.9 623.8 441 625.6M429 619.1Q432.2 622.3 434.2 625.7M438.2 624.7Q438.7 625.9 434.2 625.7M429.7 633.2Q428.4 632.6 429.3 630.8M429.7 633.2Q434.1 634.8 437.6 634.5M429.3 630.8Q429.8 629.3 433.2 627.7M433.2 627.7Q434.2 630 437.6 631.6M437.6 634.5Q438.2 631.2 437.6 631.6M429.3 634Q430 634.5 429.7 633.2M419.5 622.4Q424.1 625.8 429.3 630.8M419.2 622.4Q416.6 625 417.2 627.2M442.2 639.7Q439.2 636.5 437.6 634.5M434.2 625.7Q434 626.9 433.2 627.7M441 625.6Q438.9 629.4 437.6 631.6M388.5 628.8Q391.2 627.8 391.3 627.1M402.4 630.6Q402.6 626.7 401 625.7M401 625.7Q395.9 627.5 391.3 627.1M392.1 620.5Q393 620.2 392.5 621.2M392.5 621.2Q391.9 623.9 391.3 627.1M399.1 622.7Q400.2 623.5 401.2 624.9M399.1 622.7Q397.5 619.8 397.2 618.6M401.2 624.9Q405.6 621.5 408.9 617.4M397.2 618.6Q398.8 616.8 401.6 613.4M401.6 613.4Q403.9 615.2 406.6 615.2M406.6 615.2Q408.9 615 408.9 617.4M401 625.7Q399.6 625.3 401.2 624.9M392.5 621.2Q394.5 621.7 399.1 622.7M396.5 618.1Q395.9 616.7 397.2 618.6M415.5 617.4Q412.7 617.4 408.9 617.4M400.7 612.6Q400.6 613.5 401.6 613.4M405.4 605.3Q407.6 609.3 406.6 615.2" fill="none" stroke-linecap="round"/><use href="#net1" stroke="#1fb82a" stroke-width="2.2" opacity="0.3" filter="url(#bl1)"/><use href="#net1" stroke="#2fd03a" stroke-width="1" opacity="0.8" filter="url(#bl0)" stroke-dasharray="6 0.8"/><path d="M439.3 580.6h0M368.6 645.1h0M380.7 579.2h0M416.1 596.1h0M434.1 587.5h0M439.4 594.1h0M412.3 640.1h0M418.7 639.5h0M420.4 573.7h0M433.5 614.4h0M390.3 584.4h0M431.1 613.9h0M437.8 628.2h0M439.6 612.6h0" stroke="#4ce84c" stroke-width="1.6" stroke-linecap="round" fill="none" filter="url(#bl0)"/></g><rect x="366.8" y="648" width="75.7" height="74.7" fill="#021202" filter="url(#fc2)"/><g clip-path="url(#m21)"><path id="net2" d="M437.1 651.8Q442.8 651.7 444.8 652.8M390.3 692Q389.4 691.5 390.1 692.1M390.3 692Q396 693.1 400.9 693.3M390.1 692.1Q389.3 698.8 388 703.6M388 703.6Q391 704.6 391.6 704.1M391.6 704.1Q394.6 699.5 400.5 695.1M400.9 693.3Q402.1 694.7 400.5 695.1M437.1 651.8Q434.6 651.8 433.5 653.9M433.5 653.9Q435 657.3 438.5 658.4M447.4 657.4Q441.8 657.3 438.5 658.4M395.6 643.3Q397.2 644.2 397.1 644.1M380.4 689.8Q384.4 690.4 390.1 692.1M380.4 689.8Q380.5 689.7 380.2 688.6M391.1 685.8Q388.2 684.5 384.9 684.2M391.1 685.8Q390.9 689 390.3 692M384.9 684.2Q381.1 685.7 380.2 688.6M363.9 686.8Q364 690.5 365.2 693.1M366.3 683.2Q365.3 683.9 363.9 686.8M366.3 683.2Q368.4 684 368 682.7M368 682.7Q368.9 686.3 369.1 691.2M365.2 693.1Q366.6 692.6 365.9 693.4M365.9 693.4Q368.7 694.4 369.1 691.2M368.3 682.4Q371 682.6 374 682.6M368.3 682.4Q367.2 680.3 368 682.7M379.2 693.3Q380.8 691.2 380.4 689.8M379.2 693.3Q374.7 691.9 370.3 692.2M374 682.6Q376.7 686 380.2 688.6M370.3 692.2Q369.1 691.8 369.1 691.2M379.2 693.3Q379.8 694.2 379.2 695.5M387.5 703.7Q386.3 703.3 386.2 703.1M387.5 703.7Q388 703 388 703.6M379.2 695.5Q383.5 698.7 386.2 703.1M385.8 726.3Q389.8 722.1 391.3 720.1M380.8 724.5Q383 724.5 385.8 726.3M381 716.6Q384 711.5 385.7 708.8M381 716.6Q380.7 717.8 380.9 717.3M380.9 717.3Q384.6 717.2 390.3 717.9M385.7 708.8Q389.5 712.8 391.2 715.2M391.2 715.2Q389.2 715.9 390.3 717.9M387.5 703.7Q386.9 706.1 385.7 708.8M391.6 704.1Q393.2 706.3 396.1 708.9M396.1 708.9Q392.7 712.2 391.2 715.2M445.8 679.1Q447.3 678.1 447.1 677M413.7 693.9Q416.5 692.8 416.9 688.9M413.7 693.9Q418.2 695.1 423 697.2M416.9 688.9Q419.6 692.7 423 696.1M423 697.2Q421.6 696.8 423 696.1M444.7 701.9Q442.1 706 441.6 710.9M445.1 716.3Q443.7 713.4 441.6 710.9M445.1 716.3Q444.2 718.6 441.8 722.6M441.8 722.6Q439.6 722 438.6 723.6M428 702.2Q435.5 702.4 443.7 701.1M428 702.2Q433.5 697.1 437.4 692.4M443.7 701.1Q440.5 697.8 440.3 692.9M437.4 692.4Q438.2 692.4 440.3 692.9M446.9 663.6Q446.9 664.5 445.8 664.7M447.4 667.4Q447.3 665.9 445.9 666M445.9 666Q445.4 665.5 445.8 664.7M447.4 657.4Q445.5 661.1 446.9 663.6M440.2 662Q439.7 659.6 438.5 658.4M440.2 662Q442.8 663.1 445.8 664.7M446.9 676.8Q446.9 677.8 447.1 677M446.9 676.8Q447.4 671.8 447.4 667.4M421 649Q415.5 650.9 412.2 651.3M408.5 645Q411.6 649.2 411.2 651.5M411.2 651.5Q412.9 653.6 412.2 651.3M433.5 653.9Q432.8 654 432 653.8M436.8 669.9Q439.4 667 440.2 662M436.8 669.9Q434.9 668.3 433.5 669M433.5 669Q433.3 660.3 432 653.8M432 653.8Q430.4 653.7 429.2 652.7M421 649Q425.2 650.5 428.6 652.9M429.2 652.7Q428.4 654 428.6 652.9M364.5 664.4Q367.6 666.8 369.4 670.7M366.5 673.9Q367.1 671.1 369.4 670.7M366 660.6Q364.5 664.2 364.5 664.4M366 660.6Q365.8 658.7 364.7 656.8M368.3 682.4Q367.7 676.4 366.5 673.9M365.1 646.1Q364.5 648 366.2 648.2M366.6 645Q365.2 645.4 365.1 646.1M365.9 702Q368.8 700.8 370.3 699.1M366.1 694.9Q368.4 695 369.6 697.3M369.6 697.3Q370 699 370.3 699.1M368.5 708.9Q366.7 705.6 365.9 702M365.9 693.4Q363.9 693 366.1 694.9M370.3 692.2Q369.2 694.1 369.6 697.3M391.4 719Q393.1 717.2 390.3 717.9M391.4 719Q391 719.7 391.3 720.1M380.8 724.5Q379.1 723.3 378.8 720.9M380.9 717.3Q380.9 718.7 379.1 719.7M379.1 719.7Q378.9 718.9 378.8 720.9M378.8 720.9Q373.7 723.6 368.8 725.2M367.2 725Q369.1 725.6 368.8 725.2M379.2 695.5Q377.4 696.5 376.5 697.7M370.3 699.1Q371.2 699.3 373 699.4M373 699.4Q374.3 699.7 376.5 697.7M436.8 669.9Q437.2 670.4 439.2 672.3M445.9 666Q441.8 671.3 440.5 672.5M439.2 672.3Q439.6 673.4 440.5 672.5M446.9 676.8Q445 674.8 442.8 674.2M440.5 672.5Q443.2 673.6 442.8 674.2M444.7 701.9Q444.6 701.2 443.7 701.1M440.3 692.9Q442 691.6 441.3 691.2M446.7 688.3Q446.1 688.6 441.3 691.2M445.8 679.1Q444.5 680.3 442.9 682.2M446.7 688.3Q445.2 683.9 442.9 682.2M431.5 720.4Q432.6 720.1 435.1 721.4M431.5 720.4Q430.5 714.5 434.5 711.1M435.1 721.4Q437.4 716 438.8 711.4M434.5 711.1Q436.6 710.9 438.8 711.4M425 705.4Q424.3 710.4 423.1 714.2M425 705.4Q429.5 707.8 434.5 711.1M426.7 721.4Q426.5 717.8 423.1 714.2M426.7 721.4Q428 720.4 431.5 720.4M438.6 723.6Q436.5 722.1 435.1 721.4M441.6 710.9Q439.5 712.1 438.8 711.4M425.8 702.8Q427.7 702 428 702.2M425.8 702.8Q426.1 704.4 424.9 705.2M424.9 705.2Q423.7 704.2 425 705.4M420.5 666.3Q422.3 661.8 422.9 660.3M420.5 666.3Q418.6 665.9 415.2 663.6M422.9 660.3Q415.9 656.4 410.3 653.8M415.2 663.6Q411.4 659.6 406.9 657.6M410.3 653.8Q406.9 654.5 406.9 657.6M433.5 669Q429.8 669.7 425.3 671.6M425.3 671.6Q423.6 667.8 420.5 666.5M420.5 666.5Q420.9 666.2 420.5 666.3M428.6 652.9Q425.4 657.1 422.9 660.3M411.2 651.5Q412.3 652.5 410.3 653.8M404.5 658.5Q405.5 663.6 406.6 667.1M404.5 658.5Q405.2 658.2 406.9 657.6M406.6 667.1Q410.9 665.6 415.2 663.6M389 654.1Q395.6 657.5 399.1 661.1M389 654.1Q394.5 653.1 398.8 650.3M399.3 650.7Q399.1 649.5 398.8 650.3M399.3 650.7Q402.3 654.2 404 658.4M404 658.4Q400 660.1 399.1 661.1M408.5 645Q404.7 648.4 399.3 650.7M397.1 644.1Q398.2 646.3 398.8 650.3M404.5 658.5Q403.2 659.4 404 658.4M396.5 664.9Q399.4 661.5 399.1 661.1M396.5 664.9Q395 664.7 391.6 666.9M391.6 666.9Q390.5 664.4 387.1 660M389 654.1Q386.8 652.4 387.8 654M387.8 654Q386.1 655.5 387.1 660M387.8 654Q386.2 653.7 385.3 651.2M411.3 694.5Q412.7 696.4 411.7 698.9M411.3 694.5Q411 692.7 413.7 693.9M425.8 702.8Q425.6 700.8 425.4 701.2M425.4 701.2Q424 699.7 423 697.2M424.9 705.2Q423.1 705.9 422 705.2M411.7 698.9Q416 702.1 422 705.2M426.7 721.4Q425.8 723.1 424.4 727.5M423.1 714.2Q420.4 715.6 417.8 716.1M417.8 716.1Q416.4 722.1 414.3 723M424.4 727.5Q419.8 724.8 414.3 723M410.9 726.6Q410.1 724.8 411.2 725.1M414.3 723Q414.9 722.3 411.2 723.7M411.2 725.1Q413.7 724.1 411.2 723.7M397.5 718.9Q399.6 714.6 402.1 713.3M397.5 718.9Q397.4 723.3 398.6 725.7M402.1 713.3Q404.6 717.5 406.9 722.1M398.6 725.7Q400.5 726.6 403.8 724.5M403.8 724.5Q405.7 723.5 406.9 722.1M396.1 708.9Q397.5 711 402.3 711.6M391.4 719Q395.5 719.7 397.5 718.9M402.3 711.6Q400.8 711.8 402.1 713.3M410.4 723.1Q408.5 721.4 406.9 722.1M410.4 723.1Q410.9 721.4 411.2 723.7M362.1 716.9Q365.9 717.4 370.2 715.9M362.1 716.9Q364.9 719.5 367.1 724.9M367.1 724.9Q369.1 719.4 370.2 715.9M367.2 725Q368.1 725.2 367.1 724.9M372.1 714.8Q372.6 714.4 370.2 715.9M372.1 714.8Q375.9 719.1 379.1 719.7M373 699.4Q373.3 703.3 373.5 706.7M376.5 697.7Q376.4 701.8 377.1 706.3M373.5 706.7Q374 705.8 377.1 706.3M386.2 703.1Q381.8 705.8 377.5 706.4M381 716.6Q379.8 715.2 380.1 715M380.1 715Q379.2 711.1 377.5 706.4M377.5 706.4Q378.2 706.4 377.1 706.3M391.1 685.8Q394.4 683.7 396.9 682.6M384.9 684.2Q385.4 682.9 385.7 680.2M385.7 680.2Q388.2 679.2 391.1 677M396.9 682.6Q394.3 680.3 391.1 677M400.9 693.3Q402.3 693.2 401.5 692.4M401.5 692.4Q400.6 687.8 399.8 683.3M396.9 682.6Q398.3 682.7 399.8 683.3M439.1 684.1Q438.9 685 439.8 684.1M439.1 684.1Q438.4 682 434.5 678.3M439.8 684.1Q440.4 683 441 682.8M441 682.8Q440.4 682 439.6 680.5M439.6 680.5Q438.2 679.1 436.2 677.1M434.5 678.3Q434.3 677.5 436.2 677.1M441.3 691.2Q440.6 687.4 439.8 684.1M442.9 682.2Q441.9 682.4 441 682.8M442.8 674.2Q439.9 676.1 439.6 680.5M439.2 672.3Q437.1 675.2 436.2 677.1M425.3 671.6Q427 673.6 425.6 674.8M425.6 674.8Q428.1 676.5 433 678.9M433 678.9Q434.7 677.2 434.5 678.3M366 660.6Q370 663 371.3 663.8M371.3 663.8Q371.9 664.2 373 666M373 666Q372.7 666.1 373.6 667.3M369.4 670.7Q371.6 670.2 373.6 668.5M373.6 668.5Q375.3 668.5 373.6 667.3M373 666Q373.5 660 376.6 655.2M376.6 655.2Q378 659 379.2 662.1M373.6 667.3Q376.6 665.7 379.2 662.1M385.3 651.2Q383.3 652.4 379.3 652.4M387.1 660Q384.5 662.3 382 662.8M376.6 655.2Q377.2 653.2 376.5 654.8M379.2 662.1Q380.8 661.9 382 662.8M376.5 654.8Q379.3 654.2 379.3 652.4M371.3 663.8Q372.6 659.9 374 655M376.5 654.8Q376.2 653.7 374 655M379.3 652.4Q377.9 647.5 374.1 644.4M404.9 709.9Q408.8 712.1 411.7 714.5M404.9 709.9Q406.3 708.5 406.6 707M406.6 707Q406.7 707.6 406.7 707M406.7 707Q409.1 707.6 415.3 707.2M415.3 707.2Q413.3 710.3 414 714.5M414 714.5Q413.3 713.1 411.7 714.5M402.3 711.6Q402.5 711.1 404.9 709.9M410.4 723.1Q409.8 719.1 411.7 714.5M400.5 695.1Q404.2 700.6 406.6 707M411.3 694.5Q411.2 691.8 408.3 692.7M401.5 692.4Q404 694.2 408.3 692.7M411.7 698.9Q408.3 702.5 406.7 707M422 705.2Q418.2 705.8 415.3 707.2M417.8 716.1Q417.4 715.6 414 714.5M378.1 713.2Q375 710.7 372.9 707.3M378.1 713.2Q374.2 712.2 369.7 709.2M372.9 707.3Q370.6 709.4 369.6 709.1M369.7 709.2Q369 710.2 369.6 709.1M373.5 706.7Q373.6 707.6 372.9 707.3M380.1 715Q378.7 715 378.1 713.2M372.1 714.8Q371.5 713.3 369.7 709.2M368.5 708.9Q368.1 708.5 369.6 709.1M412.4 684.1Q408.5 684 403.4 681.6M412.4 684.1Q410.6 687.2 408.3 692.7M399.8 683.3Q400.8 682.8 400.7 682.3M403.4 681.6Q403.1 682.9 400.7 682.3M414.9 682.9Q412.8 678.4 410.8 674.6M414.9 682.9Q413.5 683.4 412.4 684.1M403.4 681.6Q408.6 678.1 410.8 674.6M424.5 677.1Q424.8 678.4 423.1 680.9M424.5 677.1Q420.4 677.6 417.2 676.6M423.1 680.9Q421.5 681.1 419.7 684M417.2 676.6Q416.5 677 417.1 676.7M417.1 676.7Q417.5 680.9 415.6 683.1M419.7 684Q419 684.3 418.5 684.2M418.5 684.2Q416.8 683.4 415.6 683.1M420.5 666.5Q421.7 666.7 419.8 667M425.6 674.8Q425 675.8 424.5 677.1M419.8 667Q418.5 672 417.2 676.6M419.8 667Q414.7 669.4 411 672.7M411 672.7Q411.1 673.6 411 673.1M411 673.1Q414.2 676.6 417.1 676.7M414.9 682.9Q415.1 681.2 415.6 683.1M410.8 674.6Q409.4 675.6 411 673.1M416.9 688.9Q416.1 687.5 418.5 684.2M423 696.1Q422.3 694.3 423.6 689.9M423.6 689.9Q421.5 686.3 419.7 684M428.4 684.5Q426.9 685.3 427.3 688.9M428.4 684.5Q431.8 683.8 432.7 684.3M433.5 685.3Q433 687.3 433.6 689.9M433.5 685.3Q431.6 687.6 432.7 684.3M427.3 688.9Q429.7 688.2 431.2 690.9M431.2 690.9Q431.9 690 433.6 689.9M423.6 689.9Q424.2 689.9 427.3 688.9M423.1 680.9Q426.5 683.8 428.4 684.5M433 678.9Q431.9 681.4 432.7 684.3M437.4 692.4Q434.8 690 433.6 689.9M439.1 684.1Q435.5 685.2 433.5 685.3M425.4 701.2Q428 696.2 431.2 690.9M378.2 672Q380.7 669.8 382.6 667.3M378.2 672Q378 673.9 379.3 674.4M379.3 674.4Q379.4 675.4 379.3 674.5M379.3 674.5Q384.9 673.9 390.6 671.3M382.6 667.3Q386.8 668.1 390.7 668.8M390.6 671.3Q391.7 669.3 390.7 668.8M373.6 668.5Q377.2 670 378.2 672M382 662.8Q382.5 664.9 382.6 667.3M374 682.6Q376.8 677.6 379.3 674.4M385.7 680.2Q384.4 678.3 379.3 674.5M391.1 677Q389.6 675.5 391 672.2M391 672.2Q390.2 671.9 390.6 671.3M391.6 666.9Q391.6 668.5 390.7 668.8M370 647.4Q371.8 647 372 646.5M370 647.4Q368.4 648.9 368.4 650M372 646.5Q371.4 650.7 372.2 654.6M368.4 650Q367.9 652.1 369 654.6M369 654.6Q372.8 653.6 372.2 654.6M366.6 645Q367.6 645.2 370 647.4M374.1 644.4Q372.4 645.3 372 646.5M366.2 648.2Q367 649.2 368.4 650M374 655Q374.6 654.7 372.2 654.6M364.7 656.8Q367.7 655.7 369 654.6M399.6 673.5Q399.3 679.1 400.7 681.3M399.6 673.5Q400.8 671.8 401.3 670.7M400.7 681.3Q402.9 677 406.8 670.2M401.3 670.7Q404.6 671.1 406.7 670.1M406.7 670.1Q407.2 670.3 406.8 670.2M391 672.2Q395 673.8 399.6 673.5M400.7 682.3Q399.8 680.6 400.7 681.3M396.5 664.9Q398.5 668.6 401.3 670.7M411 672.7Q409.6 671.5 406.8 670.2M406.6 667.1Q407.7 668.9 406.7 670.1" fill="none" stroke-linecap="round"/><use href="#net2" stroke="#1fb82a" stroke-width="2.2" opacity="0.3" filter="url(#bl1)"/><use href="#net2" stroke="#2fd03a" stroke-width="1" opacity="0.8" filter="url(#bl0)" stroke-dasharray="6 0.8"/><path d="M436.8 718.9h0M434.4 654.2h0M411.6 679.7h0M406.9 657.7h0M381.3 681.2h0M383.5 682h0M368.7 654.4h0M420.5 679.5h0M405.6 702.8h0M394 652.3h0M426.1 692h0M416.6 694.4h0M440.3 675.1h0M424.3 675.5h0" stroke="#4ce84c" stroke-width="1.6" stroke-linecap="round" fill="none" filter="url(#bl0)"/></g><rect x="366.8" y="725.2" width="75.7" height="75.1" fill="#021202" filter="url(#fc3)"/><g clip-path="url(#m31)"><path id="net3" d="M367.6 742.9Q373.6 746.2 378.5 749.6M377.4 758.4Q373.8 762.3 367.7 764.5M363.8 760.1Q365.4 760.9 367.7 764.5M438.6 726.8Q439.3 723.9 436.5 725M442.3 780.7Q438.7 785 439.5 789.8M362.5 777.2Q363.3 775 365.6 768.7M363.1 768.1Q364.5 766.7 365.6 768.7M367.4 792.6Q367.5 787.7 368.3 781.5M368.3 781.5Q364.1 780.8 362.5 777.2M366.5 768.1Q366.3 768.2 365.6 768.7M368.3 781.5Q368.5 779.6 370.3 780.4M382.6 761Q381.8 764.7 381.2 772.6M370.9 771.2Q375.6 771.9 381.2 772.6M405.5 765.9Q404 765.9 405.2 765.5M405.8 770.7Q401.5 771.7 403.3 773M393.6 770.8Q392.7 767.4 391.8 761.5M405.2 765.5Q399.5 762.1 395.5 760.8M395.5 760.8Q393.9 760.3 391.8 761.5M429.9 726.6Q433.3 725.2 436.1 725M436.5 725Q435.4 724.6 436.1 725M439.2 730.9Q442.3 734 445.7 736.6M446.1 736.5Q445.5 737.5 445.7 736.6M443.9 769.7Q444.3 773.7 441.9 778M436.7 770.2Q433.4 771.5 431.7 773.6M442.3 780.7Q442.3 780.1 441.9 778M434.5 787.4Q436 790.3 439.5 789.8M431.7 773.6Q430.5 774.3 427.9 774.7M427.9 774.7Q427.1 774.7 427 776.3M406.4 802Q411.4 800.6 415.3 800.1M415.9 802.3Q415.7 800.4 415.3 800.1M393.6 770.8Q391.4 774.5 387.2 777.9M402.5 774.8Q399.6 776.2 395.9 781M395.9 781Q392.1 779.1 387.2 777.9M370.3 780.4Q376.8 779.7 383 778.5M383 778.5Q384.2 777.9 383.2 778.3M415.3 800Q409.8 798.6 401.5 799M415.3 799.4Q415.2 799.3 414.6 798.2M414.6 798.2Q412.3 797.1 407.2 794.5M401.5 799Q404.2 796.1 407.2 794.5M406.4 802Q402.4 801.1 400.9 799.5M415.3 800.1Q417.1 799.9 415.3 800M446.6 801.6Q446.4 800.9 445.7 799.2M445.7 799.2Q445.2 796.2 443.3 793.5M443.3 793.5Q441.1 791.6 440 790.7M423.1 793.9Q424 794.2 425 796.9M415.9 802.3Q418.6 803.2 421.4 803.6M425 796.9Q424.3 800.1 421.4 803.6M414.6 780.1Q411.7 780.6 410.6 778.6M414.6 780.1Q416.9 777.4 418.9 774.2M416.8 772.5Q418.4 772 418.9 774.2M416.8 772.5Q412.4 773 408 771.9M408 771.9Q409.3 774.6 410.6 778.6M408.1 786.5Q409.5 784.7 410.6 778.6M408.1 786.5Q412.6 784.8 415.8 783.6M415.8 783.6Q413.3 781 414.6 780.1M419.5 784.9Q422.9 782.4 425.9 776.6M425.9 776.6Q422.2 775.7 418.9 774.2M405.5 765.9Q411 763.3 414.9 761.4M405.8 770.7Q406.3 771.1 408 771.9M414.9 761.4Q414.6 761.9 419 762.9M402.5 774.8Q405.1 779 406.9 786.6M408.1 786.5Q407.5 787.1 407.7 786.8M388.9 734.7Q386.6 730 384.1 724.3M388.9 734.7Q393.5 731.3 396.4 731.2M396.4 731.2Q396.5 729.6 398.7 729.7M398.7 729.7Q396.5 725 396.2 720.6M406.6 753.4Q410.6 754.1 414 755.6M406.4 753Q410.8 750.2 414.7 747.9M414 755.6Q416.3 754.2 416.4 752.9M416.4 752.9Q416.6 750.1 414.7 747.9M401.6 748.3Q405.1 751.4 406.4 753M414.9 761.4Q414.1 758.1 414 755.6M421.9 753.2Q423 752 423.7 755.5M421.9 753.2Q419.6 753.9 416.4 752.9M423.7 755.5Q420.6 759.3 419.2 762.9M414.8 746.8Q408.3 746.4 403.2 746.3M414.8 746.8Q415.6 743.9 416.5 743.7M416.5 743.7Q415.7 742.3 416.2 742.7M412.4 740.3Q408.3 743.4 404.7 743.8M404.7 743.8Q402.9 744.9 403.3 746.1M403.3 746.1Q403.1 744.5 403.2 746.3M410.3 731.9Q411.8 736.8 412.4 740.3M396.4 731.2Q400.2 739 403.3 746.1M398.7 729.7Q400.5 730.1 403.4 729.8M388.9 734.7Q389.4 735.4 387.6 737.2M393.9 745.7Q391.1 743.9 387.7 738.6M404.5 727.2Q407.2 725.2 412.9 723.3M403.4 729.8Q403.7 727.4 404.5 727.2M411.6 731.4Q410.9 731.2 410.3 731.9M416.1 725.2Q419 724.7 418 724.1M436.7 770.2Q434.7 766.4 434.3 762.9M437.4 759Q435.8 761.3 434.3 762.9M418.7 724.8Q422.2 728.3 426.1 731.2M416.2 742.7Q418.4 739 421.5 735.4M424.8 746.3Q423.2 741.5 425 739.7M425 739.7Q420.2 742 419.1 744.7M423 747.1Q420.9 744.7 419.1 744.7M421.9 753.2Q422 750.5 423 747.1M423.7 755.5Q424.7 758.3 427.2 755.9M425.9 746.5Q429.5 749.4 433.1 753.4M425.9 746.5Q427.1 745.5 424.8 746.3M416.5 743.7Q418.5 744.4 419.1 744.7M406.9 786.6Q402.5 785.7 401.4 787.1M395.9 781Q397.4 781.9 397 784.2M401.4 787.1Q399.8 786.3 397 784.2M413 790.2Q413.9 790.9 414.6 794.2M413 790.2Q416.2 788.1 419.9 787.6M414.6 794.2Q419 791.4 420.7 789M419.9 787.6Q422.1 787.9 420.7 789M414.6 798.2Q415.7 795.7 414.6 794.2M419.5 784.9Q419.4 786.5 419.9 787.6M423.5 791.7Q422.5 790.2 420.7 789M423.5 791.7Q430.2 789.5 434.5 787.4M425.9 776.6Q426.3 776.3 427 776.3M435.4 799.8Q432.5 799.3 431.3 800.9M425 796.9Q429.3 797.9 431.3 800.9M363.4 720.4Q367.1 722.5 370.4 721.7M370.4 721.7Q370.4 723.4 370.3 723M389.2 751.1Q389.1 749 393.6 746.4M389.2 751.1Q386.9 757.9 383.4 760.9M383.4 760.9Q388.2 761 390.3 761.1M393.9 745.7Q395.1 747.4 393.6 746.4M387.7 738.6Q384.2 743.9 379.9 748M382.6 761Q382.3 761 383.4 760.9M378.5 749.6Q379.4 749 379.9 748M391.8 761.5Q389.8 761.9 390.3 761.1M433.5 763.2Q430 765.7 427.3 768.6M427.6 760.5Q425.8 763.8 425.4 765.9M427.2 755.9Q428.1 759.2 427.6 760.5M437.4 759Q437 755.9 435.9 753.3M434.3 762.9Q434.6 763.3 433.5 763.2M427.9 774.7Q426.1 770.5 427.3 768.6M419.2 762.9Q422.2 763 425.4 765.9M434.1 746.8Q435.3 744.1 438 740.7M438 740.7Q437.2 739.5 434 737.5M434 737.5Q433.1 738.6 431.1 738M426 735Q427.1 734.9 431.1 738M425.9 746.5Q429 744.7 430.9 742.7M439.2 730.9Q438.3 732.8 434 737.5M445.2 737.4Q445.1 737.3 445.7 736.6M438.5 740.8Q438.2 742.2 438 740.7M435.9 753.3Q437 755.7 436 753.2M434.1 746.8Q434.6 748.5 435.6 751.5M445.2 755.2Q440.7 753.9 436.5 752.9M438.5 740.8Q437.9 740.9 438.9 741.6M446 753.5Q444.3 751.1 442.4 748.4M444.7 747.1Q444 747.5 443.1 747.8M445.2 755.2Q444.5 755.6 446 753.5M436.5 752.9Q440.9 748.4 442.4 748.4M445.2 737.4Q444.9 742.4 444.7 747.1M438.9 741.6Q438.9 743.3 443.1 747.8M382.8 784Q377.5 788.9 370.5 794.6M397 784.2Q395.9 786.6 393.1 789.3M393.1 789.3Q396.6 791.9 398.5 796.5M382.8 784Q383.4 787.6 386.9 790.3M393.1 789.3Q389 789.6 386.9 790.3M392.1 801.8Q394.4 802.3 397.5 801.6M397.5 801.6Q398.5 801.3 398.9 799.9M398.9 799.9Q397.8 797.6 398.5 796.5M381.3 723.7Q380.2 722.6 379.4 722.9M381.3 723.7Q377 728.1 373.9 734.5M379.4 722.9Q376.9 725 373.6 727.8M373.6 727.8Q372.4 730.1 372.4 733.8M372.4 733.8Q373.5 734.7 372.8 734.4M372.8 734.4Q372.9 734.6 373.9 734.5M384.1 724.3Q382.4 724.7 381.3 723.7M370.3 723Q371.9 723.2 373.6 727.8M365.9 729.1Q369.8 732.5 372.4 733.8M388.1 795.6Q387.4 793.2 386.8 792M388.1 795.6Q380.3 800.1 374 802.7M374 802.7Q374.2 801.3 373.2 799.5M386.9 790.3Q386.4 790.1 386.8 792M370.5 794.6Q373.1 798.9 373.2 799.5" fill="none" stroke-linecap="round"/><use href="#net3" stroke="#1fb82a" stroke-width="2" opacity="0.1" filter="url(#bl1)"/><use href="#net3" stroke="#2fd03a" stroke-width="0.9" opacity="0.3" filter="url(#bl0)" stroke-dasharray="3 1.8"/><path d="M420.7 788.3h0M380.6 800.2h0M381.5 775.6h0M373.7 782.1h0M378.3 778.3h0M421.6 782.7h0M400.2 790.2h0M441.6 733.9h0M405.9 797.2h0M422.8 758.6h0M389.9 796.8h0M373.2 782.3h0M430.6 737h0M391.5 748.1h0" stroke="#4ce84c" stroke-width="1.6" stroke-linecap="round" fill="none" filter="url(#bl0)"/></g><rect x="522.3" y="492.5" width="76.4" height="75.3" fill="#603090" filter="url(#fm0)"/><g clip-path="url(#m03)"><use href="#net0" transform="translate(155.5 0)" stroke="#74e684" stroke-width="0.8" opacity="0.25" stroke-dasharray="2.2 1.5" filter="url(#bl0)"/></g><rect x="522.3" y="570.1" width="76.4" height="75.1" fill="#603090" filter="url(#fm1)"/><g clip-path="url(#m13)"><use href="#net1" transform="translate(155.5 0)" stroke="#74e684" stroke-width="0.8" opacity="0.5" stroke-dasharray="2.2 1.5" filter="url(#bl0)"/></g><rect x="522.3" y="648" width="76.4" height="74.7" fill="#603090" filter="url(#fm2)"/><g clip-path="url(#m23)"><use href="#net2" transform="translate(155.5 0)" stroke="#74e684" stroke-width="0.8" opacity="0.5" stroke-dasharray="2.2 1.5" filter="url(#bl0)"/></g><rect x="522.3" y="725.2" width="76.4" height="75.1" fill="#603090" filter="url(#fm3)"/><g clip-path="url(#m33)"><use href="#net3" transform="translate(155.5 0)" stroke="#74e684" stroke-width="0.8" opacity="0.3" stroke-dasharray="2.2 1.5" filter="url(#bl0)"/></g><rect x="601.9" y="492.5" width="76.2" height="75.3" fill="#2c0838"/><g clip-path="url(#m04)"><g filter="url(#bl2)"><ellipse cx="614" cy="505" rx="13" ry="10" fill="#3010b0" opacity="0.55"/><ellipse cx="614" cy="530" rx="13" ry="10" fill="#4a10c0" opacity="0.55"/><ellipse cx="614" cy="555" rx="13" ry="10" fill="#3010b0" opacity="0.55"/><ellipse cx="640" cy="505" rx="13" ry="10" fill="#6a10b8" opacity="0.55"/><ellipse cx="640" cy="530" rx="13" ry="10" fill="#6a10b8" opacity="0.55"/><ellipse cx="640" cy="555" rx="13" ry="10" fill="#4a10c0" opacity="0.55"/><ellipse cx="665" cy="505" rx="13" ry="10" fill="#3010b0" opacity="0.55"/><ellipse cx="665" cy="530" rx="13" ry="10" fill="#3010b0" opacity="0.55"/><ellipse cx="665" cy="555" rx="13" ry="10" fill="#4a10c0" opacity="0.55"/><ellipse cx="672" cy="546" rx="7.4" ry="5.3" fill="#9a12d8" transform="rotate(70 672 546)"/><ellipse cx="637" cy="566" rx="6.6" ry="4.4" fill="#e010c8" transform="rotate(105 637 566)"/><ellipse cx="651" cy="566" rx="7.5" ry="5.4" fill="#8014e0" transform="rotate(115 651 566)"/><ellipse cx="657" cy="533" rx="7.8" ry="4.4" fill="#b010d0" transform="rotate(170 657 533)"/><ellipse cx="669" cy="504" rx="8.2" ry="5.5" fill="#3a14e8" transform="rotate(75 669 504)"/><ellipse cx="675" cy="536" rx="7.6" ry="4.7" fill="#c812c0" transform="rotate(10 675 536)"/><ellipse cx="603" cy="561" rx="9.2" ry="5.5" fill="#9a12d8" transform="rotate(140 603 561)"/><ellipse cx="620" cy="540" rx="7" ry="5.5" fill="#3018d0" transform="rotate(10 620 540)"/><ellipse cx="662" cy="566" rx="9.1" ry="5.3" fill="#f828a8" transform="rotate(15 662 566)"/><ellipse cx="639" cy="498" rx="8.2" ry="5.6" fill="#8014e0" transform="rotate(45 639 498)"/><ellipse cx="622" cy="500" rx="6.4" ry="5.4" fill="#3a14e8" transform="rotate(85 622 500)"/><ellipse cx="673" cy="518" rx="8.3" ry="6" fill="#e010c8" transform="rotate(140 673 518)"/><ellipse cx="667" cy="559" rx="6.6" ry="5.5" fill="#e010c8" transform="rotate(130 667 559)"/><ellipse cx="616" cy="552" rx="6.9" ry="4.6" fill="#f018b0" transform="rotate(170 616 552)"/><ellipse cx="655" cy="496" rx="8.4" ry="5.4" fill="#4a1cf0" transform="rotate(55 655 496)"/><ellipse cx="605" cy="552" rx="8.5" ry="5.5" fill="#9a12d8" transform="rotate(60 605 552)"/><ellipse cx="611" cy="509" rx="9.2" ry="5.8" fill="#3a14e8" transform="rotate(160 611 509)"/><ellipse cx="605" cy="520" rx="8" ry="5.9" fill="#4a1cf0" transform="rotate(105 605 520)"/><ellipse cx="647" cy="525" rx="8.9" ry="5.2" fill="#3a14e8" transform="rotate(150 647 525)"/><ellipse cx="609" cy="503" rx="6.5" ry="4.3" fill="#3018d0" transform="rotate(25 609 503)"/><ellipse cx="629" cy="540" rx="8.5" ry="5.5" fill="#c812c0" transform="rotate(35 629 540)"/><ellipse cx="658" cy="548" rx="6.4" ry="4.4" fill="#f828a8" transform="rotate(90 658 548)"/><ellipse cx="637" cy="545" rx="8.2" ry="4.9" fill="#3a14e8" transform="rotate(105 637 545)"/><ellipse cx="642" cy="553" rx="7.1" ry="5.8" fill="#f828a8" transform="rotate(150 642 553)"/><ellipse cx="637" cy="528" rx="6.7" ry="4.5" fill="#9a12d8" transform="rotate(140 637 528)"/><ellipse cx="666" cy="510" rx="8.9" ry="5.6" fill="#e010c8" transform="rotate(60 666 510)"/><ellipse cx="645" cy="514" rx="6.9" ry="5.1" fill="#3018d0" transform="rotate(10 645 514)"/><ellipse cx="658" cy="520" rx="6.6" ry="5.3" fill="#3018d0" transform="rotate(115 658 520)"/><ellipse cx="647" cy="499" rx="8.1" ry="6" fill="#b010d0" transform="rotate(15 647 499)"/><ellipse cx="617" cy="519" rx="6.5" ry="5.4" fill="#9a12d8" transform="rotate(115 617 519)"/><ellipse cx="625" cy="508" rx="8.8" ry="4.9" fill="#e010c8" transform="rotate(110 625 508)"/><ellipse cx="608" cy="532" rx="7.3" ry="5.1" fill="#4a1cf0" transform="rotate(125 608 532)"/><ellipse cx="619" cy="558" rx="6.8" ry="5.4" fill="#f018b0" transform="rotate(140 619 558)"/><ellipse cx="647" cy="538" rx="8.3" ry="4.7" fill="#f018b0" transform="rotate(125 647 538)"/><ellipse cx="636" cy="510" rx="7.7" ry="5.1" fill="#8014e0" transform="rotate(70 636 510)"/><ellipse cx="654" cy="511" rx="6.3" ry="5.2" fill="#3018d0" transform="rotate(0 654 511)"/></g><path id="zn0" d="M599.5 501.7Q611.4 493.6 618.4 496.8M597.3 538.4Q598 549.8 599.3 557.4M597.3 538.4Q618.5 536.5 638.9 530.7M638.9 530.7Q641.4 544.5 638.9 545.5M645.3 516.4Q627.9 514.6 618.4 496.8M645.3 516.4Q641.9 514.1 644.9 518.4M670.1 517.3Q661.9 509 655.7 511.6M645.3 516.4Q645.7 518.4 651.5 512.5M644 548.9Q641.7 543.7 638.9 545.5M664 550.8Q658.7 558.4 665.5 558M665.5 558Q660.6 561.3 663.5 561.5M663.5 561.5Q661.7 559.5 659.1 561.2M671.8 544.9Q669.3 542.7 664 550.8M675.1 570.5Q667.6 565.7 663.5 561.5" fill="none" stroke-linecap="round"/><use href="#zn0" stroke="#2cd040" stroke-width="4" opacity="0.3" filter="url(#bl5)"/><g filter="url(#bl2)" opacity="0.8"><use href="#zn0" stroke="#38e44c" stroke-width="2"/><g fill="#38e44c"><circle cx="645.3" cy="516.4" r="1.6"/><circle cx="618.4" cy="496.8" r="1.9"/><circle cx="644.9" cy="518.4" r="1.1"/><circle cx="651.5" cy="512.5" r="1.1"/><circle cx="644" cy="548.9" r="1.8"/><circle cx="599.3" cy="557.4" r="1.5"/><circle cx="655.7" cy="511.6" r="1.1"/></g></g><use href="#zn0" stroke="#d0f8d0" stroke-width="1" opacity="0.2" stroke-dasharray="9 14" filter="url(#bl2)"/></g><rect x="601.9" y="570.1" width="76.2" height="75.1" fill="#4a0628"/><g clip-path="url(#m14)"><g filter="url(#bl2)"><ellipse cx="614" cy="582" rx="13" ry="10" fill="#a010b8" opacity="0.55"/><ellipse cx="614" cy="607" rx="13" ry="10" fill="#c010a8" opacity="0.55"/><ellipse cx="614" cy="632" rx="13" ry="10" fill="#c010a8" opacity="0.55"/><ellipse cx="640" cy="582" rx="13" ry="10" fill="#7a10c0" opacity="0.55"/><ellipse cx="640" cy="607" rx="13" ry="10" fill="#a010b8" opacity="0.55"/><ellipse cx="640" cy="632" rx="13" ry="10" fill="#c010a8" opacity="0.55"/><ellipse cx="665" cy="582" rx="13" ry="10" fill="#c010a8" opacity="0.55"/><ellipse cx="665" cy="607" rx="13" ry="10" fill="#c010a8" opacity="0.55"/><ellipse cx="665" cy="632" rx="13" ry="10" fill="#c010a8" opacity="0.55"/><ellipse cx="619" cy="588" rx="6.8" ry="5" fill="#e010c8" transform="rotate(75 619 588)"/><ellipse cx="644" cy="635" rx="8.1" ry="5.1" fill="#f018b0" transform="rotate(50 644 635)"/><ellipse cx="645" cy="630" rx="8.4" ry="5.8" fill="#f018b0" transform="rotate(15 645 630)"/><ellipse cx="603" cy="621" rx="6.6" ry="5.5" fill="#e010c8" transform="rotate(125 603 621)"/><ellipse cx="611" cy="605" rx="9.1" ry="4.8" fill="#f828a8" transform="rotate(40 611 605)"/><ellipse cx="675" cy="589" rx="8.2" ry="5.6" fill="#d414d0" transform="rotate(0 675 589)"/><ellipse cx="619" cy="634" rx="8.9" ry="4.5" fill="#9a12d8" transform="rotate(150 619 634)"/><ellipse cx="659" cy="583" rx="6.4" ry="5.6" fill="#9a12d8" transform="rotate(60 659 583)"/><ellipse cx="633" cy="623" rx="7" ry="5.1" fill="#d414d0" transform="rotate(50 633 623)"/><ellipse cx="653" cy="611" rx="6.5" ry="5.4" fill="#8014e0" transform="rotate(55 653 611)"/><ellipse cx="638" cy="591" rx="8.9" ry="5.6" fill="#f018b0" transform="rotate(30 638 591)"/><ellipse cx="642" cy="580" rx="9" ry="5.6" fill="#b010d0" transform="rotate(55 642 580)"/><ellipse cx="622" cy="605" rx="6.9" ry="5.8" fill="#b010d0" transform="rotate(40 622 605)"/><ellipse cx="667" cy="636" rx="7" ry="4.7" fill="#f828a8" transform="rotate(140 667 636)"/><ellipse cx="604" cy="574" rx="8.2" ry="4.9" fill="#d414d0" transform="rotate(10 604 574)"/><ellipse cx="658" cy="629" rx="7.2" ry="5.2" fill="#f828a8" transform="rotate(25 658 629)"/><ellipse cx="641" cy="584" rx="9.2" ry="4.2" fill="#e010c8" transform="rotate(140 641 584)"/><ellipse cx="623" cy="576" rx="8.7" ry="6" fill="#e010c8" transform="rotate(165 623 576)"/><ellipse cx="611" cy="613" rx="6.4" ry="5" fill="#f018b0" transform="rotate(125 611 613)"/><ellipse cx="630" cy="639" rx="7.5" ry="4.9" fill="#f018b0" transform="rotate(70 630 639)"/><ellipse cx="609" cy="591" rx="8.6" ry="5.5" fill="#8014e0" transform="rotate(60 609 591)"/><ellipse cx="659" cy="572" rx="6.8" ry="5.4" fill="#b010d0" transform="rotate(35 659 572)"/><ellipse cx="617" cy="613" rx="7.1" ry="5.1" fill="#e010c8" transform="rotate(60 617 613)"/><ellipse cx="631" cy="572" rx="8.4" ry="5.2" fill="#d414d0" transform="rotate(75 631 572)"/><ellipse cx="631" cy="604" rx="8.7" ry="5.4" fill="#b010d0" transform="rotate(65 631 604)"/><ellipse cx="676" cy="616" rx="8" ry="4.9" fill="#f018b0" transform="rotate(75 676 616)"/><ellipse cx="661" cy="642" rx="8.4" ry="5.1" fill="#c812c0" transform="rotate(160 661 642)"/><ellipse cx="674" cy="631" rx="6.3" ry="5.8" fill="#c812c0" transform="rotate(160 674 631)"/><ellipse cx="646" cy="618" rx="6.9" ry="5" fill="#9a12d8" transform="rotate(125 646 618)"/><ellipse cx="656" cy="597" rx="7.5" ry="5.5" fill="#d414d0" transform="rotate(155 656 597)"/><ellipse cx="650" cy="599" rx="9.1" ry="4.2" fill="#d414d0" transform="rotate(30 650 599)"/><ellipse cx="666" cy="572" rx="8.8" ry="5.1" fill="#f018b0" transform="rotate(10 666 572)"/><ellipse cx="624" cy="622" rx="6.8" ry="4.6" fill="#f018b0" transform="rotate(120 624 622)"/><ellipse cx="609" cy="643" rx="7.7" ry="4.3" fill="#c812c0" transform="rotate(165 609 643)"/><ellipse cx="674" cy="598" rx="8.3" ry="5.9" fill="#f828a8" transform="rotate(155 674 598)"/><ellipse cx="634" cy="618" rx="8.9" ry="5.7" fill="#d414d0" transform="rotate(5 634 618)"/></g><path id="zn1" d="M613.3 638.7Q607.7 637.5 609.5 634.5M599.2 630.6Q596.9 632.4 609.5 634.5M638.1 610.5Q628 599.5 628.4 589.7M638.1 610.5Q652.8 620.4 669.3 618.9M628.4 589.7Q644.8 580.7 651.7 579.5M669.3 618.9Q672.2 613.5 677.3 608.3M677.3 608.3Q668.5 590.1 658.3 581.5M651.7 579.5Q658.1 584.2 658.3 581.5M637.2 632.5Q653.1 633.6 662.9 641.2M637.2 632.5Q636.1 622.3 638.1 610.5M662.9 641.2Q668.5 635.6 668.1 631.2M668.1 631.2Q660.2 625.9 669.3 618.9M606.4 575.9Q604.5 571.2 606.5 576.3M626.3 589.3Q614.8 581.1 609.7 581.4M626.3 589.3Q630.6 590.6 628.4 589.7M652.9 565.4Q649 566.3 651.7 579.5M606.5 576.3Q605.1 580.5 609.7 581.4M622.2 639.6Q626.8 635.7 631.2 637.5M613.3 638.7Q615.1 636.9 622.2 639.6M626.3 589.3Q619.8 609.4 609.5 634.5M637.2 632.5Q635.9 640.2 631.2 637.5M609.7 581.4Q605.4 582.6 605.5 587.2M658.3 581.5Q669 579.8 679.8 573.3" fill="none" stroke-linecap="round"/><use href="#zn1" stroke="#2cd040" stroke-width="7.6" opacity="0.5" filter="url(#bl5)"/><g filter="url(#bl2)" opacity="0.9"><use href="#zn1" stroke="#38e44c" stroke-width="3.8"/><g fill="#38e44c"><circle cx="606.4" cy="575.9" r="3.8"/><circle cx="613.3" cy="638.7" r="2.4"/><circle cx="626.3" cy="589.3" r="2.1"/><circle cx="599.2" cy="630.6" r="2.4"/><circle cx="609.5" cy="634.5" r="3.4"/><circle cx="637.2" cy="632.5" r="3.7"/><circle cx="662.9" cy="641.2" r="3.1"/><circle cx="668.1" cy="631.2" r="3.6"/><circle cx="638.1" cy="610.5" r="2.6"/><circle cx="628.4" cy="589.7" r="2.4"/><circle cx="669.3" cy="618.9" r="3.5"/><circle cx="677.3" cy="608.3" r="3.5"/><circle cx="651.7" cy="579.5" r="1.9"/><circle cx="658.3" cy="581.5" r="3.6"/><circle cx="606.5" cy="576.3" r="2"/><circle cx="609.7" cy="581.4" r="3.7"/><circle cx="622.2" cy="639.6" r="3.5"/><circle cx="631.2" cy="637.5" r="3.8"/><circle cx="605.5" cy="587.2" r="3.7"/><circle cx="679.8" cy="573.3" r="3.3"/></g></g><use href="#zn1" stroke="#d0f8d0" stroke-width="1.9" opacity="0.4" stroke-dasharray="9 14" filter="url(#bl2)"/></g><rect x="601.9" y="648" width="76.2" height="74.7" fill="#4a0628"/><g clip-path="url(#m24)"><g filter="url(#bl2)"><ellipse cx="614" cy="660" rx="13" ry="10" fill="#c010a8" opacity="0.55"/><ellipse cx="614" cy="685" rx="13" ry="10" fill="#7a10c0" opacity="0.55"/><ellipse cx="614" cy="710" rx="13" ry="10" fill="#c010a8" opacity="0.55"/><ellipse cx="640" cy="660" rx="13" ry="10" fill="#c010a8" opacity="0.55"/><ellipse cx="640" cy="685" rx="13" ry="10" fill="#c010a8" opacity="0.55"/><ellipse cx="640" cy="710" rx="13" ry="10" fill="#a010b8" opacity="0.55"/><ellipse cx="665" cy="660" rx="13" ry="10" fill="#c010a8" opacity="0.55"/><ellipse cx="665" cy="685" rx="13" ry="10" fill="#a010b8" opacity="0.55"/><ellipse cx="665" cy="710" rx="13" ry="10" fill="#c010a8" opacity="0.55"/><ellipse cx="629" cy="715" rx="6.3" ry="5.7" fill="#f828a8" transform="rotate(140 629 715)"/><ellipse cx="653" cy="653" rx="6.6" ry="5" fill="#8014e0" transform="rotate(140 653 653)"/><ellipse cx="660" cy="676" rx="7.9" ry="5.4" fill="#e010c8" transform="rotate(0 660 676)"/><ellipse cx="628" cy="657" rx="8.7" ry="4.5" fill="#f828a8" transform="rotate(145 628 657)"/><ellipse cx="673" cy="654" rx="8.8" ry="4.7" fill="#c812c0" transform="rotate(0 673 654)"/><ellipse cx="658" cy="690" rx="8.5" ry="5.2" fill="#f018b0" transform="rotate(35 658 690)"/><ellipse cx="622" cy="662" rx="9" ry="5.2" fill="#c812c0" transform="rotate(15 622 662)"/><ellipse cx="644" cy="686" rx="7" ry="4.6" fill="#9a12d8" transform="rotate(135 644 686)"/><ellipse cx="672" cy="715" rx="8.6" ry="5.6" fill="#f828a8" transform="rotate(150 672 715)"/><ellipse cx="654" cy="661" rx="8.2" ry="5.4" fill="#c812c0" transform="rotate(160 654 661)"/><ellipse cx="642" cy="682" rx="9.1" ry="5.9" fill="#c812c0" transform="rotate(30 642 682)"/><ellipse cx="646" cy="655" rx="9.2" ry="5.1" fill="#b010d0" transform="rotate(25 646 655)"/><ellipse cx="610" cy="655" rx="7.4" ry="5.5" fill="#f018b0" transform="rotate(85 610 655)"/><ellipse cx="633" cy="671" rx="8.6" ry="5.1" fill="#d414d0" transform="rotate(30 633 671)"/><ellipse cx="606" cy="668" rx="7.1" ry="5.4" fill="#e010c8" transform="rotate(105 606 668)"/><ellipse cx="617" cy="681" rx="6.4" ry="5.9" fill="#b010d0" transform="rotate(145 617 681)"/><ellipse cx="620" cy="713" rx="6.6" ry="5.8" fill="#d414d0" transform="rotate(100 620 713)"/><ellipse cx="656" cy="704" rx="6.5" ry="4.9" fill="#d414d0" transform="rotate(35 656 704)"/><ellipse cx="631" cy="682" rx="6.7" ry="5.5" fill="#c812c0" transform="rotate(105 631 682)"/><ellipse cx="661" cy="718" rx="7.2" ry="5" fill="#e010c8" transform="rotate(175 661 718)"/><ellipse cx="637" cy="689" rx="8.3" ry="5.1" fill="#d414d0" transform="rotate(50 637 689)"/><ellipse cx="642" cy="711" rx="8.1" ry="5.7" fill="#b010d0" transform="rotate(110 642 711)"/><ellipse cx="612" cy="717" rx="6.5" ry="4.8" fill="#c812c0" transform="rotate(80 612 717)"/><ellipse cx="603" cy="696" rx="8.2" ry="4.3" fill="#8014e0" transform="rotate(5 603 696)"/><ellipse cx="673" cy="677" rx="6.8" ry="4.7" fill="#d414d0" transform="rotate(105 673 677)"/><ellipse cx="609" cy="701" rx="8.4" ry="5.7" fill="#f018b0" transform="rotate(85 609 701)"/><ellipse cx="629" cy="708" rx="6.8" ry="4.7" fill="#d414d0" transform="rotate(65 629 708)"/><ellipse cx="617" cy="655" rx="7.9" ry="5.6" fill="#e010c8" transform="rotate(145 617 655)"/><ellipse cx="670" cy="695" rx="8.5" ry="4.7" fill="#f018b0" transform="rotate(75 670 695)"/><ellipse cx="623" cy="704" rx="7.5" ry="5.6" fill="#d414d0" transform="rotate(95 623 704)"/><ellipse cx="673" cy="669" rx="8.5" ry="5.5" fill="#f018b0" transform="rotate(50 673 669)"/><ellipse cx="648" cy="664" rx="8" ry="5.3" fill="#d414d0" transform="rotate(150 648 664)"/><ellipse cx="624" cy="693" rx="6.5" ry="4.3" fill="#c812c0" transform="rotate(35 624 693)"/><ellipse cx="675" cy="705" rx="6.9" ry="4.5" fill="#f828a8" transform="rotate(105 675 705)"/><ellipse cx="643" cy="700" rx="6.2" ry="4.6" fill="#f018b0" transform="rotate(120 643 700)"/><ellipse cx="604" cy="680" rx="6.5" ry="5.5" fill="#f828a8" transform="rotate(135 604 680)"/></g><path id="zn2" d="M673.7 658.1Q667 660.1 668.9 654.9M668.9 654.9Q660.5 654.3 656.8 653.2M673.7 658.1Q678.3 663.3 677.3 665.6M636.6 667Q647.5 682.5 647.8 695.3M636.6 667Q639.3 670.1 637 666.3M637 666.3Q643.3 661.6 656.8 653.2M647.8 695.3Q662.1 683.2 677.3 665.6M636.6 667Q626.8 668.9 603.2 671.2M601.4 672.8Q593.9 679.1 599.1 681.9M603.2 671.2Q603.8 670.7 601.4 672.8M612.5 715.1Q609.1 716.2 604.8 710.7M647.2 725.7Q643.6 717.3 645.3 708.7M645.3 708.7Q632.5 716.2 612.5 715.1M670.9 700.5Q672.2 701 673.1 701.8M647.8 695.3Q649.8 699.4 647.6 698.4M647.6 698.4Q656 699.7 670.9 700.5M645.3 708.7Q642.4 704 646.5 699.9M646.5 699.9Q650 698.1 647.6 698.4M676.5 717.4Q674.2 710.8 673.1 701.8M640.8 698.9Q621 704.8 604.8 710.6M640.8 698.9Q621.7 691.9 600 686.1M600 686.1Q600.2 691.7 598.3 694.9M598.3 694.9Q601.5 693.5 598.8 697.8M598.8 697.8Q601 701.8 604.8 710.6M646.5 699.9Q645.6 700.5 640.8 698.9M604.8 710.7Q605.6 711.1 604.8 710.6M599.1 681.9Q600.6 684.1 600 686.1" fill="none" stroke-linecap="round"/><use href="#zn2" stroke="#2cd040" stroke-width="7.6" opacity="0.5" filter="url(#bl5)"/><g filter="url(#bl2)" opacity="0.9"><use href="#zn2" stroke="#38e44c" stroke-width="3.8"/><g fill="#38e44c"><circle cx="673.7" cy="658.1" r="3.1"/><circle cx="668.9" cy="654.9" r="2"/><circle cx="636.6" cy="667" r="3.1"/><circle cx="647.2" cy="725.7" r="2.8"/><circle cx="637" cy="666.3" r="2.1"/><circle cx="656.8" cy="653.2" r="2.2"/><circle cx="603.2" cy="671.2" r="2.3"/><circle cx="601.4" cy="672.8" r="2.5"/><circle cx="645.3" cy="708.7" r="2.1"/><circle cx="646.5" cy="699.9" r="3.4"/><circle cx="612.5" cy="715.1" r="3.2"/><circle cx="604.8" cy="710.7" r="3.4"/><circle cx="647.8" cy="695.3" r="2.8"/><circle cx="647.6" cy="698.4" r="2.9"/><circle cx="677.3" cy="665.6" r="3.3"/><circle cx="676.5" cy="717.4" r="3.4"/><circle cx="599.1" cy="681.9" r="1.9"/><circle cx="670.9" cy="700.5" r="2.9"/><circle cx="673.1" cy="701.8" r="3.5"/><circle cx="640.8" cy="698.9" r="2.8"/><circle cx="600" cy="686.1" r="2.9"/><circle cx="604.8" cy="710.6" r="2.1"/></g></g><use href="#zn2" stroke="#d0f8d0" stroke-width="1.9" opacity="0.4" stroke-dasharray="9 14" filter="url(#bl2)"/></g><rect x="601.9" y="725.2" width="76.2" height="75.1" fill="#2c0838"/><g clip-path="url(#m34)"><g filter="url(#bl2)"><ellipse cx="614" cy="737" rx="13" ry="10" fill="#4a10c0" opacity="0.55"/><ellipse cx="614" cy="762" rx="13" ry="10" fill="#4a10c0" opacity="0.55"/><ellipse cx="614" cy="787" rx="13" ry="10" fill="#3010b0" opacity="0.55"/><ellipse cx="640" cy="737" rx="13" ry="10" fill="#4a10c0" opacity="0.55"/><ellipse cx="640" cy="762" rx="13" ry="10" fill="#6a10b8" opacity="0.55"/><ellipse cx="640" cy="787" rx="13" ry="10" fill="#6a10b8" opacity="0.55"/><ellipse cx="665" cy="737" rx="13" ry="10" fill="#4a10c0" opacity="0.55"/><ellipse cx="665" cy="762" rx="13" ry="10" fill="#3010b0" opacity="0.55"/><ellipse cx="665" cy="787" rx="13" ry="10" fill="#4a10c0" opacity="0.55"/><ellipse cx="628" cy="765" rx="7.7" ry="4.9" fill="#4a1cf0" transform="rotate(65 628 765)"/><ellipse cx="666" cy="740" rx="8.5" ry="5.3" fill="#c812c0" transform="rotate(85 666 740)"/><ellipse cx="637" cy="778" rx="6.6" ry="4.8" fill="#e010c8" transform="rotate(50 637 778)"/><ellipse cx="617" cy="732" rx="6.7" ry="4.7" fill="#c812c0" transform="rotate(5 617 732)"/><ellipse cx="611" cy="726" rx="8.8" ry="4.3" fill="#f828a8" transform="rotate(55 611 726)"/><ellipse cx="638" cy="737" rx="8.6" ry="4.8" fill="#9a12d8" transform="rotate(15 638 737)"/><ellipse cx="619" cy="774" rx="6.4" ry="4.8" fill="#b010d0" transform="rotate(75 619 774)"/><ellipse cx="655" cy="789" rx="6.5" ry="4.6" fill="#d414d0" transform="rotate(20 655 789)"/><ellipse cx="607" cy="794" rx="8.6" ry="5" fill="#8014e0" transform="rotate(135 607 794)"/><ellipse cx="662" cy="745" rx="8.2" ry="5.9" fill="#d414d0" transform="rotate(70 662 745)"/><ellipse cx="609" cy="767" rx="6.7" ry="5.3" fill="#b010d0" transform="rotate(45 609 767)"/><ellipse cx="655" cy="777" rx="7.1" ry="5.8" fill="#9a12d8" transform="rotate(70 655 777)"/><ellipse cx="633" cy="738" rx="8.8" ry="4.4" fill="#8014e0" transform="rotate(165 633 738)"/><ellipse cx="609" cy="782" rx="8.7" ry="4.5" fill="#b010d0" transform="rotate(10 609 782)"/><ellipse cx="642" cy="793" rx="6.6" ry="5.5" fill="#8014e0" transform="rotate(0 642 793)"/><ellipse cx="668" cy="765" rx="8" ry="4.5" fill="#b010d0" transform="rotate(20 668 765)"/><ellipse cx="671" cy="753" rx="6.7" ry="5.9" fill="#4a1cf0" transform="rotate(90 671 753)"/><ellipse cx="666" cy="785" rx="8" ry="4.5" fill="#9a12d8" transform="rotate(35 666 785)"/><ellipse cx="654" cy="732" rx="6.5" ry="4.9" fill="#9a12d8" transform="rotate(75 654 732)"/><ellipse cx="629" cy="752" rx="7.8" ry="6" fill="#4a1cf0" transform="rotate(35 629 752)"/><ellipse cx="635" cy="796" rx="7.2" ry="5.7" fill="#d414d0" transform="rotate(80 635 796)"/><ellipse cx="624" cy="794" rx="7.6" ry="4.3" fill="#8014e0" transform="rotate(140 624 794)"/><ellipse cx="659" cy="761" rx="8.2" ry="5.7" fill="#c812c0" transform="rotate(15 659 761)"/><ellipse cx="612" cy="739" rx="8.6" ry="5.6" fill="#d414d0" transform="rotate(120 612 739)"/><ellipse cx="624" cy="776" rx="8.7" ry="5.7" fill="#4a1cf0" transform="rotate(170 624 776)"/><ellipse cx="662" cy="763" rx="6.6" ry="4.3" fill="#c812c0" transform="rotate(0 662 763)"/><ellipse cx="644" cy="747" rx="7.7" ry="5.9" fill="#9a12d8" transform="rotate(35 644 747)"/><ellipse cx="646" cy="731" rx="7" ry="5.1" fill="#c812c0" transform="rotate(25 646 731)"/><ellipse cx="646" cy="769" rx="7.4" ry="4.5" fill="#c812c0" transform="rotate(65 646 769)"/><ellipse cx="668" cy="728" rx="6.3" ry="5.8" fill="#d414d0" transform="rotate(110 668 728)"/><ellipse cx="622" cy="747" rx="8.6" ry="4.2" fill="#e010c8" transform="rotate(35 622 747)"/><ellipse cx="650" cy="760" rx="8.5" ry="5.1" fill="#d414d0" transform="rotate(165 650 760)"/><ellipse cx="606" cy="758" rx="9" ry="5.3" fill="#d414d0" transform="rotate(20 606 758)"/><ellipse cx="647" cy="776" rx="8.3" ry="5.8" fill="#e010c8" transform="rotate(65 647 776)"/><ellipse cx="618" cy="755" rx="6.8" ry="6" fill="#8014e0" transform="rotate(125 618 755)"/><ellipse cx="670" cy="794" rx="7.1" ry="5.4" fill="#f018b0" transform="rotate(35 670 794)"/></g><path id="zn3" d="M667.5 776.8Q666.9 759.2 659.8 744.1M602.2 780.7Q620.1 788.3 635.9 790M635.9 790Q633.5 770.1 634.2 755.6M612.8 733Q623.5 749.1 632.4 755.8M639.4 792.4Q642.5 791.2 645.3 794.5M661 782.2Q666.9 781.4 667.5 776.8M636.3 755Q640.4 758.2 643.2 746.7M612 725.5Q609.7 724.1 599 721.6" fill="none" stroke-linecap="round"/><use href="#zn3" stroke="#2cd040" stroke-width="5" opacity="0.4" filter="url(#bl5)"/><g filter="url(#bl2)" opacity="0.8"><use href="#zn3" stroke="#38e44c" stroke-width="2.5"/><g fill="#38e44c"><circle cx="612.8" cy="733" r="2.4"/><circle cx="667.5" cy="776.8" r="2.3"/><circle cx="659.8" cy="744.1" r="2.4"/><circle cx="659" cy="789.5" r="2.3"/><circle cx="636.2" cy="723.1" r="1.7"/><circle cx="643.2" cy="746.7" r="1.2"/><circle cx="678.8" cy="803" r="1.4"/></g></g><use href="#zn3" stroke="#d0f8d0" stroke-width="1.2" opacity="0.3" stroke-dasharray="9 14" filter="url(#bl2)"/></g><rect x="349.4" y="563.2" width="11.4" height="1.4" fill="#c9c9d6"/><rect x="427.5" y="563.2" width="11.4" height="1.4" fill="#c9c9d6"/><rect x="504.9" y="563.2" width="11.4" height="1.4" fill="#c9c9d6"/><rect x="583.7" y="563.2" width="11.4" height="1.4" fill="#c9c9d6"/><rect x="634.2" y="563.2" width="40.4" height="1.4" fill="#e8d8f0"/><rect x="349.4" y="640.6" width="11.4" height="1.4" fill="#c9c9d6"/><rect x="427.5" y="640.6" width="11.4" height="1.4" fill="#c9c9d6"/><rect x="504.9" y="640.6" width="11.4" height="1.4" fill="#c9c9d6"/><rect x="583.7" y="640.6" width="11.4" height="1.4" fill="#c9c9d6"/><rect x="634.2" y="640.6" width="40.4" height="1.4" fill="#e8d8f0"/><rect x="349.4" y="718.1" width="11.4" height="1.4" fill="#c9c9d6"/><rect x="427.5" y="718.1" width="11.4" height="1.4" fill="#c9c9d6"/><rect x="504.9" y="718.1" width="11.4" height="1.4" fill="#c9c9d6"/><rect x="583.7" y="718.1" width="11.4" height="1.4" fill="#c9c9d6"/><rect x="634.2" y="718.1" width="40.4" height="1.4" fill="#e8d8f0"/><rect x="349.4" y="795.7" width="11.4" height="1.4" fill="#c9c9d6"/><rect x="427.5" y="795.7" width="11.4" height="1.4" fill="#c9c9d6"/><rect x="504.9" y="795.7" width="11.4" height="1.4" fill="#c9c9d6"/><rect x="583.7" y="795.7" width="11.4" height="1.4" fill="#c9c9d6"/><rect x="634.2" y="795.7" width="40.4" height="1.4" fill="#e8d8f0"/><rect x="545.8" y="509.4" width="11.4" height="11.1" fill="none" stroke="#f0f0f0" stroke-width="0.7"/><rect x="544.1" y="604.3" width="11.4" height="11.1" fill="none" stroke="#f0f0f0" stroke-width="0.7"/><rect x="552.3" y="690.2" width="11.4" height="11.1" fill="none" stroke="#f0f0f0" stroke-width="0.7"/><rect x="546.2" y="748.8" width="11.4" height="11.1" fill="none" stroke="#f0f0f0" stroke-width="0.7"/></g>
<g><text x="-0.5" y="707" font-size="16">N</text><line x1="53.6" y1="710" x2="53.6" y2="931" stroke="#000" stroke-width="0.7"/><line x1="53.3" y1="931" x2="149.6" y2="931" stroke="#000" stroke-width="0.7"/><line x1="51.6" y1="722.7" x2="53.6" y2="722.7" stroke="#000" stroke-width="0.6"/><text x="50.6" y="725.6" font-size="8.0" text-anchor="end" font-weight="bold">0</text><line x1="64.2" y1="722.7" x2="85.6" y2="722.7" stroke="#333" stroke-width="0.6"/><circle cx="62.2" cy="722.7" r="2.1" fill="#ee820e" stroke="#2a2a2a" stroke-width="0.45"/><circle cx="72.4" cy="720.7" r="2.1" fill="#ee820e" stroke="#2a2a2a" stroke-width="0.45"/><circle cx="74.5" cy="724.7" r="2.1" fill="#ee820e" stroke="#2a2a2a" stroke-width="0.45"/><circle cx="76.5" cy="721.6" r="2.1" fill="#ee820e" stroke="#2a2a2a" stroke-width="0.45"/><circle cx="80.3" cy="724" r="2.1" fill="#ee820e" stroke="#2a2a2a" stroke-width="0.45"/><circle cx="84.7" cy="720.5" r="2.1" fill="#ee820e" stroke="#2a2a2a" stroke-width="0.45"/><circle cx="87.6" cy="724.5" r="2.1" fill="#ee820e" stroke="#2a2a2a" stroke-width="0.45"/><circle cx="73.5" cy="723" r="2.1" fill="#ee820e" stroke="#2a2a2a" stroke-width="0.45"/><circle cx="78" cy="722.7" r="2.1" fill="#ee820e" stroke="#2a2a2a" stroke-width="0.45"/><line x1="74.5" y1="718.7" x2="74.5" y2="726.7" stroke="#000" stroke-width="0.9"/><line x1="51.6" y1="743.7" x2="53.6" y2="743.7" stroke="#000" stroke-width="0.6"/><text x="50.6" y="746.6" font-size="8.0" text-anchor="end" font-weight="bold">0.01</text><line x1="84.6" y1="743.7" x2="130.3" y2="743.7" stroke="#333" stroke-width="0.6"/><circle cx="82.6" cy="743.7" r="2.1" fill="#ee820e" stroke="#2a2a2a" stroke-width="0.45"/><circle cx="97.8" cy="741.7" r="2.1" fill="#ee820e" stroke="#2a2a2a" stroke-width="0.45"/><circle cx="100.7" cy="745.7" r="2.1" fill="#ee820e" stroke="#2a2a2a" stroke-width="0.45"/><circle cx="103.6" cy="742.6" r="2.1" fill="#ee820e" stroke="#2a2a2a" stroke-width="0.45"/><circle cx="106.6" cy="745" r="2.1" fill="#ee820e" stroke="#2a2a2a" stroke-width="0.45"/><circle cx="112.4" cy="741.5" r="2.1" fill="#ee820e" stroke="#2a2a2a" stroke-width="0.45"/><circle cx="118.2" cy="745.5" r="2.1" fill="#ee820e" stroke="#2a2a2a" stroke-width="0.45"/><circle cx="132.3" cy="743.7" r="2.1" fill="#ee820e" stroke="#2a2a2a" stroke-width="0.45"/><circle cx="99" cy="743" r="2.1" fill="#ee820e" stroke="#2a2a2a" stroke-width="0.45"/><circle cx="104" cy="743.7" r="2.1" fill="#ee820e" stroke="#2a2a2a" stroke-width="0.45"/><line x1="105" y1="739.7" x2="105" y2="747.7" stroke="#000" stroke-width="0.9"/><line x1="51.6" y1="764.8" x2="53.6" y2="764.8" stroke="#000" stroke-width="0.6"/><text x="50.6" y="767.7" font-size="8.0" text-anchor="end" font-weight="bold">1</text><line x1="76.5" y1="764.8" x2="126.5" y2="764.8" stroke="#333" stroke-width="0.6"/><circle cx="74.5" cy="764.8" r="2.1" fill="#ee820e" stroke="#2a2a2a" stroke-width="0.45"/><circle cx="77.4" cy="762.8" r="2.1" fill="#ee820e" stroke="#2a2a2a" stroke-width="0.45"/><circle cx="80.3" cy="766.8" r="2.1" fill="#ee820e" stroke="#2a2a2a" stroke-width="0.45"/><circle cx="84.7" cy="763.7" r="2.1" fill="#ee820e" stroke="#2a2a2a" stroke-width="0.45"/><circle cx="87.6" cy="766.1" r="2.1" fill="#ee820e" stroke="#2a2a2a" stroke-width="0.45"/><circle cx="92" cy="762.6" r="2.1" fill="#ee820e" stroke="#2a2a2a" stroke-width="0.45"/><circle cx="94.9" cy="766.6" r="2.1" fill="#ee820e" stroke="#2a2a2a" stroke-width="0.45"/><circle cx="97.2" cy="765.1" r="2.1" fill="#ee820e" stroke="#2a2a2a" stroke-width="0.45"/><circle cx="128.5" cy="764.8" r="2.1" fill="#ee820e" stroke="#2a2a2a" stroke-width="0.45"/><circle cx="90" cy="764.8" r="2.1" fill="#ee820e" stroke="#2a2a2a" stroke-width="0.45"/><line x1="88.5" y1="760.8" x2="88.5" y2="768.8" stroke="#000" stroke-width="0.9"/><line x1="51.6" y1="785.8" x2="53.6" y2="785.8" stroke="#000" stroke-width="0.6"/><text x="50.6" y="788.7" font-size="8.0" text-anchor="end" font-weight="bold">10</text><line x1="79.4" y1="785.8" x2="98.1" y2="785.8" stroke="#333" stroke-width="0.6"/><circle cx="77.4" cy="785.8" r="2.1" fill="#ee820e" stroke="#2a2a2a" stroke-width="0.45"/><circle cx="79.4" cy="783.8" r="2.1" fill="#ee820e" stroke="#2a2a2a" stroke-width="0.45"/><circle cx="81.8" cy="787.8" r="2.1" fill="#ee820e" stroke="#2a2a2a" stroke-width="0.45"/><circle cx="84.7" cy="784.7" r="2.1" fill="#ee820e" stroke="#2a2a2a" stroke-width="0.45"/><circle cx="87.6" cy="787.1" r="2.1" fill="#ee820e" stroke="#2a2a2a" stroke-width="0.45"/><circle cx="92" cy="783.6" r="2.1" fill="#ee820e" stroke="#2a2a2a" stroke-width="0.45"/><circle cx="94.9" cy="787.6" r="2.1" fill="#ee820e" stroke="#2a2a2a" stroke-width="0.45"/><circle cx="97.8" cy="786.1" r="2.1" fill="#ee820e" stroke="#2a2a2a" stroke-width="0.45"/><circle cx="100.1" cy="785.1" r="2.1" fill="#ee820e" stroke="#2a2a2a" stroke-width="0.45"/><circle cx="86" cy="785.8" r="2.1" fill="#ee820e" stroke="#2a2a2a" stroke-width="0.45"/><line x1="86.1" y1="781.8" x2="86.1" y2="789.8" stroke="#000" stroke-width="0.9"/><line x1="51.6" y1="806.8" x2="53.6" y2="806.8" stroke="#000" stroke-width="0.6"/><text x="50.6" y="809.7" font-size="8.0" text-anchor="end" font-weight="bold">Se</text><line x1="86.1" y1="806.8" x2="107.5" y2="806.8" stroke="#333" stroke-width="0.6"/><circle cx="84.1" cy="806.8" r="2.1" fill="#ee820e" stroke="#2a2a2a" stroke-width="0.45"/><circle cx="87" cy="804.8" r="2.1" fill="#ee820e" stroke="#2a2a2a" stroke-width="0.45"/><circle cx="89.1" cy="808.8" r="2.1" fill="#ee820e" stroke="#2a2a2a" stroke-width="0.45"/><circle cx="91.1" cy="805.7" r="2.1" fill="#ee820e" stroke="#2a2a2a" stroke-width="0.45"/><circle cx="92.8" cy="808.1" r="2.1" fill="#ee820e" stroke="#2a2a2a" stroke-width="0.45"/><circle cx="94.9" cy="804.6" r="2.1" fill="#ee820e" stroke="#2a2a2a" stroke-width="0.45"/><circle cx="96.4" cy="808.6" r="2.1" fill="#ee820e" stroke="#2a2a2a" stroke-width="0.45"/><circle cx="109.5" cy="807.1" r="2.1" fill="#ee820e" stroke="#2a2a2a" stroke-width="0.45"/><circle cx="90" cy="806.1" r="2.1" fill="#ee820e" stroke="#2a2a2a" stroke-width="0.45"/><circle cx="93.5" cy="806.8" r="2.1" fill="#ee820e" stroke="#2a2a2a" stroke-width="0.45"/><line x1="92" y1="802.8" x2="92" y2="810.8" stroke="#000" stroke-width="0.9"/><line x1="51.6" y1="836" x2="53.6" y2="836" stroke="#000" stroke-width="0.6"/><text x="50.6" y="838.9" font-size="8.0" text-anchor="end" font-weight="bold">0</text><line x1="86.7" y1="836" x2="120.6" y2="836" stroke="#333" stroke-width="0.6"/><circle cx="84.7" cy="836" r="2.1" fill="#4a8fdc" stroke="#2a2a2a" stroke-width="0.45"/><circle cx="87.6" cy="834" r="2.1" fill="#4a8fdc" stroke="#2a2a2a" stroke-width="0.45"/><circle cx="90.5" cy="838" r="2.1" fill="#4a8fdc" stroke="#2a2a2a" stroke-width="0.45"/><circle cx="94" cy="834.9" r="2.1" fill="#4a8fdc" stroke="#2a2a2a" stroke-width="0.45"/><circle cx="95.5" cy="837.3" r="2.1" fill="#4a8fdc" stroke="#2a2a2a" stroke-width="0.45"/><circle cx="103.6" cy="833.8" r="2.1" fill="#4a8fdc" stroke="#2a2a2a" stroke-width="0.45"/><circle cx="109.5" cy="837.8" r="2.1" fill="#4a8fdc" stroke="#2a2a2a" stroke-width="0.45"/><circle cx="116.8" cy="836.3" r="2.1" fill="#4a8fdc" stroke="#2a2a2a" stroke-width="0.45"/><circle cx="122" cy="835.3" r="2.1" fill="#4a8fdc" stroke="#2a2a2a" stroke-width="0.45"/><circle cx="122.6" cy="836" r="2.1" fill="#4a8fdc" stroke="#2a2a2a" stroke-width="0.45"/><line x1="99.3" y1="832" x2="99.3" y2="840" stroke="#000" stroke-width="0.9"/><line x1="51.6" y1="856.7" x2="53.6" y2="856.7" stroke="#000" stroke-width="0.6"/><text x="50.6" y="859.6" font-size="8.0" text-anchor="end" font-weight="bold">1</text><line x1="75" y1="856.7" x2="108.9" y2="856.7" stroke="#333" stroke-width="0.6"/><circle cx="73" cy="856.7" r="2.1" fill="#4a8fdc" stroke="#2a2a2a" stroke-width="0.45"/><circle cx="86.1" cy="854.7" r="2.1" fill="#4a8fdc" stroke="#2a2a2a" stroke-width="0.45"/><circle cx="89.1" cy="858.7" r="2.1" fill="#4a8fdc" stroke="#2a2a2a" stroke-width="0.45"/><circle cx="92" cy="855.6" r="2.1" fill="#4a8fdc" stroke="#2a2a2a" stroke-width="0.45"/><circle cx="93.4" cy="858" r="2.1" fill="#4a8fdc" stroke="#2a2a2a" stroke-width="0.45"/><circle cx="100.7" cy="854.5" r="2.1" fill="#4a8fdc" stroke="#2a2a2a" stroke-width="0.45"/><circle cx="105.1" cy="858.5" r="2.1" fill="#4a8fdc" stroke="#2a2a2a" stroke-width="0.45"/><circle cx="110.9" cy="857" r="2.1" fill="#4a8fdc" stroke="#2a2a2a" stroke-width="0.45"/><circle cx="88" cy="856.7" r="2.1" fill="#4a8fdc" stroke="#2a2a2a" stroke-width="0.45"/><line x1="92.3" y1="852.7" x2="92.3" y2="860.7" stroke="#000" stroke-width="0.9"/><line x1="51.6" y1="877.7" x2="53.6" y2="877.7" stroke="#000" stroke-width="0.6"/><text x="50.6" y="880.6" font-size="8.0" text-anchor="end" font-weight="bold">100</text><line x1="73.5" y1="877.7" x2="94.4" y2="877.7" stroke="#333" stroke-width="0.6"/><circle cx="71.5" cy="877.7" r="2.1" fill="#4a8fdc" stroke="#2a2a2a" stroke-width="0.45"/><circle cx="76.5" cy="875.7" r="2.1" fill="#4a8fdc" stroke="#2a2a2a" stroke-width="0.45"/><circle cx="78.2" cy="879.7" r="2.1" fill="#4a8fdc" stroke="#2a2a2a" stroke-width="0.45"/><circle cx="80.3" cy="876.6" r="2.1" fill="#4a8fdc" stroke="#2a2a2a" stroke-width="0.45"/><circle cx="82.3" cy="879" r="2.1" fill="#4a8fdc" stroke="#2a2a2a" stroke-width="0.45"/><circle cx="87.6" cy="875.5" r="2.1" fill="#4a8fdc" stroke="#2a2a2a" stroke-width="0.45"/><circle cx="94" cy="879.5" r="2.1" fill="#4a8fdc" stroke="#2a2a2a" stroke-width="0.45"/><circle cx="96.4" cy="878" r="2.1" fill="#4a8fdc" stroke="#2a2a2a" stroke-width="0.45"/><circle cx="77.5" cy="877.7" r="2.1" fill="#4a8fdc" stroke="#2a2a2a" stroke-width="0.45"/><line x1="81.8" y1="873.7" x2="81.8" y2="881.7" stroke="#000" stroke-width="0.9"/><line x1="51.6" y1="898.8" x2="53.6" y2="898.8" stroke="#000" stroke-width="0.6"/><text x="50.6" y="901.7" font-size="8.0" text-anchor="end" font-weight="bold">1000</text><line x1="80.8" y1="898.8" x2="127.9" y2="898.8" stroke="#333" stroke-width="0.6"/><circle cx="78.8" cy="898.8" r="2.1" fill="#4a8fdc" stroke="#2a2a2a" stroke-width="0.45"/><circle cx="80.3" cy="896.8" r="2.1" fill="#4a8fdc" stroke="#2a2a2a" stroke-width="0.45"/><circle cx="86.1" cy="900.8" r="2.1" fill="#4a8fdc" stroke="#2a2a2a" stroke-width="0.45"/><circle cx="94" cy="897.7" r="2.1" fill="#4a8fdc" stroke="#2a2a2a" stroke-width="0.45"/><circle cx="108" cy="900.1" r="2.1" fill="#4a8fdc" stroke="#2a2a2a" stroke-width="0.45"/><circle cx="112.4" cy="896.6" r="2.1" fill="#4a8fdc" stroke="#2a2a2a" stroke-width="0.45"/><circle cx="116.8" cy="900.6" r="2.1" fill="#4a8fdc" stroke="#2a2a2a" stroke-width="0.45"/><circle cx="124.1" cy="899.1" r="2.1" fill="#4a8fdc" stroke="#2a2a2a" stroke-width="0.45"/><circle cx="129.9" cy="898.8" r="2.1" fill="#4a8fdc" stroke="#2a2a2a" stroke-width="0.45"/><line x1="107.4" y1="894.8" x2="107.4" y2="902.8" stroke="#000" stroke-width="0.9"/><line x1="51.6" y1="919.8" x2="53.6" y2="919.8" stroke="#000" stroke-width="0.6"/><text x="50.6" y="922.4" font-size="8.0" text-anchor="end" font-weight="bold" fill="#000">H<tspan font-size="5.8" dy="1.8">2</tspan><tspan dy="-1.8">O</tspan><tspan font-size="5.8" dy="1.8">2</tspan></text><line x1="110.6" y1="919.8" x2="122.1" y2="919.8" stroke="#333" stroke-width="0.6"/><circle cx="108.6" cy="919.8" r="2.1" fill="#4a8fdc" stroke="#2a2a2a" stroke-width="0.45"/><circle cx="110.4" cy="917.8" r="2.1" fill="#4a8fdc" stroke="#2a2a2a" stroke-width="0.45"/><circle cx="112.4" cy="921.8" r="2.1" fill="#4a8fdc" stroke="#2a2a2a" stroke-width="0.45"/><circle cx="115.3" cy="918.7" r="2.1" fill="#4a8fdc" stroke="#2a2a2a" stroke-width="0.45"/><circle cx="116.8" cy="921.1" r="2.1" fill="#4a8fdc" stroke="#2a2a2a" stroke-width="0.45"/><circle cx="119.7" cy="917.6" r="2.1" fill="#4a8fdc" stroke="#2a2a2a" stroke-width="0.45"/><circle cx="122" cy="921.6" r="2.1" fill="#4a8fdc" stroke="#2a2a2a" stroke-width="0.45"/><circle cx="124.1" cy="920.1" r="2.1" fill="#4a8fdc" stroke="#2a2a2a" stroke-width="0.45"/><circle cx="113.5" cy="919.1" r="2.1" fill="#4a8fdc" stroke="#2a2a2a" stroke-width="0.45"/><circle cx="118.5" cy="919.8" r="2.1" fill="#4a8fdc" stroke="#2a2a2a" stroke-width="0.45"/><line x1="116.8" y1="915.8" x2="116.8" y2="923.8" stroke="#000" stroke-width="0.9"/><line x1="53.7" y1="931" x2="53.7" y2="933" stroke="#000" stroke-width="0.6"/><text x="53.7" y="941.3" font-size="8.0" text-anchor="middle" font-weight="bold">0.0</text><line x1="85.5" y1="931" x2="85.5" y2="933" stroke="#000" stroke-width="0.6"/><text x="85.5" y="941.3" font-size="8.0" text-anchor="middle" font-weight="bold">0.2</text><line x1="117.4" y1="931" x2="117.4" y2="933" stroke="#000" stroke-width="0.6"/><text x="117.4" y="941.3" font-size="8.0" text-anchor="middle" font-weight="bold">0.4</text><line x1="149.2" y1="931" x2="149.2" y2="933" stroke="#000" stroke-width="0.6"/><text x="149.2" y="941.3" font-size="8.0" text-anchor="middle" font-weight="bold">0.6</text><text x="101.3" y="950.1" font-size="8.0" text-anchor="middle" font-weight="bold">PDX1 normalized MFI</text><text x="143.6" y="714.4" font-size="8.0" font-weight="bold" fill="#f28c1a">vs. WT</text><text x="143.6" y="721.7" font-size="8.0" font-weight="bold" fill="#4f9df0">vs. KO</text><text x="135.8" y="744" font-size="8.0" fill="#f28c1a">&lt;0.0001</text><text x="143" y="749.9" font-size="8.0" fill="#4f9df0">ns</text><text x="134.3" y="766.8" font-size="8.0" fill="#4f9df0">ns</text><text x="106.6" y="787.8" font-size="8.0" fill="#4f9df0">ns</text><text x="116" y="806.8" font-size="8.0" fill="#f28c1a">.0275</text><text x="119.7" y="812.6" font-size="8.0" fill="#4f9df0">ns</text><text x="128.5" y="838" font-size="8.0" fill="#f28c1a">&lt;.0001</text><text x="117.7" y="857.3" font-size="8.0" fill="#f28c1a">.0247</text><text x="121.2" y="863.1" font-size="8.0" fill="#4f9df0">ns</text><text x="108" y="876.3" font-size="8.0" fill="#f28c1a">ns</text><text x="103.6" y="884.1" font-size="8.0" fill="#4f9df0">.0038</text><text x="130.5" y="919.5" font-size="8.0" fill="#f28c1a">&lt;.0001</text><text x="135.8" y="925.9" font-size="8.0" fill="#4f9df0">ns</text><circle cx="8.8" cy="743.6" r="1.9" fill="#e8a020" stroke="#555" stroke-width="0.4"/><text x="12.3" y="746.6" font-size="9.0">WT</text><text x="6.2" y="758.2" font-size="9.0" font-weight="bold" fill="#000">H<tspan font-size="6.5" dy="2.0">2</tspan><tspan dy="-2.0">O</tspan><tspan font-size="6.5" dy="2.0">2</tspan></text><text x="6.2" y="767.1" font-size="8.6" font-weight="bold">[µM]</text><line x1="30.7" y1="719.2" x2="30.7" y2="787.8" stroke="#000" stroke-width="0.7"/><circle cx="8.8" cy="857" r="1.9" fill="#56b4e9" stroke="#555" stroke-width="0.4"/><text x="12.3" y="860.2" font-size="9.0">KO</text><text x="17.5" y="870.5" font-size="9.0" text-anchor="middle" font-weight="bold">Se</text><text x="6.2" y="880.1" font-size="8.6" font-weight="bold">[pM]</text><line x1="30.7" y1="833" x2="30.7" y2="900.2" stroke="#777" stroke-width="0.7"/></g>
<g><text x="160.3" y="819.5" font-size="16">O</text><text x="228.1" y="816.9" font-size="8.6" text-anchor="middle" fill="#22b422">lipid droplets</text><text x="307" y="816.9" font-size="8.6" text-anchor="middle" fill="#e8202a">PDX1</text><text x="484.2" y="816.9" font-size="8.6" text-anchor="middle" fill="#22b422">lipid droplets</text><text x="563.1" y="816.9" font-size="8.6" text-anchor="middle" fill="#e8202a">PDX1</text><text x="385.3" y="816.9" font-size="8.6" text-anchor="middle">MERGE+<tspan fill="#2030e0">DAPI</tspan></text><text x="640.7" y="816.9" font-size="8.6" text-anchor="middle">MERGE+<tspan fill="#2030e0">DAPI</tspan></text><line x1="177.4" y1="824" x2="177.4" y2="969.4" stroke="#000" stroke-width="0.8"/><line x1="436.2" y1="824" x2="436.2" y2="969.4" stroke="#000" stroke-width="0.8"/><text x="173.9" y="896" font-size="8.6" text-anchor="middle" font-weight="bold" transform="rotate(-90 173.9 896)">WT</text><text x="432.8" y="894" font-size="8.6" text-anchor="middle" font-weight="bold" transform="rotate(-90 432.8 894)">KO</text><text x="187.5" y="858" font-size="8.6" text-anchor="middle" transform="rotate(-90 187.5 858)">CTRL</text><text x="444.4" y="858" font-size="8.6" text-anchor="middle" transform="rotate(-90 444.4 858)">CTRL</text><text x="187.5" y="934.6" font-size="8.6" text-anchor="middle" transform="rotate(-90 187.5 934.6)">+10 nM H<tspan font-size="6.4">2</tspan>O<tspan font-size="6.4">2</tspan></text><text x="444.4" y="935.4" font-size="8.6" text-anchor="middle" transform="rotate(-90 444.4 935.4)">+100 pM Se</text><rect x="190.3" y="820.2" width="76.1" height="73.8" fill="#020702"/><clipPath id="o1"><rect x="269.6" y="820.2" width="75.3" height="73.8"/></clipPath><rect x="269.6" y="820.2" width="75.3" height="73.8" fill="#070101"/><g clip-path="url(#o1)" filter="url(#bl1)"><g fill="none" stroke-linecap="round"><path d="M275.2 889.7l2.4 1.2M302.5 849l-1.5 0.7M310.4 824.4l0.1 0.9M322 822.5l-2.2 1.4M318.2 827.3l-2.2 1.6M326.2 836.9l-1.2 1.2" stroke="#3a0a0a" stroke-width="3" opacity="0.9"/><path d="M293.4 844.9l-2.1 2.5M301 842.5l-0.9 0.6M291.9 831.4l1.9 1.5M274.6 836.2l-1.4 3.1M284.7 850.9l0.6 1.4M326.1 854.4l-2.5 2.2M340.6 826.5l-2.4 1.8" stroke="#5a1212" stroke-width="2.3" opacity="0.6"/><path d="M299.4 849.4l-1.2 1.5M313.3 873.7l0.8 2.4M313.6 855.9l-0.6 0.7M307.1 825l1.1 2.3M277.1 887.3l-1.1 0.9M324.4 825.3l2.3 0.5" stroke="#3a0a0a" stroke-width="2.3" opacity="0.6"/><path d="M273.4 836.3l-1.4 1.8M298.5 825.9l-0.8 1.7M293.6 865.5l0.9 0.9M273.3 871.3l1.1 1.2M273.5 867.4l-0.4 0.9M312.3 846.4l-2.1 0.2" stroke="#4a0d0d" stroke-width="3" opacity="0.9"/><path d="M314.8 878l0 1M318.7 883.2l1.1 0.7M303.3 821.1l-1.9 1.9M307 877.7l0.9 0.8M275.1 860.1l-1.5 1M326.8 852.2l-0.7 1.7M304.1 867.4l1.8 0.2M286.8 845.3l-2 1.5" stroke="#2c0707" stroke-width="2.3" opacity="0.6"/><path d="M279.2 835.8l-0.4 2M322.9 861.3l-0.4 0.8M291.2 883.7l-0.7 0.5M340.2 848.7l-0.9 2.2" stroke="#4a0d0d" stroke-width="2.3" opacity="0.6"/><path d="M295.2 859.2l-1.8 0.3M284.1 834.4l-1.7 2.8M291.6 879.4l1.7 2.2M277.8 865.5l0.7 0.3M319.3 823.4l0.7 1.7" stroke="#5a1212" stroke-width="3" opacity="0.9"/><path d="M290.7 891.5l-2 2.7M294.5 837l-0.3 1.7M275.2 821.2l0.2 1.1" stroke="#2c0707" stroke-width="3" opacity="0.9"/></g></g><clipPath id="o2"><rect x="348.5" y="820.2" width="74.7" height="73.8"/></clipPath><rect x="348.5" y="820.2" width="74.7" height="73.8" fill="#04041c"/><g clip-path="url(#o2)" filter="url(#bl1)"><g fill="none" stroke-linecap="round"><path d="M405 887.1l0.4 1.4M387.5 858.8l-0.6 2.3M368.3 843.8l-2.7 1.1M399.8 884.8l-2.2 0.7M403.4 892.3l2.8 0.3M353.1 888.1l-0.1 2.3M400.6 885.7l-0.1 2.9M386.9 863.7l-1.1 2.7M414.8 847.5l-0.8 1.2M362.1 884.9l0 1M366.4 867.1l0.7 1.9M369.5 886.2l-1.3 0.3M371.9 848.5l0.1 1.5M388.1 893.2l-2.5 1.3M400.2 864.4l2 2.4M423 828.6l-1.8 1.3M379.5 859.4l2.3 1.7M392.6 858.2l1.5 1M397.4 880l0.7 1.7M417.1 876.7l1.9 1.1M359.2 883.3l-1.7 0.2M353.6 827.5l-2.4 0.3M422.3 889.9l0.8 0.8M415.4 832.2l-1.2 2.3M416 849l1.2 1.6M362.1 841.3l-0.8 1.7M371.4 834.2l0.4 0.9" stroke="#301250" stroke-width="2.3" opacity="0.7"/><path d="M372.3 862.5l0.7 2.7M399.2 835.2l0.4 2M396.7 833.1l-1.2 1M376.2 864.6l0 0.9M351.9 861.5l1.4 2.6M400.8 857.6l-0.2 2.6M364.1 852.7l-1 0.9M380.3 862.6l0 2.4M409 871.5l-2.1 0.4M400.8 868.9l1.1 0.4M350.6 834.1l-1.6 0.3M409.5 880.7l0.2 1.3M375.1 865.3l-1.1 0.7M374 870.3l1.2 0.8M351.1 828.3l-1.5 1.5M404.6 891.4l-1.7 2.4M408 838.8l-2.3 0.3M361.5 872l0.6 1.3" stroke="#0e0e4c" stroke-width="2.3" opacity="0.7"/><path d="M379.2 840.9l-2 1.3M397.4 863.8l1.4 0.2M397.6 834.7l0.5 1.5M400.5 882l1 2.4M402.6 830.1l-2.9 0.9M395.8 831.4l0.4 1.6M411 867.5l0 1.2M363.9 877.3l1.1 1M384.2 892.9l0.3 1.9M369.8 881.6l-2.3 0.6M395.1 880.5l-1.2 0.8M418.2 848.3l-2.5 0.4M391.4 820.1l1 0.5M420.2 868l-1.3 0.2M403.7 880.5l-1.4 0.3M396.8 867.2l-1.2 2.5" stroke="#0e0e4c" stroke-width="3" opacity="0.9"/><path d="M419.4 865.4l1.4 0.4M403.1 837.4l-0.9 2.1M388.3 870.5l1.6 1.6M372.1 853.5l-0.4 0.7M365.6 869.9l0.1 1.4M416 859.7l1.3 2.8M366.7 858.9l-1.3 1.7M379.7 887l1.7 0.1M358.3 840.7l-0.9 0.1M388.5 844.3l-1.9 1.1M372.6 858.4l-3 1M399.6 867.8l2.9 0.4M401.8 846.8l-0.3 1.9M408.8 869.5l-1.8 2.1M356 878.8l-0.7 0.6M359.8 860.4l1.2 2.8M400.8 863.7l-2.7 0.3M411.9 881.3l1.6 0.7M402.3 851.4l0.7 1.6M354.3 888.7l-1.2 0.3M409.7 875.4l0.9 2.4" stroke="#18186e" stroke-width="2.3" opacity="0.7"/><path d="M362 866.8l1.1 3.1M358.8 839.8l2.6 1.7M356.7 822.4l-0.4 1.4M403.1 854.7l-0.1 3M417.9 826.2l1.5 2.4M375.3 874.4l1.7 0.1M353.8 883.1l-1.9 0.3M353.8 851.1l1.7 0M375.6 881.4l0.1 1.3M420.7 838.1l0 1.7M398 865.6l-1 0.4M415.8 887l-0.9 2.1M397.9 833.8l0.3 2.3M367.7 858l0.8 0.3M417.8 870.7l-1.1 0.8M386.2 879.3l1.6 1.2M383 841.4l0.7 2.4M418 821.9l-0.5 2.1M390.8 888.6l3.1 0.3M360.2 838.4l-1.2 2.8M410.4 864.3l0.5 1.3M401.3 883.9l-1 2.6M361.1 867.1l-0.8 1.3M407.3 840.8l0.9 2.4M357.4 851.1l2.6 2.2M398.4 854.1l-0.9 1.5M361 862.5l-2.4 1.3M387.5 828l-0.4 3.2M373.5 825.3l1.4 2" stroke="#301250" stroke-width="3" opacity="0.9"/><path d="M394.1 842l3.1 1.4M376.1 832.4l-2.8 0.4M398.8 854.1l2.3 0.1M397.1 841.6l0.8 0.3M418.3 881.5l2.2 1.8M370.3 853l0.4 2.2M372.4 848.9l-1.3 2.4M388.6 828.4l-2.1 2.1M373.8 861l2.7 1M411.7 872.5l1.1 0.2M411.2 841.6l-1.1 1.3M377.7 820.3l-2.7 0.9M419.6 870.2l1.1 2.1M356.2 845.9l-0.6 0.6M413.5 889.3l-2.8 0.4M401.6 841.6l-1.4 0.1M398.1 853.3l-0.4 2.1M419.7 841.8l-1 1.5M402.2 821.6l1 0.8M400.7 823.6l-3.2 0.6M355.4 842.1l-0.4 1.2M397.7 877l1.9 1.1" stroke="#18186e" stroke-width="3" opacity="0.9"/><path d="M363 835.2l-2.6 2.1M391 830.6l0 1M359.2 867.2l1.7 1.1M416.4 834.4l-0.6 2.8M350.8 891.6l2.6 1M380.6 844.1l-0.3 2.1M413.8 865.6l0 3.2M384.6 830.3l1.4 1.2M418.2 873l-1 0.2M362 870l-2.2 0.3M375.3 889.3l-1.3 1M414.2 878l-2 2.1M356.5 820.7l-1.5 0.4M396.5 878.7l1.3 1.9M375.5 852l-1.1 1.1M418 862.9l-1.4 0.3M398 878l0.9 0.8M361.1 862.9l-0.2 2.5M397.4 852.2l0 1.3M387.1 870.9l-1.2 1.7M387.4 851.8l-1.6 0.6M367.1 860.9l-2.6 1.9M376.6 870.3l2.4 1.7M366.3 839.9l-1.1 1.4M372.1 832.5l1.2 3M386.3 841.9l1.5 2.5M360.4 822.5l-2 2.3" stroke="#1c1c80" stroke-width="2.3" opacity="0.7"/><path d="M354.5 876.4l1.4 1.3M407 890.4l1.1 0.5M361 837.6l0.4 2.3M362.8 886l2.1 2.3M362.3 890.5l0.1 3M362.4 822.7l1.4 2.8M355.7 850.6l1.2 2.2M379.1 839.8l0.5 1.5M373.8 823.7l1 2.8M423.4 856.8l-2.3 1.8M364.8 867.2l0.2 2.4M369.1 845l-1 0.8M416.4 859.8l1.4 1.6M360.7 847.7l1.7 1.4M396.2 868.5l1 1.1M369.8 850.2l1.2 0.2M393.5 833.2l-0.8 0.5M366.8 848.9l1.7 2.8M352 855.6l-0.6 2.3M389.2 839l3.2 0.1M352.1 870l-1.1 2.1M409.4 854.4l-1.3 0.1" stroke="#12125c" stroke-width="2.3" opacity="0.7"/><path d="M394.6 871.7l2.4 1.8M373.5 823.9l-2.3 0.4M396.6 868.7l1.1 0.7M390.6 854.3l-0.2 0.9M416.9 844.2l2.5 0M406.3 876.2l-0.6 1.6M354.9 893.3l-0.5 0.8M396 835.8l1.5 2M406.7 882.8l-1.1 2.3M347.3 871.6l2.4 0.9M386.5 849.8l-2.1 2.3M412.6 883.1l-0.4 0.7M382.4 853.4l0.7 0.5M365.6 868.3l-1.8 1.6M379.2 846.5l-0.6 1.1M357.3 862l1.8 1.7M359.2 831.4l0 1.5M369.7 881.9l-1.3 1.3M400.7 834.2l-2.6 1.7M381 851.9l-1.9 0.9M383.9 833.2l-2.4 2.2M369.4 887.7l-1.3 1.1M382.9 825.3l1.5 1.6M389 887.7l0.3 1.7" stroke="#12125c" stroke-width="3" opacity="0.9"/><path d="M380.7 869.7l0.4 0.9M416.9 852.1l2.7 0.9M362.9 843.4l0.3 0.8M367.9 824.4l-0.7 2.6M383.9 838.8l2.7 1.9M378.1 832.3l-1.3 2.7M354.9 832.4l2 0.3M414.6 836l-1.3 0.2M385.1 888.5l0 2.1M383.1 875.7l-1.3 1.7M402.6 871.9l2 1.8M355.7 858l0 2.3M395.4 837.6l-2.5 0.1M356.5 835.1l1.7 1.4M417.3 840l-1.2 1.7M370.1 854.9l-0.5 0.9M379 859.7l1.4 1.1M353.9 865.4l1.1 2.9M404.9 889l2.6 1.1M394.1 834.6l-1.4 1.3M413.1 859l2.7 1.3M385.7 862.6l-0.4 2.5M374.6 893.9l1.7 0.1M383.4 835.7l-0.1 2.2" stroke="#1c1c80" stroke-width="3" opacity="0.9"/></g></g><clipPath id="o3"><rect x="190.3" y="896.8" width="76.1" height="76.2"/></clipPath><rect x="190.3" y="896.8" width="76.1" height="76.2" fill="#020802"/><g clip-path="url(#o3)"><path d="M226.1 973L232.2 944L249.7 912L266.4 896.8L266.4 973Z" fill="#0b2c0c" filter="url(#bl3)"/><g filter="url(#bl0)"><ellipse cx="245.1" cy="917.4" rx="2.6" ry="1.7" fill="#35d045"/><ellipse cx="257.3" cy="905.9" rx="2.2" ry="1.5" fill="#35d045"/><ellipse cx="228.4" cy="957.8" rx="2.0" ry="2.0" fill="#35d045"/><ellipse cx="251.2" cy="912" rx="1.6" ry="1.2" fill="#35d045"/><ellipse cx="261.1" cy="899.1" rx="1.6" ry="1.2" fill="#35d045"/><ellipse cx="232.2" cy="970.7" rx="1.3" ry="2.2" fill="#35d045"/><ellipse cx="240.5" cy="921.9" rx="1.2" ry="1.0" fill="#35d045"/></g></g><clipPath id="o4"><rect x="269.6" y="896.8" width="75.3" height="76.2"/></clipPath><rect x="269.6" y="896.8" width="75.3" height="76.2" fill="#070101"/><g clip-path="url(#o4)"><ellipse cx="338.9" cy="938.7" rx="12" ry="34" fill="#3c0a0c" opacity="0.8" filter="url(#bl3)"/><g filter="url(#bl1)"><g fill="none" stroke-linecap="round"><path d="M301.5 937.8l-1.5 3M289.6 926.5l2.1 2" stroke="#b01c20" stroke-width="2.3" opacity="0.7"/><path d="M316.1 936.1l-1 0.7M321.9 920.6l-1.2 1.3M299.9 917l1.4 0.8M313.9 931.2l-0.4 2.6" stroke="#5a1010" stroke-width="3" opacity="0.9"/><path d="M313.6 933.9l-1 0.9M290.2 919.5l-1.7 0.7M320.4 932.5l-0.3 1.9" stroke="#801418" stroke-width="2.3" opacity="0.7"/><path d="M280.7 965.7l3 1.5M289 940l0.7 1.1M306.2 914.5l-0.5 2.6M344.6 948.9l-2.8 0.9" stroke="#401010" stroke-width="3" opacity="0.9"/><path d="M281.8 952.4l0.6 0.7M319.5 942.1l-2.2 1.4M302.6 921.9l2.7 1.7M297.2 929l-0.6 2.4" stroke="#b01c20" stroke-width="3" opacity="0.9"/><path d="M313.2 953.4l2.1 0.1" stroke="#d02830" stroke-width="3" opacity="0.9"/><path d="M294.7 912.6l1.7 1.7M325.3 914.2l-2.5 1.4" stroke="#d02830" stroke-width="2.3" opacity="0.7"/><path d="M304 928.7l1.5 0.7" stroke="#5a1010" stroke-width="2.3" opacity="0.7"/><path d="M309.6 945.9l-2.5 2.2" stroke="#401010" stroke-width="2.3" opacity="0.7"/></g><g fill="none" stroke-linecap="round"><path d="M341.4 917.8l-0.5 2M329.5 929.1l0.9 0.1M327.5 914.2l3 0.7M327.8 913.2l1.2 1.3M343.4 961.4l0.5 2.7M337.7 935.8l1.3 1.6M343.8 937l-2.7 0.6" stroke="#601418" stroke-width="3" opacity="0.8"/><path d="M333.7 963l-2.9 0.5M327.7 961.9l0.7 1.8M342.3 967.2l-1.1 0.3M324.7 949.6l1.7 0.9M339.7 942.7l0.6 0.8M330 912.7l-2.3 0" stroke="#801c20" stroke-width="2.3" opacity="0.5"/><path d="M339.9 936.5l1 1.7M324 910.1l2 2.2M327 940.6l2.4 0.1M343 955.3l1 0M329.7 947.7l2.4 2.4M337 898l0.6 2M326.8 968.2l-2 0.3" stroke="#501010" stroke-width="3" opacity="0.8"/><path d="M326.2 938.7l-0.8 0.2M327.3 912.8l-0.2 3M327.1 910l-1.7 2.3M337.2 954.4l0.2 3M327.6 898.7l2.5 0.4M336.3 925.8l-0.4 1.7" stroke="#801c20" stroke-width="3" opacity="0.8"/><path d="M341.2 900.2l2.8 1.5M331 950.8l1.7 2.1M336.5 968l-1.1 0.6M329.1 941.3l1.1 0.9M328 908.1l-0.9 0.1" stroke="#501010" stroke-width="2.3" opacity="0.5"/><path d="M329.6 926.1l-1.2 1.2M335.6 950.1l-1.8 0.7M332.4 925.2l0.9 2.6" stroke="#601418" stroke-width="2.3" opacity="0.5"/></g></g></g><clipPath id="o5"><rect x="348.5" y="896.8" width="74.7" height="76.2"/></clipPath><rect x="348.5" y="896.8" width="74.7" height="76.2" fill="#080828"/><g clip-path="url(#o5)"><path d="M383.6 973L389.6 944L406.8 912L423.2 896.8L423.2 973Z" fill="#2030a0" opacity="0.9" filter="url(#bl3)"/><ellipse cx="418" cy="934.9" rx="10" ry="30" fill="#5a1a58" opacity="0.6" filter="url(#bl3)"/><g filter="url(#bl1)"><g fill="none" stroke-linecap="round"><path d="M392.5 925.7l-0.8 1.3M407.4 922.4l-1.2 0.3M398.5 900.7l-2.6 0.7M379.7 915.4l-0.6 1M367.9 927.3l2.9 1.3M381.1 971.4l-1.4 1.7M373.5 944.7l-0.3 1.1M350.6 916.5l-1.1 0.7M360.8 944.7l-1.2 0.8M379.6 965.4l1.9 2.1M389 961l0 0.9M389.5 951.3l1.2 2.8M350.4 912.7l-1 3.1M373.3 899.3l1 0.7M365.3 919.7l-2 2M372.9 910.1l-1 0.8M359 905.2l-2.2 0.7M398.6 960.6l-0.2 0.8M364.5 954.7l0.9 2.7M401 959.2l0.2 1.7M390.3 916.2l-1.3 1.2M400 952.3l0.1 1.6M383.5 912.2l-2.1 2.1M361.3 939.5l2 1.3M348.8 904.8l0.3 2.1M368.2 970.9l0 2.2M355.6 953.1l-1.1 0.1M366.1 933.1l0.3 1.2M353.9 952.8l0.1 0.8M358.1 949.2l1.1 1.9M401.6 916.3l1.8 0.8M377.1 916.5l0.9 0" stroke="#1c1c80" stroke-width="3" opacity="0.9"/><path d="M371.1 912.6l1.4 0.2M396.4 902.9l-2.6 1M398.9 970.6l2.7 1.2M386.6 907.5l1.7 1.3M372 939.7l-0.9 1.7M391.1 908.2l-0.3 0.8M402 941.4l-2 0.3M357.4 940.9l0.1 1.2M354.2 903l0.8 1.1M352.9 900.4l-0.7 0.5M383.8 900.8l0.6 2.9M406.2 900.7l3.2 0.9M370.3 969.5l2.8 0.7M385 922.5l2.2 0.7M393.2 938.2l-0.2 0.9M369.2 897.2l1.6 1.4M374.3 960.2l-0.9 2.2M394 911.7l1.6 2.4M363.2 939.4l1.9 0.1M383 914.5l-1.4 2.1M387.7 950l0.5 1M350.3 901.4l2 1.8M400.7 910.8l-2.9 1.2M379.3 924.5l0 2.1M359.5 945.9l0.4 2.7M408 931.8l-0.5 0.9M403.3 950.1l2.5 0.7M367.2 927.8l1.7 0.8M357.1 955.5l-1.4 1.9M379.1 950.7l0.6 1.4" stroke="#16166a" stroke-width="2.3" opacity="0.7"/><path d="M371.2 916l-1.9 0.1M402.2 971.9l0.8 0.6M405.7 961l-1.2 0.1M398.1 914.5l-0.5 1.8M372.6 912.7l1.6 2.6M396.1 933.5l-1.4 1.4M407.1 926.1l0.1 1M404.1 931.1l-0.4 1.1M357.4 947.3l1.5 0.2M353.1 936.7l0.2 2.1M400 913l-0.7 2.7M387.2 959l-0.8 0.8M396.3 969.7l-0.9 1M360 934.2l-1.1 1.8M365.5 899.1l1.4 2.2M372.3 950.7l1 1.5M403.2 966.4l0.8 3M363.3 953.5l-1.5 0M363.5 928.9l-0.8 0.7" stroke="#1c1c80" stroke-width="2.3" opacity="0.7"/><path d="M388.1 916.5l-2 2.1M367.4 937.2l0.8 0.9M377 941.3l-0.6 1.4M366.6 917.2l-0.5 0.8M403.7 942.9l-1.5 0.7M395.4 965.3l1 0.2M351.9 960.9l-0.9 0.7M350 906l-2.5 1.6M356.2 960.2l2.1 0.6M399.7 949.1l-1.4 1.8M354.1 949l2.9 0.5M350.9 944l-1.9 0.6M391.9 931.2l0.2 2.7M405.3 897.9l-2.9 1.3M396.1 966.4l-1.6 1.1M389.3 899l0.1 2.5M350.7 957.3l-0.5 3M391.6 926.1l-2.3 2.4M380 964.7l-2.8 1.6M364.4 909.8l-1.4 0.6M350.2 929.9l-0.3 1.3M350.2 919.5l1.4 1.6M395.6 928.8l1.1 1.1M403.6 907.7l0.8 0.6M384.4 968.2l1.2 1.7" stroke="#12125a" stroke-width="2.3" opacity="0.7"/><path d="M377.9 921.1l1.1 1.2M375.5 922.1l1 2.7M367.1 901.4l0.7 0.8M398.7 899.6l0.2 1.3M377.2 936.2l-1.7 1.3M408 915.5l0.4 1.5M359.4 917.6l0.8 0.4M364 919.2l-2.3 1.7M383.7 954.7l2.7 1.6M356.3 937.9l-0.1 3.3M367.5 921.9l-0.9 3.2M383.9 929.9l2.9 1.5M379 913.6l-1.5 2.6M395.4 945l3.2 0.2M382.3 951.3l-1 0.5M388.6 949.2l-0.6 1.5M356.4 918.7l-0.5 1.7M350.2 912.9l0.7 1.9M397.5 934.6l-0.6 1.2M396.6 945.6l0.8 0.8M358.2 960.5l-0.7 1.4M367.8 959.4l0.9 0.2" stroke="#222294" stroke-width="2.3" opacity="0.7"/><path d="M348.3 896.7l0.5 2.4M400.1 947.6l-3.1 0.2M392.3 934.5l2.2 0.6M387.5 918.9l-1.5 2.5M354.3 963.6l1.7 2.1M359.6 904.7l2.8 0.2M379.6 906.7l-0.8 1.5M364.8 905.6l1.1 0.2M405.7 909.7l-0.2 1.4M367.5 959.2l1.6 0.5M365.4 932.3l-1.7 0.8M362.8 948.6l0.1 1.7M375.7 925.8l-1.8 2.4M396.4 952.2l-2.9 0M382.1 909.6l1 1.4M356.2 920.7l-0.7 0.9M380.1 964.3l0.9 1.3M377.4 928l-1.3 1.5M388 951.9l-2.2 1.7M354.4 940.2l-1.7 0.7M402.5 934.3l1.5 0.4M358.5 927.7l0.5 0.8M394 901.9l-2.6 2M370.1 967.5l-0.4 1M358.5 915.2l1.7 1.7M395.4 943.4l1.1 0.4M353.2 964.5l1.7 2.1M369.4 941.9l-3.1 1M352.3 918.7l-1 1.2M348.7 936.7l2.3 0.9" stroke="#12125a" stroke-width="3" opacity="0.9"/><path d="M373.5 922.5l-1 0.2M390.7 964.2l-1.1 0.2M367.4 904.2l-1.4 0.2M370.5 919.6l-1.3 0.3M349.7 948.2l-2 1M353.3 919.4l1 2.5M357.9 949.6l-1.4 1M374.7 969.3l0 0.9M382.2 898.2l0.5 1.4M374.4 928.6l2.5 1.1M382.2 947.6l-2.1 0.2M363.4 959.4l1 1.5M366.2 937.8l0.6 0.7M408.3 948.2l-1.1 0.2M358.6 927.4l-0.8 0.5M376.9 960.6l-1.5 2M376 915.2l-0.4 1.2M380.6 905.6l1.1 3.1M368.9 944l1.8 1.1M392 955.7l0.2 0.9M364.9 959.1l2.6 0.8M352.1 913.9l-0.5 0.6M366.4 916.4l1.1 2.6" stroke="#16166a" stroke-width="3" opacity="0.9"/><path d="M352.6 965.8l1.4 0.8M394.2 937.6l2.6 0M369.3 945.7l1.1 2.8M361.5 939.3l-2.2 2M375.7 943.5l1.1 0.2M371.2 972.1l2.1 1.7M376.5 949.3l2.4 2M365.3 937.7l1.5 0.3M374.3 933.8l0 1.2" stroke="#222294" stroke-width="3" opacity="0.9"/></g><g fill="none" stroke-linecap="round"><path d="M404.2 952.2l-0.7 1.5M374.6 931l2.1 0.5M372.9 944.8l2.7 0.3" stroke="#c02060" stroke-width="2.3" opacity="0.7"/><path d="M394.3 926.6l0.2 1M388.7 910.6l-1.5 2.1M391.1 922.6l1.6 0.8" stroke="#d03070" stroke-width="2.3" opacity="0.7"/><path d="M369.6 945.2l-0.5 3.1M373.2 943l-0.4 1.3" stroke="#a01c50" stroke-width="3" opacity="0.9"/><path d="M390.5 936.8l0.1 1.2" stroke="#b02890" stroke-width="2.3" opacity="0.7"/><path d="M391.7 938l-1.1 1.2" stroke="#b02890" stroke-width="3" opacity="0.9"/><path d="M406.9 915.6l-0.2 1.7M376.2 932l-1 0.5M388.8 956.8l-1.4 1.8M406.7 937.4l-0.5 3.3M384.7 937.8l1.9 1.7" stroke="#d03070" stroke-width="3" opacity="0.9"/><path d="M390.2 946.2l-1.9 2.2M374.4 936.9l0.7 0.7" stroke="#a01c50" stroke-width="2.3" opacity="0.7"/><path d="M385.3 937l-2.1 0.7" stroke="#c02060" stroke-width="3" opacity="0.9"/></g></g><g filter="url(#bl0)"><ellipse cx="402.3" cy="917.4" rx="2.6" ry="1.7" fill="#35d060"/><ellipse cx="414.2" cy="905.9" rx="2.2" ry="1.5" fill="#35d060"/><ellipse cx="385.9" cy="957.8" rx="2.0" ry="2.0" fill="#35d060"/><ellipse cx="408.3" cy="912" rx="1.6" ry="1.2" fill="#35d060"/><ellipse cx="418" cy="899.1" rx="1.6" ry="1.2" fill="#35d060"/><ellipse cx="389.6" cy="970.7" rx="1.3" ry="2.2" fill="#35d060"/><ellipse cx="397.8" cy="921.9" rx="1.2" ry="1.0" fill="#35d060"/></g></g><clipPath id="o6"><rect x="446.4" y="820.2" width="75" height="73.8"/></clipPath><rect x="446.4" y="820.2" width="75" height="73.8" fill="url(#gko1)"/><g clip-path="url(#o6)"><path d="M444.4 864.5Q480.1 844.6 523.4 821.7L523.4 818.2L444.4 818.2Z" fill="#174818" opacity="1" filter="url(#bl0)"/><path d="M444.4 864.5Q480.1 844.6 523.4 821.7" fill="none" stroke="#3ad046" stroke-width="2.4" stroke-linecap="round" filter="url(#bl0)"/><g filter="url(#bl0)"><ellipse cx="466.6" cy="858.6" rx="3.4" ry="3.0" fill="#45dc55"/><ellipse cx="476.4" cy="851.2" rx="3.2" ry="2.6" fill="#45dc55"/><ellipse cx="485.4" cy="843.1" rx="2.8" ry="2.2" fill="#45dc55"/><ellipse cx="497.4" cy="832.7" rx="3.0" ry="2.0" fill="#45dc55"/><ellipse cx="506.4" cy="827.6" rx="2.4" ry="1.6" fill="#45dc55"/><ellipse cx="457.6" cy="864.5" rx="1.8" ry="1.5" fill="#45dc55"/><ellipse cx="491.4" cy="838.7" rx="1.8" ry="1.4" fill="#45dc55"/></g></g><clipPath id="o7"><rect x="525.3" y="820.2" width="75" height="73.8"/></clipPath><rect x="525.3" y="820.2" width="75" height="73.8" fill="#0c0101"/><g clip-path="url(#o7)"><path d="M523.3 864.5Q559 844.6 602.3 821.7L602.3 818.2L523.3 818.2Z" fill="#4c1010" opacity="0.9" filter="url(#bl0)"/><g filter="url(#bl1)"><g fill="none" stroke-linecap="round"><path d="M589.6 856.7l-3 0.5M560.8 852.2l-0.5 1M551.6 875.1l0.1 0.9M537.5 885.5l-1.2 1.5M543 869.4l1.6 2.2M546.9 858.8l0.2 0.9M552.5 866.5l1.2 0.4M595.3 829.4l-2.2 0.4M594.9 854.5l2.6 0.2M568.8 868.3l-1.3 0.5M582.4 844.3l-1.3 2.3M595.3 854.7l2.2 1.8M556.3 868l-0.4 2.5M528.7 874l2.7 0.3M589 862l-0.6 2.5M540 869.6l-0.5 1.3M581.5 865.9l1.2 0.3M537.8 864.9l-0.2 2.2M569.8 849.3l0.1 1.4M573.5 878.9l1.6 1.2M571.7 889.9l-0.2 2.2M587.9 867.6l-1.9 0.2M525.8 892.3l1.2 0.4M550.7 859.9l1.1 0.5M561.4 858.4l-0.7 1.8M567.7 860.1l-0.9 0.5M588.7 875.5l0.2 1.1M559.9 878l-3.3 0.4M575.8 846.3l-2.1 0.1M597.2 889.5l-1.6 1M559.8 859l2.8 0.7M573.5 856.5l-2.4 1.8" stroke="#80181c" stroke-width="3" opacity="0.8"/><path d="M551.3 870.8l-1.4 1.2M543.1 891.4l-0.1 2.9M546.5 855.6l0.1 2.5M562.9 858.4l-0.8 1.5M570.8 890.4l1.2 1.5M525.7 889.7l0.7 3.2M589.1 832.7l-0.5 1.4M535.2 876.5l-2.6 1.6M546.4 857.1l0.5 1.8M556.2 866.3l-0.9 2.1M559.6 848.5l0.1 1M572.8 843.5l0.6 2.9M558.4 878.2l-0.8 0.7M597.7 857.8l-2.3 1.4M554.4 885l2.3 2.4M558.7 883.7l2.5 0.9M528.7 885.7l3.3 0.5M587.5 849.1l-0.7 0.7M560.1 845.3l0.8 1.1M577.1 892.2l-1.7 1.8M540.2 857.9l-1.9 1M585 836l-2.1 0.7M577.2 858.7l-0.9 0.7M547.4 873.7l-1.9 1.5" stroke="#6a1414" stroke-width="2.3" opacity="0.5"/><path d="M568.2 879.7l0.3 1.3M557.5 871.9l1.8 0.9M594.2 858.2l-1.4 1.4M578.4 854.9l1.3 0.4M600.5 838l-2.5 1.9M597.7 884.5l1.7 0.5M567.5 854l-0.3 1.9M585.2 851.2l2.5 1M579 848l-0.3 2.5M550 865.9l0.7 1M568.5 849.1l3.4 0.5M594.2 870.9l1 2.8M580.2 872.7l1 1.1M544 857l0.7 0.7M582.8 893.3l0.4 1.2M525.1 892.6l1.3 1.2M579.3 856.8l-1.1 1.3M566.9 869.5l0.8 0.3M552.6 882.8l1.8 1.1M577.2 844.7l-2.5 0.5M549.8 865.9l-1.4 1.7M563 850.4l1.4 1.6M586.8 852.3l-1.1 0.9M577.9 892.8l1.5 1.6M593.5 883.1l-0.9 1.8M539.2 860l-2.8 1.7" stroke="#b8282c" stroke-width="2.3" opacity="0.5"/><path d="M561.1 853.6l-1 1.1M592.7 827.6l-1.7 2.1M583.7 844.2l-1.5 0.1M538.3 857.2l3.3 0.7M540.2 889.6l-1.6 1.3M570.2 887.2l-0.7 1.8M583.9 835.3l0.7 0.6M596.5 855.7l1.5 0.6M558.4 891l1.1 2.5M576.3 876.7l0.7 2.1M530.1 892.2l-3.1 1M533.4 878.6l0.1 2.2M552.2 874.7l0.6 1.8M576.5 871.3l-1.7 0.1M587.3 871.2l-2.3 2.3M594.9 884.1l-1 1.5M532.9 865.7l-1.4 2.7M584.7 876.7l1.3 0M558.8 889.8l-1 0.3M590.2 849.8l2.5 0.4M572.2 851.8l-0.9 1.2M589.7 850.5l-2.6 0.8" stroke="#6a1414" stroke-width="3" opacity="0.8"/><path d="M572.8 844.7l3 1.1M594 856.3l-2.7 1.7M577.8 849.3l0.5 2.1M532.8 886.4l2.7 0.3M548.9 884.1l-2.6 0.6M531.2 889.5l0.9 0.5M569.8 869.1l-1.7 1.2M550.3 853.9l1.3 0.7M587.8 878.7l0.9 0.5M587.8 851.2l0.4 0.8M541.5 886.7l0.2 2.9M529.5 884.5l1.5 0.7M583.6 872.8l2.9 0.6M539.7 873.9l1 0.5M570.5 845.7l0.7 1M550.8 876.6l-2.2 1.4M541.9 887.4l0.9 0.4M588.9 889l2.6 0.4M568.5 875l1.4 2.7M569.4 860.5l-3.3 0.6M592.2 860.4l0.8 0.4M562.7 857.4l0.7 1.2" stroke="#b8282c" stroke-width="3" opacity="0.8"/><path d="M588.7 875.7l-2.5 0.8M572.2 847.7l-0.1 3.1M556.8 884.6l-0.1 1.3M575.9 851.4l-1.3 0.6M590.6 833.4l0.2 1.7M535.4 858.7l3.1 1M543.4 891.7l-1.7 1.4M594.4 837.8l2.7 1.9M568.6 881.5l-3.1 0.7M538.1 867.3l-1 2.7M572.3 890.4l1.1 2.4M590.2 854l-0.1 2.5M585.6 831.7l-1.9 0.4M584.5 870.8l-3.1 1.3M590.2 860.5l-1.4 0.2M541.4 875.1l0.9 1.5M568 849.5l0.4 1.3M583.6 833.3l-0.2 1.5M564.8 855.3l-0.1 1.6" stroke="#c03034" stroke-width="3" opacity="0.8"/><path d="M539.2 892.1l-1.6 0.6M546.5 876.3l1.5 1M591.3 856.6l-0.7 0.7M553.9 862.3l-2.4 1.5M593.4 882.1l1.7 1.3M533.1 873.6l2 0.1M587.3 875.7l1.9 0.8M582.9 855.6l-1.3 3M591.5 861l-0.1 2.8M547.1 873.3l-1.6 0.7M529.9 886.3l-2.2 0.8M574.7 838l-2.6 0.2M579.2 881.2l1.7 0.2M583 832.9l-1.8 0M550.1 857.1l1.2 1.9M562.8 870.4l0.5 1.1M563.5 873.4l2.6 0.1M586.8 847.1l2.5 0.4M577.6 888.9l-0.4 1.1M585.9 884.5l-1.4 0M526.8 886.2l0.8 0.4M562.4 849.9l-0.9 1.2" stroke="#a02024" stroke-width="2.3" opacity="0.5"/><path d="M572.5 889.1l1.4 1.5M563.6 871.8l-0.4 2.2M584.4 891.6l1 0.1M529 876.9l-0.9 1.4M541.4 878.1l-0.3 1M565.4 865.2l1.1 1.6M536 868l1.5 0.2M598 847.5l3.2 0.8M549.8 877.9l0.5 0.8M540.3 856.6l-1.1 2.7M581.4 873.4l0.4 0.8M564.6 845.2l1 1.7M567.1 881.7l0 2.9M581.8 854.8l-1.9 1.3M594.4 859.7l-0.2 1M528.6 891.4l-1.5 1.2M558.9 878.8l-2.1 1.3M532.4 884.7l0.3 2.2M584 892.2l2.7 1.7M530.2 866.1l-0.8 0.4M572.3 877.1l-0.9 0.8M565.1 877.3l0.9 0.3M566.8 875.5l0.2 1.4M544.7 871l3 1.4M569.8 846.9l2.8 0.8M550.1 889.5l1.3 1.2" stroke="#80181c" stroke-width="2.3" opacity="0.5"/><path d="M554.3 890.3l1.6 0M575.5 851l-2.8 0.9M578.5 867.8l-0.5 1.2M575.8 838.9l1.5 1.1M544.9 874.9l-1.7 0.6M591.7 839.5l2.4 0.2M583.1 874.1l-0.8 3.3M579.3 866.3l1.3 1.2M572.1 886.1l-0.8 1.5M592.4 870.8l0.2 2.5M563.6 860.2l-1.2 0.4M586.3 863.4l-1.7 0.9M591.1 834.9l-0.5 3.1M547.9 867.4l2 1M567.3 852.9l0.4 2.4M528 885l2 2M580.9 870l-0.2 1.4M598.5 874.6l-2.6 0.7M586.1 885.5l0.8 0.3M597.1 839.3l3 1.2M579.9 890.2l0.1 0.9M542.2 859.4l1.6 2.9M575.9 846.9l-0.7 0.6M591.9 855.1l-0.6 1.6M555.5 854.5l0.9 0.4" stroke="#c03034" stroke-width="2.3" opacity="0.5"/><path d="M572 885.7l0.4 1.1M527.5 874.3l0.3 2.1M581.8 847.8l2 0.7M546.9 890l-0.5 1.9M564.2 870.7l-1.8 1.2M534.5 885.4l-0.8 0.8M589.9 864.2l0 2.8M551.4 850.8l-1.6 1.3M538.6 877.3l-1.6 0.6M596.5 855l-0.8 2.9M528.2 893l1.4 0.2M562.3 887.2l-1.7 1.6" stroke="#a02024" stroke-width="3" opacity="0.8"/></g></g></g><clipPath id="o8"><rect x="603.5" y="820.2" width="74.6" height="73.8"/></clipPath><rect x="603.5" y="820.2" width="74.6" height="73.8" fill="#0a0620"/><g clip-path="url(#o8)"><path d="M601.5 864.5Q637.1 844.6 680.1 821.7L680.1 818.2L601.5 818.2Z" fill="#2a4670" opacity="0.95" filter="url(#bl0)"/><g filter="url(#bl1)"><g fill="none" stroke-linecap="round"><path d="M606.1 879.8l0.4 3M665.4 876.8l-0.8 1.5M652.6 853.6l2.2 2.6M636.4 866.3l-2 0.6M650.9 845.6l0.9 2.3M661.3 889.7l-0.7 0.5M672.8 824.3l2.8 1.4M661.3 861.6l-1.7 0.9M626.6 858.2l-1.3 2.3M668.2 849.4l3 1.2M616.4 887.1l-3 0.4M666.2 889.2l-1.9 2.4M660.9 859.9l-1.4 2.6M644.8 848.2l0.5 1.2M632.9 874.2l-1.3 1.6M639.6 883.5l-2.9 0.7M665.8 869l0.2 2.4M647.9 868l1.5 2.4M663.7 831l-0.5 2.7M640 848.8l-2.3 1.4M606.9 877.6l-0.7 1.3M645.8 856.7l-1.5 1.6M650.9 849.4l1.4 0.2" stroke="#4a26b0" stroke-width="2.3" opacity="0.6"/><path d="M671.8 874.6l0.3 3.3M638.3 847.2l0.6 1.5M662.4 836l-1 2M653.2 840.3l-1.5 0.5M631.5 870.5l-1.6 0.1M660.4 875.6l-2.5 0.2M633.7 891.2l1.9 0.1M619.6 885.2l0.1 2.2M624.4 885l-0.3 1.3M647.3 884l-1.8 2.2M667.9 848.5l-2.6 1.4M667.1 875.6l-0.1 2.9M658.2 836.3l-1.3 1.7M664.3 832.1l-1.2 2" stroke="#b83470" stroke-width="2.3" opacity="0.6"/><path d="M641.2 891.3l-1.4 0.1M668.6 882.1l0.6 0.5M671.3 848.7l1.5 0.3M662.5 859.7l1 1.2M641.2 890.1l2.3 1.6M674.6 830l-1.2 0.3M651.8 883l-1.5 1.8M655.9 873.5l-1.6 1.7M670.5 873.3l-0.4 1M647 842.1l2.1 2M611 889.8l0.4 2.5M636.5 882.9l-0.6 0.9M676.7 836.1l-0.3 2.1M658.2 852l0.8 1.6M670.9 841.6l1.6 1.4M671 887.4l-0.8 0.6M678.1 852.3l-0.2 1.8M651.1 888.3l0.9 1.1M607.3 888l1 0M664.4 840.1l2.1 0.8" stroke="#b02c8a" stroke-width="3" opacity="0.9"/><path d="M651.6 875.7l1 0.9M645.6 848.8l0.7 1.5M667.9 889.4l1.2 1.5M636.5 877.2l1.3 0.6M639.2 867l-0.6 2.3M659 868.7l-1.2 0.5M625.3 863.4l0.4 1.7M618.6 858.5l-0.2 2.7M663.1 845.8l0.7 3.3M669.2 889.8l1.5 1.2M669.8 885.5l-0.5 3.1M669.9 841.1l0.9 2.2M649.8 888.2l0.7 2M662.1 838.5l-2.2 2M656 863l1 1.8M637.9 847l-0.3 1.4M637.2 856.1l2.6 1.8M609 867.2l0.1 2.5M613.8 877.4l0.9 2.7" stroke="#802098" stroke-width="3" opacity="0.9"/><path d="M656.4 843.7l0.2 2M623 884.7l-2.1 0.1M655.7 889.7l3.2 1.1M670.8 887.4l2.5 1.3M678.7 844.8l-2.9 0.9M655.9 852.2l-2.6 0.5M649.7 844.2l3.1 1.4M673 859.4l2.7 0.5M675.2 892.8l-2 0.6M631.7 882l2.1 2.1M633 859l1.4 0M657.3 869.3l0.3 1.2M677.2 841.3l-0.4 0.8M617.3 873.3l1.4 1.6M638.4 858.3l1.6 2.7M618.5 883.6l0 1.9M625.9 857.5l1.6 1M654.4 854l1.7 0.5M611.7 861.1l-1.3 0.9M669 873.3l-2 0.1M624.2 865.8l1.2 2.5M673.4 866.8l2 1.1" stroke="#3026b8" stroke-width="3" opacity="0.9"/><path d="M665.6 874.7l1.3 2.1M668.7 827.4l1.4 1M656.6 869.1l0.5 1.7M626.4 870.5l-1 1.9M604.5 892.3l2.5 0M641.5 864.6l0.2 2.3M622.8 880.9l1.3 1.7M632.6 889.7l0.8 1.5M606.2 872.6l-2.4 2M661.8 878.9l-1.6 1.7M665 867.9l-1.3 0.4M631.2 885.7l0.8 2.1M624.5 872.4l1 2.7M637.7 848.4l-0.6 2.2M670.1 851.7l-2 0.8M664.8 891.2l1.8 1.4M647.2 850.7l-1.1 1.3M651.3 861.4l-0.4 2.7M660.7 861.4l3.1 0.8M649.9 891.1l-1.4 2.2M637.4 846.4l-2 2.7M638.4 886.3l-1.7 2.9M644.4 847.3l-2.2 0.3" stroke="#802098" stroke-width="2.3" opacity="0.6"/><path d="M673.4 828l2 2.2M654.6 845.4l0.5 2.7M623.5 891.2l1.3 2.7M676.2 892.5l0.4 1.1M676 832.5l-1.5 2.9M613.4 866l0.2 3.3M622.5 879.1l-1.1 1.8M612.5 889.7l-0.3 2.9M671.6 859.9l1.1 1.2M612 880.5l1.7 1.7M633.2 892.9l-1.4 0.9M677 834.1l-1.9 1.5M653.4 860.7l0.2 1.9M670 876.4l-1.4 0.2M605.3 874.8l-1.7 0.2M605.9 892.7l3 0.1M631.8 867.6l0.6 2.6M606.9 870.3l0.7 2.9M624.7 892.4l0.5 1.2M647.7 845.5l1.8 1.6M659.3 855.2l-2 2.2M641.9 848.4l1.7 2.8M639.2 844.8l0.8 1.1" stroke="#3026b8" stroke-width="2.3" opacity="0.6"/><path d="M672.4 863.3l-1.7 2.7M612.3 873.1l-1.2 1M618.4 884.3l-2.2 0.1M628.2 880.7l0.7 2.2M616.7 891.6l0.4 1.7M617.4 865.4l1.1 1.1M670 868.3l1.4 2.4M608.1 880.9l-2.1 1.5M644.4 870.8l-2.8 0.1M624.6 887l-1.9 1.7M656.5 858.1l1.1 2.4M622.8 858l-1 1M660.3 885.9l2.1 1.2M614.1 893.1l1.4 0.5M655.6 879.9l-1 0.3M646.3 863.2l-0.9 0.5" stroke="#982680" stroke-width="3" opacity="0.9"/><path d="M673.4 838.6l-1 2.1M677.4 861.7l0.3 2.9M617 882.4l-1.2 1.4M661.7 857.7l-1.6 1.4M641.9 878.6l-0.7 0.7M639.3 876.4l-1 0.8M637.8 853.2l1.7 0.5M629.6 851.8l0.9 2.1M672.6 834.3l2.4 1.3M666.3 846.2l1.7 0.4M614.9 871.9l-1 0.9M649.9 892.4l-1.4 1M651.2 893.1l-1.4 1.6M621.7 865.1l2.4 1.6" stroke="#b83470" stroke-width="3" opacity="0.9"/><path d="M628.9 890.3l-1.9 0.9M652.2 859.2l0.4 1M613.8 875.8l1.8 0M673.4 834.9l-0.9 0.2M649.9 854.2l0.9 1.8M637.7 862.4l-1.4 0.8M620 878.9l0.6 0.6M667.6 848.3l0.4 1M635.5 861.2l-0.7 2.1M634.9 848.9l2.4 0.2M664.2 868.1l1.7 0.2M655.5 882.8l-1.2 1.8M642.5 851.6l3.1 0.7M669.4 851.7l2.7 0.1M663.6 876.8l-1.5 1.9M670.3 828.5l2.2 1.2M666.1 852.2l2.2 1.7M667.3 870.6l2.6 1.7M647.1 862.3l-1.6 2.6M660.7 850.9l-3.2 0.1M632.5 884.4l1.1 1.8M650.3 860.3l1.5 2.5M670.5 867l1.7 0.8M612.6 892.8l-1.7 0.8M667.4 882.3l-1.2 1.1M651 862l1.5 0.4" stroke="#b02c8a" stroke-width="2.3" opacity="0.6"/><path d="M619 884.2l0.9 0.1M643.5 862.8l0.7 3.1M662.4 837.2l1.2 1M621.8 887.1l0.4 2.7M632 852.1l1.9 0.7M618.3 876.8l-2.6 1.6M662.6 854.6l-0.9 1.2M615.9 886.1l2.2 0.7M659.9 843.1l2.4 1.1M629.3 886.9l-0.4 1.1" stroke="#982680" stroke-width="2.3" opacity="0.6"/><path d="M628.2 887.2l-1.8 0.3M663.2 873.3l-1.2 0M615.1 887.3l-1.1 1.1M632.9 852.5l-1.9 1.3M658.9 878.3l1.4 2M604 888l2.3 1.9M650.8 874.2l0.4 3.2M675 876l-1 0M664.9 830.9l1 1.3M677.6 869.4l-1.9 1.3M653.3 857.3l0.8 3.2M606.9 883.9l0.3 2.7M677.5 826.1l-0.8 0.5M630.5 858.3l-0.9 2.7M675.3 881.7l3.3 0.1M670 842.3l-0.3 0.9M658.8 839.8l0.8 0.6M612.2 892l2.9 1.2M608.1 885.1l1.1 2.5M672.7 869.1l-1.7 2" stroke="#4a26b0" stroke-width="3" opacity="0.9"/></g></g><path d="M601.5 864.5Q637.1 844.6 680.1 821.7" fill="none" stroke="#3ad05a" stroke-width="2.2" stroke-linecap="round" filter="url(#bl0)"/><g filter="url(#bl0)"><ellipse cx="623.6" cy="858.6" rx="3.4" ry="3.0" fill="#45dc65"/><ellipse cx="633.3" cy="851.2" rx="3.2" ry="2.6" fill="#45dc65"/><ellipse cx="642.3" cy="843.1" rx="2.8" ry="2.2" fill="#45dc65"/><ellipse cx="654.2" cy="832.7" rx="3.0" ry="2.0" fill="#45dc65"/><ellipse cx="663.2" cy="827.6" rx="2.4" ry="1.6" fill="#45dc65"/><ellipse cx="614.7" cy="864.5" rx="1.8" ry="1.5" fill="#45dc65"/><ellipse cx="648.3" cy="838.7" rx="1.8" ry="1.4" fill="#45dc65"/></g></g><clipPath id="o9"><rect x="446.4" y="896.8" width="75" height="76.2"/></clipPath><rect x="446.4" y="896.8" width="75" height="76.2" fill="#0f3010"/><g clip-path="url(#o9)"><ellipse cx="491.4" cy="961.6" rx="30" ry="26" fill="#061606" filter="url(#bl4)"/></g><clipPath id="o10"><rect x="525.3" y="896.8" width="75" height="76.2"/></clipPath><rect x="525.3" y="896.8" width="75" height="76.2" fill="#0a0101"/><g clip-path="url(#o10)" filter="url(#bl1)"><g fill="none" stroke-linecap="round"><path d="M593.1 942.4l-2.2 2.2M597.3 922.4l-1.6 0.4M545.4 946.8l-0.4 1.9M544.9 953.2l-0.9 2.4M557.4 939.5l-0.8 1.6M572.9 965.1l-1.8 0.7M595.4 949.8l0.4 3M589.7 928.8l2 0.2M531.3 957.8l-1 0.6M595.6 928.3l0.5 0.6M596.1 964.4l-1.2 0M543.3 966.6l0.8 0.3" stroke="#a02024" stroke-width="3" opacity="0.8"/><path d="M570.2 931.2l0.7 3M584.7 957.9l0.5 0.8M534.1 958.2l0.4 1.6M555.2 964.6l1.1 2.6M568.3 932.4l1.1 2.4M547 951l2.8 1.1M596.2 968.7l-3 0.7M555.5 953.5l-1 2.4M592.1 970l1.6 2.3M572.7 921.1l-1 1.3M574.2 928l-1.2 1.6M548.9 948.2l-1.9 2.3" stroke="#a02024" stroke-width="2.3" opacity="0.5"/><path d="M531.5 972.7l2.4 0.1M562.7 926.1l2.9 1.3M552.2 931l-0.3 2.6M567.9 922l0.4 2.8M541.8 956.3l-1.8 2.3M548.3 940.4l-0.8 0.6M529.6 968.2l-1.4 0.5M549.6 941.7l2.4 0.1M541.1 962.7l1.7 2.8M572.8 927.1l1.6 0.2M574 969.2l0.4 3M579.1 963.2l-2.7 0.7M557.5 936.9l-0.6 1M542.5 968.5l0.1 0.8" stroke="#b8282c" stroke-width="3" opacity="0.8"/><path d="M553.6 936.9l0.7 1.3M580 954.7l0.7 1.1M528.3 968.7l-0.4 1.7M554.2 946.6l1.9 2.4M558 946.5l-1.4 2.9M565.8 964.2l-1 1M535.5 967l-0.8 1.3M567.7 939.2l0.8 0.2M584.2 928l-2.3 1.9M538.1 959.6l0.1 1M570.6 925.7l2.4 0.7M578.5 919.2l0.7 2.6M595.5 940.3l0.8 0.2M545.1 933.6l-1.1 2.1" stroke="#6a1414" stroke-width="3" opacity="0.8"/><path d="M556.1 935l2.4 1.1M562.6 930.4l0.6 1M548.6 929l1.3 1.1M577.5 965.5l-1.8 0.6M584.1 949.2l0.8 2.4M593.7 919.2l-0.4 2.1M575.3 934.6l0.9 1.9M590 961.9l2.1 2.3" stroke="#b8282c" stroke-width="2.3" opacity="0.5"/><path d="M570.2 957.9l1.4 2M580.4 939.9l0.8 3.2M540 938.5l1.9 2M567.7 928.8l-2.4 0.7M586.3 965.8l1.4 0.1M550.6 940.8l0.3 3.3M580.3 968.1l1.6 1.7M596.8 929l0.2 2.6M591.9 936.8l-1.9 0.2M553.4 930.2l1.2 0.8M584.5 923.1l-2.4 2.3M555.7 948.1l-0.9 2.7M545.6 940.8l-0.7 1.5M537.2 946.7l-1.4 1.9M573.4 972.1l-1.5 0.9M537.6 965.6l0.5 2.8M576.4 924.2l-1.8 2.9M571.7 933.8l-0.4 1.1M598.3 939.3l2.2 1.9M563.2 933.9l0.8 1.3M580.9 962.7l0.7 0.4M569.4 934.4l-1.1 0.1M572.9 960.2l-0.8 1.5" stroke="#80181c" stroke-width="2.3" opacity="0.5"/><path d="M585 968.5l1.5 1M541.4 936.6l0.8 0.8M538.7 967.9l-0.6 0.6M557.1 932.9l-2.4 0.8M568.5 958.2l1 2.4M566.1 929.2l0.3 1M536.5 962.5l2.7 0.7M598.5 957.5l1.1 1.8M543 954.9l0 1.6M574.1 933.4l0.8 0.3M569 954.9l-2.2 0.9M593.6 934l2.4 2.1M593.8 935.8l-2 0.7M532.6 956.5l0.6 0.5M585.6 952l-0.5 2.4M558.9 934.7l-3.1 0.5M600.8 953.8l-1.1 0.8M578 926.9l-2.9 1.1" stroke="#c03034" stroke-width="2.3" opacity="0.5"/><path d="M561.9 946l0.4 2.3M560.1 937.9l1.6 2.4M578.4 926.3l0 0.9M544.7 946.1l1.6 2.5M569.2 955.6l1.9 1.9M600 932.5l-1 1.7M539.9 965.8l-2.2 0.3M545.9 935.1l0.9 0.3M566.6 949l-1.1 1.8" stroke="#6a1414" stroke-width="2.3" opacity="0.5"/><path d="M545 969.3l1.3 2.3M593.5 959.2l2.1 0.1M550.2 948.5l-0.5 3.2M549.1 931.8l0.3 2.6M541 953l0 0.9M579.9 943.6l0 1M576.1 924.7l1.2 2.3M545.3 967.5l-1 0.1M594 955.4l-1.1 2.9M584.5 939.5l0.8 1.7M561.4 943.5l3.2 0.9M587.8 924.4l2.5 0.9M547 953l2.1 2.4M536.3 952.4l-0.6 1.4M567.8 943.1l-1.1 2.8" stroke="#80181c" stroke-width="3" opacity="0.8"/><path d="M544.6 952.4l-0.5 1.1M560.2 927.9l-1.4 0.2M591.5 926.4l-1.3 0.4M583.7 930.9l-0.8 0M557.6 933.5l1.2 2.8M561.4 937.4l-1.6 0.1M593.7 945.6l0.1 2.8M601.4 971.8l-3.2 0.1M539.6 941.6l-1.6 1.2M584.9 928.7l0.8 0.2M557.9 963.7l0 1.6M542.8 948.3l0 1.5M589.1 944.2l-0.9 2.4M533.3 955.7l-0.6 2M585.6 929.7l1.5 2.6" stroke="#c03034" stroke-width="3" opacity="0.8"/></g></g><clipPath id="o11"><rect x="603.5" y="896.8" width="74.6" height="76.2"/></clipPath><rect x="603.5" y="896.8" width="74.6" height="76.2" fill="url(#gko2)"/><g clip-path="url(#o11)"><ellipse cx="657.2" cy="973" rx="48" ry="50" fill="#0a0820" filter="url(#bl3)"/><g filter="url(#bl1)"><g fill="none" stroke-linecap="round"><path d="M657.7 932.2l0.5 0.9M670.8 934l0.8 2.1M662.3 935l1 0.8M656.7 920.8l-1.4 0.8M662 919.9l-0.2 2.7M646.7 931.2l1.1 0.1M639.4 940.3l2.4 0.2M671.5 957.7l0.8 1.4M637.4 938.8l0.1 1.1M659.1 944.1l1.1 1.5M622.1 969.1l1.2 2.3M664.5 918.7l0.5 1.5M635.5 927.2l2.4 0.6" stroke="#882088" stroke-width="2.3" opacity="0.6"/><path d="M629 928l1.2 0.2M610.2 963.3l-1.5 1.7M629.1 950.6l1.5 1.7M652.6 941.6l1.8 0.9M655.5 947.5l-0.2 2.1M654.8 922l1.7 1.7M633.1 936.6l0.8 2.3M650.5 956.3l-0.7 2.3M613.2 950.6l0.8 0.3M634.6 972.2l0.9 0.5" stroke="#a02868" stroke-width="2.3" opacity="0.6"/><path d="M634.9 947.5l1.3 0.6M609.6 967l-0.7 2.7M674.9 940l0.4 3.2M635.5 926.2l-0.3 2M617.2 959.1l-0.7 1.4M660.7 918.2l1.6 0.7M638.6 925.5l1.2 0.5M674.4 969.2l1.8 1.2M675 952.5l0.1 1M641.8 929.2l-0.8 0.4M638.7 931.9l-1.9 0.4" stroke="#882088" stroke-width="3" opacity="0.9"/><path d="M627.7 971l0.6 1.4M663.4 932.1l-2.7 1.1M673 930.1l1.4 2.1M643.8 937.6l0.9 1M660.3 918.8l1.6 1.6M644.5 929.7l2.1 0.2M617.2 963.5l-0.4 2M630 949.9l1 0.4M650.9 928.3l-1.4 2.4M615.9 955.5l-1.2 0.8M615 953.2l0.9 2.6M643.1 937.3l-1.6 2.9M675.2 967.2l-1.4 1.2M676.2 954l0.7 0.9M652.7 934.4l-0.3 2.1" stroke="#a02868" stroke-width="3" opacity="0.9"/><path d="M662.7 932.4l-2.1 2.3M675.7 970.8l-1.7 0.8M609.9 957.6l-0.3 1.7M652 939.9l0.8 1.8M657.7 949.8l0.9 2.9M665.4 928.4l-0.4 1M626.4 937l-1 0.2M626.3 938.2l-2.1 2.3M632 928.3l1.8 1M612.5 959.4l1.3 1.7M666.8 941.4l2.3 1.6M615.5 959.8l0.2 2.6M617.3 956.8l-1.1 1.6M661.2 924l1.7 0.8M628.3 943.3l-1 0.7M622.8 938.3l0.3 1.2M638.4 926.7l-0.7 0.6M633.9 932.2l-3 0.3" stroke="#5a28a0" stroke-width="3" opacity="0.9"/><path d="M649.6 952.7l-0.9 0M618.9 962.9l-0.8 2.1M675.8 936.9l1 3.1M616.9 940.4l-0.2 0.9M615.8 964l1.4 0.6M639.3 967.3l-0.2 3.4M663.7 966.3l1.3 0.3M676 930.3l1.6 1.5M611.3 965.9l-1.1 1.7M645.4 922.7l0.7 0.4M659.6 959l-0.9 0.1M658.7 937.1l-0.9 1.3M616 945.2l-1 1.2" stroke="#c03a64" stroke-width="3" opacity="0.9"/><path d="M634.7 942.5l0.7 1.4M649.9 926.2l0.2 1.8M640 938.6l0.1 1M627.8 945.9l-3.1 0.7M663.4 932l-0.3 2.2M661.2 966.5l1 1.4" stroke="#c03a64" stroke-width="2.3" opacity="0.6"/><path d="M618.9 956.3l0.4 2.4M658.1 939l-1.6 1.3M617.9 968.3l-1.1 0.8M649.7 962.4l0.4 1.5M626.6 963.7l-2.7 1.2M621 957.2l-0.2 2M608.2 959.4l0.2 2.3M647.4 928.9l0 3M640.8 924.6l-2.9 0.3M674.1 936.1l0.1 3.1M678 921.6l-1.1 2.4" stroke="#b83080" stroke-width="2.3" opacity="0.6"/><path d="M673.4 950.6l2.2 2.3M655 926l0.1 1.9M619.2 956.7l2.4 1.2M622.6 931.4l2.6 1.9M667.6 933.7l2.5 0.7M610.2 959l0.3 1.5M645.1 932.7l1.2 0.2M620.7 941.3l1.6 0M639.1 925.5l2.1 1.2M650.9 930.3l1.4 2.3M650.7 968.3l-1.2 1.1M643.5 962.8l-1.3 1.3M669.4 956l1.6 1.8M673.8 935.4l0.9 2.1M659.2 932.1l1.1 2.2" stroke="#b83080" stroke-width="3" opacity="0.9"/><path d="M641.2 958.7l3.2 0.1M658 922.2l0.8 0.1M674.5 937.5l2.2 2.1M630.3 949.1l-1.2 1.5M614.3 962.4l1.3 2.3M639.5 929.1l-2.1 0.4M633.7 931.3l-2 1M642.1 930.7l-2.9 0.2M633.9 939.7l2.5 1.1M623 936.8l-1.1 2.8M652 963.8l0.5 2.7" stroke="#3830b0" stroke-width="2.3" opacity="0.6"/><path d="M659.5 962l1.3 1.3M671.4 929.1l-1.3 0.7M613.9 957.6l-0.8 0.4M662.5 928.8l-0.8 1.2M627.5 949.1l1.1 2.3M665.8 946l0.7 1M660.8 924.4l-2 0.7" stroke="#5a28a0" stroke-width="2.3" opacity="0.6"/><path d="M625.2 943.5l2.5 2.2M615.6 953.5l3 0.9M651.1 959.8l0.9 2.4M669.1 925l0.4 1.5M663.9 935.1l2 0.5M668.2 945.1l2.1 0.8M671.2 969.8l-1.5 1.7M651.6 935.8l-1.4 0M622.9 951l2.2 0.7M627.8 935.2l0.5 1.8" stroke="#3830b0" stroke-width="3" opacity="0.9"/></g></g></g><rect x="243.2" y="888.9" width="19.4" height="1.5" fill="#d0d0d0"/><rect x="243.2" y="966.6" width="19.4" height="1.5" fill="#d0d0d0"/><rect x="321.7" y="888.9" width="19.4" height="1.5" fill="#d0d0d0"/><rect x="321.7" y="966.6" width="19.4" height="1.5" fill="#d0d0d0"/><rect x="400" y="888.9" width="19.4" height="1.5" fill="#d0d0d0"/><rect x="400" y="966.6" width="19.4" height="1.5" fill="#d0d0d0"/><rect x="498.2" y="888.9" width="19.4" height="1.5" fill="#d0d0d0"/><rect x="498.2" y="966.6" width="19.4" height="1.5" fill="#d0d0d0"/><rect x="577.1" y="888.9" width="19.4" height="1.5" fill="#d0d0d0"/><rect x="577.1" y="966.6" width="19.4" height="1.5" fill="#d0d0d0"/><rect x="654.9" y="888.9" width="19.4" height="1.5" fill="#d0d0d0"/><rect x="654.9" y="966.6" width="19.4" height="1.5" fill="#d0d0d0"/></g>

</svg>
</body></html>
